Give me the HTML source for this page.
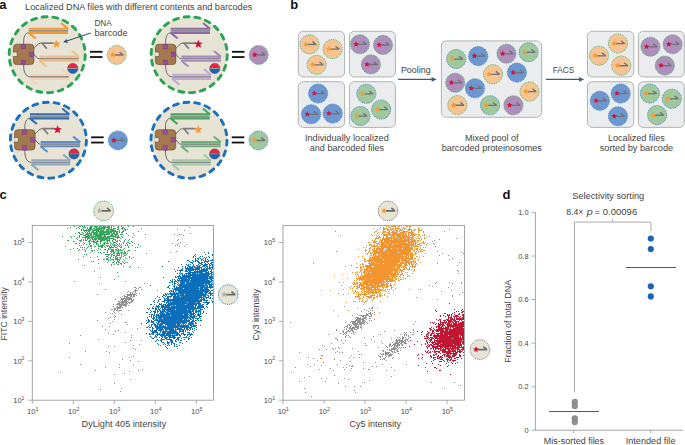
<!DOCTYPE html>
<html><head><meta charset="utf-8"><style>
html,body{margin:0;padding:0;background:#fff;width:685px;height:445px;overflow:hidden}
svg{display:block}
text{font-family:"Liberation Sans", sans-serif}
</style></head><body>
<svg width="685" height="445" viewBox="0 0 685 445">
<rect width="685" height="445" fill="#fff"/>
<g transform="translate(47.2,54.7)">
<circle r="38" fill="#e7e4d6" stroke="#2aa352" stroke-width="2.9" stroke-dasharray="5.0 5.853" stroke-linecap="round"/>
<g fill="none" stroke="#3a3a3a" stroke-width="0.7">
<path d="M-23.5 -10.6 C-24 -18 -22 -21.9 -18.3 -21.9"/>
<path d="M-13.6 -6 C-11 -8 -9.5 -11.4 -6.6 -11.6"/>
<path d="M-13.6 -0.6 C-11 1 -11 4.1 -7.8 4.0"/>
<path d="M-23.5 9.5 C-24 18 -21 22.2 -16.9 22.2"/>
</g>
<line x1="-18.5" y1="-23.90" x2="20.8" y2="-23.90" stroke="#8f8f8f" stroke-width="1.7"/><path d="M-18.5 -25.95H20.8l-7.0 -5.7" fill="none" stroke="#f39a33" stroke-width="2.1" stroke-linejoin="bevel"/><path d="M20.8 -21.85H-18.5l7.0 5.7" fill="none" stroke="#f39a33" stroke-width="2.1" stroke-linejoin="bevel"/>
<line x1="-7.8" y1="4.00" x2="31.7" y2="4.00" stroke="#8f8f8f" stroke-width="1.7"/><path d="M-7.8 1.95H31.7l-7.0 -5.7" fill="none" stroke="#f3bd87" stroke-width="2.1" stroke-linejoin="bevel"/><path d="M31.7 6.05H-7.8l7.0 5.7" fill="none" stroke="#f3bd87" stroke-width="2.1" stroke-linejoin="bevel"/>
<line x1="-16.9" y1="22.15" x2="21.8" y2="22.15" stroke="#8f8f8f" stroke-width="1.7"/><path d="M-16.9 20.10H21.8l-7.0 -5.7" fill="none" stroke="#f6d3b0" stroke-width="2.1" stroke-linejoin="bevel"/><path d="M21.8 24.20H-16.9l7.0 5.7" fill="none" stroke="#f6d3b0" stroke-width="2.1" stroke-linejoin="bevel"/>
<path d="M6.5 -11.5H-6.5M-5.2 -11.7L-0.4 -6" fill="none" stroke="#7d7d7d" stroke-width="1.8"/>
<polygon points="9.20,-15.00 10.39,-12.14 13.48,-11.89 11.13,-9.87 11.85,-6.86 9.20,-8.47 6.55,-6.86 7.27,-9.87 4.92,-11.89 8.01,-12.14" fill="#f39a33"/>
<rect x="-33.8" y="-10.5" width="20.5" height="20.4" rx="3.4" fill="#a27a4e" stroke="#5e4128" stroke-width="0.6"/>
<path d="M-34.2 -2.6 H-30.1 V1.8 H-34.2" fill="#e7e4d6" stroke="#5e4128" stroke-width="0.5"/>
<rect x="-26.1" y="-10.3" width="4.6" height="4.5" fill="#9c4a9e" stroke="#6d2f6d" stroke-width="0.3"/>
<rect x="-18.0" y="-2.6" width="4.6" height="4.5" fill="#9c4a9e" stroke="#6d2f6d" stroke-width="0.3"/>
<rect x="-26.1" y="5.4" width="4.6" height="4.5" fill="#9c4a9e" stroke="#6d2f6d" stroke-width="0.3"/>
<g transform="translate(25.6,13.7)">
<path d="M-5.2 0 A5.2 5.2 0 0 1 5.2 0Z" fill="#e8253a"/>
<path d="M-5.2 0 A5.2 5.2 0 0 0 5.2 0Z" fill="#1c64ad"/>
<line x1="-5" y1="0" x2="5" y2="0" stroke="#f4f4f4" stroke-width="0.35" stroke-opacity="0.8"/>
<circle r="5.2" fill="none" stroke="#444" stroke-width="0.4"/>
</g>
<rect x="42.7" y="-3.8" width="12.6" height="1.8" fill="#111"/>
<rect x="42.7" y="1.45" width="12.6" height="1.8" fill="#111"/>
<g transform="translate(69.5,0.2)">
<circle r="9.5" fill="#f6c493" stroke="#2aa352" stroke-width="0.85" stroke-dasharray="0.95 0.85"/>
<path d="M-2 0.1H6.6l-3.7 -2.9" fill="none" stroke="#727279" stroke-width="1.35" stroke-linejoin="bevel"/>
<polygon points="-4.00,-3.30 -3.09,-1.45 -1.05,-1.16 -2.53,0.28 -2.18,2.31 -4.00,1.35 -5.82,2.31 -5.47,0.28 -6.95,-1.16 -4.91,-1.45" fill="#f39a33"/>
</g>
</g>
<g transform="translate(189.2,54.7)">
<circle r="38" fill="#e7e4d6" stroke="#2aa352" stroke-width="2.9" stroke-dasharray="5.0 5.853" stroke-linecap="round"/>
<g fill="none" stroke="#3a3a3a" stroke-width="0.7">
<path d="M-23.5 -10.6 C-24 -18 -22 -21.9 -18.3 -21.9"/>
<path d="M-13.6 -6 C-11 -8 -9.5 -11.4 -6.6 -11.6"/>
<path d="M-13.6 -0.6 C-11 1 -11 4.1 -7.8 4.0"/>
<path d="M-23.5 9.5 C-24 18 -21 22.2 -16.9 22.2"/>
</g>
<line x1="-18.5" y1="-23.90" x2="20.8" y2="-23.90" stroke="#8f8f8f" stroke-width="1.7"/><path d="M-18.5 -25.95H20.8l-7.0 -5.7" fill="none" stroke="#8e6aa6" stroke-width="2.1" stroke-linejoin="bevel"/><path d="M20.8 -21.85H-18.5l7.0 5.7" fill="none" stroke="#8e6aa6" stroke-width="2.1" stroke-linejoin="bevel"/>
<line x1="-7.8" y1="4.00" x2="31.7" y2="4.00" stroke="#8f8f8f" stroke-width="1.7"/><path d="M-7.8 1.95H31.7l-7.0 -5.7" fill="none" stroke="#a98bbd" stroke-width="2.1" stroke-linejoin="bevel"/><path d="M31.7 6.05H-7.8l7.0 5.7" fill="none" stroke="#a98bbd" stroke-width="2.1" stroke-linejoin="bevel"/>
<line x1="-16.9" y1="22.15" x2="21.8" y2="22.15" stroke="#8f8f8f" stroke-width="1.7"/><path d="M-16.9 20.10H21.8l-7.0 -5.7" fill="none" stroke="#c3aad2" stroke-width="2.1" stroke-linejoin="bevel"/><path d="M21.8 24.20H-16.9l7.0 5.7" fill="none" stroke="#c3aad2" stroke-width="2.1" stroke-linejoin="bevel"/>
<path d="M6.5 -11.5H-6.5M-5.2 -11.7L-0.4 -6" fill="none" stroke="#7d7d7d" stroke-width="1.8"/>
<polygon points="9.20,-15.00 10.39,-12.14 13.48,-11.89 11.13,-9.87 11.85,-6.86 9.20,-8.47 6.55,-6.86 7.27,-9.87 4.92,-11.89 8.01,-12.14" fill="#d2143a"/>
<rect x="-33.8" y="-10.5" width="20.5" height="20.4" rx="3.4" fill="#a27a4e" stroke="#5e4128" stroke-width="0.6"/>
<path d="M-34.2 -2.6 H-30.1 V1.8 H-34.2" fill="#e7e4d6" stroke="#5e4128" stroke-width="0.5"/>
<rect x="-26.1" y="-10.3" width="4.6" height="4.5" fill="#9c4a9e" stroke="#6d2f6d" stroke-width="0.3"/>
<rect x="-18.0" y="-2.6" width="4.6" height="4.5" fill="#9c4a9e" stroke="#6d2f6d" stroke-width="0.3"/>
<rect x="-26.1" y="5.4" width="4.6" height="4.5" fill="#9c4a9e" stroke="#6d2f6d" stroke-width="0.3"/>
<g transform="translate(25.6,13.7)">
<path d="M-5.2 0 A5.2 5.2 0 0 1 5.2 0Z" fill="#e8253a"/>
<path d="M-5.2 0 A5.2 5.2 0 0 0 5.2 0Z" fill="#1c64ad"/>
<line x1="-5" y1="0" x2="5" y2="0" stroke="#f4f4f4" stroke-width="0.35" stroke-opacity="0.8"/>
<circle r="5.2" fill="none" stroke="#444" stroke-width="0.4"/>
</g>
<rect x="42.7" y="-3.8" width="12.6" height="1.8" fill="#111"/>
<rect x="42.7" y="1.45" width="12.6" height="1.8" fill="#111"/>
<g transform="translate(69.5,0.2)">
<circle r="9.5" fill="#ad8fbd" stroke="#2aa352" stroke-width="0.85" stroke-dasharray="0.95 0.85"/>
<path d="M-2 0.1H6.6l-3.7 -2.9" fill="none" stroke="#727279" stroke-width="1.35" stroke-linejoin="bevel"/>
<polygon points="-4.00,-3.30 -3.09,-1.45 -1.05,-1.16 -2.53,0.28 -2.18,2.31 -4.00,1.35 -5.82,2.31 -5.47,0.28 -6.95,-1.16 -4.91,-1.45" fill="#d2143a"/>
</g>
</g>
<g transform="translate(48.4,140.2)">
<circle r="38" fill="#e7e4d6" stroke="#1a6fbf" stroke-width="2.9" stroke-dasharray="5.0 5.853" stroke-linecap="round"/>
<g fill="none" stroke="#3a3a3a" stroke-width="0.7">
<path d="M-23.5 -10.6 C-24 -18 -22 -21.9 -18.3 -21.9"/>
<path d="M-13.6 -6 C-11 -8 -9.5 -11.4 -6.6 -11.6"/>
<path d="M-13.6 -0.6 C-11 1 -11 4.1 -7.8 4.0"/>
<path d="M-23.5 9.5 C-24 18 -21 22.2 -16.9 22.2"/>
</g>
<line x1="-18.5" y1="-23.90" x2="20.8" y2="-23.90" stroke="#8f8f8f" stroke-width="1.7"/><path d="M-18.5 -25.95H20.8l-7.0 -5.7" fill="none" stroke="#2f6eb4" stroke-width="2.1" stroke-linejoin="bevel"/><path d="M20.8 -21.85H-18.5l7.0 5.7" fill="none" stroke="#2f6eb4" stroke-width="2.1" stroke-linejoin="bevel"/>
<line x1="-7.8" y1="4.00" x2="31.7" y2="4.00" stroke="#8f8f8f" stroke-width="1.7"/><path d="M-7.8 1.95H31.7l-7.0 -5.7" fill="none" stroke="#5d8dc6" stroke-width="2.1" stroke-linejoin="bevel"/><path d="M31.7 6.05H-7.8l7.0 5.7" fill="none" stroke="#5d8dc6" stroke-width="2.1" stroke-linejoin="bevel"/>
<line x1="-16.9" y1="22.15" x2="21.8" y2="22.15" stroke="#8f8f8f" stroke-width="1.7"/><path d="M-16.9 20.10H21.8l-7.0 -5.7" fill="none" stroke="#8ea8c5" stroke-width="2.1" stroke-linejoin="bevel"/><path d="M21.8 24.20H-16.9l7.0 5.7" fill="none" stroke="#8ea8c5" stroke-width="2.1" stroke-linejoin="bevel"/>
<path d="M6.5 -11.5H-6.5M-5.2 -11.7L-0.4 -6" fill="none" stroke="#7d7d7d" stroke-width="1.8"/>
<polygon points="9.20,-15.00 10.39,-12.14 13.48,-11.89 11.13,-9.87 11.85,-6.86 9.20,-8.47 6.55,-6.86 7.27,-9.87 4.92,-11.89 8.01,-12.14" fill="#d2143a"/>
<rect x="-33.8" y="-10.5" width="20.5" height="20.4" rx="3.4" fill="#a27a4e" stroke="#5e4128" stroke-width="0.6"/>
<path d="M-34.2 -2.6 H-30.1 V1.8 H-34.2" fill="#e7e4d6" stroke="#5e4128" stroke-width="0.5"/>
<rect x="-26.1" y="-10.3" width="4.6" height="4.5" fill="#9c4a9e" stroke="#6d2f6d" stroke-width="0.3"/>
<rect x="-18.0" y="-2.6" width="4.6" height="4.5" fill="#9c4a9e" stroke="#6d2f6d" stroke-width="0.3"/>
<rect x="-26.1" y="5.4" width="4.6" height="4.5" fill="#9c4a9e" stroke="#6d2f6d" stroke-width="0.3"/>
<g transform="translate(25.6,13.7)">
<path d="M-5.2 0 A5.2 5.2 0 0 1 5.2 0Z" fill="#e8253a"/>
<path d="M-5.2 0 A5.2 5.2 0 0 0 5.2 0Z" fill="#1c64ad"/>
<line x1="-5" y1="0" x2="5" y2="0" stroke="#f4f4f4" stroke-width="0.35" stroke-opacity="0.8"/>
<circle r="5.2" fill="none" stroke="#444" stroke-width="0.4"/>
</g>
<rect x="42.7" y="-3.8" width="12.6" height="1.8" fill="#111"/>
<rect x="42.7" y="1.45" width="12.6" height="1.8" fill="#111"/>
<g transform="translate(69.5,0.2)">
<circle r="9.5" fill="#6d97d0" stroke="#1a6fbf" stroke-width="0.85" stroke-dasharray="0.95 0.85"/>
<path d="M-2 0.1H6.6l-3.7 -2.9" fill="none" stroke="#727279" stroke-width="1.35" stroke-linejoin="bevel"/>
<polygon points="-4.00,-3.30 -3.09,-1.45 -1.05,-1.16 -2.53,0.28 -2.18,2.31 -4.00,1.35 -5.82,2.31 -5.47,0.28 -6.95,-1.16 -4.91,-1.45" fill="#d2143a"/>
</g>
</g>
<g transform="translate(189.0,140.2)">
<circle r="38" fill="#e7e4d6" stroke="#1a6fbf" stroke-width="2.9" stroke-dasharray="5.0 5.853" stroke-linecap="round"/>
<g fill="none" stroke="#3a3a3a" stroke-width="0.7">
<path d="M-23.5 -10.6 C-24 -18 -22 -21.9 -18.3 -21.9"/>
<path d="M-13.6 -6 C-11 -8 -9.5 -11.4 -6.6 -11.6"/>
<path d="M-13.6 -0.6 C-11 1 -11 4.1 -7.8 4.0"/>
<path d="M-23.5 9.5 C-24 18 -21 22.2 -16.9 22.2"/>
</g>
<line x1="-18.5" y1="-23.90" x2="20.8" y2="-23.90" stroke="#8f8f8f" stroke-width="1.7"/><path d="M-18.5 -25.95H20.8l-7.0 -5.7" fill="none" stroke="#44a85c" stroke-width="2.1" stroke-linejoin="bevel"/><path d="M20.8 -21.85H-18.5l7.0 5.7" fill="none" stroke="#44a85c" stroke-width="2.1" stroke-linejoin="bevel"/>
<line x1="-7.8" y1="4.00" x2="31.7" y2="4.00" stroke="#8f8f8f" stroke-width="1.7"/><path d="M-7.8 1.95H31.7l-7.0 -5.7" fill="none" stroke="#6bb57a" stroke-width="2.1" stroke-linejoin="bevel"/><path d="M31.7 6.05H-7.8l7.0 5.7" fill="none" stroke="#6bb57a" stroke-width="2.1" stroke-linejoin="bevel"/>
<line x1="-16.9" y1="22.15" x2="21.8" y2="22.15" stroke="#8f8f8f" stroke-width="1.7"/><path d="M-16.9 20.10H21.8l-7.0 -5.7" fill="none" stroke="#a4c8a8" stroke-width="2.1" stroke-linejoin="bevel"/><path d="M21.8 24.20H-16.9l7.0 5.7" fill="none" stroke="#a4c8a8" stroke-width="2.1" stroke-linejoin="bevel"/>
<path d="M6.5 -11.5H-6.5M-5.2 -11.7L-0.4 -6" fill="none" stroke="#7d7d7d" stroke-width="1.8"/>
<polygon points="9.20,-15.00 10.39,-12.14 13.48,-11.89 11.13,-9.87 11.85,-6.86 9.20,-8.47 6.55,-6.86 7.27,-9.87 4.92,-11.89 8.01,-12.14" fill="#f39a33"/>
<rect x="-33.8" y="-10.5" width="20.5" height="20.4" rx="3.4" fill="#a27a4e" stroke="#5e4128" stroke-width="0.6"/>
<path d="M-34.2 -2.6 H-30.1 V1.8 H-34.2" fill="#e7e4d6" stroke="#5e4128" stroke-width="0.5"/>
<rect x="-26.1" y="-10.3" width="4.6" height="4.5" fill="#9c4a9e" stroke="#6d2f6d" stroke-width="0.3"/>
<rect x="-18.0" y="-2.6" width="4.6" height="4.5" fill="#9c4a9e" stroke="#6d2f6d" stroke-width="0.3"/>
<rect x="-26.1" y="5.4" width="4.6" height="4.5" fill="#9c4a9e" stroke="#6d2f6d" stroke-width="0.3"/>
<g transform="translate(25.6,13.7)">
<path d="M-5.2 0 A5.2 5.2 0 0 1 5.2 0Z" fill="#e8253a"/>
<path d="M-5.2 0 A5.2 5.2 0 0 0 5.2 0Z" fill="#1c64ad"/>
<line x1="-5" y1="0" x2="5" y2="0" stroke="#f4f4f4" stroke-width="0.35" stroke-opacity="0.8"/>
<circle r="5.2" fill="none" stroke="#444" stroke-width="0.4"/>
</g>
<rect x="42.7" y="-3.8" width="12.6" height="1.8" fill="#111"/>
<rect x="42.7" y="1.45" width="12.6" height="1.8" fill="#111"/>
<g transform="translate(69.5,0.2)">
<circle r="9.5" fill="#9fc99c" stroke="#1a6fbf" stroke-width="0.85" stroke-dasharray="0.95 0.85"/>
<path d="M-2 0.1H6.6l-3.7 -2.9" fill="none" stroke="#727279" stroke-width="1.35" stroke-linejoin="bevel"/>
<polygon points="-4.00,-3.30 -3.09,-1.45 -1.05,-1.16 -2.53,0.28 -2.18,2.31 -4.00,1.35 -5.82,2.31 -5.47,0.28 -6.95,-1.16 -4.91,-1.45" fill="#f39a33"/>
</g>
</g>
<path d="M90.7 33.1 L66 41.3" stroke="#3b5473" stroke-width="1.05" fill="none"/>
<path d="M63.1 42.3 L66.4 39.0 L67.8 42.9Z" fill="#3b5473"/>
<text x="94.4" y="26.4" font-size="8.4" fill="#444444" textLength="17.4" lengthAdjust="spacingAndGlyphs">DNA</text>
<text x="94.4" y="35.7" font-size="8.4" fill="#444444" textLength="33.1" lengthAdjust="spacingAndGlyphs">barcode</text>
<rect x="298.3" y="31.3" width="46.3" height="45.7" rx="5" fill="#ebeced" stroke="#a8aaac" stroke-width="0.9"/>
<g transform="translate(309.6,44.4)"><circle r="9.55" fill="#f6c493" stroke="#2aa352" stroke-width="0.8" stroke-dasharray="0.95 0.85"/><path d="M-2 0.1H6.6l-3.7 -2.9" fill="none" stroke="#727279" stroke-width="1.35" stroke-linejoin="bevel"/><polygon points="-3.80,-3.00 -2.95,-1.27 -1.04,-1.00 -2.42,0.35 -2.10,2.25 -3.80,1.35 -5.50,2.25 -5.18,0.35 -6.56,-1.00 -4.65,-1.27" fill="#f39a33"/></g>
<g transform="translate(332.6,49.0)"><circle r="9.55" fill="#f6c493" stroke="#2aa352" stroke-width="0.8" stroke-dasharray="0.95 0.85"/><path d="M-2 0.1H6.6l-3.7 -2.9" fill="none" stroke="#727279" stroke-width="1.35" stroke-linejoin="bevel"/><polygon points="-3.80,-3.00 -2.95,-1.27 -1.04,-1.00 -2.42,0.35 -2.10,2.25 -3.80,1.35 -5.50,2.25 -5.18,0.35 -6.56,-1.00 -4.65,-1.27" fill="#f39a33"/></g>
<g transform="translate(316.6,64.8)"><circle r="9.55" fill="#f6c493" stroke="#2aa352" stroke-width="0.8" stroke-dasharray="0.95 0.85"/><path d="M-2 0.1H6.6l-3.7 -2.9" fill="none" stroke="#727279" stroke-width="1.35" stroke-linejoin="bevel"/><polygon points="-3.80,-3.00 -2.95,-1.27 -1.04,-1.00 -2.42,0.35 -2.10,2.25 -3.80,1.35 -5.50,2.25 -5.18,0.35 -6.56,-1.00 -4.65,-1.27" fill="#f39a33"/></g>
<rect x="349.4" y="31.3" width="46.0" height="45.7" rx="5" fill="#ebeced" stroke="#a8aaac" stroke-width="0.9"/>
<g transform="translate(359.9,44.3)"><circle r="9.55" fill="#ad8fbd" stroke="#2aa352" stroke-width="0.8" stroke-dasharray="0.95 0.85"/><path d="M-2 0.1H6.6l-3.7 -2.9" fill="none" stroke="#727279" stroke-width="1.35" stroke-linejoin="bevel"/><polygon points="-3.80,-3.00 -2.95,-1.27 -1.04,-1.00 -2.42,0.35 -2.10,2.25 -3.80,1.35 -5.50,2.25 -5.18,0.35 -6.56,-1.00 -4.65,-1.27" fill="#d2143a"/></g>
<g transform="translate(383.0,44.9)"><circle r="9.55" fill="#ad8fbd" stroke="#2aa352" stroke-width="0.8" stroke-dasharray="0.95 0.85"/><path d="M-2 0.1H6.6l-3.7 -2.9" fill="none" stroke="#727279" stroke-width="1.35" stroke-linejoin="bevel"/><polygon points="-3.80,-3.00 -2.95,-1.27 -1.04,-1.00 -2.42,0.35 -2.10,2.25 -3.80,1.35 -5.50,2.25 -5.18,0.35 -6.56,-1.00 -4.65,-1.27" fill="#d2143a"/></g>
<g transform="translate(370.9,64.4)"><circle r="9.55" fill="#ad8fbd" stroke="#2aa352" stroke-width="0.8" stroke-dasharray="0.95 0.85"/><path d="M-2 0.1H6.6l-3.7 -2.9" fill="none" stroke="#727279" stroke-width="1.35" stroke-linejoin="bevel"/><polygon points="-3.80,-3.00 -2.95,-1.27 -1.04,-1.00 -2.42,0.35 -2.10,2.25 -3.80,1.35 -5.50,2.25 -5.18,0.35 -6.56,-1.00 -4.65,-1.27" fill="#d2143a"/></g>
<rect x="298.3" y="81.7" width="46.3" height="45.7" rx="5" fill="#ebeced" stroke="#a8aaac" stroke-width="0.9"/>
<g transform="translate(318.1,93.5)"><circle r="9.55" fill="#6d97d0" stroke="#1a6fbf" stroke-width="0.8" stroke-dasharray="0.95 0.85"/><path d="M-2 0.1H6.6l-3.7 -2.9" fill="none" stroke="#727279" stroke-width="1.35" stroke-linejoin="bevel"/><polygon points="-3.80,-3.00 -2.95,-1.27 -1.04,-1.00 -2.42,0.35 -2.10,2.25 -3.80,1.35 -5.50,2.25 -5.18,0.35 -6.56,-1.00 -4.65,-1.27" fill="#d2143a"/></g>
<g transform="translate(311.1,114.2)"><circle r="9.55" fill="#6d97d0" stroke="#1a6fbf" stroke-width="0.8" stroke-dasharray="0.95 0.85"/><path d="M-2 0.1H6.6l-3.7 -2.9" fill="none" stroke="#727279" stroke-width="1.35" stroke-linejoin="bevel"/><polygon points="-3.80,-3.00 -2.95,-1.27 -1.04,-1.00 -2.42,0.35 -2.10,2.25 -3.80,1.35 -5.50,2.25 -5.18,0.35 -6.56,-1.00 -4.65,-1.27" fill="#d2143a"/></g>
<g transform="translate(332.7,113.6)"><circle r="9.55" fill="#6d97d0" stroke="#1a6fbf" stroke-width="0.8" stroke-dasharray="0.95 0.85"/><path d="M-2 0.1H6.6l-3.7 -2.9" fill="none" stroke="#727279" stroke-width="1.35" stroke-linejoin="bevel"/><polygon points="-3.80,-3.00 -2.95,-1.27 -1.04,-1.00 -2.42,0.35 -2.10,2.25 -3.80,1.35 -5.50,2.25 -5.18,0.35 -6.56,-1.00 -4.65,-1.27" fill="#d2143a"/></g>
<rect x="349.4" y="81.7" width="46.0" height="45.7" rx="5" fill="#ebeced" stroke="#a8aaac" stroke-width="0.9"/>
<g transform="translate(366.3,93.8)"><circle r="9.55" fill="#9fc99c" stroke="#1a6fbf" stroke-width="0.8" stroke-dasharray="0.95 0.85"/><path d="M-2 0.1H6.6l-3.7 -2.9" fill="none" stroke="#727279" stroke-width="1.35" stroke-linejoin="bevel"/><polygon points="-3.80,-3.00 -2.95,-1.27 -1.04,-1.00 -2.42,0.35 -2.10,2.25 -3.80,1.35 -5.50,2.25 -5.18,0.35 -6.56,-1.00 -4.65,-1.27" fill="#f39a33"/></g>
<g transform="translate(381.2,109.5)"><circle r="9.55" fill="#9fc99c" stroke="#1a6fbf" stroke-width="0.8" stroke-dasharray="0.95 0.85"/><path d="M-2 0.1H6.6l-3.7 -2.9" fill="none" stroke="#727279" stroke-width="1.35" stroke-linejoin="bevel"/><polygon points="-3.80,-3.00 -2.95,-1.27 -1.04,-1.00 -2.42,0.35 -2.10,2.25 -3.80,1.35 -5.50,2.25 -5.18,0.35 -6.56,-1.00 -4.65,-1.27" fill="#f39a33"/></g>
<g transform="translate(360.4,116.0)"><circle r="9.55" fill="#9fc99c" stroke="#1a6fbf" stroke-width="0.8" stroke-dasharray="0.95 0.85"/><path d="M-2 0.1H6.6l-3.7 -2.9" fill="none" stroke="#727279" stroke-width="1.35" stroke-linejoin="bevel"/><polygon points="-3.80,-3.00 -2.95,-1.27 -1.04,-1.00 -2.42,0.35 -2.10,2.25 -3.80,1.35 -5.50,2.25 -5.18,0.35 -6.56,-1.00 -4.65,-1.27" fill="#f39a33"/></g>
<rect x="441.4" y="40.9" width="100.3" height="76.4" rx="5" fill="#ebeced" stroke="#a8aaac" stroke-width="0.9"/>
<g transform="translate(456.2,59.0)"><circle r="9.55" fill="#9fc99c" stroke="#1a6fbf" stroke-width="0.8" stroke-dasharray="0.95 0.85"/><path d="M-2 0.1H6.6l-3.7 -2.9" fill="none" stroke="#727279" stroke-width="1.35" stroke-linejoin="bevel"/><polygon points="-3.80,-3.00 -2.95,-1.27 -1.04,-1.00 -2.42,0.35 -2.10,2.25 -3.80,1.35 -5.50,2.25 -5.18,0.35 -6.56,-1.00 -4.65,-1.27" fill="#f39a33"/></g>
<g transform="translate(478.2,56.1)"><circle r="9.55" fill="#6d97d0" stroke="#1a6fbf" stroke-width="0.8" stroke-dasharray="0.95 0.85"/><path d="M-2 0.1H6.6l-3.7 -2.9" fill="none" stroke="#727279" stroke-width="1.35" stroke-linejoin="bevel"/><polygon points="-3.80,-3.00 -2.95,-1.27 -1.04,-1.00 -2.42,0.35 -2.10,2.25 -3.80,1.35 -5.50,2.25 -5.18,0.35 -6.56,-1.00 -4.65,-1.27" fill="#d2143a"/></g>
<g transform="translate(506.5,53.7)"><circle r="9.55" fill="#ad8fbd" stroke="#2aa352" stroke-width="0.8" stroke-dasharray="0.95 0.85"/><path d="M-2 0.1H6.6l-3.7 -2.9" fill="none" stroke="#727279" stroke-width="1.35" stroke-linejoin="bevel"/><polygon points="-3.80,-3.00 -2.95,-1.27 -1.04,-1.00 -2.42,0.35 -2.10,2.25 -3.80,1.35 -5.50,2.25 -5.18,0.35 -6.56,-1.00 -4.65,-1.27" fill="#d2143a"/></g>
<g transform="translate(528.5,52.2)"><circle r="9.55" fill="#9fc99c" stroke="#1a6fbf" stroke-width="0.8" stroke-dasharray="0.95 0.85"/><path d="M-2 0.1H6.6l-3.7 -2.9" fill="none" stroke="#727279" stroke-width="1.35" stroke-linejoin="bevel"/><polygon points="-3.80,-3.00 -2.95,-1.27 -1.04,-1.00 -2.42,0.35 -2.10,2.25 -3.80,1.35 -5.50,2.25 -5.18,0.35 -6.56,-1.00 -4.65,-1.27" fill="#f39a33"/></g>
<g transform="translate(493.0,74.2)"><circle r="9.55" fill="#f6c493" stroke="#2aa352" stroke-width="0.8" stroke-dasharray="0.95 0.85"/><path d="M-2 0.1H6.6l-3.7 -2.9" fill="none" stroke="#727279" stroke-width="1.35" stroke-linejoin="bevel"/><polygon points="-3.80,-3.00 -2.95,-1.27 -1.04,-1.00 -2.42,0.35 -2.10,2.25 -3.80,1.35 -5.50,2.25 -5.18,0.35 -6.56,-1.00 -4.65,-1.27" fill="#f39a33"/></g>
<g transform="translate(516.9,72.6)"><circle r="9.55" fill="#6d97d0" stroke="#1a6fbf" stroke-width="0.8" stroke-dasharray="0.95 0.85"/><path d="M-2 0.1H6.6l-3.7 -2.9" fill="none" stroke="#727279" stroke-width="1.35" stroke-linejoin="bevel"/><polygon points="-3.80,-3.00 -2.95,-1.27 -1.04,-1.00 -2.42,0.35 -2.10,2.25 -3.80,1.35 -5.50,2.25 -5.18,0.35 -6.56,-1.00 -4.65,-1.27" fill="#d2143a"/></g>
<g transform="translate(455.2,82.7)"><circle r="9.55" fill="#ad8fbd" stroke="#2aa352" stroke-width="0.8" stroke-dasharray="0.95 0.85"/><path d="M-2 0.1H6.6l-3.7 -2.9" fill="none" stroke="#727279" stroke-width="1.35" stroke-linejoin="bevel"/><polygon points="-3.80,-3.00 -2.95,-1.27 -1.04,-1.00 -2.42,0.35 -2.10,2.25 -3.80,1.35 -5.50,2.25 -5.18,0.35 -6.56,-1.00 -4.65,-1.27" fill="#d2143a"/></g>
<g transform="translate(475.0,88.3)"><circle r="9.55" fill="#6d97d0" stroke="#1a6fbf" stroke-width="0.8" stroke-dasharray="0.95 0.85"/><path d="M-2 0.1H6.6l-3.7 -2.9" fill="none" stroke="#727279" stroke-width="1.35" stroke-linejoin="bevel"/><polygon points="-3.80,-3.00 -2.95,-1.27 -1.04,-1.00 -2.42,0.35 -2.10,2.25 -3.80,1.35 -5.50,2.25 -5.18,0.35 -6.56,-1.00 -4.65,-1.27" fill="#d2143a"/></g>
<g transform="translate(529.5,91.5)"><circle r="9.55" fill="#f6c493" stroke="#2aa352" stroke-width="0.8" stroke-dasharray="0.95 0.85"/><path d="M-2 0.1H6.6l-3.7 -2.9" fill="none" stroke="#727279" stroke-width="1.35" stroke-linejoin="bevel"/><polygon points="-3.80,-3.00 -2.95,-1.27 -1.04,-1.00 -2.42,0.35 -2.10,2.25 -3.80,1.35 -5.50,2.25 -5.18,0.35 -6.56,-1.00 -4.65,-1.27" fill="#f39a33"/></g>
<g transform="translate(457.3,105.1)"><circle r="9.55" fill="#f6c493" stroke="#2aa352" stroke-width="0.8" stroke-dasharray="0.95 0.85"/><path d="M-2 0.1H6.6l-3.7 -2.9" fill="none" stroke="#727279" stroke-width="1.35" stroke-linejoin="bevel"/><polygon points="-3.80,-3.00 -2.95,-1.27 -1.04,-1.00 -2.42,0.35 -2.10,2.25 -3.80,1.35 -5.50,2.25 -5.18,0.35 -6.56,-1.00 -4.65,-1.27" fill="#f39a33"/></g>
<g transform="translate(490.0,105.3)"><circle r="9.55" fill="#9fc99c" stroke="#1a6fbf" stroke-width="0.8" stroke-dasharray="0.95 0.85"/><path d="M-2 0.1H6.6l-3.7 -2.9" fill="none" stroke="#727279" stroke-width="1.35" stroke-linejoin="bevel"/><polygon points="-3.80,-3.00 -2.95,-1.27 -1.04,-1.00 -2.42,0.35 -2.10,2.25 -3.80,1.35 -5.50,2.25 -5.18,0.35 -6.56,-1.00 -4.65,-1.27" fill="#f39a33"/></g>
<g transform="translate(513.4,105.3)"><circle r="9.55" fill="#ad8fbd" stroke="#2aa352" stroke-width="0.8" stroke-dasharray="0.95 0.85"/><path d="M-2 0.1H6.6l-3.7 -2.9" fill="none" stroke="#727279" stroke-width="1.35" stroke-linejoin="bevel"/><polygon points="-3.80,-3.00 -2.95,-1.27 -1.04,-1.00 -2.42,0.35 -2.10,2.25 -3.80,1.35 -5.50,2.25 -5.18,0.35 -6.56,-1.00 -4.65,-1.27" fill="#d2143a"/></g>
<rect x="587.4" y="31.3" width="46.4" height="45.7" rx="5" fill="#ebeced" stroke="#a8aaac" stroke-width="0.9"/>
<g transform="translate(618.0,43.5)"><circle r="9.55" fill="#f6c493" stroke="#2aa352" stroke-width="0.8" stroke-dasharray="0.95 0.85"/><path d="M-2 0.1H6.6l-3.7 -2.9" fill="none" stroke="#727279" stroke-width="1.35" stroke-linejoin="bevel"/><polygon points="-3.80,-3.00 -2.95,-1.27 -1.04,-1.00 -2.42,0.35 -2.10,2.25 -3.80,1.35 -5.50,2.25 -5.18,0.35 -6.56,-1.00 -4.65,-1.27" fill="#f39a33"/></g>
<g transform="translate(599.0,55.7)"><circle r="9.55" fill="#f6c493" stroke="#2aa352" stroke-width="0.8" stroke-dasharray="0.95 0.85"/><path d="M-2 0.1H6.6l-3.7 -2.9" fill="none" stroke="#727279" stroke-width="1.35" stroke-linejoin="bevel"/><polygon points="-3.80,-3.00 -2.95,-1.27 -1.04,-1.00 -2.42,0.35 -2.10,2.25 -3.80,1.35 -5.50,2.25 -5.18,0.35 -6.56,-1.00 -4.65,-1.27" fill="#f39a33"/></g>
<g transform="translate(621.2,65.6)"><circle r="9.55" fill="#f6c493" stroke="#2aa352" stroke-width="0.8" stroke-dasharray="0.95 0.85"/><path d="M-2 0.1H6.6l-3.7 -2.9" fill="none" stroke="#727279" stroke-width="1.35" stroke-linejoin="bevel"/><polygon points="-3.80,-3.00 -2.95,-1.27 -1.04,-1.00 -2.42,0.35 -2.10,2.25 -3.80,1.35 -5.50,2.25 -5.18,0.35 -6.56,-1.00 -4.65,-1.27" fill="#f39a33"/></g>
<rect x="638.4" y="31.3" width="45.9" height="45.7" rx="5" fill="#ebeced" stroke="#a8aaac" stroke-width="0.9"/>
<g transform="translate(650.4,46.7)"><circle r="9.55" fill="#ad8fbd" stroke="#2aa352" stroke-width="0.8" stroke-dasharray="0.95 0.85"/><path d="M-2 0.1H6.6l-3.7 -2.9" fill="none" stroke="#727279" stroke-width="1.35" stroke-linejoin="bevel"/><polygon points="-3.80,-3.00 -2.95,-1.27 -1.04,-1.00 -2.42,0.35 -2.10,2.25 -3.80,1.35 -5.50,2.25 -5.18,0.35 -6.56,-1.00 -4.65,-1.27" fill="#d2143a"/></g>
<g transform="translate(672.6,44.3)"><circle r="9.55" fill="#ad8fbd" stroke="#2aa352" stroke-width="0.8" stroke-dasharray="0.95 0.85"/><path d="M-2 0.1H6.6l-3.7 -2.9" fill="none" stroke="#727279" stroke-width="1.35" stroke-linejoin="bevel"/><polygon points="-3.80,-3.00 -2.95,-1.27 -1.04,-1.00 -2.42,0.35 -2.10,2.25 -3.80,1.35 -5.50,2.25 -5.18,0.35 -6.56,-1.00 -4.65,-1.27" fill="#d2143a"/></g>
<g transform="translate(664.8,65.6)"><circle r="9.55" fill="#ad8fbd" stroke="#2aa352" stroke-width="0.8" stroke-dasharray="0.95 0.85"/><path d="M-2 0.1H6.6l-3.7 -2.9" fill="none" stroke="#727279" stroke-width="1.35" stroke-linejoin="bevel"/><polygon points="-3.80,-3.00 -2.95,-1.27 -1.04,-1.00 -2.42,0.35 -2.10,2.25 -3.80,1.35 -5.50,2.25 -5.18,0.35 -6.56,-1.00 -4.65,-1.27" fill="#d2143a"/></g>
<rect x="587.4" y="81.7" width="46.4" height="45.7" rx="5" fill="#ebeced" stroke="#a8aaac" stroke-width="0.9"/>
<g transform="translate(620.7,93.5)"><circle r="9.55" fill="#6d97d0" stroke="#1a6fbf" stroke-width="0.8" stroke-dasharray="0.95 0.85"/><path d="M-2 0.1H6.6l-3.7 -2.9" fill="none" stroke="#727279" stroke-width="1.35" stroke-linejoin="bevel"/><polygon points="-3.80,-3.00 -2.95,-1.27 -1.04,-1.00 -2.42,0.35 -2.10,2.25 -3.80,1.35 -5.50,2.25 -5.18,0.35 -6.56,-1.00 -4.65,-1.27" fill="#d2143a"/></g>
<g transform="translate(599.9,100.8)"><circle r="9.55" fill="#6d97d0" stroke="#1a6fbf" stroke-width="0.8" stroke-dasharray="0.95 0.85"/><path d="M-2 0.1H6.6l-3.7 -2.9" fill="none" stroke="#727279" stroke-width="1.35" stroke-linejoin="bevel"/><polygon points="-3.80,-3.00 -2.95,-1.27 -1.04,-1.00 -2.42,0.35 -2.10,2.25 -3.80,1.35 -5.50,2.25 -5.18,0.35 -6.56,-1.00 -4.65,-1.27" fill="#d2143a"/></g>
<g transform="translate(618.0,116.3)"><circle r="9.55" fill="#6d97d0" stroke="#1a6fbf" stroke-width="0.8" stroke-dasharray="0.95 0.85"/><path d="M-2 0.1H6.6l-3.7 -2.9" fill="none" stroke="#727279" stroke-width="1.35" stroke-linejoin="bevel"/><polygon points="-3.80,-3.00 -2.95,-1.27 -1.04,-1.00 -2.42,0.35 -2.10,2.25 -3.80,1.35 -5.50,2.25 -5.18,0.35 -6.56,-1.00 -4.65,-1.27" fill="#d2143a"/></g>
<rect x="638.4" y="81.7" width="45.9" height="45.7" rx="5" fill="#ebeced" stroke="#a8aaac" stroke-width="0.9"/>
<g transform="translate(649.9,93.5)"><circle r="9.55" fill="#9fc99c" stroke="#1a6fbf" stroke-width="0.8" stroke-dasharray="0.95 0.85"/><path d="M-2 0.1H6.6l-3.7 -2.9" fill="none" stroke="#727279" stroke-width="1.35" stroke-linejoin="bevel"/><polygon points="-3.80,-3.00 -2.95,-1.27 -1.04,-1.00 -2.42,0.35 -2.10,2.25 -3.80,1.35 -5.50,2.25 -5.18,0.35 -6.56,-1.00 -4.65,-1.27" fill="#f39a33"/></g>
<g transform="translate(671.8,98.8)"><circle r="9.55" fill="#9fc99c" stroke="#1a6fbf" stroke-width="0.8" stroke-dasharray="0.95 0.85"/><path d="M-2 0.1H6.6l-3.7 -2.9" fill="none" stroke="#727279" stroke-width="1.35" stroke-linejoin="bevel"/><polygon points="-3.80,-3.00 -2.95,-1.27 -1.04,-1.00 -2.42,0.35 -2.10,2.25 -3.80,1.35 -5.50,2.25 -5.18,0.35 -6.56,-1.00 -4.65,-1.27" fill="#f39a33"/></g>
<g transform="translate(657.1,115.1)"><circle r="9.55" fill="#9fc99c" stroke="#1a6fbf" stroke-width="0.8" stroke-dasharray="0.95 0.85"/><path d="M-2 0.1H6.6l-3.7 -2.9" fill="none" stroke="#727279" stroke-width="1.35" stroke-linejoin="bevel"/><polygon points="-3.80,-3.00 -2.95,-1.27 -1.04,-1.00 -2.42,0.35 -2.10,2.25 -3.80,1.35 -5.50,2.25 -5.18,0.35 -6.56,-1.00 -4.65,-1.27" fill="#f39a33"/></g>
<line x1="398.1" y1="79.4" x2="433" y2="79.4" stroke="#3d5a7a" stroke-width="1.1"/>
<path d="M436.7 79.4 L431.6 77.1 L431.6 81.7Z" fill="#3d5a7a"/>
<text x="400.9" y="72.9" font-size="8.5" fill="#444444" textLength="29.9" lengthAdjust="spacingAndGlyphs">Pooling</text>
<line x1="545.9" y1="79.4" x2="580.5" y2="79.4" stroke="#3d5a7a" stroke-width="1.1"/>
<path d="M584.2 79.4 L579.1 77.1 L579.1 81.7Z" fill="#3d5a7a"/>
<text x="552.7" y="72.9" font-size="8.5" fill="#444444" textLength="21.7" lengthAdjust="spacingAndGlyphs">FACS</text>
<text x="304.9" y="140.8" font-size="8.4" fill="#444444" textLength="83.9" lengthAdjust="spacingAndGlyphs">Individually localized</text>
<text x="309.7" y="150.6" font-size="8.4" fill="#444444" textLength="74.5" lengthAdjust="spacingAndGlyphs">and barcoded files</text>
<text x="464.9" y="140.9" font-size="8.4" fill="#444444" textLength="53.5" lengthAdjust="spacingAndGlyphs">Mixed pool of</text>
<text x="441.7" y="150.6" font-size="8.4" fill="#444444" textLength="100.2" lengthAdjust="spacingAndGlyphs">barcoded proteinosomes</text>
<text x="608.0" y="140.8" font-size="8.4" fill="#444444" textLength="56.9" lengthAdjust="spacingAndGlyphs">Localized files</text>
<text x="599.7" y="150.6" font-size="8.4" fill="#444444" textLength="73.5" lengthAdjust="spacingAndGlyphs">sorted by barcode</text>
<text x="-0.8" y="9.2" font-size="13" font-weight="bold" fill="#111">a</text>
<text x="290.2" y="9.1" font-size="13" font-weight="bold" fill="#111">b</text>
<text x="-0.5" y="199.3" font-size="13" font-weight="bold" fill="#111">c</text>
<text x="502.5" y="198.9" font-size="13" font-weight="bold" fill="#111">d</text>
<text x="25.1" y="9.5" font-size="8.5" fill="#444444" textLength="227.2" lengthAdjust="spacingAndGlyphs">Localized DNA files with different contents and barcodes</text>
<path d="M101 234.5h1M98 230.5h1M92 226.5h1M91 228.5h1M115 237.5h1M96 226.5h1M94 234.5h1M102 244.5h1M91 238.5h1M101 227.5h1M108 226.5h1M87 227.5h1M96 232.5h1M81 229.5h1M87 227.5h1M82 232.5h1M88 246.5h1M104 227.5h1M103 238.5h1M75 233.5h1M95 237.5h1M100 229.5h1M102 237.5h1M85 237.5h1M96 242.5h1M91 232.5h1M93 228.5h1M93 232.5h1M110 231.5h1M95 232.5h1M100 228.5h1M102 234.5h1M88 233.5h1M102 233.5h1M115 231.5h1M85 237.5h1M102 234.5h1M94 228.5h1M122 237.5h1M109 229.5h1M88 229.5h1M102 234.5h1M99 229.5h1M108 236.5h1M116 234.5h1M94 229.5h1M103 231.5h1M96 231.5h1M102 233.5h1M89 243.5h1M95 233.5h1M99 246.5h1M110 229.5h1M113 236.5h1M87 236.5h1M93 233.5h1M108 230.5h1M80 241.5h1M96 243.5h1M100 238.5h1M114 245.5h1M108 238.5h1M97 238.5h1M98 227.5h1M117 240.5h1M97 230.5h1M98 234.5h1M105 232.5h1M100 228.5h1M89 230.5h1M101 231.5h1M96 238.5h1M113 228.5h1M108 233.5h1M101 226.5h1M108 232.5h1M112 244.5h1M101 233.5h1M107 226.5h1M87 234.5h1M105 237.5h1M83 233.5h1M80 240.5h1M98 231.5h1M125 239.5h1M92 237.5h1M94 234.5h1M106 237.5h1M99 236.5h1M99 226.5h1M108 226.5h1M106 234.5h1M90 239.5h1M100 242.5h1M101 236.5h1M90 246.5h1M104 227.5h1M92 236.5h1M111 228.5h1M95 239.5h1M100 226.5h1M89 236.5h1M105 238.5h1M79 232.5h1M110 242.5h1M109 247.5h1M92 239.5h1M109 233.5h1M102 233.5h1M85 230.5h1M114 230.5h1M116 233.5h1M98 245.5h1M99 232.5h1M91 236.5h1M113 231.5h1M95 230.5h1M100 237.5h1M93 236.5h1M94 226.5h1M88 229.5h1M114 236.5h1M101 241.5h1M94 230.5h1M95 226.5h1M101 230.5h1M97 233.5h1M98 235.5h1M87 233.5h1M93 235.5h1M118 227.5h1M94 234.5h1M90 234.5h1M105 239.5h1M116 232.5h1M86 237.5h1M99 233.5h1M83 229.5h1M109 228.5h1M101 229.5h1M102 231.5h1M93 232.5h1M106 234.5h1M95 227.5h1M99 239.5h1M88 231.5h1M115 236.5h1M96 235.5h1M104 236.5h1M101 230.5h1M96 236.5h1M108 237.5h1M98 246.5h1M99 236.5h1M101 245.5h1M113 232.5h1M105 227.5h1M95 240.5h1M86 236.5h1M111 229.5h1M100 231.5h1M111 231.5h1M96 229.5h1M117 227.5h1M88 235.5h1M110 238.5h1M106 231.5h1M110 238.5h1M121 232.5h1M117 231.5h1M83 237.5h1M110 232.5h1M90 233.5h1M101 229.5h1M84 235.5h1M79 237.5h1M104 242.5h1M101 238.5h1M98 228.5h1M101 231.5h1M92 238.5h1M85 234.5h1M99 231.5h1M91 228.5h1M84 235.5h1M106 233.5h1M100 243.5h1M105 239.5h1M94 246.5h1M91 234.5h1M92 230.5h1M103 234.5h1M93 237.5h1M105 232.5h1M105 232.5h1M122 232.5h1M86 244.5h1M110 232.5h1M100 237.5h1M101 235.5h1M86 230.5h1M96 227.5h1M109 226.5h1M100 235.5h1M102 225.5h1M78 232.5h1M94 233.5h1M80 226.5h1M67 240.5h1M95 230.5h1M115 235.5h1M101 234.5h1M89 243.5h1M91 237.5h1M113 232.5h1M103 226.5h1M100 232.5h1M101 233.5h1M109 237.5h1M107 229.5h1M103 233.5h1M90 228.5h1M94 232.5h1M112 241.5h1M88 237.5h1M100 241.5h1M101 239.5h1M119 230.5h1M116 241.5h1M96 227.5h1M105 234.5h1M74 236.5h1M104 234.5h1M100 230.5h1M102 227.5h1M105 227.5h1M101 241.5h1M117 232.5h1M95 229.5h1M97 234.5h1M82 226.5h1M117 234.5h1M111 238.5h1M108 227.5h1M102 230.5h1M103 225.5h1M99 229.5h1M102 247.5h1M117 236.5h1M107 234.5h1M100 238.5h1M95 230.5h1M118 235.5h1M106 239.5h1M97 234.5h1M89 240.5h1M100 230.5h1M110 229.5h1M97 236.5h1M99 226.5h1M99 235.5h1M102 237.5h1M84 230.5h1M99 226.5h1M92 236.5h1M110 229.5h1M93 232.5h1M117 236.5h1M95 232.5h1M103 232.5h1M101 227.5h1M91 226.5h1M122 229.5h1M98 235.5h1M99 235.5h1M90 228.5h1M104 228.5h1M89 229.5h1M112 230.5h1M117 241.5h1M104 239.5h1M107 241.5h1M99 237.5h1M87 228.5h1M111 232.5h1M91 233.5h1M92 231.5h1M96 230.5h1M104 235.5h1M99 232.5h1M104 243.5h1M98 230.5h1M101 237.5h1M103 230.5h1M100 226.5h1M106 232.5h1M121 226.5h1M107 242.5h1M83 235.5h1M105 227.5h1M81 230.5h1M86 248.5h1M110 236.5h1M108 230.5h1M83 230.5h1M97 230.5h1M94 241.5h1M103 231.5h1M93 233.5h1M89 242.5h1M100 226.5h1M89 227.5h1M89 228.5h1M113 238.5h1M112 240.5h1M96 233.5h1M106 230.5h1M100 226.5h1M97 229.5h1M97 229.5h1M87 236.5h1M86 240.5h1M109 231.5h1M99 236.5h1M103 240.5h1M112 240.5h1M83 235.5h1M93 244.5h1M103 240.5h1M105 242.5h1M97 230.5h1M112 229.5h1M88 241.5h1M91 236.5h1M109 226.5h1M106 233.5h1M81 234.5h1M107 234.5h1M115 239.5h1M97 240.5h1M98 229.5h1M89 230.5h1M128 240.5h1M99 238.5h1M118 228.5h1M94 228.5h1M103 236.5h1M83 227.5h1M97 228.5h1M111 243.5h1M88 234.5h1M112 229.5h1M105 235.5h1M90 245.5h1M96 233.5h1M96 227.5h1M95 246.5h1M98 239.5h1M110 231.5h1M85 239.5h1M101 227.5h1M94 236.5h1M91 248.5h1M96 227.5h1M93 237.5h1M107 232.5h1M99 239.5h1M107 233.5h1M101 246.5h1M90 243.5h1M100 231.5h1M102 238.5h1M111 233.5h1M91 232.5h1M108 232.5h1M82 237.5h1M100 234.5h1M113 226.5h1M85 240.5h1M90 233.5h1M93 240.5h1M89 231.5h1M93 236.5h1M93 230.5h1M107 237.5h1M93 239.5h1M106 240.5h1M82 228.5h1M121 236.5h1M98 227.5h1M104 234.5h1M101 226.5h1M103 230.5h1M102 230.5h1M121 228.5h1M90 235.5h1M85 234.5h1M90 243.5h1M87 234.5h1M109 241.5h1M110 232.5h1M91 238.5h1M86 231.5h1M97 229.5h1M116 241.5h1M71 237.5h1M107 238.5h1M90 227.5h1M90 226.5h1M98 234.5h1M91 241.5h1M110 236.5h1M97 250.5h1M97 238.5h1M101 230.5h1M100 233.5h1M100 231.5h1M89 241.5h1M100 236.5h1M101 228.5h1M115 230.5h1M100 231.5h1M100 236.5h1M95 230.5h1M93 244.5h1M100 240.5h1M107 238.5h1M100 228.5h1M104 232.5h1M99 238.5h1M93 234.5h1M91 235.5h1M99 235.5h1M95 227.5h1M103 227.5h1M101 235.5h1M87 237.5h1M102 230.5h1M87 232.5h1M79 226.5h1M102 232.5h1M103 233.5h1M99 237.5h1M97 237.5h1M97 238.5h1M91 234.5h1M98 234.5h1M95 227.5h1M102 234.5h1M88 233.5h1M103 239.5h1M100 228.5h1M107 226.5h1M106 233.5h1M104 227.5h1M105 239.5h1M108 229.5h1M106 227.5h1M85 236.5h1M107 229.5h1M113 237.5h1M112 236.5h1M103 236.5h1M85 232.5h1M111 231.5h1M99 228.5h1M74 241.5h1M87 227.5h1M94 234.5h1M114 232.5h1M97 228.5h1M104 229.5h1M119 243.5h1M118 227.5h1M98 244.5h1M94 229.5h1M105 232.5h1M102 239.5h1M111 230.5h1M100 233.5h1M109 234.5h1M107 231.5h1M112 234.5h1M98 238.5h1M105 226.5h1M90 240.5h1M84 227.5h1M107 232.5h1M100 249.5h1M104 232.5h1M83 239.5h1M97 234.5h1M92 239.5h1M77 239.5h1M110 231.5h1M95 229.5h1M101 237.5h1M109 232.5h1M107 231.5h1M108 231.5h1M119 232.5h1M113 235.5h1M104 231.5h1M109 239.5h1M95 235.5h1M101 227.5h1M111 227.5h1M122 232.5h1M99 236.5h1M100 231.5h1M103 243.5h1M115 240.5h1M101 226.5h1M116 235.5h1M91 229.5h1M99 227.5h1M109 231.5h1M85 227.5h1M91 234.5h1M105 227.5h1M94 229.5h1M85 237.5h1M112 231.5h1M106 233.5h1M106 245.5h1M96 233.5h1M112 233.5h1M98 234.5h1M113 242.5h1M91 234.5h1M92 232.5h1M103 231.5h1M94 239.5h1M108 227.5h1M104 240.5h1M91 233.5h1M97 236.5h1M111 235.5h1M96 234.5h1M114 233.5h1M125 230.5h1M102 246.5h1M103 237.5h1M117 238.5h1M100 239.5h1M91 237.5h1M102 237.5h1M106 229.5h1M92 237.5h1M84 231.5h1M86 229.5h1M108 236.5h1M93 231.5h1M103 229.5h1M108 236.5h1M97 232.5h1M106 238.5h1M92 230.5h1M97 226.5h1M90 237.5h1M113 233.5h1M93 235.5h1M97 230.5h1M99 238.5h1M108 237.5h1M84 235.5h1M97 234.5h1M128 235.5h1M111 235.5h1M100 233.5h1M108 227.5h1M123 230.5h1M97 230.5h1M106 230.5h1M108 228.5h1M96 241.5h1M121 232.5h1M119 232.5h1M107 233.5h1M108 245.5h1M80 226.5h1M108 234.5h1M99 234.5h1M106 233.5h1M108 233.5h1M97 229.5h1M83 240.5h1M105 238.5h1M93 230.5h1M98 231.5h1M95 234.5h1M97 235.5h1M77 237.5h1M114 232.5h1M113 238.5h1M101 226.5h1M82 234.5h1M92 226.5h1M88 241.5h1M96 243.5h1M102 240.5h1M80 234.5h1M105 234.5h1M85 235.5h1M104 231.5h1M100 245.5h1M98 228.5h1M100 241.5h1M95 236.5h1M95 234.5h1M83 239.5h1M101 240.5h1M120 238.5h1M122 232.5h1M115 228.5h1M108 228.5h1M94 238.5h1M116 237.5h1M100 237.5h1M100 229.5h1M98 245.5h1M96 235.5h1M100 237.5h1M90 229.5h1M125 229.5h1M98 231.5h1M89 232.5h1M111 230.5h1M104 231.5h1M102 237.5h1M117 233.5h1M94 226.5h1M102 240.5h1M96 227.5h1M117 229.5h1M81 230.5h1M94 246.5h1M95 232.5h1M108 227.5h1M107 236.5h1M116 231.5h1M84 247.5h1M109 227.5h1M98 236.5h1M94 226.5h1M107 243.5h1M91 227.5h1M79 233.5h1M97 226.5h1M85 238.5h1M94 236.5h1M104 237.5h1M118 236.5h1M99 233.5h1M85 238.5h1M88 236.5h1M106 243.5h1M108 226.5h1M105 237.5h1M102 233.5h1M108 240.5h1M101 241.5h1M105 236.5h1M105 231.5h1M86 236.5h1M99 226.5h1M103 228.5h1M87 239.5h1M118 229.5h1M88 235.5h1M83 237.5h1M100 231.5h1M93 239.5h1M102 234.5h1M94 236.5h1M107 230.5h1M93 231.5h1M111 227.5h1M128 242.5h1M90 229.5h1M96 226.5h1M92 229.5h1M89 235.5h1M96 238.5h1M101 225.5h1M91 238.5h1M91 246.5h1M79 236.5h1M86 233.5h1M97 241.5h1M103 240.5h1M99 239.5h1M82 234.5h1M96 229.5h1M109 246.5h1M107 227.5h1M100 239.5h1M92 238.5h1M108 227.5h1M95 232.5h1M89 241.5h1M116 237.5h1M103 230.5h1M113 230.5h1M111 234.5h1M99 236.5h1M109 236.5h1M96 234.5h1M104 229.5h1M114 231.5h1M83 229.5h1M98 237.5h1M101 227.5h1M102 239.5h1M110 235.5h1M89 236.5h1M110 230.5h1M123 231.5h1M109 238.5h1M104 228.5h1M103 245.5h1M120 234.5h1M91 234.5h1M100 233.5h1M106 230.5h1M109 239.5h1M96 228.5h1M104 233.5h1M98 236.5h1M102 240.5h1M100 239.5h1M89 229.5h1M101 238.5h1M110 231.5h1M90 233.5h1M103 239.5h1M113 229.5h1M122 231.5h1M109 226.5h1M102 227.5h1M102 228.5h1M117 229.5h1M87 230.5h1M112 230.5h1M116 235.5h1M94 232.5h1M109 232.5h1M101 233.5h1M96 234.5h1M79 240.5h1M110 236.5h1M108 234.5h1M102 230.5h1M112 225.5h1M96 238.5h1M94 229.5h1M99 227.5h1M86 236.5h1M114 228.5h1M94 230.5h1M89 238.5h1M114 232.5h1M100 233.5h1M87 247.5h1M97 228.5h1M111 228.5h1M114 234.5h1M97 240.5h1M108 230.5h1M101 235.5h1M95 226.5h1M96 233.5h1M102 232.5h1M101 232.5h1M95 232.5h1M121 228.5h1M105 247.5h1M100 240.5h1M98 259.5h1M108 240.5h1M87 238.5h1M94 246.5h1M102 246.5h1M100 252.5h1M92 250.5h1M137 247.5h1M102 235.5h1M140 246.5h1M108 243.5h1M101 227.5h1M108 249.5h1M102 238.5h1M138 231.5h1M88 230.5h1M85 250.5h1M133 226.5h1M97 243.5h1M102 247.5h1M118 237.5h1M124 241.5h1M84 249.5h1M97 256.5h1M79 249.5h1M97 231.5h1M91 225.5h1M96 244.5h1M90 239.5h1M111 235.5h1M128 250.5h1M70 249.5h1M101 237.5h1M95 242.5h1M111 250.5h1M86 234.5h1M100 241.5h1M85 227.5h1M114 239.5h1M104 242.5h1M100 237.5h1M109 240.5h1M98 246.5h1M76 243.5h1M113 230.5h1M107 231.5h1M119 257.5h1M123 243.5h1M84 243.5h1M89 237.5h1M129 243.5h1M127 244.5h1M90 230.5h1M82 237.5h1M92 251.5h1M76 228.5h1M103 245.5h1M81 229.5h1M82 247.5h1M118 226.5h1M91 241.5h1M101 247.5h1M113 243.5h1M116 247.5h1M97 236.5h1M103 237.5h1M88 238.5h1M132 245.5h1M114 279.5h1M84 237.5h1M103 259.5h1M115 236.5h1M111 226.5h1M134 235.5h1M126 243.5h1M93 240.5h1M101 240.5h1M81 245.5h1M107 245.5h1M105 249.5h1M148 225.5h1M104 239.5h1M67 228.5h1M91 241.5h1M104 238.5h1M81 240.5h1M88 233.5h1M96 229.5h1M108 236.5h1M100 246.5h1M87 247.5h1M93 242.5h1M94 242.5h1M89 227.5h1M114 233.5h1M75 243.5h1M115 234.5h1M96 232.5h1M107 240.5h1M84 254.5h1M125 253.5h1M121 234.5h1M107 234.5h1M73 241.5h1M85 251.5h1M119 254.5h1M132 242.5h1M108 255.5h1M124 229.5h1M92 226.5h1M103 229.5h1M110 245.5h1M77 248.5h1M118 276.5h1M125 245.5h1M83 240.5h1M79 228.5h1M108 232.5h1M91 232.5h1M62 236.5h1M116 231.5h1M94 250.5h1M138 244.5h1M105 254.5h1M85 230.5h1M90 252.5h1M109 237.5h1M93 241.5h1M95 238.5h1M131 241.5h1M117 233.5h1M116 243.5h1M111 229.5h1M111 236.5h1M127 242.5h1M102 240.5h1M134 243.5h1M86 230.5h1M98 241.5h1M79 235.5h1M97 243.5h1M111 255.5h1M127 229.5h1M91 250.5h1M103 231.5h1M96 234.5h1M90 257.5h1M82 249.5h1M104 244.5h1M73 248.5h1M104 252.5h1M103 230.5h1M91 241.5h1M85 234.5h1M79 243.5h1M134 235.5h1M80 247.5h1M129 239.5h1M113 232.5h1M96 238.5h1M83 244.5h1M120 250.5h1M132 237.5h1M87 235.5h1M97 241.5h1M120 247.5h1M108 233.5h1M93 242.5h1M112 235.5h1M81 234.5h1M138 267.5h1M90 237.5h1M65 246.5h1M100 241.5h1M135 247.5h1M97 241.5h1M102 237.5h1M113 245.5h1M129 239.5h1M101 253.5h1M120 241.5h1M111 230.5h1M104 231.5h1M103 236.5h1M87 225.5h1M123 227.5h1M122 227.5h1M119 240.5h1M101 236.5h1M89 237.5h1M99 235.5h1M111 236.5h1M115 247.5h1M107 262.5h1M119 246.5h1M93 261.5h1M106 238.5h1M76 238.5h1M115 257.5h1M105 231.5h1M95 229.5h1M122 237.5h1M103 252.5h1M78 227.5h1M121 234.5h1M145 234.5h1M94 228.5h1M104 246.5h1M98 245.5h1M108 248.5h1M113 247.5h1M124 240.5h1M86 254.5h1M129 250.5h1M87 232.5h1M107 239.5h1M122 234.5h1M115 259.5h1M87 247.5h1M91 245.5h1M95 238.5h1M102 245.5h1M122 228.5h1M81 239.5h1M110 238.5h1M113 238.5h1M112 231.5h1M110 244.5h1M128 226.5h1M111 233.5h1M117 237.5h1M112 238.5h1M133 233.5h1M70 227.5h1M124 228.5h1M98 234.5h1M98 229.5h1M86 237.5h1M96 239.5h1M91 261.5h1M77 237.5h1M127 251.5h1M107 241.5h1M98 248.5h1M89 233.5h1M83 256.5h1M93 232.5h1M103 243.5h1M78 250.5h1M98 263.5h1M87 238.5h1M105 242.5h1M134 243.5h1M113 262.5h1M97 234.5h1M78 259.5h1M74 226.5h1M115 245.5h1M104 234.5h1M92 241.5h1M104 226.5h1M126 233.5h1M91 245.5h1M97 231.5h1M89 244.5h1M117 258.5h1M83 242.5h1M79 245.5h1M79 235.5h1M111 256.5h1M146 253.5h1M86 244.5h1M119 244.5h1M107 238.5h1M84 226.5h1M98 244.5h1M99 233.5h1M91 232.5h1M135 250.5h1M70 236.5h1M109 249.5h1M108 227.5h1M93 233.5h1M105 238.5h1M117 253.5h1M105 237.5h1M110 247.5h1M114 231.5h1M68 240.5h1M128 247.5h1M141 228.5h1M119 231.5h1M120 245.5h1M79 226.5h1M100 242.5h1M89 242.5h1M93 237.5h1M107 256.5h1M107 254.5h1M107 252.5h1M124 248.5h1M107 242.5h1M115 256.5h1M121 247.5h1M117 255.5h1M113 251.5h1M117 250.5h1M118 253.5h1M113 239.5h1M121 255.5h1M120 263.5h1M114 246.5h1M111 255.5h1M109 254.5h1M117 272.5h1M111 247.5h1M115 249.5h1M107 246.5h1M125 252.5h1M118 245.5h1M118 255.5h1M127 253.5h1M119 260.5h1M108 254.5h1M121 250.5h1M121 254.5h1M108 259.5h1M111 250.5h1M110 253.5h1M119 260.5h1M117 252.5h1M109 254.5h1M117 264.5h1M118 262.5h1M114 244.5h1M104 259.5h1M123 256.5h1M133 257.5h1M126 254.5h1M120 263.5h1M116 256.5h1M113 252.5h1M118 251.5h1M119 259.5h1M113 260.5h1M124 251.5h1M118 249.5h1M121 254.5h1M98 252.5h1M112 251.5h1M121 256.5h1M124 252.5h1M116 262.5h1M126 258.5h1M120 257.5h1M118 262.5h1M111 251.5h1M119 255.5h1M120 258.5h1M125 255.5h1M121 264.5h1M116 255.5h1M118 253.5h1M110 251.5h1M122 250.5h1M107 258.5h1M112 262.5h1M116 253.5h1M129 257.5h1M128 246.5h1M113 250.5h1M106 256.5h1M116 250.5h1M110 257.5h1M116 263.5h1M123 242.5h1M121 254.5h1M111 249.5h1M115 251.5h1M121 246.5h1M119 254.5h1M115 247.5h1M112 259.5h1M118 264.5h1M108 243.5h1M117 246.5h1M117 252.5h1M107 250.5h1M110 251.5h1M115 258.5h1M116 245.5h1M124 253.5h1M121 253.5h1M131 258.5h1M111 246.5h1M129 256.5h1M113 249.5h1M119 262.5h1M123 254.5h1M121 244.5h1M113 257.5h1M112 254.5h1M107 246.5h1M116 249.5h1M112 249.5h1M117 264.5h1M113 250.5h1M113 260.5h1M117 260.5h1M118 252.5h1M116 256.5h1M116 250.5h1M119 237.5h1M121 252.5h1M122 252.5h1M110 257.5h1M125 262.5h1M118 261.5h1M106 254.5h1M130 266.5h1M119 259.5h1M111 254.5h1M124 263.5h1M97 256.5h1M129 267.5h1M108 249.5h1M107 251.5h1M112 247.5h1M119 250.5h1M113 255.5h1M123 253.5h1M108 260.5h1M127 245.5h1M120 249.5h1M110 253.5h1M121 263.5h1M119 253.5h1M111 264.5h1M123 262.5h1M110 248.5h1M114 253.5h1M124 260.5h1M118 250.5h1M119 262.5h1M121 254.5h1M115 257.5h1M119 260.5h1M111 250.5h1M118 261.5h1M114 242.5h1M115 258.5h1M115 242.5h1M117 261.5h1M120 252.5h1M121 263.5h1M110 260.5h1M111 252.5h1M104 246.5h1M106 258.5h1M117 248.5h1M116 259.5h1M114 253.5h1M117 253.5h1M108 248.5h1M107 262.5h1M124 248.5h1M121 253.5h1M107 254.5h1M112 259.5h1M114 264.5h1M106 259.5h1M119 253.5h1M117 257.5h1M117 261.5h1M127 262.5h1M114 244.5h1M123 259.5h1M118 259.5h1M123 249.5h1M112 250.5h1M117 254.5h1M115 258.5h1M123 266.5h1M114 261.5h1M124 260.5h1M114 255.5h1M114 252.5h1M117 252.5h1M104 249.5h1M113 252.5h1M110 258.5h1M111 265.5h1M116 258.5h1M108 257.5h1M108 255.5h1M123 259.5h1M107 259.5h1M111 259.5h1M110 253.5h1M113 253.5h1M122 261.5h1M124 255.5h1M104 252.5h1M113 259.5h1M125 257.5h1M117 244.5h1M117 259.5h1" stroke="#33a85a" stroke-width="1.0" fill="none"/>
<path d="M115 313.5h1M110 313.5h1M114 310.5h1M127 301.5h1M124 302.5h1M120 300.5h1M127 301.5h1M129 299.5h1M112 313.5h1M123 304.5h1M120 306.5h1M116 307.5h1M118 301.5h1M126 305.5h1M122 303.5h1M115 309.5h1M121 304.5h1M136 290.5h1M118 308.5h1M112 309.5h1M126 300.5h1M128 298.5h1M127 298.5h1M117 307.5h1M130 296.5h1M118 304.5h1M117 307.5h1M120 304.5h1M123 302.5h1M130 299.5h1M129 299.5h1M126 303.5h1M129 295.5h1M126 302.5h1M131 298.5h1M115 309.5h1M114 309.5h1M131 300.5h1M113 306.5h1M122 303.5h1M124 302.5h1M119 302.5h1M121 303.5h1M133 294.5h1M105 312.5h1M131 298.5h1M138 288.5h1M123 299.5h1M126 303.5h1M129 297.5h1M134 290.5h1M113 304.5h1M126 302.5h1M123 302.5h1M126 297.5h1M125 300.5h1M130 299.5h1M121 303.5h1M124 301.5h1M119 304.5h1M118 303.5h1M122 300.5h1M122 301.5h1M116 307.5h1M135 294.5h1M123 302.5h1M115 309.5h1M131 295.5h1M119 305.5h1M128 299.5h1M121 299.5h1M122 296.5h1M126 301.5h1M120 304.5h1M125 301.5h1M134 287.5h1M110 313.5h1M124 300.5h1M127 299.5h1M117 307.5h1M117 310.5h1M136 288.5h1M123 304.5h1M136 288.5h1M127 298.5h1M123 299.5h1M127 298.5h1M126 296.5h1M133 296.5h1M126 297.5h1M125 301.5h1M125 300.5h1M132 293.5h1M127 295.5h1M121 310.5h1M120 304.5h1M128 302.5h1M118 303.5h1M125 306.5h1M120 308.5h1M125 305.5h1M124 296.5h1M132 297.5h1M124 301.5h1M137 290.5h1M126 304.5h1M144 283.5h1M129 294.5h1M127 298.5h1M120 302.5h1M108 318.5h1M123 302.5h1M126 301.5h1M135 289.5h1M113 306.5h1M135 290.5h1M122 302.5h1M129 298.5h1M110 317.5h1M123 298.5h1M124 305.5h1M130 299.5h1M125 301.5h1M118 308.5h1M127 292.5h1M132 301.5h1M127 297.5h1M129 294.5h1M132 297.5h1M125 302.5h1M115 308.5h1M113 306.5h1M134 295.5h1M131 300.5h1M123 299.5h1M119 301.5h1M125 301.5h1M128 305.5h1M120 300.5h1M120 305.5h1M135 287.5h1M125 300.5h1M121 305.5h1M117 309.5h1M117 303.5h1M126 294.5h1M132 300.5h1M124 304.5h1M122 298.5h1M123 303.5h1M119 310.5h1M132 294.5h1M126 299.5h1M139 287.5h1M120 306.5h1M124 302.5h1M130 297.5h1M122 302.5h1M117 310.5h1M119 307.5h1M125 301.5h1M124 297.5h1M123 301.5h1M130 295.5h1M129 294.5h1M125 298.5h1M122 299.5h1M122 302.5h1M124 295.5h1M127 294.5h1M124 301.5h1M127 299.5h1M121 301.5h1M115 308.5h1M118 307.5h1M131 299.5h1M130 302.5h1M133 291.5h1M123 299.5h1M128 295.5h1M134 296.5h1M128 294.5h1M121 305.5h1M122 301.5h1M124 300.5h1M119 308.5h1M128 299.5h1M133 299.5h1M123 305.5h1M139 293.5h1M122 302.5h1M123 302.5h1M121 301.5h1M119 304.5h1M128 300.5h1M124 300.5h1M135 292.5h1M127 297.5h1M127 297.5h1M124 304.5h1M115 309.5h1M123 301.5h1M119 306.5h1M128 294.5h1M121 298.5h1M135 292.5h1M129 297.5h1M133 300.5h1M126 300.5h1M126 301.5h1M131 301.5h1M129 295.5h1M119 304.5h1M128 299.5h1M140 287.5h1M125 303.5h1M121 301.5h1M122 307.5h1M116 310.5h1M128 291.5h1M124 301.5h1M125 299.5h1M135 291.5h1M141 289.5h1M119 306.5h1M130 294.5h1M129 299.5h1M126 298.5h1M125 296.5h1M122 299.5h1M136 295.5h1M129 299.5h1M129 302.5h1M130 292.5h1M128 295.5h1M126 297.5h1M127 301.5h1M136 293.5h1M127 298.5h1M123 301.5h1M120 307.5h1M122 303.5h1M117 306.5h1M124 300.5h1M127 301.5h1M115 316.5h1M125 301.5h1M128 297.5h1M125 300.5h1M119 307.5h1M133 295.5h1M119 304.5h1M117 308.5h1M117 307.5h1M125 303.5h1M131 296.5h1M131 294.5h1M127 301.5h1M119 310.5h1M121 305.5h1M117 304.5h1M123 302.5h1M111 309.5h1M125 301.5h1M128 298.5h1M125 304.5h1M128 299.5h1M116 304.5h1M115 309.5h1M119 303.5h1M130 293.5h1M130 295.5h1M122 304.5h1M131 294.5h1M121 302.5h1M132 292.5h1M126 297.5h1M121 303.5h1M130 298.5h1M120 306.5h1M120 308.5h1M114 308.5h1M129 303.5h1M124 302.5h1M120 297.5h1M122 304.5h1M134 295.5h1M121 303.5h1M118 303.5h1M132 294.5h1M132 292.5h1M126 299.5h1M114 312.5h1M115 299.5h1M128 297.5h1M125 302.5h1M134 293.5h1M115 308.5h1M127 296.5h1M119 303.5h1M132 293.5h1M126 304.5h1M129 294.5h1M121 305.5h1M116 310.5h1M120 310.5h1M121 305.5h1M119 308.5h1M131 294.5h1M134 296.5h1M126 299.5h1M118 307.5h1M125 304.5h1M121 306.5h1M134 294.5h1M124 298.5h1M131 302.5h1M122 304.5h1M114 315.5h1M120 306.5h1" stroke="#939393" stroke-width="1.0" fill="none"/>
<path d="M129 357.5h1M109 352.5h1M119 364.5h1M106 351.5h1M130 340.5h1M133 345.5h1M99 283.5h1M102 326.5h1M133 356.5h1M115 331.5h1M114 374.5h1M122 359.5h1M100 389.5h1M128 310.5h1M118 330.5h1M124 373.5h1M108 346.5h1M125 322.5h1M108 333.5h1M131 335.5h1M133 365.5h1M130 360.5h1M125 342.5h1M126 322.5h1M80 364.5h1M129 371.5h1M114 317.5h1M119 367.5h1M114 319.5h1M98 339.5h1M110 323.5h1M127 303.5h1M137 328.5h1M109 326.5h1M105 367.5h1M138 361.5h1M105 329.5h1M147 308.5h1M118 311.5h1M105 289.5h1M131 337.5h1M141 340.5h1M97 320.5h1M139 344.5h1M114 346.5h1M138 370.5h1M112 321.5h1M95 370.5h1M125 332.5h1M130 379.5h1M147 318.5h1M142 369.5h1M127 324.5h1M114 383.5h1M183 310.5h1M133 348.5h1M60 372.5h1M97 294.5h1M85 351.5h1M69 357.5h1M121 314.5h1M74 281.5h1M69 343.5h1M157 290.5h1M113 311.5h1M152 334.5h1M120 391.5h1M125 281.5h1M94 271.5h1M113 334.5h1M121 388.5h1M99 268.5h1M177 348.5h1M84 265.5h1M80 335.5h1M100 277.5h1M170 350.5h1M180 310.5h1M135 349.5h1M178 239.5h1M177 229.5h1M180 242.5h1M186 244.5h1M172 243.5h1M181 234.5h1M178 243.5h1M177 245.5h1M175 245.5h1M179 234.5h1M184 246.5h1M170 252.5h1M183 235.5h1M179 246.5h1M174 234.5h1M177 235.5h1M184 230.5h1M190 233.5h1M177 244.5h1M177 240.5h1M176 251.5h1M189 227.5h1" stroke="#939393" stroke-width="1.0" fill="none"/>
<path d="M173 329.5h1M158 324.5h1M186 325.5h1M182 312.5h1M182 309.5h1M161 319.5h1M173 314.5h1M176 311.5h1M173 325.5h1M173 319.5h1M191 299.5h1M170 311.5h1M182 311.5h1M163 315.5h1M187 328.5h1M151 326.5h1M175 319.5h1M174 300.5h1M189 298.5h1M177 301.5h1M168 302.5h1M178 321.5h1M169 323.5h1M174 320.5h1M177 311.5h1M180 335.5h1M182 310.5h1M168 328.5h1M166 339.5h1M167 328.5h1M173 343.5h1M153 321.5h1M179 304.5h1M158 308.5h1M182 321.5h1M192 314.5h1M181 304.5h1M182 333.5h1M182 304.5h1M182 319.5h1M176 320.5h1M175 312.5h1M162 331.5h1M154 313.5h1M168 315.5h1M188 320.5h1M163 315.5h1M183 327.5h1M181 308.5h1M194 313.5h1M186 316.5h1M174 298.5h1M175 325.5h1M176 325.5h1M180 318.5h1M174 322.5h1M159 313.5h1M195 310.5h1M182 327.5h1M162 323.5h1M190 323.5h1M191 303.5h1M166 310.5h1M183 306.5h1M174 325.5h1M175 327.5h1M175 330.5h1M177 323.5h1M187 300.5h1M155 320.5h1M179 297.5h1M170 331.5h1M178 325.5h1M175 306.5h1M192 324.5h1M179 318.5h1M164 335.5h1M185 322.5h1M174 334.5h1M191 292.5h1M185 330.5h1M182 322.5h1M170 332.5h1M170 322.5h1M174 338.5h1M173 302.5h1M174 322.5h1M180 314.5h1M171 326.5h1M175 327.5h1M191 312.5h1M158 320.5h1M159 333.5h1M178 315.5h1M158 322.5h1M176 326.5h1M176 306.5h1M167 325.5h1M187 315.5h1M163 319.5h1M197 314.5h1M179 302.5h1M177 328.5h1M169 317.5h1M157 317.5h1M171 313.5h1M187 311.5h1M163 331.5h1M184 312.5h1M173 338.5h1M176 333.5h1M160 334.5h1M186 295.5h1M188 329.5h1M177 316.5h1M165 321.5h1M181 307.5h1M165 344.5h1M167 311.5h1M200 305.5h1M166 317.5h1M162 308.5h1M195 325.5h1M166 324.5h1M172 316.5h1M180 308.5h1M181 321.5h1M179 317.5h1M182 330.5h1M176 314.5h1M171 314.5h1M190 309.5h1M187 317.5h1M176 323.5h1M155 341.5h1M179 311.5h1M181 312.5h1M167 326.5h1M169 345.5h1M177 306.5h1M155 319.5h1M181 331.5h1M181 320.5h1M181 305.5h1M167 312.5h1M169 315.5h1M160 315.5h1M187 303.5h1M179 306.5h1M170 316.5h1M167 334.5h1M159 318.5h1M174 309.5h1M161 319.5h1M184 312.5h1M169 308.5h1M184 322.5h1M176 310.5h1M175 332.5h1M166 316.5h1M196 299.5h1M164 328.5h1M183 333.5h1M171 299.5h1M169 316.5h1M168 326.5h1M161 328.5h1M176 311.5h1M172 300.5h1M183 304.5h1M186 327.5h1M184 310.5h1M157 320.5h1M171 313.5h1M172 327.5h1M171 313.5h1M179 311.5h1M178 304.5h1M179 337.5h1M191 312.5h1M166 318.5h1M168 329.5h1M170 317.5h1M148 319.5h1M177 320.5h1M175 314.5h1M177 323.5h1M183 317.5h1M172 322.5h1M185 327.5h1M179 345.5h1M164 309.5h1M168 327.5h1M162 315.5h1M173 318.5h1M175 315.5h1M157 329.5h1M157 328.5h1M181 328.5h1M169 306.5h1M184 321.5h1M180 309.5h1M177 313.5h1M162 308.5h1M169 330.5h1M162 323.5h1M170 322.5h1M173 313.5h1M182 321.5h1M181 324.5h1M171 317.5h1M191 322.5h1M182 322.5h1M172 311.5h1M181 319.5h1M177 329.5h1M175 335.5h1M177 313.5h1M180 317.5h1M171 319.5h1M172 323.5h1M172 328.5h1M187 332.5h1M175 315.5h1M165 329.5h1M174 316.5h1M200 312.5h1M173 302.5h1M179 313.5h1M179 313.5h1M187 327.5h1M178 306.5h1M174 320.5h1M161 314.5h1M178 320.5h1M190 318.5h1M176 314.5h1M186 318.5h1M156 334.5h1M192 314.5h1M193 297.5h1M186 307.5h1M172 321.5h1M172 329.5h1M182 321.5h1M167 328.5h1M184 315.5h1M169 322.5h1M184 311.5h1M201 320.5h1M159 337.5h1M166 307.5h1M167 323.5h1M159 327.5h1M166 321.5h1M176 323.5h1M192 317.5h1M156 327.5h1M175 302.5h1M186 296.5h1M176 310.5h1M176 311.5h1M174 318.5h1M163 327.5h1M178 313.5h1M175 313.5h1M187 317.5h1M199 298.5h1M176 308.5h1M180 316.5h1M163 330.5h1M182 343.5h1M157 310.5h1M164 320.5h1M175 308.5h1M177 325.5h1M196 309.5h1M188 305.5h1M180 311.5h1M177 326.5h1M178 311.5h1M175 306.5h1M162 324.5h1M185 321.5h1M196 325.5h1M176 316.5h1M191 308.5h1M180 304.5h1M156 316.5h1M163 307.5h1M166 324.5h1M171 306.5h1M155 316.5h1M181 309.5h1M175 313.5h1M175 304.5h1M173 320.5h1M167 335.5h1M193 306.5h1M173 320.5h1M189 309.5h1M172 309.5h1M182 314.5h1M178 292.5h1M168 307.5h1M194 313.5h1M155 325.5h1M184 312.5h1M162 312.5h1M169 316.5h1M175 318.5h1M172 311.5h1M191 306.5h1M157 333.5h1M172 315.5h1M170 325.5h1M180 305.5h1M178 328.5h1M174 310.5h1M180 329.5h1M175 308.5h1M178 306.5h1M166 317.5h1M178 321.5h1M178 317.5h1M180 309.5h1M175 328.5h1M172 299.5h1M161 340.5h1M152 329.5h1M170 336.5h1M168 320.5h1M177 320.5h1M167 313.5h1M176 320.5h1M186 317.5h1M167 319.5h1M173 337.5h1M171 335.5h1M185 294.5h1M167 315.5h1M188 307.5h1M184 319.5h1M166 324.5h1M169 314.5h1M185 313.5h1M184 308.5h1M161 321.5h1M174 306.5h1M176 316.5h1M188 312.5h1M191 311.5h1M176 325.5h1M158 327.5h1M173 311.5h1M185 300.5h1M169 303.5h1M178 317.5h1M195 298.5h1M169 330.5h1M167 298.5h1M184 335.5h1M172 316.5h1M171 314.5h1M185 303.5h1M150 312.5h1M161 316.5h1M156 328.5h1M184 319.5h1M167 319.5h1M180 316.5h1M165 327.5h1M169 320.5h1M185 311.5h1M168 315.5h1M167 302.5h1M170 307.5h1M169 320.5h1M176 344.5h1M173 302.5h1M167 310.5h1M183 310.5h1M162 339.5h1M156 329.5h1M163 342.5h1M161 321.5h1M189 315.5h1M185 318.5h1M173 318.5h1M185 325.5h1M179 311.5h1M167 317.5h1M186 322.5h1M168 311.5h1M161 341.5h1M167 318.5h1M183 304.5h1M174 324.5h1M176 322.5h1M181 333.5h1M175 326.5h1M188 312.5h1M160 310.5h1M158 321.5h1M163 318.5h1M157 334.5h1M162 337.5h1M176 307.5h1M173 306.5h1M163 339.5h1M182 311.5h1M176 312.5h1M175 331.5h1M178 310.5h1M162 333.5h1M169 333.5h1M168 336.5h1M163 326.5h1M174 304.5h1M161 328.5h1M171 333.5h1M161 322.5h1M174 315.5h1M167 317.5h1M172 303.5h1M175 329.5h1M165 330.5h1M174 326.5h1M180 322.5h1M152 314.5h1M169 309.5h1M200 311.5h1M166 320.5h1M178 321.5h1M176 298.5h1M168 323.5h1M168 326.5h1M164 327.5h1M174 312.5h1M177 313.5h1M174 320.5h1M175 318.5h1M180 303.5h1M188 316.5h1M163 331.5h1M174 319.5h1M178 320.5h1M174 307.5h1M181 328.5h1M171 326.5h1M176 327.5h1M156 331.5h1M176 321.5h1M168 323.5h1M174 311.5h1M177 337.5h1M167 319.5h1M171 331.5h1M167 329.5h1M179 312.5h1M164 317.5h1M171 309.5h1M152 318.5h1M173 316.5h1M164 336.5h1M173 325.5h1M165 319.5h1M166 303.5h1M172 314.5h1M176 323.5h1M178 309.5h1M173 315.5h1M177 313.5h1M184 315.5h1M191 334.5h1M175 324.5h1M168 309.5h1M168 320.5h1M192 328.5h1M182 308.5h1M193 321.5h1M156 309.5h1M162 329.5h1M181 326.5h1M166 314.5h1M187 312.5h1M166 318.5h1M171 320.5h1M187 318.5h1M165 318.5h1M181 327.5h1M177 294.5h1M184 304.5h1M185 318.5h1M188 326.5h1M154 317.5h1M167 304.5h1M183 325.5h1M163 306.5h1M168 322.5h1M175 319.5h1M172 320.5h1M177 317.5h1M174 296.5h1M175 314.5h1M174 344.5h1M151 314.5h1M155 327.5h1M175 332.5h1M180 315.5h1M183 320.5h1M168 323.5h1M172 313.5h1M166 323.5h1M166 335.5h1M168 336.5h1M160 321.5h1M185 306.5h1M147 317.5h1M188 311.5h1M178 301.5h1M171 319.5h1M178 323.5h1M159 315.5h1M172 317.5h1M185 317.5h1M175 320.5h1M174 303.5h1M191 314.5h1M166 307.5h1M171 311.5h1M175 320.5h1M166 307.5h1M152 318.5h1M172 311.5h1M173 315.5h1M153 315.5h1M179 289.5h1M172 332.5h1M168 327.5h1M177 317.5h1M161 338.5h1M178 334.5h1M155 327.5h1M165 326.5h1M171 319.5h1M165 307.5h1M186 311.5h1M180 311.5h1M180 305.5h1M181 315.5h1M170 323.5h1M176 303.5h1M169 323.5h1M159 316.5h1M190 308.5h1M178 310.5h1M185 325.5h1M180 312.5h1M185 314.5h1M153 322.5h1M167 314.5h1M160 326.5h1M161 306.5h1M158 315.5h1M178 301.5h1M182 317.5h1M177 334.5h1M173 318.5h1M166 331.5h1M178 322.5h1M179 315.5h1M187 326.5h1M147 327.5h1M179 328.5h1M182 317.5h1M171 312.5h1M194 317.5h1M157 324.5h1M170 308.5h1M170 326.5h1M182 323.5h1M180 317.5h1M192 323.5h1M159 315.5h1M174 316.5h1M169 333.5h1M169 336.5h1M173 309.5h1M162 309.5h1M170 341.5h1M171 329.5h1M186 329.5h1M180 300.5h1M180 307.5h1M163 297.5h1M160 335.5h1M175 322.5h1M182 318.5h1M170 309.5h1M188 324.5h1M166 316.5h1M185 300.5h1M188 308.5h1M179 324.5h1M158 321.5h1M175 288.5h1M172 326.5h1M178 304.5h1M175 290.5h1M170 330.5h1M177 317.5h1M179 329.5h1M178 314.5h1M176 316.5h1M191 303.5h1M183 317.5h1M184 328.5h1M192 316.5h1M178 326.5h1M166 317.5h1M194 301.5h1M173 331.5h1M165 319.5h1M169 314.5h1M170 332.5h1M161 341.5h1M176 304.5h1M164 323.5h1M175 328.5h1M168 320.5h1M166 327.5h1M157 321.5h1M181 322.5h1M185 291.5h1M176 309.5h1M186 317.5h1M154 325.5h1M166 313.5h1M174 337.5h1M165 299.5h1M180 327.5h1M180 323.5h1M175 321.5h1M163 319.5h1M157 328.5h1M178 313.5h1M152 322.5h1M161 326.5h1M161 312.5h1M174 314.5h1M200 325.5h1M178 319.5h1M182 323.5h1M173 317.5h1M179 310.5h1M168 343.5h1M184 322.5h1M168 328.5h1M165 331.5h1M192 334.5h1M163 316.5h1M177 312.5h1M182 308.5h1M153 338.5h1M180 325.5h1M189 300.5h1M172 304.5h1M176 298.5h1M170 314.5h1M164 333.5h1M170 333.5h1M169 303.5h1M177 306.5h1M171 327.5h1M187 334.5h1M182 321.5h1M174 346.5h1M161 313.5h1M184 302.5h1M195 303.5h1M174 321.5h1M160 315.5h1M177 334.5h1M157 339.5h1M190 317.5h1M183 332.5h1M190 295.5h1M158 300.5h1M163 307.5h1M159 334.5h1M187 307.5h1M169 320.5h1M164 313.5h1M167 348.5h1M194 321.5h1M167 297.5h1M166 322.5h1M162 307.5h1M174 313.5h1M169 300.5h1M178 321.5h1M183 299.5h1M159 310.5h1M161 317.5h1M173 325.5h1M172 330.5h1M192 318.5h1M171 312.5h1M156 317.5h1M169 309.5h1M167 345.5h1M164 315.5h1M172 309.5h1M182 315.5h1M186 341.5h1M172 303.5h1M181 295.5h1M166 319.5h1M192 322.5h1M172 342.5h1M150 330.5h1M172 307.5h1M170 314.5h1M177 318.5h1M166 321.5h1M175 324.5h1M182 313.5h1M193 308.5h1M169 318.5h1M164 336.5h1M176 300.5h1M172 308.5h1M185 317.5h1M161 305.5h1M200 304.5h1M170 314.5h1M169 306.5h1M149 327.5h1M185 337.5h1M160 318.5h1M164 310.5h1M165 306.5h1M184 339.5h1M192 306.5h1M166 328.5h1M173 325.5h1M165 307.5h1M169 334.5h1M168 305.5h1M174 309.5h1M182 330.5h1M195 307.5h1M177 320.5h1M175 315.5h1M158 320.5h1M162 335.5h1M161 318.5h1M183 331.5h1M182 313.5h1M151 337.5h1M167 331.5h1M167 341.5h1M180 303.5h1M154 311.5h1M170 323.5h1M170 333.5h1M187 315.5h1M155 309.5h1M175 316.5h1M153 333.5h1M173 299.5h1M168 307.5h1M184 319.5h1M175 300.5h1M165 314.5h1M168 316.5h1M171 305.5h1M181 318.5h1M172 321.5h1M177 321.5h1M163 318.5h1M184 316.5h1M177 307.5h1M182 325.5h1M189 301.5h1M164 334.5h1M172 321.5h1M185 301.5h1M171 323.5h1M162 334.5h1M200 318.5h1M169 306.5h1M169 333.5h1M181 312.5h1M172 333.5h1M155 324.5h1M179 325.5h1M166 319.5h1M156 320.5h1M158 311.5h1M156 320.5h1M169 313.5h1M182 326.5h1M169 303.5h1M161 314.5h1M156 325.5h1M157 325.5h1M171 320.5h1M189 307.5h1M171 303.5h1M158 316.5h1M188 316.5h1M157 323.5h1M179 307.5h1M163 316.5h1M177 309.5h1M169 305.5h1M163 314.5h1M169 309.5h1M175 337.5h1M166 313.5h1M181 308.5h1M173 307.5h1M184 326.5h1M158 321.5h1M168 297.5h1M164 336.5h1M160 319.5h1M172 312.5h1M159 325.5h1M195 312.5h1M177 304.5h1M168 322.5h1M163 318.5h1M163 330.5h1M154 324.5h1M174 312.5h1M173 308.5h1M165 306.5h1M174 314.5h1M161 317.5h1M174 313.5h1M158 328.5h1M177 321.5h1M178 299.5h1M174 298.5h1M170 323.5h1M164 316.5h1M180 302.5h1M195 308.5h1M159 329.5h1M160 313.5h1M178 319.5h1M196 318.5h1M165 324.5h1M183 316.5h1M156 308.5h1M192 296.5h1M176 314.5h1M177 323.5h1M168 319.5h1M185 312.5h1M185 317.5h1M165 328.5h1M181 321.5h1M153 322.5h1M176 332.5h1M163 330.5h1M168 334.5h1M178 333.5h1M153 316.5h1M193 326.5h1M168 301.5h1M182 329.5h1M164 327.5h1M162 296.5h1M168 344.5h1M169 303.5h1M177 311.5h1M185 312.5h1M171 320.5h1M170 335.5h1M168 322.5h1M166 303.5h1M170 327.5h1M166 323.5h1M153 323.5h1M149 316.5h1M184 314.5h1M174 312.5h1M168 332.5h1M169 332.5h1M172 325.5h1M182 317.5h1M177 339.5h1M187 332.5h1M162 342.5h1M162 328.5h1M167 306.5h1M184 313.5h1M165 329.5h1M162 321.5h1M174 306.5h1M171 322.5h1M169 323.5h1M163 301.5h1M177 318.5h1M185 311.5h1M191 321.5h1M165 320.5h1M174 320.5h1M158 306.5h1M165 332.5h1M159 322.5h1M173 303.5h1M148 322.5h1M190 317.5h1M163 305.5h1M172 319.5h1M178 313.5h1M179 315.5h1M185 309.5h1M172 324.5h1M189 334.5h1M167 317.5h1M187 300.5h1M187 315.5h1M166 327.5h1M153 306.5h1M165 322.5h1M176 320.5h1M162 305.5h1M197 302.5h1M160 335.5h1M185 312.5h1M178 315.5h1M162 320.5h1M167 315.5h1M175 327.5h1M174 318.5h1M180 308.5h1M164 334.5h1M183 306.5h1M175 326.5h1M190 308.5h1M176 314.5h1M190 313.5h1M174 310.5h1M183 309.5h1M180 323.5h1M171 329.5h1M182 314.5h1M180 312.5h1M188 298.5h1M159 337.5h1M178 325.5h1M171 299.5h1M157 324.5h1M170 319.5h1M182 292.5h1M182 303.5h1M168 327.5h1M183 304.5h1M172 304.5h1M168 308.5h1M178 318.5h1M162 322.5h1M152 308.5h1M176 308.5h1M166 310.5h1M178 293.5h1M166 317.5h1M169 319.5h1M171 312.5h1M181 318.5h1M154 300.5h1M164 323.5h1M184 303.5h1M158 315.5h1M182 314.5h1M171 320.5h1M170 333.5h1M184 304.5h1M157 343.5h1M162 322.5h1M177 314.5h1M175 325.5h1M181 312.5h1M173 319.5h1M173 325.5h1M183 292.5h1M166 315.5h1M171 318.5h1M174 335.5h1M164 321.5h1M188 320.5h1M176 311.5h1M173 317.5h1M172 328.5h1M185 316.5h1M165 338.5h1M155 308.5h1M173 321.5h1M168 327.5h1M167 310.5h1M165 321.5h1M159 318.5h1M196 309.5h1M187 317.5h1M174 317.5h1M183 310.5h1M178 309.5h1M175 300.5h1M200 303.5h1M169 318.5h1M175 315.5h1M168 314.5h1M166 334.5h1M180 323.5h1M196 327.5h1M162 317.5h1M193 316.5h1M186 308.5h1M158 311.5h1M187 307.5h1M182 297.5h1M178 314.5h1M161 322.5h1M184 304.5h1M176 322.5h1M160 312.5h1M176 318.5h1M179 331.5h1M184 310.5h1M175 307.5h1M191 313.5h1M172 307.5h1M162 320.5h1M156 306.5h1M185 313.5h1M165 317.5h1M175 322.5h1M168 322.5h1M179 304.5h1M179 311.5h1M174 318.5h1M176 323.5h1M180 316.5h1M177 308.5h1M175 307.5h1M166 316.5h1M169 307.5h1M171 302.5h1M192 321.5h1M168 327.5h1M172 328.5h1M164 313.5h1M169 311.5h1M181 310.5h1M177 311.5h1M163 311.5h1M176 319.5h1M189 303.5h1M162 317.5h1M172 312.5h1M175 294.5h1M173 312.5h1M152 332.5h1M180 317.5h1M177 327.5h1M172 318.5h1M174 311.5h1M164 314.5h1M180 309.5h1M178 315.5h1M166 310.5h1M176 315.5h1M168 309.5h1M155 307.5h1M164 317.5h1M167 311.5h1M162 323.5h1M162 327.5h1M181 304.5h1M171 319.5h1M165 311.5h1M184 328.5h1M175 319.5h1M169 313.5h1M180 322.5h1M168 325.5h1M186 313.5h1M165 321.5h1M175 303.5h1M148 326.5h1M161 324.5h1M186 313.5h1M170 317.5h1M164 320.5h1M166 305.5h1M181 340.5h1M171 314.5h1M165 317.5h1M165 321.5h1M174 309.5h1M174 304.5h1M164 323.5h1M190 307.5h1M166 321.5h1M149 329.5h1M156 340.5h1M185 303.5h1M181 326.5h1M160 316.5h1M171 327.5h1M170 332.5h1M187 308.5h1M179 323.5h1M189 302.5h1M162 311.5h1M149 334.5h1M169 301.5h1M160 312.5h1M178 325.5h1M182 300.5h1M160 311.5h1M165 293.5h1M184 326.5h1M178 333.5h1M174 310.5h1M171 325.5h1M190 312.5h1M178 306.5h1M180 322.5h1M195 326.5h1M178 312.5h1M170 319.5h1M176 305.5h1M165 314.5h1M177 311.5h1M168 328.5h1M179 320.5h1M189 324.5h1M170 327.5h1M163 315.5h1M164 318.5h1M164 298.5h1M169 325.5h1M190 324.5h1M179 298.5h1M169 308.5h1M169 339.5h1M186 326.5h1M180 307.5h1M166 316.5h1M190 314.5h1M181 314.5h1M182 318.5h1M180 327.5h1M179 330.5h1M170 319.5h1M177 319.5h1M182 317.5h1M196 329.5h1M158 309.5h1M181 322.5h1M177 315.5h1M169 339.5h1M165 322.5h1M178 334.5h1M171 319.5h1M173 321.5h1M165 314.5h1M175 332.5h1M183 315.5h1M177 316.5h1M146 320.5h1M184 326.5h1M163 326.5h1M191 306.5h1M168 320.5h1M166 317.5h1M173 316.5h1M170 318.5h1M171 316.5h1M190 307.5h1M177 317.5h1M192 320.5h1M185 309.5h1M172 331.5h1M188 303.5h1M173 306.5h1M178 306.5h1M163 322.5h1M172 303.5h1M194 328.5h1M166 320.5h1M191 296.5h1M179 313.5h1M181 327.5h1M171 312.5h1M172 302.5h1M175 301.5h1M179 312.5h1M178 302.5h1M178 298.5h1M151 317.5h1M161 314.5h1M165 325.5h1M174 316.5h1M184 303.5h1M177 310.5h1M169 330.5h1M166 315.5h1M187 312.5h1M175 327.5h1M170 316.5h1M180 318.5h1M161 336.5h1M195 323.5h1M170 309.5h1M178 312.5h1M167 327.5h1M164 322.5h1M167 321.5h1M181 319.5h1M160 304.5h1M178 319.5h1M180 295.5h1M170 294.5h1M173 328.5h1M168 323.5h1M193 307.5h1M164 314.5h1M187 307.5h1M194 309.5h1M160 314.5h1M165 314.5h1M181 322.5h1M158 318.5h1M165 325.5h1M151 304.5h1M168 299.5h1M174 325.5h1M174 321.5h1M176 327.5h1M162 329.5h1M185 303.5h1M150 334.5h1M168 323.5h1M189 321.5h1M169 335.5h1M168 303.5h1M175 299.5h1M168 326.5h1M176 316.5h1M166 329.5h1M177 313.5h1M187 327.5h1M169 310.5h1M189 309.5h1M176 312.5h1M177 310.5h1M155 320.5h1M192 329.5h1M166 303.5h1M159 328.5h1M189 310.5h1M186 326.5h1M168 307.5h1M165 324.5h1M170 313.5h1M178 316.5h1M177 325.5h1M168 311.5h1M164 343.5h1M178 299.5h1M177 338.5h1M164 343.5h1M177 335.5h1M158 317.5h1M191 323.5h1M175 333.5h1M171 311.5h1M165 325.5h1M164 301.5h1M184 296.5h1M161 322.5h1M192 322.5h1M173 332.5h1M181 314.5h1M180 312.5h1M171 340.5h1M172 334.5h1M171 333.5h1M154 325.5h1M165 321.5h1M169 328.5h1M164 332.5h1M172 315.5h1M183 317.5h1M165 331.5h1M182 333.5h1M169 313.5h1M165 314.5h1M166 322.5h1M176 307.5h1M177 307.5h1M164 299.5h1M171 318.5h1M199 307.5h1M195 308.5h1M165 317.5h1M165 312.5h1M177 302.5h1M161 320.5h1M175 313.5h1M185 326.5h1M173 328.5h1M185 331.5h1M164 334.5h1M179 331.5h1M157 335.5h1M192 298.5h1M200 316.5h1M178 302.5h1M170 310.5h1M192 317.5h1M182 305.5h1M176 304.5h1M183 311.5h1M160 321.5h1M176 312.5h1M162 316.5h1M163 327.5h1M166 329.5h1M173 310.5h1M176 303.5h1M161 329.5h1M190 304.5h1M191 309.5h1M173 323.5h1M174 325.5h1M172 317.5h1M180 307.5h1M171 322.5h1M165 328.5h1M175 313.5h1M146 327.5h1M166 309.5h1M187 310.5h1M173 312.5h1M182 312.5h1M178 314.5h1M181 312.5h1M179 320.5h1M177 334.5h1M190 335.5h1M172 317.5h1M175 299.5h1M193 308.5h1M173 311.5h1M171 327.5h1M166 323.5h1M178 324.5h1M186 306.5h1M177 315.5h1M191 333.5h1M166 323.5h1M181 310.5h1M194 330.5h1M168 314.5h1M175 317.5h1M185 301.5h1M170 317.5h1M190 305.5h1M191 313.5h1M177 320.5h1M184 312.5h1M156 305.5h1M154 314.5h1M175 323.5h1M170 329.5h1M175 311.5h1M170 314.5h1M183 317.5h1M187 316.5h1M168 308.5h1M171 344.5h1M188 327.5h1M173 331.5h1M173 315.5h1M180 302.5h1M163 335.5h1M187 326.5h1M171 317.5h1M155 331.5h1M179 312.5h1M178 320.5h1M166 319.5h1M169 325.5h1M170 321.5h1M169 342.5h1M159 320.5h1M167 318.5h1M178 327.5h1M172 317.5h1M156 320.5h1M194 326.5h1M171 323.5h1M151 320.5h1M179 335.5h1M172 322.5h1M191 319.5h1M178 314.5h1M189 336.5h1M186 328.5h1M179 319.5h1M188 298.5h1M166 321.5h1M174 311.5h1M171 304.5h1M161 322.5h1M170 311.5h1M182 322.5h1M171 323.5h1M165 294.5h1M176 302.5h1M167 315.5h1M168 310.5h1M195 299.5h1M151 316.5h1M178 318.5h1M181 310.5h1M159 303.5h1M194 325.5h1M172 314.5h1M192 322.5h1M189 310.5h1M173 320.5h1M178 318.5h1M172 317.5h1M176 326.5h1M174 319.5h1M174 336.5h1M182 313.5h1M197 311.5h1M182 298.5h1M193 314.5h1M161 322.5h1M189 306.5h1M170 326.5h1M164 311.5h1M187 300.5h1M180 340.5h1M176 307.5h1M171 317.5h1M170 328.5h1M188 323.5h1M170 321.5h1M184 310.5h1M168 294.5h1M166 333.5h1M155 310.5h1M161 312.5h1M169 332.5h1M171 333.5h1M164 308.5h1M173 320.5h1M160 332.5h1M172 324.5h1M187 321.5h1M167 331.5h1M174 332.5h1M198 313.5h1M186 307.5h1M148 321.5h1M151 320.5h1M177 315.5h1M164 328.5h1M168 317.5h1M160 313.5h1M176 311.5h1M158 344.5h1M160 340.5h1M156 322.5h1M177 323.5h1M176 346.5h1M171 308.5h1M180 312.5h1M171 319.5h1M162 313.5h1M177 313.5h1M193 315.5h1M190 329.5h1M178 313.5h1M182 326.5h1M169 319.5h1M176 334.5h1M178 318.5h1M183 330.5h1M175 322.5h1M184 312.5h1M173 309.5h1M170 301.5h1M163 333.5h1M185 318.5h1M154 311.5h1M165 323.5h1M162 322.5h1M178 303.5h1M169 301.5h1M160 318.5h1M160 324.5h1M168 313.5h1M177 327.5h1M191 306.5h1M163 332.5h1M159 334.5h1M172 320.5h1M171 316.5h1M175 316.5h1M183 313.5h1M202 309.5h1M165 315.5h1M165 319.5h1M167 339.5h1M172 312.5h1M177 307.5h1M171 320.5h1M197 319.5h1M183 325.5h1M190 308.5h1M164 304.5h1M172 333.5h1M171 326.5h1M170 339.5h1M164 337.5h1M173 313.5h1M196 323.5h1M168 314.5h1M172 320.5h1M170 332.5h1M174 302.5h1M169 308.5h1M185 337.5h1M180 312.5h1M170 305.5h1M164 339.5h1M182 313.5h1M167 310.5h1M173 323.5h1M180 329.5h1M192 306.5h1M196 312.5h1M184 297.5h1M178 339.5h1M161 317.5h1M193 320.5h1M164 328.5h1M179 334.5h1M162 336.5h1M180 294.5h1M173 301.5h1M167 305.5h1M176 316.5h1M170 321.5h1M169 320.5h1M174 308.5h1M171 327.5h1M175 299.5h1M167 320.5h1M158 318.5h1M180 303.5h1M167 315.5h1M184 317.5h1M174 324.5h1M166 347.5h1M180 315.5h1M165 331.5h1M176 302.5h1M171 340.5h1M177 316.5h1M167 306.5h1M167 310.5h1M183 311.5h1M151 322.5h1M189 338.5h1M162 320.5h1M178 327.5h1M184 313.5h1M167 322.5h1M192 324.5h1M178 310.5h1M165 338.5h1M170 333.5h1M165 317.5h1M173 313.5h1M155 332.5h1M180 311.5h1M185 315.5h1M170 318.5h1M151 321.5h1M172 316.5h1M163 317.5h1M180 314.5h1M154 302.5h1M192 322.5h1M166 318.5h1M181 301.5h1M154 337.5h1M174 334.5h1M186 320.5h1M164 333.5h1M179 310.5h1M174 337.5h1M183 324.5h1M162 323.5h1M162 315.5h1M179 320.5h1M178 323.5h1M176 326.5h1M170 314.5h1M167 327.5h1M173 303.5h1M163 295.5h1M174 299.5h1M198 310.5h1M167 327.5h1M185 311.5h1M185 309.5h1M183 326.5h1M179 318.5h1M167 321.5h1M187 301.5h1M171 343.5h1M183 334.5h1M180 318.5h1M173 308.5h1M183 300.5h1M161 334.5h1M184 313.5h1M169 335.5h1M176 320.5h1M198 308.5h1M187 308.5h1M183 317.5h1M167 314.5h1M178 315.5h1M172 321.5h1M174 319.5h1M175 322.5h1M166 327.5h1M168 309.5h1M165 315.5h1M169 319.5h1M163 310.5h1M178 309.5h1M183 322.5h1M178 340.5h1M178 323.5h1M178 314.5h1M167 319.5h1M174 300.5h1M184 314.5h1M172 332.5h1M170 310.5h1M180 292.5h1M190 306.5h1M171 316.5h1M170 301.5h1M166 322.5h1M163 331.5h1M194 326.5h1M166 307.5h1M173 309.5h1M173 317.5h1M180 318.5h1M179 331.5h1M178 314.5h1M181 311.5h1M165 311.5h1M189 318.5h1M149 325.5h1M167 325.5h1M176 297.5h1M195 308.5h1M173 313.5h1M164 311.5h1M163 329.5h1M188 324.5h1M182 313.5h1M158 328.5h1M189 322.5h1M189 323.5h1M175 312.5h1M172 334.5h1M173 308.5h1M171 339.5h1M199 316.5h1M181 322.5h1M153 319.5h1M191 311.5h1M183 307.5h1M167 322.5h1M198 304.5h1M158 320.5h1M175 314.5h1M180 304.5h1M195 320.5h1M175 319.5h1M167 329.5h1M171 310.5h1M154 318.5h1M168 328.5h1M172 324.5h1M161 326.5h1M174 293.5h1M170 335.5h1M163 321.5h1M173 322.5h1M176 320.5h1M174 305.5h1M186 315.5h1M180 327.5h1M166 317.5h1M174 318.5h1M182 312.5h1M180 312.5h1M166 319.5h1M161 339.5h1M184 293.5h1M178 306.5h1M164 306.5h1M167 306.5h1M163 317.5h1M168 328.5h1M170 320.5h1M177 324.5h1M164 333.5h1M167 317.5h1M168 304.5h1M180 331.5h1M180 323.5h1M161 339.5h1M180 326.5h1M183 327.5h1M168 332.5h1M151 325.5h1M171 309.5h1M167 325.5h1M177 313.5h1M183 332.5h1M173 308.5h1M168 318.5h1M170 339.5h1M171 317.5h1M173 322.5h1M183 315.5h1M178 328.5h1M176 326.5h1M188 316.5h1M179 304.5h1M177 308.5h1M179 306.5h1M179 315.5h1M183 313.5h1M165 296.5h1M191 326.5h1M165 309.5h1M172 314.5h1M192 295.5h1M178 321.5h1M174 321.5h1M180 329.5h1M184 327.5h1M176 316.5h1M178 339.5h1M152 331.5h1M167 308.5h1M188 325.5h1M173 315.5h1M181 306.5h1M186 302.5h1M173 312.5h1M164 318.5h1M158 323.5h1M154 313.5h1M174 317.5h1M151 331.5h1M187 327.5h1M175 319.5h1M188 320.5h1M160 312.5h1M157 302.5h1M164 321.5h1M180 330.5h1M161 335.5h1M174 316.5h1M184 302.5h1M167 309.5h1M169 308.5h1M174 296.5h1M172 328.5h1M184 314.5h1M164 308.5h1M168 328.5h1M192 317.5h1M184 326.5h1M175 316.5h1M170 308.5h1M162 308.5h1M172 322.5h1M181 316.5h1M158 311.5h1M178 320.5h1M157 314.5h1M160 330.5h1M167 322.5h1M172 324.5h1M172 316.5h1M186 310.5h1M166 338.5h1M176 317.5h1M162 342.5h1M163 325.5h1M169 322.5h1M158 340.5h1M161 336.5h1M177 318.5h1M161 306.5h1M173 319.5h1M172 329.5h1M193 300.5h1M167 315.5h1M169 327.5h1M188 303.5h1M180 314.5h1M170 320.5h1M180 304.5h1M171 313.5h1M191 322.5h1M184 322.5h1M175 304.5h1M166 309.5h1M156 319.5h1M167 324.5h1M172 301.5h1M171 321.5h1M175 318.5h1M191 322.5h1M181 322.5h1M166 335.5h1M172 306.5h1M168 298.5h1M184 313.5h1M183 300.5h1M174 313.5h1M186 315.5h1M199 314.5h1M177 325.5h1M198 311.5h1M189 304.5h1M181 311.5h1M189 302.5h1M182 311.5h1M163 323.5h1M190 313.5h1M169 309.5h1M190 325.5h1M174 316.5h1M181 303.5h1M184 318.5h1M181 334.5h1M173 309.5h1M184 315.5h1M162 319.5h1M164 317.5h1M171 321.5h1M169 323.5h1M169 308.5h1M179 306.5h1M195 306.5h1M182 306.5h1M177 305.5h1M181 306.5h1M183 304.5h1M172 322.5h1M180 312.5h1M183 321.5h1M184 328.5h1M162 315.5h1M175 326.5h1M170 319.5h1M176 339.5h1M177 312.5h1M180 323.5h1M184 321.5h1M187 317.5h1M162 317.5h1M164 311.5h1M177 346.5h1M155 336.5h1M152 330.5h1M195 311.5h1M154 330.5h1M181 317.5h1M193 310.5h1M173 324.5h1M190 306.5h1M199 310.5h1M164 295.5h1M195 299.5h1M184 317.5h1M162 319.5h1M178 313.5h1M160 313.5h1M166 331.5h1M161 327.5h1M191 296.5h1M168 322.5h1M175 319.5h1M169 324.5h1M162 306.5h1M177 324.5h1M175 325.5h1M167 331.5h1M159 327.5h1M165 322.5h1M169 309.5h1M200 307.5h1M180 306.5h1M189 302.5h1M180 315.5h1M172 317.5h1M179 342.5h1M172 316.5h1M156 336.5h1M182 329.5h1M187 303.5h1M165 305.5h1M186 310.5h1M166 317.5h1M165 332.5h1M176 327.5h1M178 327.5h1M186 309.5h1M179 291.5h1M162 319.5h1M176 325.5h1M165 312.5h1M172 321.5h1M170 333.5h1M171 314.5h1M184 320.5h1M189 324.5h1M155 320.5h1M187 330.5h1M156 330.5h1M193 319.5h1M166 327.5h1M173 321.5h1M174 324.5h1M186 337.5h1M167 328.5h1M161 334.5h1M194 307.5h1M176 315.5h1M168 309.5h1M196 303.5h1M171 317.5h1M187 320.5h1M171 315.5h1M178 302.5h1M159 297.5h1M170 309.5h1M169 317.5h1M165 306.5h1M190 313.5h1M150 330.5h1M177 322.5h1M175 325.5h1M163 313.5h1M157 334.5h1M170 302.5h1M178 334.5h1M170 318.5h1M174 325.5h1M163 334.5h1M185 334.5h1M153 328.5h1M165 325.5h1M179 326.5h1M184 326.5h1M181 322.5h1M162 310.5h1M191 298.5h1M180 315.5h1M161 325.5h1M169 323.5h1M167 322.5h1M167 314.5h1M167 321.5h1M161 320.5h1M196 310.5h1M174 316.5h1M174 323.5h1M171 319.5h1M172 320.5h1M189 308.5h1M180 315.5h1M175 301.5h1M186 322.5h1M178 304.5h1M182 293.5h1M176 319.5h1M160 332.5h1M185 317.5h1M171 324.5h1M152 327.5h1M163 318.5h1M181 307.5h1M185 308.5h1M192 321.5h1M163 325.5h1M190 291.5h1M157 321.5h1M158 305.5h1M160 328.5h1M177 299.5h1M186 320.5h1M172 301.5h1M168 311.5h1M163 309.5h1M170 311.5h1M156 332.5h1M170 299.5h1M186 313.5h1M166 317.5h1M166 310.5h1M182 319.5h1M195 310.5h1M174 310.5h1M173 316.5h1M165 318.5h1M157 327.5h1M175 327.5h1M172 314.5h1M163 312.5h1M177 319.5h1M182 312.5h1M186 320.5h1M170 309.5h1M164 299.5h1M185 324.5h1M168 313.5h1M171 307.5h1M165 336.5h1M186 308.5h1M172 335.5h1M186 314.5h1M173 316.5h1M177 303.5h1M173 316.5h1M160 320.5h1M181 306.5h1M184 323.5h1M164 307.5h1M166 309.5h1M187 312.5h1M167 298.5h1M172 312.5h1M161 330.5h1M156 309.5h1M193 332.5h1M200 310.5h1M171 309.5h1M175 319.5h1M190 312.5h1M162 308.5h1M170 314.5h1M184 323.5h1M167 335.5h1M175 303.5h1M164 302.5h1M187 332.5h1M163 326.5h1M178 317.5h1M198 315.5h1M170 324.5h1M178 337.5h1M181 316.5h1M149 321.5h1M153 334.5h1M164 316.5h1M164 319.5h1M169 317.5h1M162 316.5h1M185 321.5h1M175 321.5h1M163 317.5h1M176 326.5h1M182 314.5h1M172 300.5h1M169 299.5h1M184 314.5h1M162 322.5h1M169 318.5h1M180 319.5h1M157 328.5h1M181 300.5h1M175 313.5h1M165 307.5h1M165 315.5h1M160 317.5h1M162 314.5h1M168 334.5h1M166 321.5h1M172 317.5h1M170 330.5h1M181 303.5h1M163 325.5h1M188 301.5h1M184 312.5h1M160 320.5h1M187 325.5h1M177 301.5h1M172 318.5h1M162 326.5h1M192 331.5h1M176 288.5h1M175 341.5h1M184 317.5h1M169 313.5h1M177 322.5h1M174 323.5h1M188 334.5h1M185 310.5h1M177 310.5h1M161 322.5h1M188 304.5h1M162 327.5h1M176 308.5h1M180 319.5h1M189 310.5h1M162 301.5h1M188 312.5h1M164 309.5h1M181 307.5h1M165 304.5h1M195 301.5h1M164 320.5h1M180 303.5h1M179 314.5h1M173 313.5h1M175 327.5h1M178 313.5h1M165 333.5h1M157 324.5h1M180 311.5h1M172 340.5h1M188 306.5h1M172 320.5h1M182 320.5h1M164 307.5h1M174 310.5h1M165 314.5h1M177 325.5h1M176 320.5h1M174 301.5h1M193 315.5h1M181 302.5h1M176 313.5h1M176 322.5h1M160 331.5h1M187 317.5h1M179 307.5h1M180 328.5h1M190 317.5h1M173 296.5h1M180 320.5h1M198 320.5h1M169 308.5h1M166 337.5h1M171 321.5h1M171 306.5h1M164 322.5h1M157 310.5h1M167 326.5h1M169 313.5h1M182 322.5h1M180 307.5h1M168 300.5h1M171 312.5h1M174 313.5h1M189 328.5h1M177 318.5h1M195 310.5h1M149 334.5h1M178 323.5h1M173 311.5h1M190 312.5h1M151 315.5h1M185 321.5h1M179 308.5h1M150 304.5h1M157 333.5h1M178 325.5h1M160 324.5h1M171 304.5h1M161 319.5h1M202 313.5h1M173 314.5h1M184 337.5h1M156 309.5h1M165 326.5h1M180 316.5h1M180 299.5h1M168 315.5h1M190 315.5h1M154 315.5h1M178 315.5h1M152 321.5h1M172 295.5h1M173 298.5h1M155 330.5h1M169 335.5h1M159 320.5h1M167 296.5h1M164 315.5h1M160 308.5h1M185 315.5h1M167 309.5h1M168 308.5h1M183 329.5h1M195 316.5h1M173 328.5h1M186 301.5h1M168 317.5h1M169 325.5h1M179 311.5h1M178 313.5h1M158 334.5h1M171 311.5h1M160 326.5h1M168 324.5h1M178 308.5h1M170 327.5h1M170 308.5h1M175 323.5h1M176 288.5h1M173 318.5h1M163 326.5h1M171 331.5h1M169 327.5h1M173 314.5h1M173 316.5h1M186 312.5h1M184 322.5h1M174 315.5h1M175 313.5h1M168 314.5h1M166 306.5h1M182 311.5h1M195 322.5h1M170 322.5h1M174 345.5h1M177 332.5h1M168 307.5h1M150 336.5h1M175 325.5h1M182 316.5h1M170 322.5h1M178 338.5h1M183 297.5h1M187 306.5h1M158 307.5h1M192 311.5h1M176 298.5h1M170 331.5h1M174 331.5h1M166 314.5h1M168 329.5h1M180 321.5h1M165 330.5h1M170 314.5h1M179 304.5h1M163 305.5h1M165 314.5h1M170 327.5h1M196 320.5h1M174 322.5h1M170 311.5h1M184 325.5h1M183 323.5h1M172 316.5h1M170 326.5h1M157 312.5h1M174 311.5h1M169 314.5h1M151 316.5h1M172 326.5h1M168 323.5h1M181 324.5h1M173 313.5h1M166 309.5h1M158 314.5h1M174 317.5h1M168 334.5h1M184 326.5h1M160 331.5h1M156 317.5h1M182 343.5h1M195 325.5h1M153 319.5h1M188 325.5h1M167 319.5h1M173 336.5h1M155 326.5h1M171 308.5h1M175 312.5h1M173 304.5h1M187 300.5h1M171 311.5h1M161 303.5h1M164 311.5h1M179 320.5h1M177 325.5h1M168 327.5h1M190 300.5h1M158 334.5h1M180 318.5h1M172 309.5h1M174 315.5h1M163 323.5h1M172 319.5h1M165 317.5h1M174 335.5h1M161 307.5h1M167 318.5h1M165 319.5h1M174 307.5h1M157 320.5h1M171 308.5h1M166 321.5h1M178 314.5h1M186 327.5h1M173 313.5h1M168 328.5h1M169 326.5h1M148 309.5h1M189 327.5h1M178 310.5h1M172 299.5h1M162 315.5h1M164 308.5h1M170 340.5h1M163 344.5h1M161 321.5h1M170 325.5h1M148 320.5h1M157 332.5h1M175 311.5h1M163 322.5h1M162 334.5h1M190 295.5h1M179 320.5h1M171 320.5h1M182 314.5h1M165 322.5h1M196 312.5h1M172 341.5h1M159 326.5h1M170 317.5h1M174 330.5h1M185 306.5h1M168 339.5h1M151 311.5h1M186 325.5h1M164 301.5h1M187 313.5h1M172 311.5h1M192 299.5h1M172 324.5h1M167 310.5h1M173 304.5h1M172 322.5h1M177 326.5h1M153 308.5h1M157 314.5h1M163 327.5h1M171 324.5h1M158 330.5h1M175 313.5h1M151 324.5h1M196 305.5h1M185 302.5h1M187 312.5h1M161 311.5h1M154 311.5h1M183 307.5h1M170 312.5h1M166 303.5h1M169 326.5h1M188 314.5h1M158 318.5h1M169 313.5h1M161 335.5h1M156 314.5h1M174 311.5h1M183 333.5h1M166 319.5h1M179 311.5h1M157 306.5h1M182 306.5h1M155 341.5h1M173 309.5h1M174 311.5h1M171 341.5h1M162 328.5h1M182 311.5h1M153 318.5h1M149 308.5h1M186 319.5h1M177 327.5h1M183 318.5h1M171 330.5h1M180 319.5h1M180 307.5h1M167 307.5h1M165 346.5h1M189 321.5h1M187 329.5h1M157 319.5h1M173 296.5h1M171 343.5h1M199 311.5h1M167 322.5h1M176 296.5h1M164 311.5h1M161 328.5h1M168 312.5h1M172 312.5h1M181 316.5h1M166 295.5h1M165 326.5h1M185 320.5h1M182 314.5h1M182 330.5h1M165 326.5h1M157 319.5h1M188 319.5h1M170 303.5h1M150 312.5h1M159 327.5h1M191 314.5h1M167 337.5h1M176 318.5h1M176 333.5h1M168 342.5h1M175 318.5h1M172 320.5h1M179 300.5h1M199 304.5h1M157 307.5h1M172 301.5h1M174 302.5h1M173 326.5h1M152 314.5h1M187 305.5h1M156 309.5h1M164 311.5h1M177 326.5h1M175 322.5h1M153 311.5h1M170 304.5h1M183 307.5h1M168 320.5h1M160 329.5h1M179 322.5h1M162 332.5h1M172 327.5h1M185 309.5h1M187 293.5h1M183 320.5h1M159 322.5h1M177 310.5h1M149 333.5h1M160 318.5h1M174 295.5h1M173 307.5h1M156 325.5h1M161 334.5h1M175 306.5h1M179 324.5h1M170 324.5h1M170 309.5h1M168 323.5h1M154 332.5h1M187 317.5h1M157 315.5h1M169 330.5h1M159 327.5h1M174 315.5h1M159 319.5h1M180 314.5h1M178 326.5h1M195 320.5h1M172 323.5h1M176 331.5h1M153 332.5h1M153 318.5h1M195 325.5h1M160 327.5h1M155 319.5h1M173 312.5h1M174 311.5h1M163 320.5h1M169 313.5h1M147 322.5h1M165 316.5h1M189 317.5h1M189 305.5h1M169 318.5h1M177 325.5h1M178 315.5h1M185 311.5h1M181 317.5h1M161 320.5h1M178 317.5h1M188 316.5h1M172 329.5h1M162 329.5h1M160 299.5h1M173 312.5h1M168 299.5h1M169 313.5h1M184 337.5h1M166 319.5h1M171 332.5h1M176 335.5h1M176 329.5h1M155 310.5h1M193 317.5h1M168 333.5h1M163 310.5h1M163 318.5h1M197 315.5h1M175 316.5h1M174 324.5h1M180 311.5h1M167 312.5h1M173 325.5h1M187 305.5h1M167 301.5h1M200 313.5h1M184 309.5h1M175 307.5h1M183 324.5h1M169 331.5h1M188 319.5h1M172 316.5h1M182 315.5h1M166 312.5h1M159 317.5h1M164 326.5h1M181 313.5h1M180 304.5h1M170 320.5h1M185 321.5h1M175 298.5h1M164 323.5h1M164 315.5h1M174 336.5h1M175 301.5h1M158 301.5h1M164 318.5h1M171 342.5h1M171 319.5h1M181 309.5h1M169 319.5h1M171 323.5h1M174 308.5h1M167 332.5h1M171 315.5h1M182 316.5h1M166 324.5h1M158 318.5h1M178 318.5h1M167 314.5h1M178 325.5h1M177 318.5h1M176 317.5h1M156 318.5h1M173 328.5h1M167 305.5h1M192 317.5h1M184 306.5h1M159 319.5h1M176 303.5h1M186 317.5h1M182 325.5h1M170 307.5h1M189 318.5h1M182 297.5h1M169 330.5h1M177 312.5h1M154 304.5h1M159 309.5h1M175 301.5h1M190 319.5h1M162 324.5h1M170 319.5h1M175 316.5h1M151 321.5h1M193 321.5h1M170 316.5h1M173 315.5h1M181 319.5h1M173 290.5h1M183 325.5h1M170 320.5h1M185 301.5h1M186 336.5h1M180 331.5h1M170 336.5h1M175 302.5h1M167 309.5h1M172 309.5h1M172 314.5h1M189 333.5h1M165 323.5h1M171 328.5h1M167 306.5h1M163 307.5h1M161 320.5h1M163 316.5h1M173 333.5h1M183 304.5h1M173 337.5h1M172 304.5h1M193 312.5h1M173 320.5h1M185 316.5h1M160 340.5h1M166 318.5h1M164 336.5h1M172 314.5h1M181 324.5h1M156 315.5h1M185 313.5h1M168 307.5h1M152 308.5h1M188 338.5h1M169 337.5h1M173 320.5h1M180 290.5h1M171 327.5h1M173 311.5h1M174 327.5h1M174 306.5h1M186 321.5h1M164 314.5h1M184 334.5h1M168 294.5h1M170 318.5h1M185 317.5h1M152 307.5h1M150 327.5h1M167 306.5h1M178 317.5h1M163 318.5h1M166 317.5h1M188 325.5h1M164 319.5h1M177 315.5h1M161 311.5h1M177 323.5h1M173 327.5h1M165 324.5h1M171 309.5h1M172 324.5h1M178 313.5h1M176 303.5h1M171 313.5h1M152 324.5h1M165 322.5h1M187 315.5h1M185 331.5h1M160 319.5h1M175 320.5h1M179 315.5h1M177 317.5h1M190 322.5h1M170 327.5h1M191 337.5h1M174 322.5h1M180 323.5h1M168 316.5h1M164 331.5h1M182 304.5h1M179 298.5h1M192 307.5h1M181 311.5h1M172 324.5h1M171 319.5h1M193 325.5h1M160 320.5h1M184 319.5h1M173 318.5h1M182 290.5h1M165 331.5h1M182 326.5h1M174 333.5h1M189 333.5h1M160 315.5h1M181 325.5h1M177 306.5h1M177 307.5h1M180 319.5h1M173 317.5h1M175 317.5h1M178 319.5h1M177 312.5h1M173 317.5h1M185 319.5h1M173 338.5h1M186 316.5h1M185 301.5h1M163 306.5h1M151 320.5h1M181 303.5h1M163 314.5h1M163 312.5h1M177 311.5h1M173 311.5h1M185 308.5h1M178 312.5h1M159 304.5h1M167 343.5h1M164 327.5h1M179 320.5h1M171 305.5h1M151 315.5h1M171 325.5h1M154 331.5h1M153 331.5h1M185 331.5h1M177 317.5h1M170 322.5h1M168 313.5h1M159 326.5h1M176 310.5h1M181 325.5h1M181 320.5h1M183 316.5h1M165 319.5h1M187 316.5h1M171 296.5h1M173 311.5h1M200 320.5h1M155 312.5h1M179 308.5h1M179 318.5h1M165 326.5h1M187 330.5h1M167 321.5h1M188 339.5h1M182 323.5h1M170 299.5h1M161 312.5h1M177 318.5h1M170 337.5h1M166 310.5h1M182 307.5h1M178 309.5h1M172 309.5h1M178 329.5h1M159 321.5h1M189 332.5h1M151 320.5h1M176 339.5h1M185 313.5h1M171 330.5h1M181 296.5h1M156 325.5h1M173 311.5h1M160 324.5h1M171 313.5h1M166 327.5h1M189 330.5h1M190 334.5h1M188 337.5h1M177 313.5h1M186 305.5h1M170 324.5h1M178 308.5h1M176 318.5h1M181 324.5h1M202 307.5h1M158 315.5h1M152 328.5h1M182 329.5h1M174 321.5h1M163 304.5h1M192 305.5h1M182 304.5h1M161 314.5h1M191 325.5h1M192 307.5h1M175 316.5h1M181 320.5h1M160 299.5h1M155 325.5h1M165 323.5h1M183 321.5h1M170 307.5h1M161 322.5h1M175 324.5h1M176 321.5h1M184 329.5h1M179 312.5h1M167 311.5h1M166 309.5h1M158 326.5h1M159 321.5h1M180 318.5h1M165 335.5h1M166 307.5h1M165 320.5h1M173 330.5h1M174 308.5h1M161 318.5h1M161 321.5h1M167 323.5h1M178 320.5h1M172 317.5h1M177 324.5h1M178 307.5h1M180 329.5h1M152 338.5h1M186 307.5h1M157 321.5h1M172 317.5h1M154 323.5h1M146 312.5h1M171 324.5h1M186 315.5h1M176 307.5h1M169 324.5h1M176 312.5h1M175 325.5h1M170 313.5h1M174 316.5h1M195 326.5h1M170 325.5h1M169 317.5h1M165 308.5h1M178 321.5h1M173 330.5h1M177 294.5h1M174 326.5h1M178 310.5h1M171 313.5h1M177 302.5h1M156 337.5h1M198 306.5h1M163 313.5h1M167 332.5h1M178 320.5h1M170 307.5h1M172 336.5h1M173 325.5h1M185 307.5h1M168 335.5h1M187 332.5h1M164 315.5h1M184 293.5h1M169 319.5h1M186 308.5h1M166 322.5h1M162 321.5h1M189 315.5h1M181 314.5h1M164 337.5h1M172 307.5h1M176 310.5h1M179 332.5h1M180 320.5h1M161 303.5h1M177 329.5h1M167 322.5h1M173 328.5h1M161 312.5h1M163 330.5h1M176 321.5h1M171 339.5h1M176 319.5h1M166 313.5h1M160 323.5h1M190 319.5h1M176 290.5h1M185 307.5h1M171 337.5h1M182 305.5h1M180 320.5h1M177 322.5h1M174 327.5h1M174 318.5h1M188 308.5h1M191 324.5h1M166 318.5h1M172 327.5h1M160 314.5h1M173 309.5h1M183 297.5h1M164 326.5h1M163 309.5h1M173 323.5h1M175 331.5h1M173 312.5h1M165 333.5h1M164 326.5h1M186 310.5h1M166 306.5h1M172 308.5h1M168 322.5h1M173 324.5h1M168 306.5h1M175 327.5h1M168 331.5h1M167 313.5h1M175 306.5h1M149 314.5h1M183 310.5h1M193 324.5h1M161 321.5h1M163 309.5h1M174 319.5h1M166 302.5h1M164 300.5h1M168 334.5h1M167 333.5h1M191 317.5h1M170 313.5h1M171 309.5h1M171 311.5h1M195 312.5h1M170 334.5h1M193 317.5h1M180 336.5h1M189 320.5h1M196 316.5h1M164 332.5h1M173 311.5h1M166 316.5h1M171 321.5h1M179 322.5h1M165 327.5h1M161 323.5h1M181 314.5h1M179 310.5h1M171 325.5h1M166 335.5h1M191 297.5h1M190 315.5h1M168 308.5h1M178 338.5h1M165 320.5h1M186 325.5h1M154 317.5h1M179 297.5h1M181 322.5h1M180 317.5h1M174 335.5h1M167 326.5h1M164 322.5h1M155 298.5h1M182 329.5h1M161 312.5h1M180 319.5h1M173 314.5h1M178 299.5h1M167 316.5h1M162 324.5h1M175 319.5h1M184 305.5h1M168 322.5h1M164 309.5h1M182 331.5h1M180 317.5h1M185 324.5h1M175 332.5h1M178 325.5h1M172 302.5h1M165 294.5h1M170 300.5h1M189 318.5h1M170 320.5h1M179 329.5h1M177 306.5h1M154 320.5h1M168 314.5h1M152 329.5h1M172 322.5h1M183 337.5h1M180 342.5h1M178 313.5h1M163 321.5h1M160 313.5h1M174 322.5h1M167 324.5h1M182 303.5h1M161 315.5h1M175 316.5h1M172 337.5h1M161 315.5h1M168 318.5h1M168 318.5h1M179 331.5h1M174 317.5h1M199 315.5h1M188 332.5h1M174 321.5h1M174 324.5h1M188 291.5h1M174 294.5h1M178 313.5h1M165 300.5h1M173 328.5h1M166 314.5h1M185 324.5h1M173 316.5h1M169 328.5h1M169 326.5h1M173 309.5h1M190 327.5h1M156 336.5h1M180 322.5h1M182 306.5h1M165 321.5h1M178 318.5h1M165 333.5h1M189 318.5h1M161 324.5h1M169 334.5h1M167 318.5h1M158 314.5h1M172 336.5h1M168 306.5h1M179 319.5h1M182 299.5h1M165 330.5h1M156 328.5h1M171 321.5h1M166 306.5h1M171 310.5h1M176 304.5h1M149 320.5h1M173 330.5h1M162 310.5h1M179 310.5h1M188 323.5h1M166 318.5h1M167 328.5h1M167 299.5h1M184 312.5h1M193 293.5h1M170 318.5h1M201 316.5h1M160 325.5h1M177 329.5h1M157 315.5h1M157 311.5h1M167 326.5h1M182 333.5h1M171 317.5h1M168 321.5h1M173 307.5h1M175 320.5h1M183 326.5h1M186 305.5h1M183 321.5h1M161 305.5h1M179 323.5h1M179 322.5h1M178 313.5h1M177 333.5h1M185 310.5h1M186 305.5h1M186 311.5h1M172 324.5h1M151 324.5h1M167 319.5h1M185 325.5h1M183 313.5h1M166 314.5h1M176 325.5h1M184 304.5h1M168 324.5h1M177 305.5h1M182 311.5h1M164 331.5h1M182 321.5h1M166 320.5h1M173 332.5h1M146 323.5h1M162 332.5h1M178 316.5h1M164 316.5h1M176 316.5h1M165 327.5h1M171 321.5h1M177 325.5h1M169 338.5h1M166 337.5h1M168 306.5h1M179 321.5h1M169 329.5h1M176 322.5h1M173 307.5h1M172 288.5h1M174 332.5h1M174 309.5h1M188 298.5h1M176 319.5h1M180 301.5h1M178 299.5h1M171 316.5h1M167 341.5h1M167 300.5h1M175 303.5h1M173 299.5h1M194 317.5h1M175 320.5h1M172 328.5h1M165 318.5h1M162 309.5h1M191 327.5h1M169 322.5h1M175 318.5h1M172 303.5h1M176 315.5h1M201 305.5h1M191 300.5h1M173 335.5h1M175 328.5h1M163 329.5h1M168 331.5h1M175 311.5h1M178 337.5h1M147 312.5h1M161 312.5h1M174 306.5h1M181 329.5h1M187 335.5h1M187 315.5h1M179 315.5h1M159 299.5h1M170 301.5h1M170 330.5h1M165 308.5h1M159 315.5h1M181 308.5h1M170 302.5h1M163 325.5h1M189 310.5h1M174 336.5h1M183 308.5h1M167 309.5h1M177 335.5h1M177 338.5h1M167 317.5h1M154 312.5h1M181 316.5h1M157 326.5h1M159 306.5h1M185 327.5h1M167 342.5h1M158 300.5h1M166 331.5h1M155 341.5h1M167 322.5h1M163 313.5h1M170 301.5h1M169 321.5h1M187 307.5h1M184 305.5h1M179 306.5h1M173 297.5h1M175 314.5h1M155 311.5h1M185 318.5h1M176 306.5h1M161 304.5h1M161 312.5h1M159 330.5h1M185 317.5h1M182 319.5h1M165 331.5h1M172 315.5h1M181 313.5h1M184 328.5h1M185 316.5h1M175 308.5h1M155 326.5h1M182 330.5h1M180 316.5h1M193 320.5h1M188 309.5h1M172 318.5h1M181 314.5h1M187 311.5h1M196 310.5h1M181 338.5h1M171 321.5h1M167 329.5h1M168 301.5h1M176 341.5h1M179 304.5h1M170 300.5h1M192 326.5h1M152 333.5h1M171 305.5h1M199 283.5h1M199 266.5h1M189 287.5h1M205 291.5h1M185 296.5h1M193 284.5h1M210 279.5h1M199 296.5h1M201 296.5h1M185 277.5h1M182 268.5h1M174 307.5h1M181 281.5h1M198 304.5h1M185 276.5h1M185 266.5h1M182 277.5h1M210 276.5h1M176 297.5h1M190 294.5h1M177 297.5h1M198 291.5h1M193 287.5h1M195 294.5h1M179 302.5h1M193 290.5h1M181 289.5h1M191 277.5h1M187 290.5h1M202 273.5h1M197 287.5h1M178 313.5h1M185 287.5h1M181 307.5h1M198 274.5h1M204 270.5h1M193 289.5h1M201 286.5h1M196 316.5h1M171 316.5h1M184 293.5h1M198 296.5h1M166 300.5h1M202 292.5h1M187 280.5h1M195 279.5h1M202 266.5h1M190 273.5h1M183 289.5h1M193 287.5h1M205 285.5h1M194 308.5h1M201 270.5h1M187 269.5h1M184 288.5h1M188 297.5h1M194 274.5h1M186 268.5h1M212 268.5h1M194 272.5h1M192 284.5h1M204 282.5h1M193 305.5h1M188 273.5h1M178 307.5h1M197 284.5h1M196 281.5h1M173 305.5h1M207 262.5h1M171 296.5h1M203 276.5h1M195 299.5h1M196 285.5h1M195 301.5h1M191 269.5h1M193 257.5h1M194 275.5h1M196 278.5h1M201 290.5h1M199 296.5h1M194 279.5h1M193 285.5h1M196 293.5h1M185 309.5h1M178 285.5h1M190 276.5h1M189 294.5h1M193 283.5h1M182 284.5h1M182 300.5h1M184 299.5h1M199 305.5h1M204 300.5h1M205 300.5h1M184 303.5h1M174 314.5h1M205 283.5h1M186 292.5h1M188 288.5h1M186 274.5h1M189 269.5h1M198 289.5h1M185 267.5h1M188 296.5h1M193 301.5h1M192 296.5h1M207 269.5h1M200 303.5h1M193 268.5h1M189 289.5h1M212 280.5h1M186 290.5h1M191 289.5h1M187 290.5h1M192 288.5h1M203 291.5h1M189 296.5h1M184 307.5h1M205 265.5h1M178 287.5h1M166 305.5h1M194 300.5h1M203 270.5h1M177 308.5h1M206 302.5h1M183 315.5h1M187 265.5h1M205 289.5h1M201 287.5h1M209 273.5h1M202 264.5h1M201 275.5h1M191 297.5h1M194 313.5h1M180 299.5h1M179 311.5h1M212 267.5h1M191 290.5h1M188 283.5h1M206 292.5h1M196 300.5h1M209 276.5h1M196 293.5h1M169 309.5h1M202 277.5h1M179 293.5h1M195 285.5h1M183 280.5h1M189 266.5h1M192 299.5h1M201 289.5h1M192 282.5h1M203 293.5h1M201 281.5h1M204 299.5h1M201 271.5h1M187 297.5h1M169 300.5h1M190 287.5h1M207 275.5h1M190 295.5h1M198 302.5h1M190 292.5h1M196 287.5h1M188 288.5h1M188 280.5h1M195 320.5h1M202 266.5h1M192 277.5h1M196 305.5h1M189 261.5h1M202 285.5h1M178 300.5h1M198 261.5h1M191 286.5h1M169 311.5h1M207 283.5h1M197 296.5h1M200 310.5h1M187 288.5h1M183 317.5h1M191 277.5h1M186 288.5h1M201 298.5h1M198 266.5h1M191 286.5h1M186 296.5h1M182 299.5h1M193 289.5h1M201 274.5h1M180 291.5h1M193 306.5h1M209 281.5h1M199 291.5h1M185 284.5h1M211 262.5h1M168 296.5h1M185 315.5h1M194 294.5h1M195 279.5h1M191 267.5h1M184 306.5h1M207 281.5h1M192 274.5h1M180 283.5h1M188 285.5h1M184 298.5h1M203 286.5h1M182 315.5h1M203 266.5h1M200 275.5h1M192 294.5h1M207 285.5h1M195 279.5h1M187 296.5h1M187 308.5h1M176 314.5h1M185 289.5h1M179 308.5h1M186 287.5h1M207 289.5h1M186 292.5h1M183 299.5h1M207 275.5h1M193 291.5h1M200 275.5h1M186 307.5h1M203 311.5h1M208 252.5h1M197 293.5h1M183 301.5h1M193 292.5h1M185 293.5h1M183 304.5h1M192 295.5h1M189 286.5h1M186 284.5h1M179 311.5h1M186 311.5h1M208 282.5h1M179 288.5h1M195 267.5h1M203 289.5h1M191 312.5h1M191 277.5h1M190 304.5h1M197 286.5h1M210 260.5h1M183 284.5h1M202 281.5h1M196 285.5h1M185 270.5h1M179 287.5h1M190 281.5h1M187 276.5h1M200 306.5h1M206 281.5h1M176 277.5h1M190 290.5h1M191 293.5h1M200 290.5h1M210 277.5h1M172 284.5h1M186 301.5h1M186 298.5h1M211 281.5h1M195 285.5h1M192 282.5h1M197 282.5h1M191 280.5h1M198 293.5h1M182 300.5h1M181 292.5h1M189 284.5h1M193 281.5h1M191 293.5h1M197 298.5h1M199 267.5h1M192 296.5h1M202 289.5h1M184 289.5h1M199 307.5h1M186 311.5h1M183 292.5h1M179 295.5h1M202 278.5h1M184 303.5h1M185 291.5h1M198 280.5h1M198 293.5h1M193 279.5h1M198 276.5h1M179 310.5h1M181 288.5h1M183 299.5h1M207 272.5h1M191 289.5h1M182 273.5h1M211 269.5h1M192 294.5h1M200 291.5h1M193 281.5h1M201 297.5h1M199 269.5h1M193 274.5h1M207 278.5h1M200 291.5h1M202 299.5h1M190 293.5h1M199 298.5h1M185 313.5h1M199 285.5h1M204 280.5h1M186 284.5h1M177 287.5h1M210 297.5h1M201 289.5h1M193 283.5h1M191 302.5h1M194 282.5h1M187 273.5h1M184 282.5h1M193 292.5h1M184 301.5h1M191 297.5h1M200 279.5h1M202 305.5h1M199 283.5h1M189 277.5h1M195 271.5h1M209 293.5h1M198 283.5h1M205 279.5h1M182 302.5h1M202 292.5h1M172 307.5h1M179 315.5h1M182 296.5h1M174 304.5h1M212 290.5h1M202 276.5h1M179 285.5h1M192 290.5h1M183 286.5h1M188 290.5h1M198 289.5h1M193 282.5h1M181 289.5h1M177 293.5h1M178 288.5h1M208 283.5h1M183 290.5h1M192 292.5h1M205 271.5h1M179 301.5h1M185 296.5h1M187 276.5h1M201 284.5h1M185 286.5h1M205 260.5h1M193 287.5h1M204 290.5h1M184 293.5h1M203 265.5h1M193 273.5h1M196 283.5h1M182 311.5h1M193 282.5h1M186 292.5h1M190 280.5h1M185 268.5h1M192 301.5h1M179 276.5h1M187 282.5h1M197 296.5h1M169 293.5h1M195 301.5h1M175 300.5h1M208 280.5h1M202 292.5h1M177 300.5h1M186 284.5h1M188 308.5h1M204 274.5h1M189 266.5h1M190 312.5h1M195 302.5h1M194 285.5h1M198 298.5h1M183 297.5h1M206 304.5h1M190 290.5h1M193 298.5h1M202 290.5h1M189 290.5h1M189 299.5h1M196 290.5h1M174 306.5h1M201 268.5h1M177 309.5h1M182 283.5h1M196 284.5h1M189 279.5h1M198 287.5h1M198 269.5h1M180 300.5h1M196 291.5h1M206 293.5h1M199 300.5h1M196 300.5h1M198 269.5h1M188 298.5h1M191 296.5h1M187 290.5h1M185 288.5h1M183 280.5h1M196 294.5h1M191 281.5h1M188 283.5h1M204 286.5h1M202 270.5h1M193 303.5h1M207 268.5h1M186 292.5h1M211 287.5h1M201 290.5h1M197 296.5h1M177 313.5h1M210 271.5h1M184 296.5h1M193 302.5h1M205 277.5h1M189 285.5h1M204 262.5h1M204 266.5h1M198 279.5h1M187 280.5h1M188 272.5h1M186 307.5h1M200 289.5h1M202 291.5h1M176 287.5h1M202 289.5h1M192 313.5h1M197 275.5h1M194 267.5h1M193 311.5h1M195 287.5h1M201 286.5h1M172 294.5h1M184 300.5h1M201 278.5h1M206 264.5h1M182 301.5h1M194 288.5h1M196 304.5h1M200 297.5h1M179 275.5h1M198 292.5h1M178 292.5h1M181 284.5h1M186 287.5h1M203 275.5h1M177 279.5h1M198 295.5h1M202 277.5h1M192 305.5h1M204 282.5h1M203 277.5h1M205 284.5h1M194 292.5h1M180 281.5h1M193 318.5h1M201 296.5h1M202 289.5h1M203 279.5h1M186 282.5h1M184 290.5h1M183 297.5h1M191 288.5h1M175 276.5h1M210 278.5h1M202 293.5h1M189 295.5h1M190 289.5h1M191 296.5h1M197 295.5h1M186 323.5h1M183 310.5h1M189 307.5h1M200 284.5h1M200 294.5h1M183 280.5h1M198 271.5h1M171 293.5h1M205 276.5h1M195 283.5h1M189 299.5h1M204 269.5h1M184 308.5h1M186 303.5h1M206 300.5h1M198 284.5h1M186 288.5h1M193 294.5h1M188 287.5h1M203 271.5h1M190 285.5h1M171 294.5h1M185 278.5h1M187 305.5h1M199 288.5h1M187 279.5h1M188 292.5h1M199 288.5h1M192 294.5h1M186 294.5h1M206 269.5h1M199 282.5h1M192 293.5h1M198 305.5h1M181 278.5h1M187 276.5h1M187 271.5h1M205 270.5h1M195 282.5h1M180 300.5h1M201 259.5h1M196 276.5h1M210 276.5h1M182 308.5h1M195 296.5h1M176 287.5h1M197 271.5h1M184 304.5h1M179 286.5h1M204 269.5h1M203 283.5h1M191 294.5h1M209 266.5h1M182 305.5h1M189 279.5h1M192 292.5h1M197 282.5h1M183 287.5h1M184 298.5h1M187 281.5h1M182 305.5h1M207 287.5h1M199 297.5h1M212 284.5h1M180 289.5h1M184 295.5h1M199 285.5h1M209 277.5h1M174 313.5h1M195 287.5h1M195 279.5h1M189 310.5h1M195 305.5h1M185 273.5h1M194 303.5h1M188 297.5h1M195 260.5h1M200 309.5h1M181 296.5h1M175 318.5h1M186 303.5h1M181 303.5h1M169 296.5h1M209 264.5h1M191 275.5h1M183 286.5h1M196 277.5h1M192 281.5h1M181 295.5h1M167 304.5h1M182 298.5h1M183 283.5h1M192 294.5h1M190 300.5h1M199 276.5h1M182 300.5h1M195 275.5h1M174 286.5h1M187 283.5h1M184 302.5h1M177 280.5h1M184 297.5h1M177 309.5h1M189 286.5h1M195 291.5h1M207 283.5h1M194 284.5h1M187 303.5h1M195 300.5h1M173 320.5h1M186 304.5h1M207 274.5h1M199 279.5h1M181 277.5h1M190 277.5h1M188 277.5h1M180 311.5h1M178 295.5h1M206 276.5h1M205 275.5h1M190 283.5h1M201 299.5h1M189 293.5h1M186 294.5h1M173 293.5h1M184 316.5h1M190 285.5h1M194 297.5h1M195 294.5h1M204 285.5h1M178 292.5h1M193 279.5h1M180 307.5h1M181 264.5h1M190 283.5h1M201 296.5h1M198 282.5h1M204 270.5h1M177 287.5h1M192 305.5h1M205 259.5h1M185 284.5h1M210 273.5h1M187 297.5h1M211 293.5h1M187 296.5h1M193 294.5h1M174 289.5h1M201 267.5h1M195 284.5h1M176 314.5h1M174 282.5h1M181 298.5h1M175 299.5h1M192 298.5h1M192 296.5h1M201 293.5h1M188 299.5h1M184 315.5h1M181 291.5h1M194 274.5h1M183 307.5h1M201 283.5h1M194 297.5h1M192 283.5h1M182 295.5h1M203 312.5h1M195 282.5h1M211 275.5h1M189 298.5h1M205 275.5h1M172 313.5h1M200 308.5h1M189 304.5h1M198 262.5h1M186 295.5h1M205 282.5h1M174 313.5h1M191 286.5h1M204 285.5h1M187 286.5h1M195 287.5h1M191 274.5h1M211 277.5h1M190 280.5h1M181 311.5h1M198 295.5h1M204 279.5h1M177 294.5h1M201 284.5h1M192 296.5h1M198 290.5h1M204 282.5h1M180 293.5h1M183 281.5h1M191 282.5h1M181 295.5h1M196 289.5h1M194 294.5h1M191 313.5h1M170 302.5h1M197 286.5h1M197 293.5h1M178 325.5h1M175 315.5h1M194 295.5h1M192 289.5h1M196 280.5h1M173 299.5h1M206 286.5h1M188 291.5h1M194 298.5h1M195 292.5h1M187 268.5h1M192 278.5h1M202 279.5h1M184 295.5h1M190 292.5h1M175 299.5h1M192 298.5h1M186 291.5h1M191 295.5h1M198 279.5h1M197 284.5h1M203 281.5h1M193 286.5h1M193 270.5h1M198 290.5h1M203 278.5h1M193 280.5h1M204 282.5h1M185 285.5h1M178 301.5h1M199 317.5h1M212 266.5h1M204 288.5h1M189 279.5h1M184 286.5h1M198 300.5h1M185 303.5h1M195 291.5h1M187 286.5h1M176 299.5h1M178 302.5h1M179 293.5h1M183 289.5h1M189 295.5h1M202 280.5h1M189 307.5h1M189 280.5h1M197 265.5h1M191 272.5h1M186 305.5h1M197 276.5h1M187 276.5h1M185 294.5h1M200 271.5h1M196 297.5h1M190 285.5h1M180 300.5h1M202 289.5h1M176 286.5h1M196 299.5h1M193 270.5h1M196 287.5h1M180 307.5h1M204 283.5h1M203 280.5h1M181 296.5h1M191 294.5h1M195 289.5h1M184 288.5h1M188 284.5h1M196 279.5h1M187 294.5h1M195 254.5h1M188 298.5h1M185 294.5h1M204 261.5h1M208 297.5h1M190 290.5h1M178 299.5h1M199 273.5h1M198 289.5h1M191 302.5h1M189 280.5h1M205 272.5h1M210 287.5h1M204 257.5h1M199 272.5h1M193 281.5h1M184 284.5h1M186 275.5h1M197 270.5h1M200 278.5h1M192 284.5h1M199 279.5h1M191 267.5h1M181 285.5h1M179 303.5h1M195 260.5h1M197 281.5h1M189 294.5h1M201 289.5h1M193 293.5h1M178 310.5h1M183 286.5h1M187 310.5h1M188 282.5h1M174 279.5h1M211 280.5h1M193 291.5h1M195 283.5h1M182 288.5h1M174 285.5h1M172 301.5h1M200 276.5h1M200 290.5h1M188 296.5h1M194 286.5h1M187 293.5h1M194 302.5h1M183 278.5h1M207 276.5h1M185 289.5h1M180 306.5h1M196 301.5h1M205 265.5h1M186 299.5h1M203 274.5h1M184 288.5h1M202 281.5h1M172 279.5h1M172 304.5h1M196 298.5h1M182 285.5h1M195 280.5h1M189 292.5h1M199 294.5h1M206 291.5h1M210 291.5h1M180 282.5h1M195 293.5h1M173 289.5h1M197 314.5h1M175 306.5h1M192 277.5h1M185 316.5h1M206 272.5h1M207 282.5h1M190 292.5h1M174 298.5h1M185 284.5h1M189 286.5h1M192 269.5h1M201 306.5h1M174 284.5h1M192 289.5h1M201 298.5h1M191 298.5h1M185 314.5h1M179 309.5h1M185 296.5h1M209 302.5h1M190 270.5h1M184 277.5h1M197 258.5h1M184 285.5h1M176 288.5h1M179 299.5h1M197 298.5h1M172 281.5h1M211 274.5h1M198 302.5h1M190 273.5h1M185 291.5h1M183 304.5h1M193 285.5h1M189 284.5h1M170 296.5h1M192 303.5h1M191 301.5h1M204 279.5h1M197 283.5h1M194 285.5h1M206 288.5h1M187 293.5h1M206 288.5h1M190 298.5h1M184 307.5h1M189 299.5h1M183 279.5h1M180 280.5h1M192 270.5h1M168 303.5h1M193 293.5h1M185 277.5h1M186 301.5h1M193 284.5h1M187 293.5h1M194 309.5h1M206 277.5h1M183 307.5h1M197 274.5h1M190 294.5h1M192 304.5h1M195 305.5h1M187 298.5h1M195 305.5h1M204 290.5h1M179 313.5h1M200 272.5h1M205 281.5h1M183 300.5h1M169 315.5h1M191 298.5h1M194 292.5h1M182 291.5h1M200 294.5h1M188 283.5h1M186 311.5h1M207 266.5h1M186 304.5h1M209 293.5h1M199 306.5h1M192 288.5h1M211 271.5h1M192 293.5h1M190 269.5h1M209 293.5h1M195 286.5h1M194 277.5h1M190 291.5h1M188 289.5h1M206 279.5h1M207 292.5h1M207 288.5h1M187 306.5h1M187 285.5h1M201 272.5h1M187 269.5h1M194 283.5h1M187 294.5h1M186 295.5h1M209 290.5h1M199 267.5h1M202 293.5h1M205 273.5h1M172 282.5h1M211 278.5h1M184 301.5h1M192 285.5h1M184 302.5h1M198 280.5h1M201 283.5h1M170 292.5h1M203 307.5h1M197 299.5h1M170 301.5h1M181 298.5h1M192 303.5h1M205 282.5h1M205 271.5h1M169 282.5h1M187 290.5h1M202 290.5h1M187 294.5h1M195 295.5h1M187 271.5h1M192 284.5h1M182 284.5h1M187 295.5h1M188 260.5h1M185 294.5h1M191 285.5h1M193 306.5h1M191 298.5h1M190 285.5h1M194 296.5h1M177 270.5h1M193 287.5h1M188 310.5h1M168 314.5h1M204 278.5h1M185 294.5h1M204 270.5h1M198 291.5h1M176 292.5h1M196 281.5h1M182 287.5h1M195 290.5h1M197 307.5h1M207 286.5h1M205 276.5h1M190 296.5h1M206 265.5h1M184 293.5h1M204 291.5h1M179 309.5h1M188 319.5h1M191 268.5h1M183 312.5h1M180 277.5h1M185 276.5h1M186 283.5h1M183 278.5h1M188 301.5h1M192 291.5h1M191 307.5h1M185 290.5h1M205 289.5h1M191 301.5h1M187 290.5h1M193 296.5h1M190 287.5h1M185 268.5h1M202 290.5h1M185 277.5h1M187 310.5h1M197 297.5h1M197 277.5h1M178 295.5h1M195 297.5h1M191 304.5h1M206 273.5h1M195 297.5h1M186 297.5h1M203 284.5h1M203 275.5h1M194 280.5h1M203 278.5h1M185 280.5h1M197 293.5h1M195 298.5h1M173 286.5h1M176 289.5h1M195 283.5h1M185 286.5h1M191 286.5h1M201 283.5h1M187 286.5h1M180 305.5h1M177 293.5h1M199 311.5h1M172 310.5h1M192 286.5h1M189 307.5h1M186 307.5h1M188 304.5h1M209 283.5h1M195 295.5h1M194 272.5h1M204 296.5h1M192 296.5h1M202 283.5h1M190 285.5h1M185 302.5h1M189 294.5h1M192 309.5h1M186 289.5h1M200 291.5h1M197 265.5h1M201 269.5h1M201 281.5h1M188 269.5h1M197 287.5h1M203 268.5h1M212 254.5h1M188 279.5h1M192 281.5h1M200 275.5h1M195 287.5h1M193 283.5h1M184 301.5h1M202 278.5h1M202 291.5h1M192 292.5h1M181 313.5h1M187 276.5h1M198 271.5h1M174 300.5h1M172 293.5h1M191 293.5h1M197 295.5h1M173 307.5h1M210 268.5h1M202 276.5h1M177 290.5h1M175 310.5h1M187 279.5h1M198 278.5h1M192 268.5h1M195 306.5h1M193 285.5h1M178 306.5h1M184 274.5h1M182 319.5h1M180 313.5h1M183 275.5h1M207 295.5h1M187 290.5h1M201 283.5h1M207 262.5h1M202 287.5h1M168 306.5h1M200 296.5h1M180 304.5h1M182 297.5h1M196 285.5h1M193 292.5h1M187 304.5h1M184 284.5h1M183 297.5h1M197 282.5h1M199 297.5h1M194 283.5h1M186 290.5h1M198 279.5h1M180 284.5h1M207 297.5h1M169 285.5h1M195 288.5h1M188 317.5h1M181 294.5h1M189 285.5h1M191 296.5h1M189 295.5h1M194 283.5h1M192 297.5h1M180 289.5h1M177 304.5h1M186 301.5h1M196 311.5h1M195 259.5h1M186 308.5h1M192 307.5h1M184 280.5h1M199 268.5h1M195 320.5h1M194 316.5h1M196 289.5h1M205 290.5h1M183 308.5h1M198 279.5h1M186 286.5h1M191 275.5h1M192 291.5h1M204 296.5h1M189 276.5h1M193 291.5h1M191 284.5h1M180 297.5h1M194 300.5h1M183 275.5h1M190 291.5h1M185 297.5h1M201 282.5h1M191 278.5h1M184 284.5h1M191 301.5h1M194 274.5h1M196 305.5h1M183 310.5h1M182 296.5h1M181 298.5h1M174 300.5h1M189 307.5h1M201 279.5h1M198 277.5h1M199 267.5h1M199 280.5h1M196 299.5h1M212 282.5h1M178 291.5h1M181 288.5h1M189 307.5h1M190 266.5h1M200 276.5h1M185 293.5h1M180 287.5h1M196 290.5h1M200 290.5h1M212 286.5h1M190 287.5h1M192 282.5h1M174 304.5h1M185 290.5h1M178 312.5h1M197 260.5h1M211 275.5h1M194 278.5h1M196 272.5h1M208 263.5h1M186 269.5h1M177 307.5h1M180 285.5h1M167 315.5h1M187 300.5h1M168 296.5h1M183 284.5h1M195 284.5h1M186 301.5h1M198 297.5h1M195 286.5h1M193 292.5h1M189 290.5h1M177 322.5h1M184 292.5h1M199 279.5h1M206 293.5h1M185 310.5h1M197 296.5h1M204 291.5h1M187 303.5h1M190 276.5h1M195 304.5h1M205 302.5h1M193 291.5h1M194 296.5h1M186 295.5h1M201 281.5h1M182 291.5h1M182 280.5h1M176 319.5h1M185 280.5h1M200 294.5h1M181 305.5h1M212 277.5h1M189 291.5h1M195 294.5h1M180 305.5h1M189 315.5h1M186 295.5h1M180 308.5h1M200 285.5h1M205 281.5h1M197 302.5h1M183 312.5h1M186 292.5h1M185 303.5h1M192 286.5h1M183 281.5h1M191 296.5h1M190 287.5h1M193 272.5h1M201 264.5h1M185 294.5h1M197 279.5h1M175 283.5h1M185 303.5h1M205 274.5h1M190 281.5h1M180 280.5h1M184 278.5h1M191 291.5h1M178 299.5h1M201 264.5h1M198 277.5h1M189 283.5h1M194 274.5h1M201 272.5h1M177 284.5h1M199 283.5h1M179 287.5h1M180 271.5h1M174 283.5h1M208 256.5h1M191 294.5h1M208 289.5h1M196 283.5h1M170 282.5h1M211 284.5h1M203 297.5h1M182 290.5h1M187 286.5h1M201 307.5h1M201 274.5h1M194 279.5h1M211 283.5h1M174 302.5h1M204 291.5h1M177 294.5h1M191 287.5h1M207 276.5h1M206 293.5h1M193 293.5h1M201 275.5h1M201 276.5h1M210 268.5h1M180 314.5h1M188 281.5h1M196 298.5h1M187 301.5h1M189 285.5h1M183 304.5h1M168 314.5h1M173 294.5h1M193 294.5h1M204 264.5h1M186 306.5h1M172 312.5h1M198 299.5h1M180 286.5h1M208 296.5h1M171 302.5h1M190 301.5h1M183 323.5h1M197 289.5h1M182 311.5h1M212 280.5h1M200 285.5h1M187 280.5h1M191 283.5h1M174 296.5h1M205 278.5h1M187 304.5h1M209 266.5h1M193 285.5h1M175 311.5h1M185 270.5h1M201 260.5h1M189 292.5h1M189 269.5h1M197 295.5h1M198 303.5h1M200 272.5h1M188 294.5h1M188 280.5h1M186 305.5h1M186 301.5h1M197 273.5h1M184 291.5h1M181 290.5h1M182 305.5h1M192 285.5h1M179 289.5h1M203 298.5h1M183 305.5h1M190 298.5h1M203 298.5h1M192 260.5h1M195 294.5h1M182 310.5h1M186 302.5h1M184 290.5h1M199 262.5h1M195 287.5h1M182 287.5h1M205 282.5h1M197 269.5h1M191 302.5h1M197 267.5h1M204 281.5h1M199 285.5h1M202 291.5h1M212 276.5h1M186 290.5h1M212 260.5h1M196 290.5h1M186 303.5h1M180 272.5h1M203 290.5h1M201 279.5h1M189 291.5h1M209 276.5h1M188 296.5h1M189 285.5h1M190 309.5h1M177 294.5h1M203 291.5h1M188 298.5h1M186 293.5h1M208 293.5h1M196 278.5h1M178 267.5h1M205 278.5h1M185 281.5h1M186 295.5h1M191 316.5h1M187 292.5h1M193 303.5h1M178 312.5h1M173 310.5h1M198 282.5h1M180 286.5h1M208 253.5h1M195 290.5h1M188 300.5h1M209 268.5h1M182 308.5h1M185 302.5h1M193 301.5h1M196 290.5h1M190 282.5h1M186 312.5h1M201 288.5h1M190 300.5h1M190 290.5h1M201 282.5h1M203 274.5h1M193 301.5h1M175 296.5h1M184 302.5h1M203 276.5h1M197 276.5h1M176 318.5h1M188 324.5h1M184 306.5h1M168 301.5h1M192 281.5h1M185 281.5h1M212 266.5h1M210 285.5h1M199 290.5h1M191 267.5h1M193 305.5h1M188 311.5h1M184 283.5h1M201 278.5h1M182 311.5h1M196 275.5h1M198 277.5h1M191 297.5h1M192 285.5h1M196 296.5h1M193 288.5h1M193 275.5h1M194 304.5h1M202 276.5h1M208 282.5h1M193 273.5h1M173 312.5h1M171 309.5h1M190 275.5h1M180 292.5h1M181 295.5h1M193 302.5h1M175 302.5h1M197 297.5h1M169 288.5h1M185 296.5h1M191 280.5h1M193 310.5h1M193 269.5h1M166 313.5h1M186 309.5h1M200 283.5h1M204 280.5h1M182 283.5h1M181 269.5h1M200 295.5h1M171 307.5h1M197 285.5h1M190 268.5h1M207 307.5h1M183 313.5h1M178 291.5h1M201 288.5h1M185 279.5h1M205 276.5h1M188 276.5h1M192 279.5h1M180 317.5h1M194 289.5h1M190 272.5h1M190 293.5h1M196 294.5h1M206 270.5h1M193 278.5h1M189 294.5h1M200 284.5h1M200 301.5h1M199 270.5h1M202 293.5h1M206 279.5h1M196 260.5h1M185 321.5h1M204 257.5h1M186 279.5h1M182 288.5h1M174 312.5h1M192 294.5h1M192 287.5h1M188 289.5h1M210 267.5h1M198 297.5h1M194 271.5h1M210 278.5h1M205 259.5h1M194 294.5h1M211 286.5h1M168 302.5h1M179 301.5h1M186 290.5h1M203 295.5h1M184 305.5h1M187 293.5h1M204 283.5h1M176 287.5h1M207 300.5h1M180 297.5h1M204 292.5h1M187 288.5h1M211 270.5h1M202 285.5h1M195 302.5h1M194 313.5h1M195 301.5h1M191 298.5h1M211 300.5h1M196 295.5h1M194 266.5h1M195 294.5h1M196 284.5h1M191 306.5h1M189 308.5h1M188 299.5h1M205 292.5h1M189 298.5h1M191 323.5h1M194 281.5h1M204 298.5h1M186 290.5h1M180 293.5h1M200 265.5h1M193 297.5h1M188 277.5h1M208 273.5h1M204 275.5h1M197 288.5h1M183 283.5h1M211 294.5h1M194 273.5h1M197 281.5h1M194 297.5h1M199 284.5h1M189 280.5h1M192 276.5h1M182 279.5h1M209 274.5h1M210 295.5h1M204 280.5h1M195 289.5h1M192 299.5h1M176 296.5h1M174 281.5h1M194 280.5h1M184 285.5h1M194 299.5h1M189 296.5h1M197 268.5h1M191 286.5h1M190 296.5h1M197 278.5h1M177 303.5h1M189 285.5h1M177 280.5h1M191 308.5h1M205 279.5h1M200 263.5h1M181 306.5h1M188 284.5h1M209 287.5h1M212 260.5h1M185 292.5h1M186 302.5h1M196 291.5h1M207 261.5h1M181 281.5h1M212 295.5h1M195 258.5h1M175 316.5h1M183 322.5h1M195 274.5h1M199 278.5h1M173 302.5h1M204 286.5h1M186 284.5h1M202 290.5h1M185 298.5h1M184 292.5h1M187 301.5h1M189 285.5h1M196 295.5h1M198 262.5h1M202 283.5h1M187 313.5h1M197 284.5h1M205 270.5h1M202 289.5h1M195 271.5h1M194 290.5h1M194 277.5h1M198 308.5h1M210 284.5h1M185 309.5h1M211 276.5h1M183 310.5h1M173 315.5h1M189 277.5h1M181 285.5h1M188 284.5h1M202 286.5h1M189 287.5h1M191 303.5h1M191 284.5h1M204 289.5h1M187 276.5h1M205 261.5h1M190 300.5h1M204 294.5h1M195 280.5h1M194 297.5h1M182 304.5h1M195 300.5h1M206 277.5h1M186 290.5h1M186 274.5h1M198 304.5h1M198 284.5h1M185 296.5h1M188 301.5h1M198 289.5h1M177 279.5h1M211 273.5h1M178 309.5h1M201 284.5h1M206 268.5h1M183 290.5h1M190 299.5h1M197 300.5h1M183 277.5h1M197 288.5h1M201 287.5h1M204 285.5h1M177 298.5h1M184 304.5h1M186 307.5h1M193 313.5h1M200 294.5h1M193 283.5h1M200 293.5h1M202 269.5h1M167 287.5h1M202 288.5h1M193 275.5h1M200 286.5h1M201 300.5h1M179 303.5h1M194 292.5h1M196 301.5h1M209 286.5h1M193 291.5h1M197 281.5h1M195 318.5h1M193 272.5h1M197 306.5h1M170 303.5h1M180 306.5h1M190 298.5h1M199 272.5h1M203 282.5h1M185 305.5h1M181 280.5h1M197 293.5h1M175 306.5h1M193 306.5h1M178 316.5h1M179 296.5h1M185 298.5h1M203 311.5h1M196 305.5h1M190 302.5h1M195 270.5h1M185 290.5h1M202 290.5h1M200 279.5h1M199 276.5h1M211 287.5h1M186 294.5h1M174 297.5h1M178 294.5h1M194 298.5h1M197 291.5h1M200 294.5h1M206 277.5h1M194 291.5h1M202 262.5h1M201 275.5h1M197 300.5h1M194 274.5h1M209 273.5h1M198 285.5h1M197 284.5h1M193 319.5h1M212 255.5h1M186 289.5h1M177 282.5h1M200 273.5h1M194 293.5h1M188 301.5h1M194 277.5h1M179 299.5h1M206 283.5h1M193 286.5h1M197 271.5h1M200 314.5h1M192 266.5h1M197 286.5h1M202 259.5h1M189 298.5h1M209 265.5h1M199 280.5h1M197 277.5h1M181 295.5h1M200 283.5h1M207 285.5h1M192 303.5h1M192 309.5h1M181 296.5h1M212 274.5h1M183 280.5h1M199 276.5h1M196 285.5h1M184 281.5h1M198 288.5h1M192 296.5h1M196 269.5h1M189 283.5h1M203 290.5h1M191 282.5h1M198 304.5h1M191 296.5h1M194 271.5h1M183 302.5h1M185 288.5h1M180 270.5h1M195 269.5h1M174 287.5h1M190 282.5h1M201 288.5h1M173 297.5h1M182 320.5h1M171 310.5h1M193 278.5h1M200 291.5h1M188 310.5h1M190 298.5h1M187 292.5h1M180 288.5h1M192 289.5h1M180 295.5h1M199 290.5h1M192 302.5h1M187 297.5h1M190 303.5h1M192 292.5h1M183 293.5h1M194 283.5h1M187 282.5h1M191 304.5h1M195 311.5h1M209 292.5h1M187 298.5h1M205 272.5h1M204 270.5h1M179 275.5h1M187 318.5h1M206 271.5h1M197 290.5h1M196 300.5h1M192 266.5h1M187 298.5h1M191 269.5h1M197 301.5h1M182 273.5h1M167 293.5h1M196 298.5h1M186 301.5h1M188 299.5h1M190 284.5h1M202 297.5h1M191 284.5h1M197 268.5h1M196 293.5h1M196 296.5h1M196 289.5h1M195 272.5h1M205 278.5h1M209 281.5h1M186 289.5h1M195 278.5h1M176 304.5h1M202 271.5h1M188 278.5h1M193 280.5h1M204 302.5h1M192 287.5h1M182 294.5h1M197 281.5h1M171 300.5h1M204 278.5h1M191 278.5h1M192 289.5h1M196 292.5h1M202 291.5h1M203 294.5h1M190 289.5h1M181 301.5h1M189 306.5h1M198 302.5h1M197 296.5h1M178 301.5h1M193 309.5h1M182 287.5h1M211 286.5h1M189 290.5h1M193 277.5h1M191 270.5h1M202 280.5h1M195 298.5h1M201 300.5h1M171 309.5h1M188 298.5h1M200 284.5h1M188 305.5h1M201 269.5h1M203 269.5h1M181 288.5h1M175 304.5h1M189 305.5h1M190 294.5h1M195 290.5h1M192 291.5h1M180 297.5h1M206 261.5h1M206 291.5h1M195 285.5h1M199 280.5h1M191 285.5h1M190 291.5h1M189 296.5h1M172 306.5h1M169 291.5h1M184 313.5h1M194 304.5h1M174 306.5h1M199 257.5h1M186 278.5h1M192 263.5h1M200 267.5h1M196 281.5h1M194 279.5h1M187 298.5h1M196 292.5h1M175 289.5h1M179 280.5h1M187 298.5h1M204 273.5h1M202 281.5h1M205 297.5h1M185 314.5h1M202 282.5h1M199 277.5h1M200 294.5h1M198 314.5h1M191 280.5h1M187 267.5h1M198 282.5h1M172 309.5h1M202 293.5h1M193 287.5h1M198 283.5h1M195 296.5h1M180 281.5h1M198 268.5h1M191 293.5h1M192 295.5h1M186 284.5h1M211 260.5h1M182 279.5h1M191 268.5h1M194 296.5h1M177 302.5h1M190 264.5h1M187 286.5h1M194 303.5h1M189 299.5h1M190 299.5h1M187 296.5h1M180 309.5h1M204 274.5h1M189 279.5h1M189 269.5h1M194 295.5h1M206 290.5h1M191 284.5h1M201 273.5h1M195 276.5h1M200 287.5h1M185 296.5h1M190 308.5h1M178 294.5h1M174 289.5h1M195 300.5h1M209 269.5h1M198 287.5h1M175 314.5h1M184 303.5h1M178 304.5h1M204 277.5h1M187 303.5h1M193 278.5h1M204 300.5h1M195 269.5h1M207 273.5h1M206 291.5h1M204 283.5h1M188 286.5h1M183 289.5h1M173 298.5h1M191 282.5h1M197 292.5h1M185 291.5h1M192 290.5h1M172 280.5h1M200 311.5h1M175 288.5h1M195 270.5h1M187 289.5h1M203 270.5h1M187 306.5h1M189 310.5h1M205 293.5h1M182 269.5h1M180 293.5h1M191 277.5h1M196 274.5h1M193 291.5h1M190 288.5h1M170 305.5h1M200 292.5h1M192 283.5h1M204 271.5h1M182 305.5h1M191 303.5h1M181 300.5h1M198 276.5h1M174 297.5h1M204 283.5h1M173 300.5h1M199 293.5h1M202 279.5h1M182 273.5h1M188 290.5h1M174 292.5h1M196 276.5h1M184 284.5h1M199 278.5h1M183 276.5h1M174 286.5h1M197 266.5h1M192 297.5h1M198 284.5h1M194 301.5h1M185 288.5h1M186 289.5h1M192 300.5h1M186 281.5h1M206 273.5h1M196 265.5h1M178 283.5h1M208 272.5h1M202 287.5h1M177 302.5h1M211 274.5h1M176 290.5h1M199 272.5h1M182 291.5h1M208 282.5h1M194 294.5h1M176 312.5h1M178 297.5h1M200 297.5h1M189 286.5h1M181 321.5h1M176 300.5h1M188 298.5h1M192 292.5h1M190 283.5h1M176 293.5h1M182 309.5h1M184 278.5h1M197 297.5h1M196 275.5h1M196 300.5h1M195 278.5h1M192 304.5h1M193 284.5h1M187 284.5h1M202 286.5h1M198 308.5h1M192 290.5h1M181 297.5h1M188 289.5h1M203 284.5h1M194 289.5h1M191 275.5h1M199 290.5h1M197 271.5h1M186 277.5h1M204 277.5h1M196 285.5h1M205 254.5h1M198 268.5h1M176 309.5h1M195 285.5h1M204 294.5h1M175 317.5h1M195 305.5h1M187 294.5h1M204 308.5h1M181 280.5h1M194 276.5h1M204 282.5h1M197 285.5h1M182 288.5h1M186 285.5h1M193 297.5h1M191 268.5h1M190 278.5h1M202 259.5h1M192 294.5h1M203 269.5h1M193 299.5h1M189 289.5h1M189 304.5h1M186 276.5h1M191 288.5h1M195 279.5h1M200 267.5h1M189 287.5h1M205 289.5h1M188 270.5h1M190 288.5h1M192 297.5h1M202 288.5h1M201 284.5h1M202 280.5h1M198 277.5h1M193 300.5h1M194 282.5h1M200 271.5h1M193 297.5h1M177 273.5h1M188 296.5h1M190 284.5h1M204 265.5h1M194 286.5h1M179 297.5h1M184 277.5h1M194 285.5h1M207 277.5h1M177 303.5h1M201 309.5h1M190 288.5h1M181 309.5h1M198 272.5h1M188 321.5h1M189 301.5h1M189 312.5h1M191 299.5h1M193 275.5h1M198 281.5h1M203 279.5h1M187 275.5h1M176 314.5h1M210 293.5h1M186 317.5h1M185 293.5h1M186 291.5h1M186 294.5h1M194 280.5h1M193 303.5h1M206 266.5h1M206 286.5h1M207 276.5h1M205 282.5h1M205 280.5h1M194 290.5h1M209 264.5h1M190 305.5h1M187 277.5h1M196 290.5h1M179 284.5h1M187 280.5h1M196 303.5h1M192 273.5h1M209 284.5h1M182 281.5h1M195 277.5h1M192 306.5h1M191 298.5h1M201 297.5h1M200 297.5h1M202 276.5h1M195 275.5h1M208 261.5h1M191 286.5h1M199 281.5h1M185 288.5h1M193 304.5h1M181 299.5h1M196 304.5h1M202 269.5h1M203 290.5h1M193 291.5h1M188 286.5h1M179 290.5h1M206 297.5h1M198 292.5h1M205 284.5h1M190 271.5h1M187 314.5h1M189 282.5h1M207 273.5h1M196 308.5h1M190 291.5h1M203 291.5h1M195 271.5h1M191 277.5h1M181 285.5h1M204 286.5h1M188 268.5h1M188 279.5h1M179 273.5h1M172 295.5h1M195 303.5h1M189 289.5h1M201 297.5h1M198 281.5h1M194 283.5h1M201 263.5h1M205 282.5h1M204 269.5h1M194 302.5h1M187 292.5h1M193 277.5h1M193 287.5h1M189 275.5h1M189 282.5h1M185 295.5h1M197 261.5h1M211 279.5h1M181 309.5h1M202 304.5h1M193 288.5h1M201 282.5h1M186 286.5h1M186 308.5h1M204 280.5h1M192 291.5h1M203 273.5h1M191 282.5h1M207 279.5h1M211 284.5h1M212 284.5h1M180 290.5h1M210 281.5h1M198 288.5h1M192 309.5h1M183 290.5h1M195 295.5h1M187 277.5h1M203 283.5h1M182 301.5h1M192 276.5h1M185 285.5h1M194 307.5h1M202 279.5h1M188 299.5h1M198 312.5h1M193 275.5h1M196 275.5h1M184 295.5h1M211 281.5h1M199 274.5h1M185 293.5h1M200 258.5h1M196 291.5h1M189 282.5h1M201 282.5h1M191 298.5h1M199 284.5h1M191 317.5h1M204 275.5h1M191 262.5h1M188 275.5h1M191 281.5h1M190 299.5h1M193 290.5h1M203 270.5h1M181 296.5h1M194 285.5h1M185 285.5h1M210 292.5h1M183 290.5h1M204 279.5h1M200 275.5h1M186 308.5h1M196 271.5h1M188 298.5h1M186 289.5h1M207 277.5h1M192 286.5h1M188 275.5h1M190 273.5h1M200 282.5h1M188 294.5h1M189 302.5h1M199 280.5h1M198 278.5h1M186 278.5h1M187 288.5h1M188 270.5h1M181 281.5h1M192 311.5h1M193 283.5h1M200 283.5h1M211 285.5h1M194 304.5h1M191 300.5h1M182 276.5h1M189 293.5h1M194 290.5h1M200 276.5h1M202 286.5h1M205 263.5h1M196 284.5h1M205 276.5h1M188 285.5h1M193 289.5h1M198 268.5h1M197 299.5h1M189 293.5h1M188 280.5h1M208 290.5h1M188 309.5h1M198 286.5h1M193 293.5h1M197 290.5h1M192 284.5h1M184 285.5h1M198 272.5h1M189 277.5h1M184 285.5h1M198 289.5h1M199 273.5h1M202 279.5h1M198 268.5h1M195 291.5h1M196 286.5h1M195 254.5h1M194 289.5h1M199 276.5h1M188 291.5h1M187 307.5h1M197 279.5h1M180 292.5h1M192 299.5h1M182 310.5h1M207 275.5h1M191 284.5h1M194 287.5h1M203 286.5h1M196 285.5h1M180 278.5h1M210 288.5h1M202 297.5h1M171 319.5h1M209 284.5h1M181 273.5h1M205 293.5h1M187 307.5h1M198 264.5h1M192 279.5h1M179 307.5h1M180 287.5h1M212 287.5h1M182 302.5h1M186 274.5h1M201 268.5h1M184 282.5h1M186 277.5h1M187 300.5h1M180 277.5h1M187 289.5h1M178 295.5h1M191 309.5h1M200 289.5h1M172 293.5h1M208 303.5h1M199 263.5h1M187 294.5h1M203 277.5h1M193 293.5h1M175 297.5h1M200 308.5h1M197 289.5h1M179 292.5h1M178 300.5h1M198 294.5h1M202 276.5h1M209 285.5h1M181 284.5h1M211 264.5h1M178 292.5h1M187 285.5h1M190 309.5h1M200 278.5h1M187 286.5h1M177 307.5h1M175 291.5h1M198 259.5h1M196 276.5h1M189 283.5h1M205 279.5h1M186 310.5h1M182 295.5h1M181 303.5h1M195 303.5h1M191 292.5h1M203 284.5h1M205 277.5h1M191 269.5h1M194 296.5h1M189 285.5h1M196 280.5h1M186 297.5h1M202 297.5h1M196 282.5h1M189 300.5h1M203 285.5h1M206 274.5h1M187 303.5h1M170 313.5h1M179 278.5h1M184 300.5h1M183 278.5h1M189 292.5h1M206 290.5h1M201 272.5h1M189 271.5h1M180 286.5h1M191 306.5h1M182 318.5h1M192 301.5h1M198 288.5h1M177 290.5h1M185 293.5h1M174 304.5h1M197 318.5h1M180 310.5h1M198 280.5h1M173 310.5h1M201 281.5h1M177 294.5h1M202 284.5h1M205 291.5h1M211 285.5h1M192 267.5h1M181 295.5h1M191 304.5h1M181 289.5h1M188 299.5h1M198 280.5h1M203 296.5h1M197 290.5h1M195 282.5h1M187 293.5h1M205 276.5h1M171 308.5h1M183 279.5h1M202 285.5h1M183 296.5h1M199 304.5h1M196 275.5h1M197 297.5h1M179 314.5h1M181 305.5h1M202 276.5h1M178 295.5h1M208 275.5h1M206 273.5h1M188 289.5h1M196 281.5h1M184 298.5h1M191 294.5h1M193 301.5h1M192 278.5h1M182 305.5h1M184 286.5h1M182 282.5h1M199 283.5h1M182 319.5h1M182 313.5h1M190 303.5h1M205 300.5h1M181 279.5h1M190 284.5h1M201 282.5h1M192 278.5h1M186 293.5h1M198 279.5h1M190 275.5h1M197 280.5h1M192 290.5h1M195 280.5h1M191 302.5h1M181 319.5h1M186 271.5h1M193 276.5h1M184 288.5h1M184 291.5h1M176 287.5h1M184 305.5h1M199 301.5h1M191 279.5h1M179 291.5h1M188 293.5h1M191 283.5h1M182 290.5h1M181 280.5h1M187 286.5h1M171 295.5h1M190 286.5h1M168 294.5h1M209 282.5h1M178 296.5h1M188 290.5h1M177 311.5h1M198 300.5h1M175 300.5h1M204 270.5h1M198 294.5h1M201 284.5h1M181 312.5h1M182 304.5h1M197 295.5h1M189 310.5h1M197 272.5h1M189 294.5h1M178 278.5h1M197 286.5h1M185 287.5h1M185 271.5h1M188 298.5h1M187 280.5h1M198 272.5h1M193 286.5h1M181 280.5h1M197 297.5h1M197 290.5h1M210 288.5h1M191 292.5h1M172 306.5h1M195 288.5h1M185 287.5h1M201 286.5h1M184 283.5h1M204 269.5h1M187 306.5h1M172 294.5h1M197 280.5h1M180 299.5h1M193 284.5h1M186 286.5h1M176 313.5h1M206 285.5h1M200 270.5h1M190 284.5h1M179 305.5h1M199 279.5h1M171 294.5h1M196 293.5h1M194 283.5h1M184 298.5h1M187 315.5h1M200 296.5h1M187 286.5h1M180 297.5h1M185 298.5h1M209 286.5h1M193 291.5h1M187 294.5h1M183 294.5h1M184 281.5h1M189 285.5h1M183 287.5h1M169 299.5h1M207 303.5h1M180 292.5h1M196 290.5h1M197 272.5h1M197 276.5h1M204 285.5h1M199 291.5h1M186 291.5h1M196 285.5h1M183 292.5h1M192 295.5h1M170 290.5h1M193 290.5h1M176 281.5h1M211 269.5h1M192 279.5h1M181 289.5h1M207 285.5h1M196 299.5h1M196 274.5h1M189 274.5h1M180 300.5h1M183 285.5h1M200 295.5h1M197 287.5h1M186 273.5h1M189 303.5h1M188 299.5h1M207 292.5h1M200 277.5h1M196 310.5h1M178 307.5h1M189 268.5h1M196 277.5h1M198 274.5h1M188 303.5h1M186 289.5h1M202 291.5h1M198 285.5h1M175 281.5h1M201 295.5h1M203 278.5h1M199 300.5h1M179 290.5h1M191 295.5h1M198 301.5h1M202 292.5h1M182 287.5h1M184 291.5h1M196 267.5h1M195 285.5h1M183 289.5h1M191 267.5h1M183 293.5h1M204 296.5h1M206 298.5h1M199 302.5h1M187 292.5h1M204 294.5h1M190 311.5h1M189 293.5h1M200 289.5h1M204 291.5h1M187 281.5h1M205 258.5h1M191 277.5h1M184 287.5h1M180 284.5h1M192 289.5h1M197 284.5h1M203 300.5h1M205 271.5h1M189 305.5h1M189 277.5h1M191 280.5h1M173 297.5h1M188 276.5h1M187 277.5h1M184 295.5h1M208 260.5h1M200 282.5h1M190 293.5h1M196 299.5h1M184 296.5h1M195 286.5h1M208 297.5h1M190 305.5h1M191 300.5h1M192 295.5h1M180 288.5h1M192 300.5h1M206 287.5h1M196 276.5h1M185 284.5h1M164 309.5h1M199 295.5h1M198 283.5h1M195 292.5h1M183 279.5h1M188 285.5h1M181 307.5h1M169 317.5h1M199 283.5h1M190 296.5h1M195 284.5h1M194 295.5h1M193 292.5h1M199 271.5h1M182 303.5h1M181 283.5h1M178 299.5h1M193 288.5h1M212 293.5h1M208 287.5h1M197 289.5h1M185 308.5h1M204 292.5h1M201 280.5h1M199 276.5h1M212 265.5h1M197 283.5h1M186 302.5h1M194 299.5h1M199 292.5h1M201 277.5h1M182 302.5h1M207 282.5h1M212 290.5h1M193 304.5h1M193 279.5h1M199 305.5h1M185 285.5h1M195 295.5h1M193 286.5h1M190 307.5h1M192 280.5h1M177 316.5h1M187 293.5h1M203 304.5h1M198 267.5h1M209 290.5h1M191 297.5h1M182 298.5h1M194 290.5h1M184 295.5h1M207 261.5h1M172 323.5h1M199 292.5h1M168 315.5h1M192 272.5h1M191 301.5h1M211 273.5h1M187 295.5h1M206 279.5h1M193 286.5h1M195 271.5h1M188 286.5h1M184 296.5h1M189 313.5h1M206 281.5h1M192 280.5h1M178 281.5h1M198 285.5h1M201 291.5h1M178 290.5h1M207 266.5h1M189 283.5h1M183 287.5h1M189 311.5h1M191 298.5h1M197 291.5h1M187 289.5h1M184 292.5h1M196 292.5h1M180 301.5h1M206 297.5h1M179 307.5h1M184 298.5h1M187 298.5h1M209 285.5h1M197 284.5h1M201 293.5h1M174 297.5h1M192 295.5h1M200 280.5h1M202 274.5h1M178 305.5h1M189 294.5h1M189 286.5h1M202 289.5h1M184 284.5h1M201 283.5h1M177 304.5h1M202 269.5h1M177 299.5h1M193 289.5h1M207 289.5h1M209 280.5h1M201 279.5h1M189 272.5h1M205 275.5h1M191 291.5h1M189 275.5h1M208 272.5h1M185 297.5h1M181 305.5h1M190 304.5h1M201 271.5h1M194 269.5h1M182 289.5h1M197 287.5h1M198 275.5h1M181 313.5h1M194 299.5h1M198 296.5h1M189 282.5h1M191 294.5h1M205 291.5h1M175 322.5h1M208 284.5h1M206 282.5h1M179 292.5h1M200 286.5h1M207 264.5h1M208 268.5h1M187 284.5h1M175 299.5h1M187 283.5h1M186 290.5h1M195 276.5h1M192 310.5h1M182 286.5h1M199 288.5h1M196 298.5h1M203 277.5h1M190 306.5h1M181 302.5h1M185 290.5h1M189 273.5h1M191 293.5h1M193 299.5h1M200 280.5h1M203 291.5h1M194 299.5h1M179 279.5h1M197 295.5h1M200 283.5h1M189 284.5h1M185 298.5h1M184 292.5h1M196 298.5h1M203 289.5h1M186 279.5h1M192 302.5h1M192 292.5h1M193 284.5h1M196 287.5h1M211 267.5h1M189 286.5h1M200 281.5h1M207 302.5h1M180 298.5h1M212 298.5h1M199 285.5h1M200 288.5h1M198 290.5h1M190 293.5h1M180 295.5h1M197 296.5h1M201 286.5h1M194 274.5h1M192 278.5h1M198 274.5h1M204 274.5h1M199 286.5h1M201 283.5h1M183 291.5h1M181 284.5h1M182 274.5h1M192 307.5h1M189 300.5h1M194 286.5h1M184 306.5h1M201 293.5h1M166 298.5h1M183 280.5h1M194 289.5h1M192 298.5h1M186 301.5h1M198 300.5h1M179 318.5h1M184 291.5h1M181 280.5h1M195 270.5h1M179 290.5h1M199 296.5h1M195 261.5h1M188 294.5h1M201 276.5h1M189 267.5h1M203 287.5h1M193 305.5h1M191 304.5h1M185 275.5h1M202 256.5h1M204 299.5h1M192 262.5h1M206 265.5h1M181 303.5h1M194 300.5h1M190 262.5h1M196 275.5h1M187 276.5h1M200 293.5h1M192 278.5h1M187 296.5h1M212 259.5h1M190 307.5h1M185 314.5h1M202 292.5h1M208 274.5h1M189 295.5h1M188 287.5h1M197 308.5h1M200 294.5h1M190 304.5h1M198 308.5h1M184 309.5h1M191 297.5h1M207 267.5h1M189 288.5h1M187 282.5h1M203 258.5h1M186 296.5h1M181 299.5h1M202 286.5h1M191 308.5h1M190 282.5h1M197 272.5h1M169 293.5h1M191 296.5h1M212 272.5h1M183 301.5h1M191 299.5h1M201 290.5h1M180 287.5h1M172 291.5h1M201 267.5h1M193 299.5h1M193 284.5h1M190 294.5h1M201 298.5h1M177 302.5h1M197 276.5h1M180 289.5h1M206 275.5h1M184 304.5h1M190 295.5h1M209 290.5h1M175 277.5h1M203 306.5h1M200 296.5h1M186 307.5h1M205 295.5h1M170 320.5h1M197 289.5h1M202 272.5h1M197 277.5h1M198 278.5h1M189 294.5h1M197 283.5h1M186 292.5h1M186 287.5h1M194 291.5h1M202 279.5h1M194 282.5h1M201 280.5h1M189 302.5h1M209 287.5h1M182 275.5h1M186 322.5h1M167 304.5h1M187 285.5h1M180 293.5h1M190 288.5h1M184 295.5h1M201 269.5h1M174 310.5h1M176 302.5h1M174 294.5h1M190 310.5h1M185 294.5h1M180 282.5h1M172 300.5h1M203 289.5h1M200 271.5h1M198 274.5h1M205 263.5h1M186 285.5h1M181 270.5h1M201 262.5h1M192 292.5h1M172 312.5h1M183 303.5h1M198 289.5h1M197 282.5h1M188 290.5h1M206 280.5h1M179 300.5h1M179 293.5h1M191 272.5h1M184 283.5h1M183 282.5h1M197 268.5h1M190 269.5h1M186 298.5h1M191 284.5h1M169 304.5h1M178 280.5h1M198 285.5h1M191 317.5h1M187 260.5h1M198 258.5h1M182 274.5h1M192 273.5h1M201 269.5h1M196 293.5h1M207 280.5h1M184 277.5h1M174 303.5h1M183 298.5h1M197 300.5h1M204 277.5h1M198 290.5h1M202 277.5h1M181 303.5h1M195 256.5h1M195 283.5h1M189 290.5h1M208 278.5h1M181 300.5h1M197 295.5h1M185 308.5h1M194 281.5h1M195 286.5h1M189 293.5h1M195 301.5h1M176 304.5h1M195 303.5h1M195 269.5h1M193 295.5h1M210 278.5h1M187 300.5h1M200 294.5h1M193 296.5h1M192 292.5h1M192 275.5h1M171 311.5h1M194 277.5h1M200 281.5h1M204 295.5h1M195 288.5h1M193 293.5h1M198 280.5h1M197 290.5h1M190 301.5h1M187 283.5h1M209 282.5h1M195 284.5h1M183 282.5h1M200 289.5h1M196 299.5h1M191 295.5h1M181 313.5h1M189 290.5h1M189 270.5h1M191 294.5h1M182 297.5h1M203 280.5h1M197 288.5h1M191 285.5h1M201 285.5h1M188 274.5h1M195 291.5h1M188 299.5h1M196 290.5h1M194 302.5h1M197 288.5h1M182 306.5h1M188 264.5h1M206 298.5h1M193 256.5h1M198 281.5h1M185 286.5h1M209 277.5h1M186 264.5h1M198 297.5h1M195 286.5h1M177 288.5h1M209 283.5h1M200 316.5h1M192 291.5h1M183 318.5h1M204 285.5h1M183 320.5h1M196 308.5h1M184 279.5h1M181 287.5h1M200 300.5h1M186 301.5h1M193 296.5h1M171 305.5h1M201 288.5h1M186 271.5h1M198 279.5h1M198 292.5h1M202 274.5h1M200 285.5h1M182 266.5h1M194 283.5h1M196 290.5h1M186 297.5h1M204 285.5h1M205 297.5h1M197 258.5h1M174 310.5h1M202 280.5h1M186 300.5h1M184 284.5h1M185 278.5h1M194 290.5h1M193 275.5h1M194 287.5h1M206 275.5h1M188 277.5h1M212 302.5h1M201 273.5h1M186 286.5h1M207 290.5h1M206 301.5h1M187 296.5h1M188 274.5h1M190 306.5h1M195 278.5h1M170 297.5h1M203 280.5h1M182 284.5h1M198 284.5h1M187 305.5h1M180 281.5h1M200 290.5h1M193 265.5h1M211 263.5h1M202 288.5h1M196 297.5h1M200 256.5h1M192 290.5h1M195 291.5h1M205 294.5h1M187 277.5h1M189 275.5h1M186 294.5h1M186 286.5h1M208 271.5h1M194 282.5h1M194 284.5h1M195 294.5h1M198 275.5h1M195 298.5h1M199 290.5h1M199 300.5h1M187 295.5h1M199 291.5h1M197 291.5h1M178 289.5h1M192 289.5h1M193 288.5h1M201 301.5h1M192 299.5h1M184 286.5h1M193 277.5h1M200 274.5h1M195 287.5h1M190 291.5h1M189 287.5h1M209 266.5h1M171 291.5h1M183 284.5h1M190 296.5h1M179 286.5h1M191 315.5h1M183 282.5h1M181 304.5h1M182 292.5h1M206 271.5h1M199 275.5h1M182 296.5h1M177 296.5h1M182 297.5h1M176 310.5h1M190 303.5h1M177 284.5h1M184 300.5h1M200 280.5h1M195 290.5h1M198 300.5h1M211 270.5h1M210 286.5h1M192 286.5h1M206 266.5h1M200 271.5h1M197 303.5h1M198 286.5h1M195 297.5h1M175 302.5h1M174 298.5h1M193 281.5h1M193 316.5h1M190 269.5h1M181 282.5h1M182 287.5h1M192 288.5h1M198 295.5h1M201 278.5h1M203 299.5h1M185 270.5h1M198 291.5h1M196 277.5h1M191 277.5h1M194 276.5h1M182 299.5h1M209 267.5h1M190 289.5h1M207 267.5h1M206 306.5h1M183 287.5h1M196 294.5h1M205 276.5h1M193 295.5h1M206 289.5h1M191 313.5h1M203 302.5h1M191 283.5h1M183 284.5h1M179 311.5h1M205 287.5h1M176 294.5h1M209 266.5h1M204 298.5h1M196 279.5h1M185 276.5h1M192 296.5h1M197 293.5h1M198 284.5h1M185 316.5h1M204 278.5h1M182 302.5h1M196 295.5h1M204 287.5h1M193 276.5h1M192 283.5h1M198 286.5h1M192 294.5h1M196 288.5h1M188 266.5h1M196 297.5h1M187 277.5h1M190 275.5h1M194 293.5h1M182 278.5h1M187 293.5h1M209 257.5h1M189 294.5h1M199 263.5h1M204 277.5h1M179 315.5h1M186 280.5h1M201 276.5h1M207 283.5h1M182 297.5h1M195 285.5h1M188 306.5h1M181 299.5h1M197 295.5h1M202 290.5h1M206 269.5h1M197 285.5h1M200 275.5h1M193 309.5h1M171 295.5h1M184 291.5h1M204 266.5h1M181 304.5h1M185 285.5h1M209 278.5h1M177 307.5h1M200 297.5h1M175 301.5h1M207 272.5h1M199 281.5h1M183 278.5h1M185 284.5h1M202 297.5h1M199 290.5h1M186 296.5h1M188 301.5h1M178 299.5h1M198 291.5h1M201 307.5h1M206 281.5h1M179 316.5h1M193 279.5h1M191 278.5h1M192 267.5h1M189 290.5h1M183 308.5h1M180 297.5h1M202 275.5h1M194 294.5h1M193 296.5h1M181 292.5h1M181 283.5h1M181 285.5h1M194 315.5h1M180 291.5h1M209 281.5h1M206 272.5h1M187 287.5h1M199 301.5h1M212 277.5h1M197 294.5h1M171 296.5h1M183 285.5h1M205 284.5h1M203 268.5h1M188 294.5h1M194 280.5h1M196 296.5h1M190 267.5h1M197 287.5h1M188 281.5h1M199 308.5h1M187 291.5h1M189 292.5h1M188 286.5h1M185 287.5h1M192 294.5h1M183 282.5h1M178 276.5h1M176 301.5h1M187 283.5h1M183 281.5h1M189 286.5h1M172 302.5h1M187 287.5h1M189 308.5h1M203 289.5h1M193 266.5h1M194 275.5h1M195 296.5h1M188 295.5h1M177 289.5h1M209 292.5h1M195 301.5h1M183 292.5h1M168 316.5h1M196 304.5h1M195 303.5h1M187 294.5h1M190 267.5h1M183 306.5h1M201 316.5h1M189 276.5h1M186 301.5h1M195 293.5h1M203 291.5h1M183 283.5h1M185 297.5h1M196 275.5h1M201 268.5h1M182 299.5h1M184 288.5h1M186 269.5h1M199 296.5h1M186 301.5h1M193 296.5h1M186 270.5h1M188 302.5h1M207 292.5h1M196 284.5h1M194 300.5h1M202 285.5h1M201 282.5h1M210 282.5h1M166 298.5h1M200 278.5h1M204 285.5h1M195 273.5h1M176 293.5h1M199 286.5h1M182 302.5h1M208 276.5h1M183 296.5h1M195 307.5h1M201 286.5h1M189 297.5h1M192 282.5h1M191 291.5h1M200 288.5h1M201 280.5h1M209 298.5h1M182 268.5h1M202 280.5h1M189 300.5h1M197 276.5h1M193 278.5h1M191 285.5h1M206 277.5h1M200 280.5h1M188 310.5h1M200 285.5h1M192 290.5h1M189 291.5h1M185 278.5h1M191 293.5h1M190 282.5h1M186 284.5h1M211 286.5h1M194 276.5h1M200 273.5h1M202 283.5h1M191 288.5h1M191 285.5h1M172 313.5h1M173 302.5h1M200 275.5h1M190 292.5h1M186 305.5h1M198 286.5h1M178 293.5h1M206 289.5h1M181 286.5h1M200 297.5h1M170 280.5h1M198 292.5h1M190 274.5h1M189 300.5h1M191 279.5h1M193 301.5h1M195 281.5h1M195 284.5h1M186 298.5h1M188 283.5h1M191 300.5h1M189 300.5h1M211 280.5h1M181 312.5h1M201 283.5h1M191 275.5h1M183 293.5h1M206 278.5h1M196 275.5h1M173 299.5h1M198 283.5h1M205 288.5h1M168 287.5h1M193 279.5h1M193 276.5h1M168 286.5h1M184 317.5h1M193 282.5h1M202 306.5h1M176 308.5h1M187 291.5h1M181 322.5h1M197 296.5h1M205 270.5h1M184 275.5h1M188 301.5h1M191 294.5h1M187 301.5h1M210 287.5h1M196 291.5h1M198 304.5h1M182 304.5h1M207 304.5h1M210 279.5h1M182 302.5h1M212 293.5h1M207 291.5h1M170 309.5h1M211 280.5h1M192 289.5h1M207 259.5h1M204 299.5h1M180 283.5h1M190 304.5h1M179 303.5h1M204 282.5h1M188 290.5h1M200 299.5h1M202 297.5h1M206 284.5h1M204 279.5h1M198 291.5h1M194 292.5h1M190 285.5h1M212 264.5h1M170 310.5h1M189 306.5h1M191 279.5h1M184 281.5h1M188 265.5h1M194 255.5h1M201 306.5h1M186 274.5h1M191 291.5h1M197 274.5h1M201 290.5h1M192 273.5h1M182 295.5h1M198 289.5h1M194 298.5h1M184 288.5h1M181 289.5h1M179 298.5h1M204 276.5h1M195 284.5h1M193 270.5h1M179 297.5h1M170 308.5h1M187 296.5h1M197 293.5h1M196 277.5h1M197 273.5h1M206 275.5h1M201 267.5h1M205 283.5h1M192 286.5h1M192 301.5h1M181 270.5h1M180 289.5h1M185 297.5h1M207 287.5h1M204 291.5h1M194 274.5h1M189 298.5h1M199 272.5h1M208 291.5h1M203 297.5h1M186 297.5h1M186 303.5h1M193 312.5h1M209 274.5h1M176 303.5h1M201 282.5h1M186 289.5h1M176 288.5h1M187 293.5h1M191 289.5h1M204 279.5h1M187 276.5h1M204 295.5h1M191 311.5h1M180 311.5h1M178 297.5h1M186 311.5h1M197 272.5h1M184 309.5h1M200 280.5h1M199 276.5h1M210 294.5h1M208 281.5h1M186 308.5h1M166 294.5h1M185 287.5h1M187 285.5h1M200 294.5h1M189 278.5h1M178 292.5h1M171 312.5h1M175 271.5h1M202 297.5h1M207 283.5h1M210 263.5h1M201 292.5h1M197 281.5h1M182 297.5h1M200 277.5h1M194 283.5h1M191 283.5h1M193 273.5h1M190 306.5h1M202 284.5h1M187 277.5h1M207 270.5h1M186 315.5h1M190 288.5h1M212 262.5h1M189 293.5h1M190 294.5h1M201 263.5h1M204 252.5h1M200 291.5h1M197 303.5h1M176 289.5h1M195 296.5h1M199 306.5h1M202 307.5h1M194 286.5h1M198 291.5h1M211 290.5h1M200 292.5h1M192 308.5h1M190 274.5h1M193 284.5h1M189 296.5h1M201 297.5h1M197 285.5h1M188 284.5h1M191 289.5h1M190 274.5h1M200 274.5h1M185 289.5h1M189 287.5h1M189 305.5h1M181 284.5h1M193 281.5h1M193 274.5h1M202 291.5h1M201 294.5h1M189 298.5h1M201 289.5h1M180 299.5h1M191 285.5h1M183 283.5h1M182 297.5h1M204 289.5h1M184 287.5h1M202 284.5h1M195 298.5h1M196 282.5h1M204 268.5h1M186 281.5h1M185 295.5h1M179 286.5h1M181 313.5h1M189 289.5h1M188 305.5h1M197 289.5h1M167 309.5h1M183 297.5h1M190 285.5h1M202 287.5h1M167 302.5h1M191 294.5h1M199 278.5h1M189 283.5h1M175 293.5h1M205 287.5h1M198 287.5h1M184 276.5h1M182 266.5h1M198 290.5h1M200 278.5h1M192 318.5h1M197 296.5h1M189 297.5h1M190 277.5h1M200 276.5h1M190 297.5h1M188 281.5h1M200 281.5h1M194 308.5h1M191 291.5h1M174 282.5h1M190 292.5h1M183 295.5h1M185 305.5h1M198 284.5h1M191 283.5h1M202 295.5h1M192 300.5h1M184 308.5h1M182 281.5h1M171 281.5h1M203 260.5h1M206 257.5h1M199 265.5h1M174 293.5h1M190 311.5h1M195 294.5h1M185 299.5h1M201 269.5h1M208 295.5h1M186 292.5h1M205 296.5h1M196 269.5h1M179 297.5h1M179 303.5h1M190 290.5h1M193 300.5h1M188 280.5h1M178 277.5h1M198 271.5h1M206 285.5h1M199 303.5h1M192 311.5h1M195 303.5h1M181 289.5h1M189 290.5h1M187 298.5h1M194 271.5h1M199 277.5h1M190 292.5h1M196 299.5h1M196 294.5h1M192 289.5h1M202 294.5h1M168 302.5h1M189 293.5h1M183 315.5h1M185 284.5h1M206 285.5h1M177 297.5h1M193 286.5h1M174 288.5h1M192 300.5h1M210 265.5h1M206 281.5h1M206 288.5h1M188 293.5h1M204 288.5h1M189 290.5h1M201 286.5h1M178 295.5h1M212 301.5h1M187 292.5h1M182 306.5h1M205 267.5h1M204 281.5h1M173 291.5h1M185 309.5h1M184 296.5h1M189 300.5h1M191 298.5h1M181 307.5h1M181 296.5h1M202 293.5h1M199 285.5h1M189 320.5h1M190 287.5h1M192 305.5h1M191 305.5h1M185 290.5h1M188 297.5h1M195 278.5h1M199 280.5h1M187 291.5h1M187 296.5h1M205 264.5h1M198 285.5h1M193 292.5h1M198 274.5h1M208 273.5h1M197 300.5h1M197 260.5h1M177 282.5h1M203 276.5h1M180 290.5h1M190 286.5h1M194 297.5h1M199 292.5h1M202 277.5h1M189 302.5h1M193 294.5h1M198 282.5h1M198 300.5h1M201 259.5h1M191 312.5h1M181 293.5h1M194 273.5h1M193 261.5h1M196 281.5h1M187 310.5h1M181 288.5h1M194 288.5h1M198 282.5h1M207 280.5h1M198 272.5h1M182 298.5h1M173 307.5h1M206 294.5h1M179 299.5h1M202 278.5h1M202 294.5h1M185 267.5h1M184 311.5h1M192 309.5h1M182 284.5h1M205 294.5h1M198 303.5h1M196 296.5h1M200 312.5h1M196 268.5h1M182 288.5h1M184 304.5h1M201 282.5h1M208 289.5h1M191 284.5h1M200 289.5h1M185 291.5h1M184 286.5h1M176 317.5h1M198 318.5h1M191 309.5h1M184 279.5h1M200 272.5h1M180 284.5h1M208 302.5h1M177 302.5h1M184 308.5h1M166 335.5h1M182 319.5h1M188 281.5h1M179 286.5h1M177 313.5h1M187 297.5h1M182 270.5h1M167 321.5h1M180 293.5h1M206 291.5h1M179 319.5h1M195 314.5h1M191 279.5h1M180 276.5h1M187 299.5h1M190 316.5h1M172 313.5h1M171 290.5h1M186 299.5h1M189 270.5h1M181 304.5h1M199 305.5h1M212 278.5h1M188 298.5h1M163 277.5h1M195 268.5h1M185 302.5h1M183 292.5h1M189 287.5h1M184 307.5h1M168 323.5h1M166 330.5h1M171 300.5h1M179 270.5h1M180 274.5h1M205 275.5h1M187 281.5h1M181 319.5h1M174 336.5h1M174 311.5h1M172 302.5h1M173 316.5h1M184 279.5h1M163 310.5h1M181 286.5h1M193 289.5h1M174 343.5h1M157 296.5h1M202 283.5h1M184 281.5h1M178 296.5h1M171 324.5h1M153 301.5h1M175 295.5h1M197 279.5h1M192 296.5h1M190 310.5h1M198 307.5h1M185 284.5h1M164 337.5h1M174 323.5h1M176 297.5h1M200 283.5h1M188 278.5h1M178 321.5h1M187 305.5h1M162 308.5h1M184 314.5h1M177 295.5h1M171 305.5h1M174 312.5h1M184 335.5h1M175 340.5h1M190 313.5h1M197 308.5h1M180 284.5h1M180 323.5h1M185 324.5h1M202 283.5h1M188 295.5h1M210 298.5h1M168 308.5h1M165 309.5h1M173 327.5h1M185 278.5h1M183 334.5h1M165 337.5h1M174 317.5h1M196 279.5h1M170 293.5h1M188 300.5h1M193 307.5h1M178 301.5h1M178 304.5h1M159 324.5h1M206 274.5h1M178 303.5h1M203 284.5h1M156 326.5h1M195 297.5h1M173 328.5h1M153 317.5h1M193 303.5h1M194 283.5h1M193 273.5h1M201 280.5h1M168 300.5h1M197 292.5h1M163 305.5h1M191 323.5h1M199 307.5h1M179 304.5h1M177 276.5h1M141 323.5h1M205 288.5h1M174 313.5h1M205 279.5h1M159 317.5h1M185 306.5h1M175 280.5h1M168 314.5h1M178 319.5h1M185 312.5h1M193 290.5h1M188 282.5h1M181 313.5h1M162 266.5h1M198 274.5h1M205 294.5h1M171 314.5h1M159 309.5h1M180 294.5h1M195 289.5h1M194 299.5h1M185 314.5h1M182 327.5h1M203 283.5h1M177 303.5h1M211 272.5h1M150 310.5h1M173 305.5h1M178 317.5h1M205 269.5h1M182 269.5h1M193 323.5h1M155 335.5h1M168 261.5h1M173 292.5h1M177 329.5h1M161 328.5h1M189 296.5h1M150 285.5h1M190 304.5h1M189 297.5h1M180 311.5h1M193 317.5h1M183 305.5h1M173 303.5h1M194 293.5h1M151 333.5h1M189 274.5h1M180 289.5h1M190 328.5h1M163 294.5h1M188 273.5h1M180 286.5h1M159 333.5h1M169 320.5h1M189 302.5h1M199 267.5h1M181 281.5h1M185 309.5h1M180 285.5h1M187 305.5h1M171 303.5h1M188 296.5h1M146 333.5h1M174 269.5h1M186 290.5h1M181 313.5h1M175 320.5h1M160 319.5h1M190 300.5h1M173 292.5h1M181 296.5h1M193 264.5h1M160 345.5h1M183 321.5h1M180 321.5h1M189 282.5h1M187 312.5h1M162 313.5h1M206 313.5h1M194 299.5h1M203 274.5h1" stroke="#0c6fbc" stroke-width="1.0" fill="none"/>
<rect x="32.3" y="225.4" width="181.2" height="174.8" fill="none" stroke="#9a9a9a" stroke-width="0.9"/><line x1="32.3" y1="400.2" x2="32.3" y2="404.0" stroke="#9a9a9a" stroke-width="0.8"/><text x="32.6" y="414.0" font-size="7.6" fill="#4a4a4a" text-anchor="middle">10<tspan font-size="5.2" dy="-3.3">1</tspan></text><line x1="28.2" y1="400.2" x2="32.3" y2="400.2" stroke="#9a9a9a" stroke-width="0.8"/><text x="24.5" y="402.9" font-size="7.6" fill="#4a4a4a" text-anchor="end">10<tspan font-size="5.2" dy="-3.3">1</tspan></text><line x1="73.3" y1="400.2" x2="73.3" y2="404.0" stroke="#9a9a9a" stroke-width="0.8"/><text x="73.6" y="414.0" font-size="7.6" fill="#4a4a4a" text-anchor="middle">10<tspan font-size="5.2" dy="-3.3">2</tspan></text><line x1="28.2" y1="360.8" x2="32.3" y2="360.8" stroke="#9a9a9a" stroke-width="0.8"/><text x="24.5" y="363.5" font-size="7.6" fill="#4a4a4a" text-anchor="end">10<tspan font-size="5.2" dy="-3.3">2</tspan></text><line x1="114.3" y1="400.2" x2="114.3" y2="404.0" stroke="#9a9a9a" stroke-width="0.8"/><text x="114.6" y="414.0" font-size="7.6" fill="#4a4a4a" text-anchor="middle">10<tspan font-size="5.2" dy="-3.3">3</tspan></text><line x1="28.2" y1="321.4" x2="32.3" y2="321.4" stroke="#9a9a9a" stroke-width="0.8"/><text x="24.5" y="324.1" font-size="7.6" fill="#4a4a4a" text-anchor="end">10<tspan font-size="5.2" dy="-3.3">3</tspan></text><line x1="155.3" y1="400.2" x2="155.3" y2="404.0" stroke="#9a9a9a" stroke-width="0.8"/><text x="155.6" y="414.0" font-size="7.6" fill="#4a4a4a" text-anchor="middle">10<tspan font-size="5.2" dy="-3.3">4</tspan></text><line x1="28.2" y1="282.0" x2="32.3" y2="282.0" stroke="#9a9a9a" stroke-width="0.8"/><text x="24.5" y="284.7" font-size="7.6" fill="#4a4a4a" text-anchor="end">10<tspan font-size="5.2" dy="-3.3">4</tspan></text><line x1="196.3" y1="400.2" x2="196.3" y2="404.0" stroke="#9a9a9a" stroke-width="0.8"/><text x="196.6" y="414.0" font-size="7.6" fill="#4a4a4a" text-anchor="middle">10<tspan font-size="5.2" dy="-3.3">5</tspan></text><line x1="28.2" y1="242.6" x2="32.3" y2="242.6" stroke="#9a9a9a" stroke-width="0.8"/><text x="24.5" y="245.3" font-size="7.6" fill="#4a4a4a" text-anchor="end">10<tspan font-size="5.2" dy="-3.3">5</tspan></text><text x="81.6" y="426.59999999999997" font-size="8.4" fill="#444444" textLength="84.6" lengthAdjust="spacingAndGlyphs">DyLight 405 intensity</text><text transform="translate(7.4,340.5) rotate(-90)" font-size="8.4" fill="#444444" textLength="53.4" lengthAdjust="spacingAndGlyphs">FITC intensity</text>
<path d="M343 334.5h1M354 328.5h1M346 333.5h1M358 325.5h1M357 326.5h1M364 320.5h1M353 331.5h1M346 335.5h1M354 328.5h1M358 322.5h1M352 315.5h1M359 323.5h1M369 318.5h1M353 324.5h1M358 326.5h1M352 330.5h1M353 327.5h1M365 316.5h1M360 320.5h1M337 339.5h1M366 315.5h1M340 333.5h1M352 323.5h1M365 317.5h1M358 322.5h1M364 322.5h1M362 316.5h1M360 321.5h1M344 327.5h1M361 322.5h1M349 324.5h1M341 340.5h1M358 328.5h1M363 321.5h1M357 321.5h1M355 320.5h1M372 313.5h1M357 319.5h1M365 318.5h1M360 321.5h1M370 312.5h1M351 321.5h1M366 314.5h1M370 310.5h1M357 328.5h1M365 315.5h1M347 331.5h1M357 317.5h1M364 320.5h1M352 329.5h1M345 336.5h1M359 323.5h1M353 323.5h1M360 323.5h1M357 318.5h1M363 317.5h1M370 314.5h1M362 321.5h1M348 335.5h1M365 321.5h1M358 318.5h1M357 320.5h1M371 314.5h1M360 322.5h1M352 321.5h1M362 321.5h1M345 332.5h1M363 315.5h1M358 322.5h1M370 312.5h1M363 319.5h1M360 320.5h1M361 324.5h1M348 330.5h1M356 323.5h1M362 323.5h1M364 315.5h1M362 322.5h1M367 323.5h1M366 322.5h1M353 326.5h1M359 319.5h1M356 325.5h1M351 333.5h1M346 332.5h1M362 315.5h1M368 313.5h1M371 316.5h1M350 327.5h1M369 313.5h1M369 313.5h1M352 327.5h1M360 318.5h1M370 312.5h1M360 324.5h1M366 315.5h1M353 326.5h1M353 322.5h1M366 319.5h1M356 324.5h1M360 323.5h1M358 321.5h1M351 330.5h1M374 319.5h1M355 321.5h1M356 326.5h1M356 327.5h1M361 325.5h1M352 331.5h1M366 319.5h1M355 325.5h1M363 317.5h1M351 328.5h1M349 328.5h1M352 330.5h1M358 320.5h1M348 331.5h1M363 316.5h1M354 323.5h1M365 317.5h1M352 322.5h1M362 315.5h1M350 330.5h1M346 326.5h1M359 315.5h1M356 329.5h1M369 320.5h1M353 328.5h1M360 318.5h1M350 326.5h1M343 332.5h1M368 313.5h1M354 322.5h1M363 315.5h1M359 322.5h1M344 333.5h1M358 318.5h1M366 317.5h1M368 315.5h1M371 314.5h1M358 317.5h1M355 322.5h1M356 320.5h1M349 331.5h1M363 318.5h1M360 315.5h1M360 321.5h1M349 325.5h1M362 318.5h1M353 326.5h1M366 313.5h1M351 325.5h1M350 322.5h1M355 325.5h1M347 326.5h1M352 330.5h1M357 326.5h1M343 343.5h1M371 308.5h1M357 317.5h1M362 323.5h1M351 329.5h1M359 322.5h1M360 326.5h1M358 322.5h1M346 331.5h1M357 324.5h1M345 337.5h1M355 323.5h1M349 327.5h1M355 329.5h1M355 325.5h1M362 316.5h1M371 320.5h1M357 322.5h1M346 326.5h1M371 315.5h1M344 329.5h1M354 327.5h1M354 323.5h1M352 328.5h1M369 316.5h1M363 323.5h1M361 311.5h1M357 327.5h1M364 317.5h1M353 321.5h1M355 323.5h1M359 320.5h1M364 324.5h1M362 320.5h1M358 327.5h1M349 336.5h1M354 324.5h1M336 338.5h1M356 326.5h1M352 329.5h1M362 316.5h1M335 338.5h1M374 312.5h1M352 322.5h1M343 331.5h1M360 320.5h1M363 322.5h1M359 319.5h1M372 307.5h1M348 324.5h1M360 322.5h1M355 318.5h1M353 328.5h1M358 320.5h1M367 315.5h1M351 328.5h1M358 317.5h1M366 317.5h1M360 317.5h1M346 333.5h1M359 321.5h1M355 327.5h1M366 314.5h1M360 327.5h1M372 310.5h1M346 328.5h1M359 318.5h1M353 332.5h1M372 313.5h1M370 313.5h1M347 325.5h1M363 318.5h1M357 323.5h1M345 334.5h1M349 329.5h1M359 324.5h1M360 319.5h1M353 324.5h1M357 318.5h1M361 322.5h1M358 319.5h1M345 326.5h1M357 320.5h1M360 318.5h1M350 337.5h1M366 310.5h1M364 309.5h1M356 319.5h1M372 308.5h1M350 326.5h1M345 322.5h1M354 328.5h1M352 328.5h1M369 308.5h1M357 322.5h1M361 327.5h1M359 320.5h1M368 311.5h1M360 323.5h1M354 324.5h1M359 320.5h1M370 318.5h1M355 323.5h1M364 309.5h1M356 317.5h1M358 326.5h1M363 322.5h1M372 310.5h1M355 323.5h1M370 316.5h1M363 320.5h1M356 319.5h1M357 322.5h1M361 315.5h1M362 319.5h1M358 318.5h1M363 319.5h1M352 329.5h1M354 329.5h1M353 333.5h1M355 326.5h1M358 327.5h1M355 326.5h1M361 319.5h1M350 328.5h1M355 323.5h1M364 318.5h1M370 312.5h1M355 320.5h1M366 315.5h1M367 314.5h1M354 334.5h1M361 323.5h1M347 327.5h1M356 327.5h1M362 322.5h1M346 329.5h1M363 322.5h1M354 321.5h1M355 324.5h1M362 320.5h1M355 332.5h1M342 331.5h1M380 356.5h1M382 350.5h1M402 341.5h1M385 353.5h1M398 342.5h1M393 344.5h1M394 349.5h1M387 353.5h1M386 346.5h1M396 343.5h1M389 354.5h1M398 340.5h1M397 344.5h1M396 339.5h1M400 348.5h1M399 342.5h1M396 341.5h1M404 343.5h1M399 345.5h1M397 343.5h1M388 352.5h1M383 358.5h1M395 345.5h1M405 343.5h1M390 354.5h1M380 353.5h1M392 351.5h1M397 343.5h1M402 340.5h1M391 346.5h1M386 353.5h1M394 345.5h1M398 339.5h1M394 346.5h1M406 343.5h1M392 351.5h1M399 337.5h1M405 333.5h1M388 353.5h1M391 355.5h1M401 343.5h1M415 321.5h1M397 340.5h1M393 344.5h1M408 341.5h1M397 349.5h1M384 358.5h1M390 355.5h1M405 337.5h1M384 359.5h1M383 354.5h1M402 341.5h1M397 346.5h1M403 337.5h1M386 352.5h1M389 350.5h1M393 349.5h1M386 354.5h1M397 351.5h1M397 351.5h1M403 342.5h1M394 346.5h1M389 345.5h1M398 342.5h1M405 341.5h1M404 340.5h1M399 347.5h1M392 348.5h1M392 349.5h1M385 355.5h1M395 345.5h1M393 344.5h1M406 334.5h1M399 347.5h1M399 339.5h1M407 339.5h1M380 357.5h1M390 350.5h1M390 344.5h1M396 345.5h1M387 354.5h1M402 341.5h1M400 338.5h1M398 342.5h1M401 342.5h1M385 351.5h1M400 334.5h1M387 347.5h1M378 355.5h1M397 346.5h1M398 343.5h1M390 350.5h1M386 360.5h1M383 350.5h1M396 350.5h1M375 362.5h1M405 342.5h1M402 339.5h1M392 345.5h1M402 338.5h1M395 349.5h1M388 355.5h1M398 340.5h1M399 342.5h1M388 352.5h1M383 353.5h1M392 358.5h1M403 338.5h1M390 345.5h1M413 324.5h1M389 349.5h1M401 343.5h1M396 342.5h1M390 343.5h1M402 342.5h1M390 353.5h1M395 347.5h1M387 354.5h1M382 364.5h1M400 350.5h1M389 356.5h1M386 356.5h1M399 341.5h1M395 348.5h1M398 343.5h1M406 332.5h1M391 338.5h1M397 341.5h1M388 356.5h1M400 338.5h1M401 340.5h1M386 352.5h1M398 340.5h1M396 342.5h1M396 350.5h1M398 348.5h1M413 329.5h1M389 349.5h1M389 344.5h1M395 344.5h1M394 348.5h1M382 359.5h1M401 343.5h1M404 343.5h1M410 337.5h1M392 351.5h1M385 354.5h1M401 343.5h1M387 353.5h1M396 346.5h1M392 349.5h1M397 346.5h1M391 348.5h1M400 341.5h1M393 357.5h1M413 330.5h1M401 341.5h1M391 351.5h1M387 352.5h1M395 349.5h1M391 349.5h1M390 353.5h1M404 335.5h1M402 339.5h1M389 356.5h1M401 344.5h1M394 344.5h1M400 340.5h1M390 350.5h1M413 334.5h1M397 347.5h1M410 332.5h1M391 348.5h1M405 337.5h1M396 348.5h1M408 335.5h1M395 348.5h1M389 355.5h1M389 355.5h1M392 352.5h1M402 345.5h1M397 342.5h1M395 343.5h1M402 337.5h1M409 337.5h1M389 354.5h1M402 339.5h1M413 332.5h1M391 351.5h1M391 350.5h1M401 347.5h1M395 342.5h1M394 352.5h1M397 350.5h1M406 334.5h1M404 342.5h1M387 349.5h1M382 356.5h1M386 352.5h1M397 345.5h1M392 354.5h1M391 354.5h1M400 341.5h1M393 348.5h1M394 351.5h1M399 347.5h1M408 338.5h1M398 344.5h1M400 340.5h1M394 343.5h1M408 336.5h1M383 351.5h1M385 352.5h1M389 346.5h1M412 334.5h1M406 335.5h1M385 351.5h1M395 352.5h1M398 340.5h1M395 345.5h1M400 338.5h1M391 349.5h1M381 354.5h1M401 343.5h1M406 339.5h1M382 354.5h1M380 357.5h1M394 352.5h1M379 356.5h1M396 341.5h1M385 351.5h1M402 342.5h1M390 345.5h1M395 344.5h1M399 340.5h1M394 347.5h1M388 353.5h1M403 341.5h1M385 357.5h1M404 335.5h1M392 351.5h1M392 351.5h1M398 343.5h1M399 344.5h1M403 347.5h1M385 357.5h1M389 352.5h1M395 340.5h1M397 342.5h1M396 348.5h1M407 340.5h1M395 348.5h1M402 339.5h1M405 340.5h1M397 343.5h1M396 350.5h1M400 340.5h1M396 340.5h1M405 347.5h1M389 352.5h1M398 342.5h1M406 334.5h1M393 347.5h1M396 345.5h1M393 347.5h1M402 340.5h1M380 359.5h1M404 332.5h1M397 340.5h1M392 345.5h1M398 345.5h1M405 339.5h1M396 341.5h1M402 344.5h1M402 336.5h1M399 347.5h1M397 337.5h1M404 334.5h1M400 343.5h1M391 351.5h1" stroke="#939393" stroke-width="1.0" fill="none"/>
<path d="M291 372.5h1M349 365.5h1M381 341.5h1M369 369.5h1M343 367.5h1M405 337.5h1M369 380.5h1M363 368.5h1M338 347.5h1M361 328.5h1M425 350.5h1M363 362.5h1M299 352.5h1M360 386.5h1M406 364.5h1M386 370.5h1M309 376.5h1M365 343.5h1M322 355.5h1M331 343.5h1M330 368.5h1M394 330.5h1M394 370.5h1M345 386.5h1M351 355.5h1M398 353.5h1M339 352.5h1M337 364.5h1M322 345.5h1M392 342.5h1M353 357.5h1M351 368.5h1M335 352.5h1M326 378.5h1M374 341.5h1M324 346.5h1M332 348.5h1M305 392.5h1M317 360.5h1M334 358.5h1M333 349.5h1M311 396.5h1M334 375.5h1M346 364.5h1M368 369.5h1M339 348.5h1M310 366.5h1M336 330.5h1M361 354.5h1M354 390.5h1M351 366.5h1M349 357.5h1M364 337.5h1M308 357.5h1M333 370.5h1M364 382.5h1M350 361.5h1M319 369.5h1M337 340.5h1M326 349.5h1M354 386.5h1M304 377.5h1M307 364.5h1M348 379.5h1M421 358.5h1M373 336.5h1M382 343.5h1M355 392.5h1M393 348.5h1M359 357.5h1M352 365.5h1M378 347.5h1M313 358.5h1M314 364.5h1M391 367.5h1M376 366.5h1M352 348.5h1M336 329.5h1M342 352.5h1M358 351.5h1M323 362.5h1M372 366.5h1M321 365.5h1M391 376.5h1M337 351.5h1M321 358.5h1M340 360.5h1M325 381.5h1M346 367.5h1M299 381.5h1M334 359.5h1M352 366.5h1M359 354.5h1M335 348.5h1M380 334.5h1M304 388.5h1M344 369.5h1M338 383.5h1M345 340.5h1M344 378.5h1M384 331.5h1M350 370.5h1M319 349.5h1M422 359.5h1M439 255.5h1M437 299.5h1M432 241.5h1M437 263.5h1M435 246.5h1M449 229.5h1M448 287.5h1M452 258.5h1M463 253.5h1M441 291.5h1M458 273.5h1M452 296.5h1M456 238.5h1M452 283.5h1M429 236.5h1M461 282.5h1M449 259.5h1M462 292.5h1M461 252.5h1M429 285.5h1M437 251.5h1M444 231.5h1M458 271.5h1M433 243.5h1M449 282.5h1M435 283.5h1M442 253.5h1M439 239.5h1M432 286.5h1M459 294.5h1M452 295.5h1M461 283.5h1M434 240.5h1M451 290.5h1M448 255.5h1M459 262.5h1M434 244.5h1M436 282.5h1M457 337.5h1M351 265.5h1M321 355.5h1M371 339.5h1M321 378.5h1M313 263.5h1M370 253.5h1M366 345.5h1M290 322.5h1M454 382.5h1M460 385.5h1M431 382.5h1M340 235.5h1M398 351.5h1M448 362.5h1M427 341.5h1M457 270.5h1M416 297.5h1M344 306.5h1M336 251.5h1M328 334.5h1M457 265.5h1M356 267.5h1M391 338.5h1M420 289.5h1M295 367.5h1M335 231.5h1M444 388.5h1M365 345.5h1M339 282.5h1" stroke="#939393" stroke-width="1.0" fill="none"/>
<path d="M378 247.5h1M396 250.5h1M404 243.5h1M403 249.5h1M387 241.5h1M407 244.5h1M417 236.5h1M397 251.5h1M385 263.5h1M390 249.5h1M399 255.5h1M376 243.5h1M384 231.5h1M410 251.5h1M400 240.5h1M407 252.5h1M399 250.5h1M396 270.5h1M394 256.5h1M385 258.5h1M395 246.5h1M404 261.5h1M411 264.5h1M414 258.5h1M381 246.5h1M404 241.5h1M402 239.5h1M374 251.5h1M413 244.5h1M388 252.5h1M394 263.5h1M390 253.5h1M400 277.5h1M400 250.5h1M405 239.5h1M381 266.5h1M410 256.5h1M401 246.5h1M392 238.5h1M400 245.5h1M390 241.5h1M385 251.5h1M399 240.5h1M400 250.5h1M400 242.5h1M405 254.5h1M386 249.5h1M391 249.5h1M389 237.5h1M371 265.5h1M379 261.5h1M379 267.5h1M383 251.5h1M377 249.5h1M398 251.5h1M402 262.5h1M417 246.5h1M381 251.5h1M384 255.5h1M383 256.5h1M406 265.5h1M400 253.5h1M403 266.5h1M396 268.5h1M388 269.5h1M401 254.5h1M376 246.5h1M397 270.5h1M397 258.5h1M403 252.5h1M410 229.5h1M401 229.5h1M394 266.5h1M405 267.5h1M382 274.5h1M375 269.5h1M388 278.5h1M393 235.5h1M401 259.5h1M387 271.5h1M392 261.5h1M374 244.5h1M382 253.5h1M403 233.5h1M387 278.5h1M400 263.5h1M402 253.5h1M384 235.5h1M365 265.5h1M394 248.5h1M390 269.5h1M404 269.5h1M385 271.5h1M396 239.5h1M399 238.5h1M398 259.5h1M375 266.5h1M403 243.5h1M396 233.5h1M383 261.5h1M395 236.5h1M377 268.5h1M388 268.5h1M385 242.5h1M391 272.5h1M395 239.5h1M410 239.5h1M398 253.5h1M396 244.5h1M412 238.5h1M407 252.5h1M413 243.5h1M415 243.5h1M385 262.5h1M409 226.5h1M405 239.5h1M409 259.5h1M400 241.5h1M389 241.5h1M406 256.5h1M394 267.5h1M383 249.5h1M393 255.5h1M394 232.5h1M401 248.5h1M410 256.5h1M394 252.5h1M405 238.5h1M372 274.5h1M394 266.5h1M406 244.5h1M374 242.5h1M404 247.5h1M410 250.5h1M380 265.5h1M389 250.5h1M378 257.5h1M398 246.5h1M408 244.5h1M392 252.5h1M411 255.5h1M414 269.5h1M423 241.5h1M382 239.5h1M389 243.5h1M383 232.5h1M399 236.5h1M412 253.5h1M403 257.5h1M392 248.5h1M406 251.5h1M407 251.5h1M400 262.5h1M396 262.5h1M409 265.5h1M395 243.5h1M397 260.5h1M375 254.5h1M378 243.5h1M391 256.5h1M391 237.5h1M381 249.5h1M389 253.5h1M411 232.5h1M387 237.5h1M381 256.5h1M406 239.5h1M396 258.5h1M388 259.5h1M392 238.5h1M377 261.5h1M399 255.5h1M400 246.5h1M399 242.5h1M394 259.5h1M391 256.5h1M402 258.5h1M411 243.5h1M377 267.5h1M399 240.5h1M399 249.5h1M387 263.5h1M398 234.5h1M385 258.5h1M401 250.5h1M386 250.5h1M365 269.5h1M394 251.5h1M393 243.5h1M397 263.5h1M387 264.5h1M395 239.5h1M392 254.5h1M410 245.5h1M410 239.5h1M394 254.5h1M395 254.5h1M388 258.5h1M365 261.5h1M393 249.5h1M404 245.5h1M397 235.5h1M389 246.5h1M418 238.5h1M395 260.5h1M403 258.5h1M387 254.5h1M384 249.5h1M394 255.5h1M379 249.5h1M396 258.5h1M399 249.5h1M396 250.5h1M384 260.5h1M385 234.5h1M397 266.5h1M394 242.5h1M394 249.5h1M369 263.5h1M397 270.5h1M412 248.5h1M375 246.5h1M379 249.5h1M382 248.5h1M396 250.5h1M390 237.5h1M392 253.5h1M417 240.5h1M391 257.5h1M393 257.5h1M402 259.5h1M401 252.5h1M412 239.5h1M384 247.5h1M384 245.5h1M391 236.5h1M402 258.5h1M397 237.5h1M379 256.5h1M398 239.5h1M384 279.5h1M399 242.5h1M422 229.5h1M380 254.5h1M412 252.5h1M395 240.5h1M390 263.5h1M408 256.5h1M391 262.5h1M386 263.5h1M375 261.5h1M386 247.5h1M376 253.5h1M371 267.5h1M401 250.5h1M384 271.5h1M399 242.5h1M399 250.5h1M401 270.5h1M398 280.5h1M381 255.5h1M382 264.5h1M375 242.5h1M396 258.5h1M376 272.5h1M385 253.5h1M398 244.5h1M394 232.5h1M401 233.5h1M390 264.5h1M402 243.5h1M392 252.5h1M400 240.5h1M404 246.5h1M387 269.5h1M388 259.5h1M385 256.5h1M380 263.5h1M397 266.5h1M400 244.5h1M412 266.5h1M388 251.5h1M400 235.5h1M376 259.5h1M407 236.5h1M394 237.5h1M400 232.5h1M399 246.5h1M379 269.5h1M405 265.5h1M374 259.5h1M380 251.5h1M412 242.5h1M407 260.5h1M413 261.5h1M391 235.5h1M384 258.5h1M388 226.5h1M386 240.5h1M370 248.5h1M383 251.5h1M397 257.5h1M402 246.5h1M397 228.5h1M404 263.5h1M388 249.5h1M413 234.5h1M414 235.5h1M402 253.5h1M383 248.5h1M388 240.5h1M385 257.5h1M411 240.5h1M391 263.5h1M383 255.5h1M389 255.5h1M378 259.5h1M409 248.5h1M388 270.5h1M385 231.5h1M395 244.5h1M402 244.5h1M389 272.5h1M400 252.5h1M395 246.5h1M412 249.5h1M398 247.5h1M392 259.5h1M420 251.5h1M406 236.5h1M396 228.5h1M392 261.5h1M401 246.5h1M385 259.5h1M398 256.5h1M415 254.5h1M382 266.5h1M410 242.5h1M376 250.5h1M389 256.5h1M400 256.5h1M399 257.5h1M371 253.5h1M387 247.5h1M396 279.5h1M384 253.5h1M414 234.5h1M399 255.5h1M382 248.5h1M402 229.5h1M404 253.5h1M400 244.5h1M384 253.5h1M405 239.5h1M388 251.5h1M408 246.5h1M389 235.5h1M408 244.5h1M406 260.5h1M389 265.5h1M385 248.5h1M387 257.5h1M408 234.5h1M389 254.5h1M398 247.5h1M402 242.5h1M392 265.5h1M394 238.5h1M389 269.5h1M402 252.5h1M387 248.5h1M392 243.5h1M397 245.5h1M387 256.5h1M398 239.5h1M387 254.5h1M404 256.5h1M400 230.5h1M370 248.5h1M392 247.5h1M410 235.5h1M395 229.5h1M383 254.5h1M395 262.5h1M400 245.5h1M394 261.5h1M387 243.5h1M394 274.5h1M389 235.5h1M386 273.5h1M393 247.5h1M404 246.5h1M386 255.5h1M371 260.5h1M378 260.5h1M388 279.5h1M412 233.5h1M377 271.5h1M368 252.5h1M402 250.5h1M398 253.5h1M410 244.5h1M406 236.5h1M393 241.5h1M402 258.5h1M378 248.5h1M382 244.5h1M396 235.5h1M395 240.5h1M379 228.5h1M389 276.5h1M392 263.5h1M371 244.5h1M400 265.5h1M383 260.5h1M402 244.5h1M411 245.5h1M418 237.5h1M392 258.5h1M391 250.5h1M391 246.5h1M389 247.5h1M387 259.5h1M401 242.5h1M372 269.5h1M396 260.5h1M389 280.5h1M393 238.5h1M400 279.5h1M380 260.5h1M384 242.5h1M396 270.5h1M415 262.5h1M398 260.5h1M409 227.5h1M392 270.5h1M379 253.5h1M394 240.5h1M404 256.5h1M392 241.5h1M404 263.5h1M406 243.5h1M396 245.5h1M395 227.5h1M376 260.5h1M384 238.5h1M405 262.5h1M394 267.5h1M399 240.5h1M370 255.5h1M398 237.5h1M389 237.5h1M389 278.5h1M407 253.5h1M381 275.5h1M404 248.5h1M380 268.5h1M397 253.5h1M402 261.5h1M379 267.5h1M390 280.5h1M405 250.5h1M388 254.5h1M411 244.5h1M394 251.5h1M384 239.5h1M390 241.5h1M391 246.5h1M410 253.5h1M395 264.5h1M396 263.5h1M413 236.5h1M394 253.5h1M393 269.5h1M403 248.5h1M378 252.5h1M399 252.5h1M421 251.5h1M408 238.5h1M412 231.5h1M408 240.5h1M383 229.5h1M392 238.5h1M383 236.5h1M400 255.5h1M392 250.5h1M410 232.5h1M401 257.5h1M404 235.5h1M388 242.5h1M425 247.5h1M388 256.5h1M401 256.5h1M408 244.5h1M400 249.5h1M386 241.5h1M397 234.5h1M391 270.5h1M404 228.5h1M398 244.5h1M400 270.5h1M396 252.5h1M423 231.5h1M396 250.5h1M399 280.5h1M415 241.5h1M400 246.5h1M400 254.5h1M412 244.5h1M393 255.5h1M399 255.5h1M412 245.5h1M401 246.5h1M404 239.5h1M390 252.5h1M425 242.5h1M387 268.5h1M374 257.5h1M412 253.5h1M392 252.5h1M402 250.5h1M387 242.5h1M384 243.5h1M384 259.5h1M403 249.5h1M420 245.5h1M393 262.5h1M419 234.5h1M409 232.5h1M376 249.5h1M387 228.5h1M384 259.5h1M394 250.5h1M387 262.5h1M389 253.5h1M381 271.5h1M380 240.5h1M393 266.5h1M387 258.5h1M384 275.5h1M388 243.5h1M387 249.5h1M393 250.5h1M385 261.5h1M387 251.5h1M392 262.5h1M369 256.5h1M373 248.5h1M383 248.5h1M392 241.5h1M396 256.5h1M383 234.5h1M418 244.5h1M409 244.5h1M374 240.5h1M384 271.5h1M401 257.5h1M410 259.5h1M395 232.5h1M387 240.5h1M406 263.5h1M402 243.5h1M394 264.5h1M379 255.5h1M381 243.5h1M393 244.5h1M398 239.5h1M391 226.5h1M418 240.5h1M403 231.5h1M412 247.5h1M400 256.5h1M391 236.5h1M415 242.5h1M388 261.5h1M391 234.5h1M396 241.5h1M407 261.5h1M411 230.5h1M391 258.5h1M394 266.5h1M378 237.5h1M389 256.5h1M406 234.5h1M372 261.5h1M382 263.5h1M408 254.5h1M401 241.5h1M381 260.5h1M405 234.5h1M370 264.5h1M396 232.5h1M383 256.5h1M392 256.5h1M410 229.5h1M378 238.5h1M403 267.5h1M387 239.5h1M407 226.5h1M401 253.5h1M388 258.5h1M391 243.5h1M395 272.5h1M387 256.5h1M385 252.5h1M407 248.5h1M389 254.5h1M387 235.5h1M403 235.5h1M415 237.5h1M393 278.5h1M408 261.5h1M376 256.5h1M402 244.5h1M397 247.5h1M396 251.5h1M396 260.5h1M372 249.5h1M374 264.5h1M391 229.5h1M402 259.5h1M390 245.5h1M392 242.5h1M410 248.5h1M418 234.5h1M399 257.5h1M392 236.5h1M378 266.5h1M397 258.5h1M383 253.5h1M394 261.5h1M403 236.5h1M396 249.5h1M402 254.5h1M387 243.5h1M392 252.5h1M411 266.5h1M390 258.5h1M378 246.5h1M409 268.5h1M385 246.5h1M376 269.5h1M405 257.5h1M394 250.5h1M407 252.5h1M397 271.5h1M383 257.5h1M399 239.5h1M403 269.5h1M403 248.5h1M388 257.5h1M397 273.5h1M373 259.5h1M395 261.5h1M387 252.5h1M379 259.5h1M414 240.5h1M392 247.5h1M386 258.5h1M404 231.5h1M405 243.5h1M380 252.5h1M380 256.5h1M380 242.5h1M392 235.5h1M393 273.5h1M409 241.5h1M388 251.5h1M393 234.5h1M399 255.5h1M398 244.5h1M397 240.5h1M406 236.5h1M380 251.5h1M419 235.5h1M379 260.5h1M403 251.5h1M397 239.5h1M402 255.5h1M404 242.5h1M373 261.5h1M402 256.5h1M402 238.5h1M389 245.5h1M386 262.5h1M398 249.5h1M396 247.5h1M393 266.5h1M400 230.5h1M384 251.5h1M372 250.5h1M393 246.5h1M380 250.5h1M397 255.5h1M393 244.5h1M398 260.5h1M398 241.5h1M400 248.5h1M397 230.5h1M402 273.5h1M396 250.5h1M399 248.5h1M392 242.5h1M382 277.5h1M389 264.5h1M387 238.5h1M404 247.5h1M398 251.5h1M387 240.5h1M422 249.5h1M388 251.5h1M385 255.5h1M405 231.5h1M414 254.5h1M405 260.5h1M395 262.5h1M415 237.5h1M387 248.5h1M391 261.5h1M394 226.5h1M382 265.5h1M388 247.5h1M405 247.5h1M397 256.5h1M387 252.5h1M391 239.5h1M390 267.5h1M382 243.5h1M403 243.5h1M373 251.5h1M416 242.5h1M396 254.5h1M389 246.5h1M391 255.5h1M404 247.5h1M385 250.5h1M389 241.5h1M408 238.5h1M399 231.5h1M385 268.5h1M412 240.5h1M380 246.5h1M402 250.5h1M399 251.5h1M391 241.5h1M397 262.5h1M407 249.5h1M405 240.5h1M389 255.5h1M387 244.5h1M403 242.5h1M409 242.5h1M408 254.5h1M399 248.5h1M402 247.5h1M383 246.5h1M410 256.5h1M406 263.5h1M407 265.5h1M377 276.5h1M376 266.5h1M385 235.5h1M414 251.5h1M397 244.5h1M400 252.5h1M379 242.5h1M397 241.5h1M379 244.5h1M395 250.5h1M399 226.5h1M380 262.5h1M395 260.5h1M385 246.5h1M381 272.5h1M403 277.5h1M404 239.5h1M409 252.5h1M389 248.5h1M393 226.5h1M384 258.5h1M404 258.5h1M396 261.5h1M408 241.5h1M383 231.5h1M400 250.5h1M391 249.5h1M394 281.5h1M381 275.5h1M393 249.5h1M404 240.5h1M390 260.5h1M392 246.5h1M377 264.5h1M392 274.5h1M405 259.5h1M396 239.5h1M394 237.5h1M416 245.5h1M382 254.5h1M404 260.5h1M402 242.5h1M375 253.5h1M405 263.5h1M394 250.5h1M396 251.5h1M411 247.5h1M392 240.5h1M398 261.5h1M380 279.5h1M410 248.5h1M399 236.5h1M394 241.5h1M386 237.5h1M400 247.5h1M411 242.5h1M378 246.5h1M399 255.5h1M380 256.5h1M379 242.5h1M381 254.5h1M402 270.5h1M386 278.5h1M400 256.5h1M396 234.5h1M399 231.5h1M392 249.5h1M387 256.5h1M397 247.5h1M398 258.5h1M383 242.5h1M405 234.5h1M384 239.5h1M405 252.5h1M406 264.5h1M382 243.5h1M396 268.5h1M393 251.5h1M391 261.5h1M405 239.5h1M395 255.5h1M410 249.5h1M415 244.5h1M401 238.5h1M395 262.5h1M378 270.5h1M395 226.5h1M377 281.5h1M380 255.5h1M399 255.5h1M396 264.5h1M379 275.5h1M384 268.5h1M375 231.5h1M391 278.5h1M405 248.5h1M398 233.5h1M407 237.5h1M396 247.5h1M388 246.5h1M392 256.5h1M416 246.5h1M401 244.5h1M393 243.5h1M402 237.5h1M369 264.5h1M405 244.5h1M387 255.5h1M382 281.5h1M420 251.5h1M383 255.5h1M402 249.5h1M383 254.5h1M396 259.5h1M421 243.5h1M405 253.5h1M400 248.5h1M387 272.5h1M405 243.5h1M385 254.5h1M399 246.5h1M382 259.5h1M399 248.5h1M405 249.5h1M390 273.5h1M415 261.5h1M382 257.5h1M396 230.5h1M406 253.5h1M403 256.5h1M399 239.5h1M391 254.5h1M404 243.5h1M398 248.5h1M420 247.5h1M387 262.5h1M413 230.5h1M387 253.5h1M397 259.5h1M393 262.5h1M391 253.5h1M401 252.5h1M369 249.5h1M401 258.5h1M396 247.5h1M411 246.5h1M381 245.5h1M395 248.5h1M385 245.5h1M385 241.5h1M390 268.5h1M401 239.5h1M395 259.5h1M422 251.5h1M384 228.5h1M392 257.5h1M409 267.5h1M389 253.5h1M402 255.5h1M392 254.5h1M389 256.5h1M387 243.5h1M410 262.5h1M388 252.5h1M393 233.5h1M414 247.5h1M384 252.5h1M402 250.5h1M421 249.5h1M409 229.5h1M387 269.5h1M386 235.5h1M404 242.5h1M399 233.5h1M399 240.5h1M402 238.5h1M392 275.5h1M393 265.5h1M399 243.5h1M378 273.5h1M391 257.5h1M387 247.5h1M398 246.5h1M397 236.5h1M396 247.5h1M385 257.5h1M391 264.5h1M411 256.5h1M393 239.5h1M391 241.5h1M391 245.5h1M402 254.5h1M374 259.5h1M394 250.5h1M400 241.5h1M391 267.5h1M402 249.5h1M406 247.5h1M400 255.5h1M393 253.5h1M389 267.5h1M396 271.5h1M380 268.5h1M378 269.5h1M400 242.5h1M389 240.5h1M381 268.5h1M385 279.5h1M364 258.5h1M408 233.5h1M398 233.5h1M382 264.5h1M415 264.5h1M386 241.5h1M396 268.5h1M380 250.5h1M404 241.5h1M408 248.5h1M423 256.5h1M401 250.5h1M404 255.5h1M399 245.5h1M403 259.5h1M403 227.5h1M401 251.5h1M403 247.5h1M378 238.5h1M383 253.5h1M400 255.5h1M389 251.5h1M401 269.5h1M408 246.5h1M413 230.5h1M403 252.5h1M402 258.5h1M384 254.5h1M387 270.5h1M407 249.5h1M405 248.5h1M394 263.5h1M389 244.5h1M385 258.5h1M419 244.5h1M385 240.5h1M390 238.5h1M412 233.5h1M384 281.5h1M398 246.5h1M402 251.5h1M388 250.5h1M396 250.5h1M395 228.5h1M403 268.5h1M395 261.5h1M408 229.5h1M408 242.5h1M403 247.5h1M411 249.5h1M380 237.5h1M394 254.5h1M388 247.5h1M404 251.5h1M395 258.5h1M382 268.5h1M381 241.5h1M387 238.5h1M377 238.5h1M389 233.5h1M386 237.5h1M405 241.5h1M402 253.5h1M383 243.5h1M406 248.5h1M398 237.5h1M397 259.5h1M397 266.5h1M406 235.5h1M398 261.5h1M401 248.5h1M384 249.5h1M399 249.5h1M399 228.5h1M413 234.5h1M381 262.5h1M391 272.5h1M417 256.5h1M406 231.5h1M393 244.5h1M414 270.5h1M416 251.5h1M400 270.5h1M402 243.5h1M409 237.5h1M409 239.5h1M396 238.5h1M373 241.5h1M401 260.5h1M385 258.5h1M411 229.5h1M397 230.5h1M412 264.5h1M408 261.5h1M406 254.5h1M399 264.5h1M398 243.5h1M403 248.5h1M415 258.5h1M402 254.5h1M400 257.5h1M385 266.5h1M387 273.5h1M373 241.5h1M390 249.5h1M405 263.5h1M376 250.5h1M381 271.5h1M396 243.5h1M381 250.5h1M404 235.5h1M392 233.5h1M391 246.5h1M387 270.5h1M406 245.5h1M405 241.5h1M406 247.5h1M382 245.5h1M398 241.5h1M390 260.5h1M391 242.5h1M398 246.5h1M385 246.5h1M374 251.5h1M392 252.5h1M392 263.5h1M395 271.5h1M390 228.5h1M391 250.5h1M396 260.5h1M392 257.5h1M408 253.5h1M382 245.5h1M387 256.5h1M400 250.5h1M408 258.5h1M370 247.5h1M385 261.5h1M424 250.5h1M397 257.5h1M406 237.5h1M399 243.5h1M403 258.5h1M384 246.5h1M404 229.5h1M389 257.5h1M397 259.5h1M403 271.5h1M398 255.5h1M389 262.5h1M406 257.5h1M382 262.5h1M393 240.5h1M402 250.5h1M400 251.5h1M390 257.5h1M393 226.5h1M407 262.5h1M393 262.5h1M380 227.5h1M396 255.5h1M382 238.5h1M396 240.5h1M373 257.5h1M404 245.5h1M385 261.5h1M380 261.5h1M392 255.5h1M408 235.5h1M378 248.5h1M400 246.5h1M376 252.5h1M405 247.5h1M400 249.5h1M399 233.5h1M392 245.5h1M387 244.5h1M379 270.5h1M398 247.5h1M406 245.5h1M409 258.5h1M400 251.5h1M391 238.5h1M403 241.5h1M386 259.5h1M384 243.5h1M406 252.5h1M394 245.5h1M391 264.5h1M369 265.5h1M410 256.5h1M404 245.5h1M413 235.5h1M401 248.5h1M392 263.5h1M384 234.5h1M396 253.5h1M390 259.5h1M394 275.5h1M390 279.5h1M395 263.5h1M401 263.5h1M391 247.5h1M400 254.5h1M401 251.5h1M412 231.5h1M402 257.5h1M417 244.5h1M394 263.5h1M387 257.5h1M391 257.5h1M386 275.5h1M394 245.5h1M396 238.5h1M406 251.5h1M401 227.5h1M373 275.5h1M403 235.5h1M410 257.5h1M397 262.5h1M404 239.5h1M395 250.5h1M377 248.5h1M381 274.5h1M408 230.5h1M375 281.5h1M406 258.5h1M411 235.5h1M400 243.5h1M376 246.5h1M383 246.5h1M394 261.5h1M404 253.5h1M394 251.5h1M388 268.5h1M398 233.5h1M384 265.5h1M389 266.5h1M423 232.5h1M388 260.5h1M389 264.5h1M405 245.5h1M376 249.5h1M408 263.5h1M368 270.5h1M392 259.5h1M389 245.5h1M401 255.5h1M404 232.5h1M392 240.5h1M387 274.5h1M388 261.5h1M393 255.5h1M400 254.5h1M401 244.5h1M380 269.5h1M378 277.5h1M415 253.5h1M384 260.5h1M387 262.5h1M382 249.5h1M394 272.5h1M385 265.5h1M401 238.5h1M385 263.5h1M401 250.5h1M396 248.5h1M386 251.5h1M423 231.5h1M384 267.5h1M391 265.5h1M402 261.5h1M391 243.5h1M398 234.5h1M393 237.5h1M391 255.5h1M396 259.5h1M392 228.5h1M398 226.5h1M383 252.5h1M409 240.5h1M398 244.5h1M404 253.5h1M393 269.5h1M383 264.5h1M396 244.5h1M389 256.5h1M382 233.5h1M388 275.5h1M412 235.5h1M378 257.5h1M401 258.5h1M376 238.5h1M378 248.5h1M403 266.5h1M388 237.5h1M407 231.5h1M388 244.5h1M395 249.5h1M397 250.5h1M399 267.5h1M403 247.5h1M390 256.5h1M399 272.5h1M408 249.5h1M378 271.5h1M386 253.5h1M395 258.5h1M382 243.5h1M385 271.5h1M381 257.5h1M383 244.5h1M406 249.5h1M384 244.5h1M394 254.5h1M394 265.5h1M382 240.5h1M402 245.5h1M394 233.5h1M386 244.5h1M386 261.5h1M389 258.5h1M411 240.5h1M392 253.5h1M388 259.5h1M396 255.5h1M390 260.5h1M403 260.5h1M393 241.5h1M403 262.5h1M381 248.5h1M388 246.5h1M401 248.5h1M397 253.5h1M404 248.5h1M399 244.5h1M383 236.5h1M398 240.5h1M398 253.5h1M390 227.5h1M401 248.5h1M404 243.5h1M375 239.5h1M377 261.5h1M381 248.5h1M389 246.5h1M393 243.5h1M388 246.5h1M400 229.5h1M365 250.5h1M388 277.5h1M412 267.5h1M390 259.5h1M406 259.5h1M398 242.5h1M383 264.5h1M376 255.5h1M398 254.5h1M387 271.5h1M381 253.5h1M411 241.5h1M394 251.5h1M395 251.5h1M414 246.5h1M372 263.5h1M404 256.5h1M386 245.5h1M393 245.5h1M394 268.5h1M393 257.5h1M386 246.5h1M403 244.5h1M370 244.5h1M407 250.5h1M366 266.5h1M411 256.5h1M403 243.5h1M378 254.5h1M407 265.5h1M392 249.5h1M405 254.5h1M415 246.5h1M402 253.5h1M397 256.5h1M396 255.5h1M401 251.5h1M408 247.5h1M417 264.5h1M379 248.5h1M374 241.5h1M384 256.5h1M389 261.5h1M398 262.5h1M387 255.5h1M398 240.5h1M391 269.5h1M396 251.5h1M378 258.5h1M398 240.5h1M397 247.5h1M404 236.5h1M405 249.5h1M386 262.5h1M394 249.5h1M395 262.5h1M391 257.5h1M378 255.5h1M383 247.5h1M413 263.5h1M408 257.5h1M389 249.5h1M391 247.5h1M405 260.5h1M392 253.5h1M387 250.5h1M391 247.5h1M398 257.5h1M405 246.5h1M395 244.5h1M385 259.5h1M384 242.5h1M415 261.5h1M397 257.5h1M382 245.5h1M403 259.5h1M398 243.5h1M384 239.5h1M398 262.5h1M391 249.5h1M397 268.5h1M416 256.5h1M384 246.5h1M400 244.5h1M394 249.5h1M383 244.5h1M384 268.5h1M382 249.5h1M397 247.5h1M383 247.5h1M392 248.5h1M395 250.5h1M411 262.5h1M408 252.5h1M390 272.5h1M396 255.5h1M370 278.5h1M382 270.5h1M383 227.5h1M409 241.5h1M418 238.5h1M384 264.5h1M397 254.5h1M396 257.5h1M396 233.5h1M394 245.5h1M386 242.5h1M408 251.5h1M386 251.5h1M402 240.5h1M397 258.5h1M416 249.5h1M397 249.5h1M406 255.5h1M379 258.5h1M378 264.5h1M378 264.5h1M366 265.5h1M422 249.5h1M387 250.5h1M382 263.5h1M396 245.5h1M388 267.5h1M387 244.5h1M415 246.5h1M397 237.5h1M401 239.5h1M383 249.5h1M408 240.5h1M398 255.5h1M389 244.5h1M397 245.5h1M411 259.5h1M376 258.5h1M409 251.5h1M374 261.5h1M397 244.5h1M389 247.5h1M387 243.5h1M394 268.5h1M397 236.5h1M394 252.5h1M403 243.5h1M388 258.5h1M393 261.5h1M395 249.5h1M401 238.5h1M389 268.5h1M381 250.5h1M390 255.5h1M401 260.5h1M387 252.5h1M399 236.5h1M412 252.5h1M392 248.5h1M404 244.5h1M401 238.5h1M391 258.5h1M385 256.5h1M399 242.5h1M374 275.5h1M385 253.5h1M395 238.5h1M378 251.5h1M399 239.5h1M386 240.5h1M377 258.5h1M394 258.5h1M403 251.5h1M377 252.5h1M394 240.5h1M411 258.5h1M401 260.5h1M388 239.5h1M390 253.5h1M410 259.5h1M383 258.5h1M398 229.5h1M387 249.5h1M404 238.5h1M414 229.5h1M412 237.5h1M399 254.5h1M394 247.5h1M374 235.5h1M376 231.5h1M389 260.5h1M392 279.5h1M398 248.5h1M397 252.5h1M409 236.5h1M423 242.5h1M384 265.5h1M392 264.5h1M400 242.5h1M417 248.5h1M395 249.5h1M405 258.5h1M386 275.5h1M419 230.5h1M393 261.5h1M404 248.5h1M402 250.5h1M392 264.5h1M407 246.5h1M411 239.5h1M397 253.5h1M380 237.5h1M392 238.5h1M407 244.5h1M413 250.5h1M378 253.5h1M387 260.5h1M387 254.5h1M399 276.5h1M398 256.5h1M387 256.5h1M376 250.5h1M402 242.5h1M397 246.5h1M402 242.5h1M393 252.5h1M390 254.5h1M392 263.5h1M402 252.5h1M383 272.5h1M382 256.5h1M390 237.5h1M400 241.5h1M396 253.5h1M375 255.5h1M395 241.5h1M382 253.5h1M394 253.5h1M390 263.5h1M405 228.5h1M408 236.5h1M378 252.5h1M392 268.5h1M391 249.5h1M399 244.5h1M413 244.5h1M397 253.5h1M393 270.5h1M400 250.5h1M399 249.5h1M401 260.5h1M387 249.5h1M390 264.5h1M393 246.5h1M406 241.5h1M409 245.5h1M375 251.5h1M380 249.5h1M414 254.5h1M393 255.5h1M394 256.5h1M426 237.5h1M372 276.5h1M385 254.5h1M387 259.5h1M390 248.5h1M397 255.5h1M382 245.5h1M378 235.5h1M399 248.5h1M386 255.5h1M398 256.5h1M382 242.5h1M370 267.5h1M412 254.5h1M387 246.5h1M380 272.5h1M390 252.5h1M405 256.5h1M383 256.5h1M402 238.5h1M397 263.5h1M385 268.5h1M389 233.5h1M381 242.5h1M408 258.5h1M377 264.5h1M385 267.5h1M390 264.5h1M391 250.5h1M381 242.5h1M401 232.5h1M415 240.5h1M395 249.5h1M390 248.5h1M395 250.5h1M401 239.5h1M388 254.5h1M388 247.5h1M407 265.5h1M377 249.5h1M395 244.5h1M387 259.5h1M402 258.5h1M395 244.5h1M383 274.5h1M408 260.5h1M396 241.5h1M391 254.5h1M402 241.5h1M411 254.5h1M395 242.5h1M386 251.5h1M391 252.5h1M380 256.5h1M403 254.5h1M403 275.5h1M386 260.5h1M365 251.5h1M400 236.5h1M371 242.5h1M384 257.5h1M403 243.5h1M397 260.5h1M385 238.5h1M404 261.5h1M402 250.5h1M399 251.5h1M374 271.5h1M406 235.5h1M415 249.5h1M392 273.5h1M387 230.5h1M392 252.5h1M395 249.5h1M408 239.5h1M400 238.5h1M408 245.5h1M396 233.5h1M389 257.5h1M376 258.5h1M402 243.5h1M384 271.5h1M383 248.5h1M392 255.5h1M395 263.5h1M392 226.5h1M398 248.5h1M389 250.5h1M389 231.5h1M401 263.5h1M407 240.5h1M396 254.5h1M396 255.5h1M405 239.5h1M381 273.5h1M386 265.5h1M382 258.5h1M380 267.5h1M380 239.5h1M394 245.5h1M380 240.5h1M393 250.5h1M387 229.5h1M404 240.5h1M394 229.5h1M392 251.5h1M381 240.5h1M413 240.5h1M401 249.5h1M402 234.5h1M398 261.5h1M382 241.5h1M390 258.5h1M390 247.5h1M389 239.5h1M385 251.5h1M416 234.5h1M393 274.5h1M415 252.5h1M393 267.5h1M403 252.5h1M394 263.5h1M391 247.5h1M406 258.5h1M401 269.5h1M383 262.5h1M374 246.5h1M402 256.5h1M402 242.5h1M408 234.5h1M371 261.5h1M391 240.5h1M394 258.5h1M387 244.5h1M396 246.5h1M394 237.5h1M383 234.5h1M412 265.5h1M419 243.5h1M408 256.5h1M404 258.5h1M403 238.5h1M384 262.5h1M372 249.5h1M394 226.5h1M390 251.5h1M381 270.5h1M395 238.5h1M401 235.5h1M392 262.5h1M378 260.5h1M398 254.5h1M398 247.5h1M391 258.5h1M392 264.5h1M404 249.5h1M398 244.5h1M382 268.5h1M395 270.5h1M378 243.5h1M375 246.5h1M383 238.5h1M389 238.5h1M410 232.5h1M405 253.5h1M410 247.5h1M396 278.5h1M391 260.5h1M417 250.5h1M381 265.5h1M403 235.5h1M403 248.5h1M400 253.5h1M394 252.5h1M380 259.5h1M388 264.5h1M376 245.5h1M398 261.5h1M409 242.5h1M390 264.5h1M391 258.5h1M378 267.5h1M391 245.5h1M397 253.5h1M390 229.5h1M425 242.5h1M396 243.5h1M387 259.5h1M407 257.5h1M408 257.5h1M393 251.5h1M376 255.5h1M394 245.5h1M385 264.5h1M396 254.5h1M396 257.5h1M377 280.5h1M394 240.5h1M387 251.5h1M395 262.5h1M397 238.5h1M375 258.5h1M409 262.5h1M394 246.5h1M394 260.5h1M393 251.5h1M398 268.5h1M398 264.5h1M401 245.5h1M392 263.5h1M394 260.5h1M396 264.5h1M395 243.5h1M383 248.5h1M395 266.5h1M395 246.5h1M382 275.5h1M377 269.5h1M388 241.5h1M408 230.5h1M392 257.5h1M406 254.5h1M374 258.5h1M382 239.5h1M412 261.5h1M395 241.5h1M390 260.5h1M421 239.5h1M373 250.5h1M403 232.5h1M369 249.5h1M407 248.5h1M409 240.5h1M424 238.5h1M393 252.5h1M395 279.5h1M404 244.5h1M380 251.5h1M382 259.5h1M382 251.5h1M386 260.5h1M395 238.5h1M397 250.5h1M410 252.5h1M398 239.5h1M392 255.5h1M407 249.5h1M413 245.5h1M409 259.5h1M399 259.5h1M384 258.5h1M387 251.5h1M393 249.5h1M409 258.5h1M375 258.5h1M392 256.5h1M405 262.5h1M381 250.5h1M391 258.5h1M412 259.5h1M400 247.5h1M391 266.5h1M394 247.5h1M384 262.5h1M411 243.5h1M397 240.5h1M404 235.5h1M396 266.5h1M378 260.5h1M382 263.5h1M394 254.5h1M401 238.5h1M407 249.5h1M407 249.5h1M386 264.5h1M411 245.5h1M389 234.5h1M388 255.5h1M368 273.5h1M374 248.5h1M382 243.5h1M403 254.5h1M381 241.5h1M411 237.5h1M409 236.5h1M396 245.5h1M399 244.5h1M405 238.5h1M386 256.5h1M386 237.5h1M409 269.5h1M398 270.5h1M409 254.5h1M401 237.5h1M409 230.5h1M398 240.5h1M389 227.5h1M393 252.5h1M394 275.5h1M386 255.5h1M383 235.5h1M374 244.5h1M411 231.5h1M403 237.5h1M390 251.5h1M404 229.5h1M401 245.5h1M412 236.5h1M381 243.5h1M389 233.5h1M392 253.5h1M399 254.5h1M409 242.5h1M419 238.5h1M405 257.5h1M399 249.5h1M393 264.5h1M391 251.5h1M403 248.5h1M392 269.5h1M394 257.5h1M405 278.5h1M393 246.5h1M404 243.5h1M386 238.5h1M396 256.5h1M387 262.5h1M389 273.5h1M378 237.5h1M405 233.5h1M383 246.5h1M397 253.5h1M386 251.5h1M393 268.5h1M408 243.5h1M403 245.5h1M390 272.5h1M379 259.5h1M399 231.5h1M378 252.5h1M402 257.5h1M391 265.5h1M398 247.5h1M383 255.5h1M400 265.5h1M388 264.5h1M397 249.5h1M409 251.5h1M402 247.5h1M389 246.5h1M386 245.5h1M405 265.5h1M398 240.5h1M388 266.5h1M395 265.5h1M386 232.5h1M378 261.5h1M417 240.5h1M401 260.5h1M395 248.5h1M418 246.5h1M396 252.5h1M392 246.5h1M401 265.5h1M398 244.5h1M397 241.5h1M393 264.5h1M397 241.5h1M398 236.5h1M395 243.5h1M394 263.5h1M396 235.5h1M409 238.5h1M389 255.5h1M379 270.5h1M389 258.5h1M411 263.5h1M397 230.5h1M401 235.5h1M400 243.5h1M385 254.5h1M405 245.5h1M396 252.5h1M382 258.5h1M409 245.5h1M386 272.5h1M408 239.5h1M418 230.5h1M402 255.5h1M386 258.5h1M383 253.5h1M386 255.5h1M390 240.5h1M399 237.5h1M377 250.5h1M380 244.5h1M393 261.5h1M411 244.5h1M408 244.5h1M391 262.5h1M387 249.5h1M392 246.5h1M378 268.5h1M396 261.5h1M400 252.5h1M385 267.5h1M395 247.5h1M388 255.5h1M400 237.5h1M393 265.5h1M387 237.5h1M387 249.5h1M398 235.5h1M401 269.5h1M394 239.5h1M399 243.5h1M403 237.5h1M395 277.5h1M397 253.5h1M397 271.5h1M393 232.5h1M415 243.5h1M387 249.5h1M394 246.5h1M396 248.5h1M382 243.5h1M385 271.5h1M398 265.5h1M400 238.5h1M373 258.5h1M402 251.5h1M388 242.5h1M390 247.5h1M401 242.5h1M387 257.5h1M405 235.5h1M396 259.5h1M402 239.5h1M387 254.5h1M403 253.5h1M413 271.5h1M404 229.5h1M392 266.5h1M385 254.5h1M414 241.5h1M398 240.5h1M396 253.5h1M395 255.5h1M385 265.5h1M390 251.5h1M412 258.5h1M395 230.5h1M394 234.5h1M404 233.5h1M411 257.5h1M382 253.5h1M392 254.5h1M400 252.5h1M408 237.5h1M374 261.5h1M408 269.5h1M391 262.5h1M398 249.5h1M407 274.5h1M391 271.5h1M392 250.5h1M373 273.5h1M377 247.5h1M391 240.5h1M396 271.5h1M388 246.5h1M384 258.5h1M391 254.5h1M406 255.5h1M384 234.5h1M384 235.5h1M386 257.5h1M414 239.5h1M407 254.5h1M398 265.5h1M399 231.5h1M405 266.5h1M403 243.5h1M391 249.5h1M385 251.5h1M369 244.5h1M382 254.5h1M394 255.5h1M403 234.5h1M395 248.5h1M394 251.5h1M398 245.5h1M400 260.5h1M382 262.5h1M393 275.5h1M398 228.5h1M396 256.5h1M418 241.5h1M406 226.5h1M392 243.5h1M401 241.5h1M404 264.5h1M404 260.5h1M391 246.5h1M377 236.5h1M406 232.5h1M392 249.5h1M398 237.5h1M403 254.5h1M391 237.5h1M415 234.5h1M381 267.5h1M411 243.5h1M399 265.5h1M403 253.5h1M400 260.5h1M394 258.5h1M371 255.5h1M370 277.5h1M418 231.5h1M399 238.5h1M397 256.5h1M370 263.5h1M394 238.5h1M411 235.5h1M399 246.5h1M380 268.5h1M399 262.5h1M406 255.5h1M395 252.5h1M412 244.5h1M387 261.5h1M382 252.5h1M375 279.5h1M400 234.5h1M386 232.5h1M395 258.5h1M368 261.5h1M409 246.5h1M392 273.5h1M382 263.5h1M379 272.5h1M394 275.5h1M376 253.5h1M378 257.5h1M412 244.5h1M402 244.5h1M396 250.5h1M400 264.5h1M392 249.5h1M394 274.5h1M412 257.5h1M375 252.5h1M395 260.5h1M404 252.5h1M389 262.5h1M388 270.5h1M386 226.5h1M376 267.5h1M377 259.5h1M377 258.5h1M371 245.5h1M411 266.5h1M389 255.5h1M406 234.5h1M395 230.5h1M397 237.5h1M408 262.5h1M394 247.5h1M391 258.5h1M371 262.5h1M414 260.5h1M399 235.5h1M396 246.5h1M389 247.5h1M399 238.5h1M414 260.5h1M399 234.5h1M391 255.5h1M385 275.5h1M391 239.5h1M403 241.5h1M374 249.5h1M388 241.5h1M410 250.5h1M401 242.5h1M394 254.5h1M376 257.5h1M387 273.5h1M404 264.5h1M398 241.5h1M399 266.5h1M402 262.5h1M401 243.5h1M395 268.5h1M385 244.5h1M402 260.5h1M386 235.5h1M395 236.5h1M392 252.5h1M402 231.5h1M389 255.5h1M372 240.5h1M391 246.5h1M397 257.5h1M398 239.5h1M380 271.5h1M380 279.5h1M411 238.5h1M395 236.5h1M389 259.5h1M392 241.5h1M381 272.5h1M392 254.5h1M411 237.5h1M390 235.5h1M391 257.5h1M397 232.5h1M407 258.5h1M408 255.5h1M391 243.5h1M415 253.5h1M387 243.5h1M384 235.5h1M394 252.5h1M408 256.5h1M395 265.5h1M410 245.5h1M394 237.5h1M406 253.5h1M401 256.5h1M376 248.5h1M396 269.5h1M390 267.5h1M376 250.5h1M412 256.5h1M392 266.5h1M405 234.5h1M410 232.5h1M407 244.5h1M424 235.5h1M382 252.5h1M403 248.5h1M394 261.5h1M387 236.5h1M397 244.5h1M377 229.5h1M391 260.5h1M389 247.5h1M396 259.5h1M386 261.5h1M407 245.5h1M413 240.5h1M402 250.5h1M394 267.5h1M390 265.5h1M401 241.5h1M389 250.5h1M401 260.5h1M387 263.5h1M404 252.5h1M389 241.5h1M388 229.5h1M385 259.5h1M391 247.5h1M385 267.5h1M393 244.5h1M397 251.5h1M402 262.5h1M392 231.5h1M365 249.5h1M403 228.5h1M398 245.5h1M396 240.5h1M383 235.5h1M393 260.5h1M384 251.5h1M402 238.5h1M413 264.5h1M401 248.5h1M387 250.5h1M399 238.5h1M402 243.5h1M394 272.5h1M410 226.5h1M402 236.5h1M398 236.5h1M383 234.5h1M394 250.5h1M393 233.5h1M381 258.5h1M404 255.5h1M413 246.5h1M380 260.5h1M392 255.5h1M381 244.5h1M396 233.5h1M397 231.5h1M403 252.5h1M404 237.5h1M388 242.5h1M400 252.5h1M374 275.5h1M377 251.5h1M385 262.5h1M396 243.5h1M385 240.5h1M381 258.5h1M407 258.5h1M392 250.5h1M397 245.5h1M387 253.5h1M369 242.5h1M395 228.5h1M391 251.5h1M408 242.5h1M379 254.5h1M391 251.5h1M380 244.5h1M383 258.5h1M392 235.5h1M389 270.5h1M398 248.5h1M375 273.5h1M407 247.5h1M391 246.5h1M407 239.5h1M415 229.5h1M394 262.5h1M395 250.5h1M396 274.5h1M383 249.5h1M391 246.5h1M390 245.5h1M390 233.5h1M396 242.5h1M405 241.5h1M377 249.5h1M398 250.5h1M384 260.5h1M410 266.5h1M393 251.5h1M389 245.5h1M386 251.5h1M383 248.5h1M384 272.5h1M393 261.5h1M387 255.5h1M403 253.5h1M401 247.5h1M390 254.5h1M409 264.5h1M410 256.5h1M383 257.5h1M409 243.5h1M402 249.5h1M399 262.5h1M391 244.5h1M407 239.5h1M402 234.5h1M388 269.5h1M404 252.5h1M391 260.5h1M397 260.5h1M398 248.5h1M407 251.5h1M389 251.5h1M381 255.5h1M389 249.5h1M396 270.5h1M395 279.5h1M398 242.5h1M395 248.5h1M388 245.5h1M391 266.5h1M394 259.5h1M382 247.5h1M380 249.5h1M401 260.5h1M398 251.5h1M397 260.5h1M420 262.5h1M391 235.5h1M395 260.5h1M400 242.5h1M393 248.5h1M400 265.5h1M391 239.5h1M409 242.5h1M404 263.5h1M376 268.5h1M400 241.5h1M407 243.5h1M385 263.5h1M379 241.5h1M393 241.5h1M374 276.5h1M404 244.5h1M385 231.5h1M405 244.5h1M423 247.5h1M375 254.5h1M407 243.5h1M387 284.5h1M402 263.5h1M419 257.5h1M394 263.5h1M383 275.5h1M383 237.5h1M396 249.5h1M393 262.5h1M398 249.5h1M401 239.5h1M395 233.5h1M387 238.5h1M400 277.5h1M404 264.5h1M375 276.5h1M369 250.5h1M400 252.5h1M390 238.5h1M399 255.5h1M399 255.5h1M379 274.5h1M372 256.5h1M388 267.5h1M388 257.5h1M386 255.5h1M402 239.5h1M378 256.5h1M374 247.5h1M383 252.5h1M392 260.5h1M391 257.5h1M374 272.5h1M406 240.5h1M409 251.5h1M407 250.5h1M399 253.5h1M414 258.5h1M370 267.5h1M400 253.5h1M400 255.5h1M372 257.5h1M386 285.5h1M412 245.5h1M376 255.5h1M393 254.5h1M381 254.5h1M408 232.5h1M381 267.5h1M408 243.5h1M368 276.5h1M400 239.5h1M388 255.5h1M378 279.5h1M384 243.5h1M393 251.5h1M375 265.5h1M407 255.5h1M407 262.5h1M392 241.5h1M387 271.5h1M394 265.5h1M382 259.5h1M384 241.5h1M391 259.5h1M388 264.5h1M402 233.5h1M385 253.5h1M403 238.5h1M416 253.5h1M381 254.5h1M384 276.5h1M378 235.5h1M405 248.5h1M402 237.5h1M398 247.5h1M396 245.5h1M368 242.5h1M390 261.5h1M404 238.5h1M385 268.5h1M390 243.5h1M395 244.5h1M380 272.5h1M399 260.5h1M395 242.5h1M409 234.5h1M385 251.5h1M396 258.5h1M408 258.5h1M406 245.5h1M400 275.5h1M387 248.5h1M387 256.5h1M384 257.5h1M389 257.5h1M397 227.5h1M404 253.5h1M390 240.5h1M386 234.5h1M389 251.5h1M377 245.5h1M406 255.5h1M404 250.5h1M401 259.5h1M399 255.5h1M391 267.5h1M408 263.5h1M389 234.5h1M390 246.5h1M399 258.5h1M398 280.5h1M394 231.5h1M403 279.5h1M409 250.5h1M401 263.5h1M407 247.5h1M399 236.5h1M384 249.5h1M386 281.5h1M375 253.5h1M376 253.5h1M390 242.5h1M409 250.5h1M399 257.5h1M412 241.5h1M398 257.5h1M396 237.5h1M396 245.5h1M381 275.5h1M393 232.5h1M410 232.5h1M396 258.5h1M406 246.5h1M409 254.5h1M394 255.5h1M398 261.5h1M404 240.5h1M385 256.5h1M386 254.5h1M405 244.5h1M386 228.5h1M417 241.5h1M383 253.5h1M382 266.5h1M401 237.5h1M387 272.5h1M397 260.5h1M387 249.5h1M424 243.5h1M393 250.5h1M396 274.5h1M409 263.5h1M405 236.5h1M383 275.5h1M367 253.5h1M418 251.5h1M394 248.5h1M385 261.5h1M391 252.5h1M399 253.5h1M398 274.5h1M383 252.5h1M401 230.5h1M394 245.5h1M402 237.5h1M384 243.5h1M381 251.5h1M391 243.5h1M392 265.5h1M389 240.5h1M399 260.5h1M389 252.5h1M400 260.5h1M387 262.5h1M400 230.5h1M384 270.5h1M388 242.5h1M387 268.5h1M388 230.5h1M394 254.5h1M374 232.5h1M392 241.5h1M398 247.5h1M405 256.5h1M401 249.5h1M381 234.5h1M401 264.5h1M405 264.5h1M390 251.5h1M378 251.5h1M393 259.5h1M413 242.5h1M384 268.5h1M411 233.5h1M380 249.5h1M384 232.5h1M396 252.5h1M400 258.5h1M409 252.5h1M423 243.5h1M394 253.5h1M407 261.5h1M384 252.5h1M414 230.5h1M410 242.5h1M392 229.5h1M409 262.5h1M370 266.5h1M398 245.5h1M377 269.5h1M389 258.5h1M412 247.5h1M384 253.5h1M379 251.5h1M400 242.5h1M399 247.5h1M393 258.5h1M394 244.5h1M382 270.5h1M390 264.5h1M386 241.5h1M410 247.5h1M398 254.5h1M387 267.5h1M397 262.5h1M408 242.5h1M378 248.5h1M404 254.5h1M377 230.5h1M403 267.5h1M415 266.5h1M385 275.5h1M400 266.5h1M384 242.5h1M396 241.5h1M415 244.5h1M392 258.5h1M401 248.5h1M372 235.5h1M387 259.5h1M386 258.5h1M390 248.5h1M393 249.5h1M388 259.5h1M394 251.5h1M398 242.5h1M403 263.5h1M386 284.5h1M405 266.5h1M397 249.5h1M400 235.5h1M386 246.5h1M391 266.5h1M420 243.5h1M408 250.5h1M394 256.5h1M393 255.5h1M388 251.5h1M397 251.5h1M371 263.5h1M401 254.5h1M385 255.5h1M393 242.5h1M394 245.5h1M381 259.5h1M415 243.5h1M394 237.5h1M391 264.5h1M387 264.5h1M397 265.5h1M394 245.5h1M409 240.5h1M392 265.5h1M382 255.5h1M405 250.5h1M391 249.5h1M392 251.5h1M389 249.5h1M391 254.5h1M420 240.5h1M402 239.5h1M388 252.5h1M391 240.5h1M389 241.5h1M412 273.5h1M400 253.5h1M405 256.5h1M400 233.5h1M382 258.5h1M376 265.5h1M385 253.5h1M394 245.5h1M378 274.5h1M397 257.5h1M381 255.5h1M385 263.5h1M387 243.5h1M408 241.5h1M385 268.5h1M403 254.5h1M387 249.5h1M407 249.5h1M414 266.5h1M396 263.5h1M408 246.5h1M398 246.5h1M388 265.5h1M366 265.5h1M385 257.5h1M388 243.5h1M389 234.5h1M380 251.5h1M383 249.5h1M383 274.5h1M386 253.5h1M396 251.5h1M383 252.5h1M398 256.5h1M380 258.5h1M390 264.5h1M390 243.5h1M370 260.5h1M384 243.5h1M408 241.5h1M378 249.5h1M404 268.5h1M385 259.5h1M395 275.5h1M389 257.5h1M393 273.5h1M392 254.5h1M395 262.5h1M373 255.5h1M376 237.5h1M395 235.5h1M392 236.5h1M387 251.5h1M394 252.5h1M387 264.5h1M401 262.5h1M406 249.5h1M393 238.5h1M408 239.5h1M377 265.5h1M414 240.5h1M378 232.5h1M395 225.5h1M394 252.5h1M388 226.5h1M389 248.5h1M375 256.5h1M397 249.5h1M393 260.5h1M381 242.5h1M392 241.5h1M393 237.5h1M390 238.5h1M400 240.5h1M384 271.5h1M400 236.5h1M401 272.5h1M393 250.5h1M380 248.5h1M385 265.5h1M385 229.5h1M387 265.5h1M397 264.5h1M401 232.5h1M375 277.5h1M374 266.5h1M407 245.5h1M385 252.5h1M399 242.5h1M391 250.5h1M381 250.5h1M406 249.5h1M389 260.5h1M379 250.5h1M385 241.5h1M378 259.5h1M390 274.5h1M377 268.5h1M405 244.5h1M412 232.5h1M416 248.5h1M405 272.5h1M381 251.5h1M378 257.5h1M405 261.5h1M405 242.5h1M392 252.5h1M398 255.5h1M399 250.5h1M395 273.5h1M395 257.5h1M393 244.5h1M402 256.5h1M394 238.5h1M398 228.5h1M369 272.5h1M376 265.5h1M408 234.5h1M393 242.5h1M393 264.5h1M411 269.5h1M399 256.5h1M391 230.5h1M382 248.5h1M402 258.5h1M384 267.5h1M412 240.5h1M407 254.5h1M392 258.5h1M376 261.5h1M393 251.5h1M403 243.5h1M400 263.5h1M390 256.5h1M379 257.5h1M396 245.5h1M381 254.5h1M418 260.5h1M404 253.5h1M403 251.5h1M397 270.5h1M417 249.5h1M385 248.5h1M394 273.5h1M385 244.5h1M388 243.5h1M398 253.5h1M414 250.5h1M409 242.5h1M420 230.5h1M399 256.5h1M411 243.5h1M371 279.5h1M413 232.5h1M394 252.5h1M405 237.5h1M382 246.5h1M382 232.5h1M400 244.5h1M390 258.5h1M391 258.5h1M393 240.5h1M392 252.5h1M393 254.5h1M400 234.5h1M389 240.5h1M400 251.5h1M374 269.5h1M411 261.5h1M397 258.5h1M399 237.5h1M403 267.5h1M396 274.5h1M390 252.5h1M427 243.5h1M389 263.5h1M390 250.5h1M387 234.5h1M421 230.5h1M400 247.5h1M382 260.5h1M383 246.5h1M375 251.5h1M396 242.5h1M382 284.5h1M393 235.5h1M403 250.5h1M377 256.5h1M378 249.5h1M406 261.5h1M391 258.5h1M379 252.5h1M395 234.5h1M373 246.5h1M375 255.5h1M379 242.5h1M394 236.5h1M402 254.5h1M392 256.5h1M401 230.5h1M398 229.5h1M379 268.5h1M390 268.5h1M397 269.5h1M392 253.5h1M394 252.5h1M399 253.5h1M393 242.5h1M377 260.5h1M374 274.5h1M413 260.5h1M411 241.5h1M401 253.5h1M385 251.5h1M404 249.5h1M393 256.5h1M392 272.5h1M395 258.5h1M383 228.5h1M390 242.5h1M397 240.5h1M397 262.5h1M409 252.5h1M398 228.5h1M391 254.5h1M385 252.5h1M402 235.5h1M394 249.5h1M383 249.5h1M397 246.5h1M412 231.5h1M398 242.5h1M399 249.5h1M418 251.5h1M392 260.5h1M404 239.5h1M385 245.5h1M400 260.5h1M400 248.5h1M390 255.5h1M381 260.5h1M370 248.5h1M393 241.5h1M391 243.5h1M405 257.5h1M387 232.5h1M401 271.5h1M379 246.5h1M401 227.5h1M385 260.5h1M414 243.5h1M387 250.5h1M403 248.5h1M385 239.5h1M394 248.5h1M388 257.5h1M389 263.5h1M395 235.5h1M400 262.5h1M401 259.5h1M411 266.5h1M394 258.5h1M377 269.5h1M396 253.5h1M398 262.5h1M385 267.5h1M385 253.5h1M394 246.5h1M426 244.5h1M394 260.5h1M413 241.5h1M393 241.5h1M390 251.5h1M409 249.5h1M391 245.5h1M389 253.5h1M385 270.5h1M400 237.5h1M383 268.5h1M395 261.5h1M409 258.5h1M379 237.5h1M393 247.5h1M400 250.5h1M388 251.5h1M405 253.5h1M396 255.5h1M375 241.5h1M395 242.5h1M401 244.5h1M399 247.5h1M395 234.5h1M412 234.5h1M385 241.5h1M385 262.5h1M405 238.5h1M389 244.5h1M407 247.5h1M404 264.5h1M403 242.5h1M378 257.5h1M398 250.5h1M376 259.5h1M395 255.5h1M377 273.5h1M407 237.5h1M397 235.5h1M402 232.5h1M383 261.5h1M386 237.5h1M402 233.5h1M391 250.5h1M404 250.5h1M392 252.5h1M381 245.5h1M400 230.5h1M387 258.5h1M396 250.5h1M407 250.5h1M401 254.5h1M393 234.5h1M377 271.5h1M403 237.5h1M374 254.5h1M396 255.5h1M396 257.5h1M387 235.5h1M388 248.5h1M404 265.5h1M400 242.5h1M418 232.5h1M393 260.5h1M391 258.5h1M403 267.5h1M390 268.5h1M369 251.5h1M392 256.5h1M404 245.5h1M382 249.5h1M399 268.5h1M395 252.5h1M377 250.5h1M405 231.5h1M396 251.5h1M377 266.5h1M384 251.5h1M388 261.5h1M386 259.5h1M374 272.5h1M406 268.5h1M382 250.5h1M374 245.5h1M377 259.5h1M395 244.5h1M390 262.5h1M372 272.5h1M369 248.5h1M389 232.5h1M410 241.5h1M372 252.5h1M398 256.5h1M404 248.5h1M403 241.5h1M385 251.5h1M398 248.5h1M382 248.5h1M376 268.5h1M389 230.5h1M405 260.5h1M397 245.5h1M387 248.5h1M374 250.5h1M407 269.5h1M399 248.5h1M399 276.5h1M403 230.5h1M418 229.5h1M372 272.5h1M393 233.5h1M383 249.5h1M401 245.5h1M390 244.5h1M405 243.5h1M390 245.5h1M410 237.5h1M390 241.5h1M388 271.5h1M388 248.5h1M406 259.5h1M387 255.5h1M420 236.5h1M398 254.5h1M386 244.5h1M389 274.5h1M418 259.5h1M406 262.5h1M402 237.5h1M388 256.5h1M387 257.5h1M395 230.5h1M403 238.5h1M385 238.5h1M388 232.5h1M394 255.5h1M383 242.5h1M388 245.5h1M377 273.5h1M400 242.5h1M392 234.5h1M396 268.5h1M402 266.5h1M387 239.5h1M384 229.5h1M392 248.5h1M382 248.5h1M411 256.5h1M406 257.5h1M390 264.5h1M394 255.5h1M390 253.5h1M404 246.5h1M384 264.5h1M389 260.5h1M386 250.5h1M385 242.5h1M381 243.5h1M404 240.5h1M404 244.5h1M420 248.5h1M422 242.5h1M392 238.5h1M382 257.5h1M391 253.5h1M409 236.5h1M422 235.5h1M423 250.5h1M419 228.5h1M402 244.5h1M408 275.5h1M384 240.5h1M402 251.5h1M398 237.5h1M391 232.5h1M374 250.5h1M407 239.5h1M381 250.5h1M389 241.5h1M399 242.5h1M397 240.5h1M406 250.5h1M387 254.5h1M399 256.5h1M404 241.5h1M389 254.5h1M376 256.5h1M375 279.5h1M397 251.5h1M390 262.5h1M389 264.5h1M387 252.5h1M404 264.5h1M402 239.5h1M397 267.5h1M389 266.5h1M389 244.5h1M387 230.5h1M385 259.5h1M393 240.5h1M393 249.5h1M402 247.5h1M378 270.5h1M387 243.5h1M390 251.5h1M399 250.5h1M392 260.5h1M389 248.5h1M378 276.5h1M386 244.5h1M417 244.5h1M389 243.5h1M401 255.5h1M398 247.5h1M380 251.5h1M386 269.5h1M388 265.5h1M381 252.5h1M387 243.5h1M401 241.5h1M382 253.5h1M389 264.5h1M394 231.5h1M392 262.5h1M395 238.5h1M394 253.5h1M392 257.5h1M400 257.5h1M380 254.5h1M373 263.5h1M371 257.5h1M382 254.5h1M393 244.5h1M402 249.5h1M401 240.5h1M384 256.5h1M414 267.5h1M391 273.5h1M387 262.5h1M396 234.5h1M381 243.5h1M406 248.5h1M389 255.5h1M392 261.5h1M383 278.5h1M408 238.5h1M401 239.5h1M424 237.5h1M398 247.5h1M393 268.5h1M367 260.5h1M376 243.5h1M398 254.5h1M387 271.5h1M395 239.5h1M394 233.5h1M394 267.5h1M395 256.5h1M380 264.5h1M411 246.5h1M374 250.5h1M384 262.5h1M377 271.5h1M395 269.5h1M369 261.5h1M414 247.5h1M406 248.5h1M388 268.5h1M387 261.5h1M405 261.5h1M401 254.5h1M380 258.5h1M406 236.5h1M398 243.5h1M372 261.5h1M400 242.5h1M403 254.5h1M378 243.5h1M398 274.5h1M410 254.5h1M399 264.5h1M403 238.5h1M393 233.5h1M391 281.5h1M406 254.5h1M407 229.5h1M414 233.5h1M404 236.5h1M399 234.5h1M387 258.5h1M406 234.5h1M409 228.5h1M400 247.5h1M396 243.5h1M385 246.5h1M403 254.5h1M389 252.5h1M391 239.5h1M394 253.5h1M382 268.5h1M373 245.5h1M388 238.5h1M377 233.5h1M405 242.5h1M411 240.5h1M396 253.5h1M396 233.5h1M388 257.5h1M392 232.5h1M396 247.5h1M384 257.5h1M404 241.5h1M421 245.5h1M393 236.5h1M408 237.5h1M398 237.5h1M402 240.5h1M371 246.5h1M374 268.5h1M387 251.5h1M396 262.5h1M381 260.5h1M386 242.5h1M388 258.5h1M412 264.5h1M393 265.5h1M376 241.5h1M412 237.5h1M383 261.5h1M395 282.5h1M411 238.5h1M408 247.5h1M387 246.5h1M385 251.5h1M392 243.5h1M382 248.5h1M406 243.5h1M377 243.5h1M390 259.5h1M391 238.5h1M369 245.5h1M403 248.5h1M381 261.5h1M390 257.5h1M394 247.5h1M385 256.5h1M403 240.5h1M393 251.5h1M390 243.5h1M388 281.5h1M405 249.5h1M399 253.5h1M388 281.5h1M393 245.5h1M401 250.5h1M395 264.5h1M396 271.5h1M389 272.5h1M390 247.5h1M405 258.5h1M384 247.5h1M391 249.5h1M409 260.5h1M386 273.5h1M388 240.5h1M405 243.5h1M393 265.5h1M418 232.5h1M386 254.5h1M410 261.5h1M382 248.5h1M389 253.5h1M396 237.5h1M415 245.5h1M382 261.5h1M377 247.5h1M397 270.5h1M393 253.5h1M382 264.5h1M399 258.5h1M404 251.5h1M407 262.5h1M403 247.5h1M391 232.5h1M382 255.5h1M395 250.5h1M421 238.5h1M398 247.5h1M379 260.5h1M379 252.5h1M408 260.5h1M389 265.5h1M404 247.5h1M370 252.5h1M399 249.5h1M382 268.5h1M391 263.5h1M390 237.5h1M401 274.5h1M386 271.5h1M412 255.5h1M390 266.5h1M401 249.5h1M410 239.5h1M388 234.5h1M391 275.5h1M407 239.5h1M399 235.5h1M392 260.5h1M395 259.5h1M390 242.5h1M405 251.5h1M402 237.5h1M406 250.5h1M418 244.5h1M389 243.5h1M392 247.5h1M389 251.5h1M405 237.5h1M382 262.5h1M409 246.5h1M389 257.5h1M373 267.5h1M399 237.5h1M406 252.5h1M392 243.5h1M402 262.5h1M400 255.5h1M396 263.5h1M411 239.5h1M407 236.5h1M388 246.5h1M386 243.5h1M393 244.5h1M408 245.5h1M390 243.5h1M382 249.5h1M399 258.5h1M407 255.5h1M395 253.5h1M375 242.5h1M408 238.5h1M400 247.5h1M397 235.5h1M397 268.5h1M411 248.5h1M396 251.5h1M385 247.5h1M391 260.5h1M395 261.5h1M404 266.5h1M382 239.5h1M404 259.5h1M405 249.5h1M387 240.5h1M380 240.5h1M395 265.5h1M383 255.5h1M392 241.5h1M371 259.5h1M411 234.5h1M381 266.5h1M414 243.5h1M396 231.5h1M394 229.5h1M401 243.5h1M410 233.5h1M381 254.5h1M377 244.5h1M410 251.5h1M386 243.5h1M365 253.5h1M409 247.5h1M399 235.5h1M392 252.5h1M395 244.5h1M393 231.5h1M390 284.5h1M394 260.5h1M399 269.5h1M396 254.5h1M368 252.5h1M392 271.5h1M401 251.5h1M416 234.5h1M381 261.5h1M411 234.5h1M410 244.5h1M410 244.5h1M408 236.5h1M401 263.5h1M425 253.5h1M372 259.5h1M387 258.5h1M403 250.5h1M403 243.5h1M377 261.5h1M386 277.5h1M398 245.5h1M402 250.5h1M391 234.5h1M414 267.5h1M395 274.5h1M393 228.5h1M412 249.5h1M403 253.5h1M424 234.5h1M416 263.5h1M409 234.5h1M388 247.5h1M395 271.5h1M379 242.5h1M407 238.5h1M388 275.5h1M394 236.5h1M395 255.5h1M418 252.5h1M405 251.5h1M379 255.5h1M401 245.5h1M395 251.5h1M397 236.5h1M418 234.5h1M406 262.5h1M409 232.5h1M399 255.5h1M400 243.5h1M403 253.5h1M395 262.5h1M408 258.5h1M389 253.5h1M384 231.5h1M396 270.5h1M377 253.5h1M397 236.5h1M405 248.5h1M408 250.5h1M395 240.5h1M407 241.5h1M402 246.5h1M407 243.5h1M372 246.5h1M413 255.5h1M385 255.5h1M369 251.5h1M392 251.5h1M383 229.5h1M395 250.5h1M409 229.5h1M394 237.5h1M405 250.5h1M396 248.5h1M379 261.5h1M401 254.5h1M391 246.5h1M398 266.5h1M395 252.5h1M385 255.5h1M402 253.5h1M372 262.5h1M387 238.5h1M400 253.5h1M394 246.5h1M395 251.5h1M395 241.5h1M396 251.5h1M403 236.5h1M418 228.5h1M390 240.5h1M389 268.5h1M394 241.5h1M391 262.5h1M378 247.5h1M396 251.5h1M385 248.5h1M407 272.5h1M386 236.5h1M383 254.5h1M399 230.5h1M399 241.5h1M383 248.5h1M389 237.5h1M383 253.5h1M391 258.5h1M405 239.5h1M380 267.5h1M400 246.5h1M418 234.5h1M386 283.5h1M385 277.5h1M378 277.5h1M387 281.5h1M396 272.5h1M393 259.5h1M380 273.5h1M375 238.5h1M402 241.5h1M379 252.5h1M391 245.5h1M397 241.5h1M412 232.5h1M388 247.5h1M396 238.5h1M411 253.5h1M389 245.5h1M393 255.5h1M411 256.5h1M407 247.5h1M377 260.5h1M383 248.5h1M398 247.5h1M387 239.5h1M391 241.5h1M422 242.5h1M413 245.5h1M381 262.5h1M416 238.5h1M394 262.5h1M385 257.5h1M406 240.5h1M397 258.5h1M391 278.5h1M383 230.5h1M410 254.5h1M403 247.5h1M373 259.5h1M402 242.5h1M397 263.5h1M412 247.5h1M374 256.5h1M380 256.5h1M399 268.5h1M399 234.5h1M383 237.5h1M394 260.5h1M399 228.5h1M410 258.5h1M415 252.5h1M408 254.5h1M389 248.5h1M394 247.5h1M392 240.5h1M419 249.5h1M386 232.5h1M406 243.5h1M376 270.5h1M412 258.5h1M396 249.5h1M405 251.5h1M373 251.5h1M394 247.5h1M375 254.5h1M402 254.5h1M400 256.5h1M392 251.5h1M397 246.5h1M398 262.5h1M390 247.5h1M391 235.5h1M411 235.5h1M402 249.5h1M406 244.5h1M395 240.5h1M410 232.5h1M380 250.5h1M403 244.5h1M400 249.5h1M411 234.5h1M390 258.5h1M379 269.5h1M409 237.5h1M389 241.5h1M397 240.5h1M408 253.5h1M389 241.5h1M395 243.5h1M381 247.5h1M372 270.5h1M398 247.5h1M403 258.5h1M381 250.5h1M379 249.5h1M414 241.5h1M389 259.5h1M381 259.5h1M402 244.5h1M404 231.5h1M386 267.5h1M391 266.5h1M375 254.5h1M412 257.5h1M394 240.5h1M378 288.5h1M377 275.5h1M365 275.5h1M374 270.5h1M368 277.5h1M374 268.5h1M361 284.5h1M374 290.5h1M382 281.5h1M381 268.5h1M364 277.5h1M392 257.5h1M378 282.5h1M386 270.5h1M365 294.5h1M373 287.5h1M375 289.5h1M358 278.5h1M363 289.5h1M383 287.5h1M369 282.5h1M386 257.5h1M371 271.5h1M385 277.5h1M396 266.5h1M376 292.5h1M367 284.5h1M364 277.5h1M382 257.5h1M371 291.5h1M368 284.5h1M368 293.5h1M379 272.5h1M387 270.5h1M355 272.5h1M379 258.5h1M379 274.5h1M371 283.5h1M373 263.5h1M391 266.5h1M388 264.5h1M383 272.5h1M387 262.5h1M367 266.5h1M383 275.5h1M398 264.5h1M382 281.5h1M374 285.5h1M375 293.5h1M380 286.5h1M367 296.5h1M367 281.5h1M366 284.5h1M377 278.5h1M364 286.5h1M376 276.5h1M377 275.5h1M388 272.5h1M380 261.5h1M389 260.5h1M376 278.5h1M368 289.5h1M382 267.5h1M381 271.5h1M380 285.5h1M387 270.5h1M399 262.5h1M381 285.5h1M364 260.5h1M380 292.5h1M393 256.5h1M363 282.5h1M370 285.5h1M386 266.5h1M381 281.5h1M371 290.5h1M388 269.5h1M393 269.5h1M365 291.5h1M378 265.5h1M380 261.5h1M382 249.5h1M377 267.5h1M377 273.5h1M389 273.5h1M399 265.5h1M381 266.5h1M367 276.5h1M371 270.5h1M392 256.5h1M359 280.5h1M372 280.5h1M374 282.5h1M388 263.5h1M369 282.5h1M370 275.5h1M383 281.5h1M387 274.5h1M375 263.5h1M370 287.5h1M361 279.5h1M362 284.5h1M384 262.5h1M368 271.5h1M379 273.5h1M373 271.5h1M360 284.5h1M358 285.5h1M373 289.5h1M392 256.5h1M365 271.5h1M376 266.5h1M361 277.5h1M381 276.5h1M364 289.5h1M364 272.5h1M376 269.5h1M389 269.5h1M371 275.5h1M379 266.5h1M382 274.5h1M380 274.5h1M368 274.5h1M375 267.5h1M392 269.5h1M382 279.5h1M376 279.5h1M382 268.5h1M387 272.5h1M363 286.5h1M397 274.5h1M369 293.5h1M386 263.5h1M379 271.5h1M373 279.5h1M369 279.5h1M377 272.5h1M375 280.5h1M354 283.5h1M386 265.5h1M385 284.5h1M368 275.5h1M396 266.5h1M374 297.5h1M390 270.5h1M366 288.5h1M377 286.5h1M371 287.5h1M376 270.5h1M385 272.5h1M379 260.5h1M375 285.5h1M370 261.5h1M375 277.5h1M388 276.5h1M372 272.5h1M375 274.5h1M383 285.5h1M369 260.5h1M380 276.5h1M366 281.5h1M388 268.5h1M387 271.5h1M373 273.5h1M400 275.5h1M370 270.5h1M381 280.5h1M365 271.5h1M379 256.5h1M397 263.5h1M383 283.5h1M364 274.5h1M392 270.5h1M383 266.5h1M379 266.5h1M360 283.5h1M379 271.5h1M383 276.5h1M369 273.5h1M377 268.5h1M369 270.5h1M386 276.5h1M367 267.5h1M371 274.5h1M392 260.5h1M373 272.5h1M382 269.5h1M395 275.5h1M373 286.5h1M373 274.5h1M368 281.5h1M374 275.5h1M372 289.5h1M390 271.5h1M379 276.5h1M366 285.5h1M381 270.5h1M367 282.5h1M370 291.5h1M383 273.5h1M381 277.5h1M373 282.5h1M386 271.5h1M381 270.5h1M381 275.5h1M377 258.5h1M383 275.5h1M392 267.5h1M377 269.5h1M370 263.5h1M381 283.5h1M387 253.5h1M378 285.5h1M376 276.5h1M375 280.5h1M370 297.5h1M377 265.5h1M389 255.5h1M391 260.5h1M373 275.5h1M377 288.5h1M374 281.5h1M379 268.5h1M370 274.5h1M394 276.5h1M376 269.5h1M373 291.5h1M380 295.5h1M379 263.5h1M377 261.5h1M383 279.5h1M384 257.5h1M376 275.5h1M370 273.5h1M365 265.5h1M374 263.5h1M358 295.5h1M385 279.5h1M382 276.5h1M372 284.5h1M374 285.5h1M384 261.5h1M370 276.5h1M364 268.5h1M377 260.5h1M375 292.5h1M371 281.5h1M374 282.5h1M376 296.5h1M371 279.5h1M356 272.5h1M373 279.5h1M365 282.5h1M356 294.5h1M380 258.5h1M387 271.5h1M386 272.5h1M377 266.5h1M376 264.5h1M375 284.5h1M366 275.5h1M365 284.5h1M395 257.5h1M361 267.5h1M368 266.5h1M365 280.5h1M375 277.5h1M388 276.5h1M382 273.5h1M367 285.5h1M388 272.5h1M364 276.5h1M372 295.5h1M374 258.5h1M381 273.5h1M379 280.5h1M372 283.5h1M379 265.5h1M368 272.5h1M378 286.5h1M377 266.5h1M381 274.5h1M375 292.5h1M393 268.5h1M357 284.5h1M378 289.5h1M383 274.5h1M376 275.5h1M374 260.5h1M394 280.5h1M357 296.5h1M386 261.5h1M383 287.5h1M379 277.5h1M373 283.5h1M365 282.5h1M384 270.5h1M384 273.5h1M377 271.5h1M365 275.5h1M397 266.5h1M379 271.5h1M383 270.5h1M378 274.5h1M374 267.5h1M389 267.5h1M394 272.5h1M387 265.5h1M385 280.5h1M368 265.5h1M360 278.5h1M382 281.5h1M373 280.5h1M380 290.5h1M378 275.5h1M380 276.5h1M360 271.5h1M361 288.5h1M373 276.5h1M370 269.5h1M382 273.5h1M366 279.5h1M371 290.5h1M366 294.5h1M365 265.5h1M378 266.5h1M370 291.5h1M381 258.5h1M380 280.5h1M374 276.5h1M386 280.5h1M376 263.5h1M387 271.5h1M371 299.5h1M391 280.5h1M377 266.5h1M386 279.5h1M378 289.5h1M380 271.5h1M376 277.5h1M376 274.5h1M388 265.5h1M365 266.5h1M387 276.5h1M392 265.5h1M386 267.5h1M364 283.5h1M360 277.5h1M361 293.5h1M380 261.5h1M373 274.5h1M380 279.5h1M359 278.5h1M381 269.5h1M368 281.5h1M380 263.5h1M371 266.5h1M380 278.5h1M382 270.5h1M380 281.5h1M373 253.5h1M389 258.5h1M381 270.5h1M392 266.5h1M366 290.5h1M376 271.5h1M369 269.5h1M371 277.5h1M380 269.5h1M398 262.5h1M384 273.5h1M385 264.5h1M399 271.5h1M390 265.5h1M377 273.5h1M363 272.5h1M396 272.5h1M392 273.5h1M369 274.5h1M357 271.5h1M366 284.5h1M371 270.5h1M363 283.5h1M386 284.5h1M373 272.5h1M378 284.5h1M379 275.5h1M367 286.5h1M358 294.5h1M379 263.5h1M384 266.5h1M377 261.5h1M372 276.5h1M384 273.5h1M372 275.5h1M389 266.5h1M363 281.5h1M381 273.5h1M375 280.5h1M377 263.5h1M388 283.5h1M361 288.5h1M378 280.5h1M365 280.5h1M377 267.5h1M389 271.5h1M365 283.5h1M371 262.5h1M372 285.5h1M369 275.5h1M364 261.5h1M398 273.5h1M382 271.5h1M371 259.5h1M374 279.5h1M377 276.5h1M388 274.5h1M374 269.5h1M376 267.5h1M382 253.5h1M384 259.5h1M394 266.5h1M391 280.5h1M370 280.5h1M360 277.5h1M376 271.5h1M366 280.5h1M352 283.5h1M378 279.5h1M395 255.5h1M372 269.5h1M381 275.5h1M381 278.5h1M381 275.5h1M363 283.5h1M384 275.5h1M385 269.5h1M377 270.5h1M385 276.5h1M381 277.5h1M382 266.5h1M367 283.5h1M367 296.5h1M377 281.5h1M372 270.5h1M385 271.5h1M372 281.5h1M379 273.5h1M381 278.5h1M379 264.5h1M375 280.5h1M392 277.5h1M373 259.5h1M377 278.5h1M375 275.5h1M372 277.5h1M374 283.5h1M379 285.5h1M375 289.5h1M386 271.5h1M376 267.5h1M378 277.5h1M375 271.5h1M391 285.5h1M395 266.5h1M383 266.5h1M381 283.5h1M378 264.5h1M366 290.5h1M375 280.5h1M377 286.5h1M381 272.5h1M382 287.5h1M366 277.5h1M370 279.5h1M368 289.5h1M374 292.5h1M367 281.5h1M385 275.5h1M373 267.5h1M379 264.5h1M394 263.5h1M385 267.5h1M353 282.5h1M369 277.5h1M383 256.5h1M381 276.5h1M376 267.5h1M386 279.5h1M363 284.5h1M375 266.5h1M377 277.5h1M367 281.5h1M382 273.5h1M392 260.5h1M374 275.5h1M365 284.5h1M375 275.5h1M368 280.5h1M365 301.5h1M382 286.5h1M377 269.5h1M384 295.5h1M386 284.5h1M384 282.5h1M369 275.5h1M370 275.5h1M377 279.5h1M378 278.5h1M382 271.5h1M381 286.5h1M365 277.5h1M386 275.5h1M377 285.5h1M392 255.5h1M378 280.5h1M389 255.5h1M375 269.5h1M375 268.5h1M384 267.5h1M385 275.5h1M376 276.5h1M381 283.5h1M379 290.5h1M379 291.5h1M378 262.5h1M383 254.5h1M384 267.5h1M377 279.5h1M390 259.5h1M382 250.5h1M394 272.5h1M356 294.5h1M365 295.5h1M388 274.5h1M380 296.5h1M386 276.5h1M379 283.5h1M380 271.5h1M369 274.5h1M374 273.5h1M366 292.5h1M366 267.5h1M374 286.5h1M384 266.5h1M374 283.5h1M376 268.5h1M378 268.5h1M376 277.5h1M367 280.5h1M376 273.5h1M379 280.5h1M377 264.5h1M372 286.5h1M371 289.5h1M377 265.5h1M381 275.5h1M385 264.5h1M357 288.5h1M381 275.5h1M381 276.5h1M371 270.5h1M381 265.5h1M396 262.5h1M371 274.5h1M385 284.5h1M374 263.5h1M374 262.5h1M366 268.5h1M390 274.5h1M383 260.5h1M361 270.5h1M383 262.5h1M371 283.5h1M378 257.5h1M378 290.5h1M370 283.5h1M363 285.5h1M376 280.5h1M375 275.5h1M369 272.5h1M368 275.5h1M374 278.5h1M379 286.5h1M382 286.5h1M382 279.5h1M375 283.5h1M381 278.5h1M367 289.5h1M382 269.5h1M366 280.5h1M384 281.5h1M372 287.5h1M361 286.5h1M370 291.5h1M363 279.5h1M389 267.5h1M369 281.5h1M369 267.5h1M366 274.5h1M376 274.5h1M366 286.5h1M380 262.5h1M380 276.5h1M378 285.5h1M376 264.5h1M357 284.5h1M369 281.5h1M380 274.5h1M394 267.5h1M375 283.5h1M391 261.5h1M383 264.5h1M364 280.5h1M379 271.5h1M382 263.5h1M376 291.5h1M386 262.5h1M357 284.5h1M390 266.5h1M395 274.5h1M384 257.5h1M374 261.5h1M374 269.5h1M367 292.5h1M386 257.5h1M393 280.5h1M382 267.5h1M376 284.5h1M352 290.5h1M385 276.5h1M357 274.5h1M362 264.5h1M369 261.5h1M360 282.5h1M383 275.5h1M372 284.5h1M366 276.5h1M379 267.5h1M368 292.5h1M373 282.5h1M379 282.5h1M381 264.5h1M376 277.5h1M373 263.5h1M363 282.5h1M366 291.5h1M367 270.5h1M388 278.5h1M376 282.5h1M368 279.5h1M375 254.5h1M376 266.5h1M363 287.5h1M361 293.5h1M401 267.5h1M380 277.5h1M370 270.5h1M377 271.5h1M379 279.5h1M375 277.5h1M379 279.5h1M375 280.5h1M376 283.5h1M391 272.5h1M384 268.5h1M375 280.5h1M374 276.5h1M376 275.5h1M390 257.5h1M385 267.5h1M375 285.5h1M387 263.5h1M369 284.5h1M379 261.5h1M376 274.5h1M371 289.5h1M368 276.5h1M375 277.5h1M379 262.5h1M373 253.5h1M358 287.5h1M379 286.5h1M389 270.5h1M377 268.5h1M389 279.5h1M384 272.5h1M380 268.5h1M389 266.5h1M378 283.5h1M359 296.5h1M382 273.5h1M374 284.5h1M360 288.5h1M380 278.5h1M372 284.5h1M368 270.5h1M355 290.5h1M380 271.5h1M377 277.5h1M376 273.5h1M369 281.5h1M377 289.5h1M388 271.5h1M374 265.5h1M379 283.5h1M357 279.5h1M376 268.5h1M372 280.5h1M385 270.5h1M370 281.5h1M373 270.5h1M376 270.5h1M364 274.5h1M377 268.5h1M369 291.5h1M382 261.5h1M368 276.5h1M373 280.5h1M379 282.5h1M377 283.5h1M367 279.5h1M382 278.5h1M361 273.5h1M369 275.5h1M387 283.5h1M380 283.5h1M369 282.5h1M389 274.5h1M391 259.5h1M366 277.5h1M379 265.5h1M377 287.5h1M369 274.5h1M362 280.5h1M375 284.5h1M366 279.5h1M378 279.5h1M381 285.5h1M385 250.5h1M363 278.5h1M386 275.5h1M357 286.5h1M366 294.5h1M380 266.5h1M375 292.5h1M371 276.5h1M367 284.5h1M369 274.5h1M382 264.5h1M386 253.5h1M374 284.5h1M390 265.5h1M387 285.5h1M377 280.5h1M376 279.5h1M381 283.5h1M359 284.5h1M377 277.5h1M375 269.5h1M366 287.5h1M384 257.5h1M361 280.5h1M365 271.5h1M386 268.5h1M374 266.5h1M385 265.5h1M381 259.5h1M375 278.5h1M372 280.5h1M379 268.5h1M384 274.5h1M389 260.5h1M358 292.5h1M394 275.5h1M383 273.5h1M377 280.5h1M364 278.5h1M369 282.5h1M370 282.5h1M392 264.5h1M374 273.5h1M376 279.5h1M371 270.5h1M382 271.5h1M382 269.5h1M373 272.5h1M372 275.5h1M379 290.5h1M375 275.5h1M375 277.5h1M382 290.5h1M381 284.5h1M380 259.5h1M380 266.5h1M381 275.5h1M380 260.5h1M387 282.5h1M377 258.5h1M379 278.5h1M378 255.5h1M383 272.5h1M377 280.5h1M366 284.5h1M379 275.5h1M371 269.5h1M363 281.5h1M377 279.5h1M373 281.5h1M378 273.5h1M357 278.5h1M376 275.5h1M385 253.5h1M384 266.5h1M381 279.5h1M397 269.5h1M372 277.5h1M380 265.5h1M377 271.5h1M366 273.5h1M376 267.5h1M366 280.5h1M375 287.5h1M382 254.5h1M377 286.5h1M376 277.5h1M380 285.5h1M365 277.5h1M372 264.5h1M376 291.5h1M374 289.5h1M378 281.5h1M391 279.5h1M388 263.5h1M378 277.5h1M391 274.5h1M400 274.5h1M389 278.5h1M381 266.5h1M384 284.5h1M364 290.5h1M381 267.5h1M364 282.5h1M381 271.5h1M369 282.5h1M359 279.5h1M379 279.5h1M367 287.5h1M370 268.5h1M382 283.5h1M371 274.5h1M392 276.5h1M384 285.5h1M384 269.5h1M380 272.5h1M387 289.5h1M356 278.5h1M359 272.5h1M384 251.5h1M378 276.5h1M378 268.5h1M393 263.5h1M374 284.5h1M389 269.5h1M355 297.5h1M372 287.5h1M363 297.5h1M366 267.5h1M378 277.5h1M367 279.5h1M369 279.5h1M382 273.5h1M374 265.5h1M373 286.5h1M366 279.5h1M380 275.5h1M376 280.5h1M366 269.5h1M384 286.5h1M367 294.5h1M383 275.5h1M376 271.5h1M384 273.5h1M381 268.5h1M386 255.5h1M362 269.5h1M372 269.5h1M395 269.5h1M364 270.5h1M385 265.5h1M378 284.5h1M372 278.5h1M374 290.5h1M378 278.5h1M397 261.5h1M393 261.5h1M391 286.5h1M373 264.5h1M385 264.5h1M364 281.5h1M371 277.5h1M376 277.5h1M354 286.5h1M363 276.5h1M374 283.5h1M369 274.5h1M377 279.5h1M362 298.5h1M377 269.5h1M372 279.5h1M381 272.5h1M393 280.5h1M380 281.5h1M389 259.5h1M359 287.5h1M372 273.5h1M380 277.5h1M385 260.5h1M383 282.5h1M378 268.5h1M367 265.5h1M393 258.5h1M380 283.5h1M363 278.5h1M373 281.5h1M379 272.5h1M384 260.5h1M360 298.5h1M362 284.5h1M391 266.5h1M377 283.5h1M369 281.5h1M370 277.5h1M368 282.5h1M364 282.5h1M377 275.5h1M374 286.5h1M387 258.5h1M380 271.5h1M365 277.5h1M386 257.5h1M362 279.5h1M382 272.5h1M390 262.5h1M383 273.5h1M374 284.5h1M374 276.5h1M372 269.5h1M388 262.5h1M368 267.5h1M378 267.5h1M379 295.5h1M373 272.5h1M388 266.5h1M373 277.5h1M377 283.5h1M376 281.5h1M373 255.5h1M374 266.5h1M381 273.5h1M375 286.5h1M365 293.5h1M388 269.5h1M369 276.5h1M376 262.5h1M389 278.5h1M369 278.5h1M368 286.5h1M385 268.5h1M355 291.5h1M362 300.5h1M393 265.5h1M370 283.5h1M382 277.5h1M387 268.5h1M387 252.5h1M376 291.5h1M367 271.5h1M375 260.5h1M378 277.5h1M366 279.5h1M389 272.5h1M364 292.5h1M386 268.5h1M380 280.5h1M370 271.5h1M368 280.5h1M368 273.5h1M393 273.5h1M378 273.5h1M387 267.5h1M389 277.5h1M366 273.5h1M373 277.5h1M374 273.5h1M363 272.5h1M389 265.5h1M358 278.5h1M399 268.5h1M362 275.5h1M364 279.5h1M382 281.5h1M373 293.5h1M391 263.5h1M379 256.5h1M387 257.5h1M384 263.5h1M362 292.5h1M388 275.5h1M377 287.5h1M387 271.5h1M368 273.5h1M383 288.5h1M375 289.5h1M377 268.5h1M385 266.5h1M370 287.5h1M384 276.5h1M389 279.5h1M379 280.5h1M381 283.5h1M388 267.5h1M391 268.5h1M390 276.5h1M373 262.5h1M394 278.5h1M367 277.5h1M378 278.5h1M380 278.5h1M376 290.5h1M387 273.5h1M393 260.5h1M368 272.5h1M371 279.5h1M370 283.5h1M382 269.5h1M369 271.5h1M385 265.5h1M363 282.5h1M381 277.5h1M361 272.5h1M382 276.5h1M381 283.5h1M366 296.5h1M377 263.5h1M367 267.5h1M375 272.5h1M363 266.5h1M375 289.5h1M381 279.5h1M385 271.5h1M381 254.5h1M383 278.5h1M372 280.5h1M392 270.5h1M373 276.5h1M379 282.5h1M376 266.5h1M370 289.5h1M372 270.5h1M376 276.5h1M376 282.5h1M386 258.5h1M373 297.5h1M367 268.5h1M370 268.5h1M384 279.5h1M388 263.5h1M370 276.5h1M368 282.5h1M364 287.5h1M375 283.5h1M380 272.5h1M378 281.5h1M392 259.5h1M369 293.5h1M382 276.5h1M382 276.5h1M392 287.5h1M386 273.5h1M369 273.5h1M372 264.5h1M378 280.5h1M372 279.5h1M362 277.5h1M383 287.5h1M380 267.5h1M383 288.5h1M380 267.5h1M376 278.5h1M377 276.5h1M388 265.5h1M356 276.5h1M392 274.5h1M380 269.5h1M378 270.5h1M391 266.5h1M371 277.5h1M378 274.5h1M389 258.5h1M361 280.5h1M386 274.5h1M380 268.5h1M374 267.5h1M383 274.5h1M363 276.5h1M383 278.5h1M386 284.5h1M386 277.5h1M378 273.5h1M385 253.5h1M387 267.5h1M393 256.5h1M385 266.5h1M377 268.5h1M388 273.5h1M388 263.5h1M376 286.5h1M363 286.5h1M361 283.5h1M396 279.5h1M373 276.5h1M376 278.5h1M374 270.5h1M387 271.5h1M374 278.5h1M378 288.5h1M369 275.5h1M369 256.5h1M374 275.5h1M373 262.5h1M376 258.5h1M377 278.5h1M370 281.5h1M367 285.5h1M367 274.5h1M373 287.5h1M374 269.5h1M372 290.5h1M374 270.5h1M374 279.5h1M393 276.5h1M371 286.5h1M375 271.5h1M383 269.5h1M363 288.5h1M366 261.5h1M380 286.5h1M374 287.5h1M370 292.5h1M377 274.5h1M375 283.5h1M375 279.5h1M387 272.5h1M372 258.5h1M377 276.5h1M373 278.5h1M386 284.5h1M386 269.5h1M391 249.5h1M368 280.5h1M368 263.5h1M376 277.5h1M381 282.5h1M356 292.5h1M374 268.5h1M376 286.5h1M379 273.5h1M366 274.5h1M367 281.5h1M368 296.5h1M382 258.5h1M381 280.5h1M370 264.5h1M388 261.5h1M391 280.5h1M383 277.5h1M354 292.5h1M374 256.5h1M381 265.5h1M370 287.5h1M387 278.5h1M369 272.5h1M396 270.5h1M377 296.5h1M382 281.5h1M376 265.5h1M378 270.5h1M368 287.5h1M363 286.5h1M377 283.5h1M383 248.5h1M370 282.5h1M370 277.5h1M391 274.5h1M380 271.5h1M394 269.5h1M367 278.5h1M381 289.5h1M378 264.5h1M368 272.5h1M373 272.5h1M361 278.5h1M361 274.5h1M372 284.5h1M374 283.5h1M374 284.5h1M374 278.5h1M375 279.5h1M386 267.5h1M380 251.5h1M373 278.5h1M391 263.5h1M371 263.5h1M366 301.5h1M379 273.5h1M362 285.5h1M381 262.5h1M380 286.5h1M396 268.5h1M394 268.5h1M378 284.5h1M362 278.5h1M385 266.5h1M368 281.5h1M381 280.5h1M387 269.5h1M372 273.5h1M380 267.5h1M393 259.5h1M373 267.5h1M385 272.5h1M375 283.5h1M359 301.5h1M381 277.5h1M372 271.5h1M389 277.5h1M374 273.5h1M383 290.5h1M382 289.5h1M377 274.5h1M368 282.5h1M367 288.5h1M390 283.5h1M369 270.5h1M374 265.5h1M377 284.5h1M368 270.5h1M373 286.5h1M373 278.5h1M387 271.5h1M395 265.5h1M383 285.5h1M382 273.5h1M367 278.5h1M368 290.5h1M369 277.5h1M370 273.5h1M365 270.5h1M365 277.5h1M378 273.5h1M383 264.5h1M373 280.5h1M384 276.5h1M388 276.5h1M374 258.5h1M387 273.5h1M381 263.5h1M369 267.5h1M366 285.5h1M372 287.5h1M371 277.5h1M360 276.5h1M376 286.5h1M380 281.5h1M379 278.5h1M369 275.5h1M374 268.5h1M394 260.5h1M369 283.5h1M367 275.5h1M375 291.5h1M386 266.5h1M381 265.5h1M363 283.5h1M376 267.5h1M374 294.5h1M380 272.5h1M380 277.5h1M376 273.5h1M361 288.5h1M379 274.5h1M377 272.5h1M374 252.5h1M367 265.5h1M371 271.5h1M371 281.5h1M369 260.5h1M386 271.5h1M392 277.5h1M384 268.5h1M381 281.5h1M384 279.5h1M390 264.5h1M389 266.5h1M370 279.5h1M389 253.5h1M384 259.5h1M390 273.5h1M365 280.5h1M373 261.5h1M385 267.5h1M395 256.5h1M371 276.5h1M371 274.5h1M386 264.5h1M383 262.5h1M389 271.5h1M383 288.5h1M376 283.5h1M381 274.5h1M381 271.5h1M387 269.5h1M377 286.5h1M364 288.5h1M382 262.5h1M378 277.5h1M378 278.5h1M384 266.5h1M369 290.5h1M374 272.5h1M377 280.5h1M392 280.5h1M366 266.5h1M380 267.5h1M362 282.5h1M375 279.5h1M371 283.5h1M385 265.5h1M386 263.5h1M378 274.5h1M387 272.5h1M372 273.5h1M372 280.5h1M376 253.5h1M381 279.5h1M389 264.5h1M395 253.5h1M379 294.5h1M386 273.5h1M386 287.5h1M384 274.5h1M359 294.5h1M381 268.5h1M365 277.5h1M378 271.5h1M374 266.5h1M380 264.5h1M390 285.5h1M378 271.5h1M384 284.5h1M362 285.5h1M365 274.5h1M365 272.5h1M373 276.5h1M378 273.5h1M387 279.5h1M381 261.5h1M390 256.5h1M371 285.5h1M386 279.5h1M388 277.5h1M378 279.5h1M377 264.5h1M360 294.5h1M387 273.5h1M371 272.5h1M357 286.5h1M374 275.5h1M393 258.5h1M375 274.5h1M393 257.5h1M390 252.5h1M386 277.5h1M368 271.5h1M382 268.5h1M385 275.5h1M379 289.5h1M388 260.5h1M361 288.5h1M379 279.5h1M377 273.5h1M380 269.5h1M377 283.5h1M379 273.5h1M391 272.5h1M380 276.5h1M374 284.5h1M387 270.5h1M385 278.5h1M368 281.5h1M372 281.5h1M381 249.5h1M388 286.5h1M382 270.5h1M373 278.5h1M373 273.5h1M376 273.5h1M360 267.5h1M387 271.5h1M395 272.5h1M380 264.5h1M379 282.5h1M372 279.5h1M364 294.5h1M373 254.5h1M381 282.5h1M359 277.5h1M366 282.5h1M382 266.5h1M374 276.5h1M389 272.5h1M378 272.5h1M384 265.5h1M381 274.5h1M391 265.5h1M369 287.5h1M390 261.5h1M387 280.5h1M371 280.5h1M367 273.5h1M372 282.5h1M372 264.5h1M380 268.5h1M370 288.5h1M369 296.5h1M394 268.5h1M384 274.5h1M368 287.5h1M391 270.5h1M388 265.5h1M371 261.5h1M392 279.5h1M372 278.5h1M381 266.5h1M369 280.5h1M392 256.5h1M376 280.5h1M383 270.5h1M377 285.5h1M370 291.5h1M373 278.5h1M393 255.5h1M376 273.5h1M366 296.5h1M392 271.5h1M374 253.5h1M368 279.5h1M373 269.5h1M376 273.5h1M367 278.5h1M372 268.5h1M357 282.5h1M380 271.5h1M382 262.5h1M366 278.5h1M391 276.5h1M383 267.5h1M379 267.5h1M393 265.5h1M380 277.5h1M365 276.5h1M380 265.5h1M381 270.5h1M363 296.5h1M376 273.5h1M373 277.5h1M383 278.5h1M398 268.5h1M374 265.5h1M369 278.5h1M378 284.5h1M370 266.5h1M373 264.5h1M374 286.5h1M370 277.5h1M384 265.5h1M371 275.5h1M372 267.5h1M368 292.5h1M363 288.5h1M390 274.5h1M365 280.5h1M377 262.5h1M386 277.5h1M384 262.5h1M380 289.5h1M371 281.5h1M382 261.5h1M376 273.5h1M372 272.5h1M384 267.5h1M363 278.5h1M378 276.5h1M370 288.5h1M372 291.5h1M392 277.5h1M387 264.5h1M378 272.5h1M367 289.5h1M382 280.5h1M382 273.5h1M371 270.5h1M385 263.5h1M364 276.5h1M377 269.5h1M377 280.5h1M363 264.5h1M379 282.5h1M390 278.5h1M371 288.5h1M373 276.5h1M375 267.5h1M382 265.5h1M388 267.5h1M370 266.5h1M383 262.5h1M385 262.5h1M379 278.5h1M382 248.5h1M381 254.5h1M379 281.5h1M369 269.5h1M372 277.5h1M377 277.5h1M373 265.5h1M382 275.5h1M373 277.5h1M373 264.5h1M385 262.5h1M391 273.5h1M385 271.5h1M373 276.5h1M378 280.5h1M389 259.5h1M373 270.5h1M374 284.5h1M391 272.5h1M387 258.5h1M356 280.5h1M390 260.5h1M367 281.5h1M380 264.5h1M375 272.5h1M379 286.5h1M367 280.5h1M365 281.5h1M371 289.5h1M371 275.5h1M389 269.5h1M381 282.5h1M396 261.5h1M368 271.5h1M366 276.5h1M375 273.5h1M380 251.5h1M375 284.5h1M371 270.5h1M387 267.5h1M385 289.5h1M376 266.5h1M373 274.5h1M383 283.5h1M378 277.5h1M372 274.5h1M384 269.5h1M360 285.5h1M376 293.5h1M360 268.5h1M366 289.5h1M373 287.5h1M370 288.5h1M379 279.5h1M373 298.5h1M381 283.5h1M370 280.5h1M380 261.5h1M371 295.5h1M362 288.5h1M367 291.5h1M355 274.5h1M366 280.5h1M376 266.5h1M368 281.5h1M372 274.5h1M376 277.5h1M385 274.5h1M356 280.5h1M362 276.5h1M369 270.5h1M392 268.5h1M371 281.5h1M366 278.5h1M381 268.5h1M387 283.5h1M376 275.5h1M397 265.5h1M377 287.5h1M379 266.5h1M366 274.5h1M399 259.5h1M384 271.5h1M380 273.5h1M390 264.5h1M379 274.5h1M362 301.5h1M378 272.5h1M381 282.5h1M366 288.5h1M382 268.5h1M374 281.5h1M363 277.5h1M394 256.5h1M388 267.5h1M376 250.5h1M382 252.5h1M363 283.5h1M392 259.5h1M360 276.5h1M367 282.5h1M380 272.5h1M375 278.5h1M384 255.5h1M372 276.5h1M385 272.5h1M389 285.5h1M366 278.5h1M374 277.5h1M368 274.5h1M376 272.5h1M370 271.5h1M380 264.5h1M374 277.5h1M380 273.5h1M400 269.5h1M389 277.5h1M382 278.5h1M383 275.5h1M369 259.5h1M384 263.5h1M394 277.5h1M391 287.5h1M385 284.5h1M376 280.5h1M372 270.5h1M363 286.5h1M370 288.5h1M363 281.5h1M396 268.5h1M381 274.5h1M378 260.5h1M383 275.5h1M376 287.5h1M361 291.5h1M373 276.5h1M368 275.5h1M369 277.5h1M357 279.5h1M370 260.5h1M378 264.5h1M386 274.5h1M386 266.5h1M369 281.5h1M382 270.5h1M369 269.5h1M369 275.5h1M375 273.5h1M369 283.5h1M368 273.5h1M381 278.5h1M370 296.5h1M390 263.5h1M390 271.5h1M385 270.5h1M382 269.5h1M385 272.5h1M385 256.5h1M367 274.5h1M363 284.5h1M393 274.5h1M373 276.5h1M383 264.5h1M388 274.5h1M368 278.5h1M381 279.5h1M377 292.5h1M374 272.5h1M378 278.5h1M370 257.5h1M389 256.5h1M382 274.5h1M374 276.5h1M377 273.5h1M377 276.5h1M378 283.5h1M383 276.5h1M359 277.5h1M375 286.5h1M369 264.5h1M388 270.5h1M376 266.5h1M374 277.5h1M377 258.5h1M378 271.5h1M389 258.5h1M383 272.5h1M375 273.5h1M364 282.5h1M381 258.5h1M385 266.5h1M387 262.5h1M373 280.5h1M380 294.5h1M386 261.5h1M383 280.5h1M358 296.5h1M385 271.5h1M370 288.5h1M388 262.5h1M392 271.5h1M362 292.5h1M370 264.5h1M367 267.5h1M371 260.5h1M361 280.5h1M363 285.5h1M372 257.5h1M362 292.5h1M370 271.5h1M376 267.5h1M381 267.5h1M384 275.5h1M392 252.5h1M375 254.5h1M373 274.5h1M377 277.5h1M369 280.5h1M380 274.5h1M393 255.5h1M386 272.5h1M371 271.5h1M369 287.5h1M358 297.5h1M376 275.5h1M380 289.5h1M371 264.5h1M358 276.5h1M386 271.5h1M360 264.5h1M371 279.5h1M381 274.5h1M371 277.5h1M373 272.5h1M374 284.5h1M377 268.5h1M371 296.5h1M371 271.5h1M384 272.5h1M391 274.5h1M381 270.5h1M393 269.5h1M373 268.5h1M379 285.5h1M364 295.5h1M367 300.5h1M369 297.5h1M381 279.5h1M364 290.5h1M373 295.5h1M377 264.5h1M383 279.5h1M383 267.5h1M388 267.5h1M393 285.5h1M377 297.5h1M358 275.5h1M388 262.5h1M379 252.5h1M373 278.5h1M378 262.5h1M376 262.5h1M376 280.5h1M376 258.5h1M362 276.5h1M382 270.5h1M380 269.5h1M382 281.5h1M363 272.5h1M393 265.5h1M370 281.5h1M373 285.5h1M368 289.5h1M369 272.5h1M374 275.5h1M363 276.5h1M385 264.5h1M371 268.5h1M387 274.5h1M370 291.5h1M381 254.5h1M378 260.5h1M388 277.5h1M391 268.5h1M383 268.5h1M385 276.5h1M372 264.5h1M370 261.5h1M372 277.5h1M388 257.5h1M396 253.5h1M386 279.5h1M385 282.5h1M399 256.5h1M381 270.5h1M374 263.5h1M384 273.5h1M375 271.5h1M363 267.5h1M372 257.5h1M360 282.5h1M379 259.5h1M378 278.5h1M372 276.5h1M392 256.5h1M371 271.5h1M367 274.5h1M381 262.5h1M375 289.5h1M364 295.5h1M382 278.5h1M367 273.5h1M369 279.5h1M364 274.5h1M371 279.5h1M381 282.5h1M360 295.5h1M389 271.5h1M383 284.5h1M383 285.5h1M369 272.5h1M385 268.5h1M386 276.5h1M398 257.5h1M361 294.5h1M384 267.5h1M386 266.5h1M377 265.5h1M378 277.5h1M365 266.5h1M382 278.5h1M379 282.5h1M368 278.5h1M383 264.5h1M373 271.5h1M379 263.5h1M369 289.5h1M363 277.5h1M370 279.5h1M377 276.5h1M380 251.5h1M372 263.5h1M394 271.5h1M386 252.5h1M356 288.5h1M381 283.5h1M376 284.5h1M381 271.5h1M370 284.5h1M383 254.5h1M366 273.5h1M378 288.5h1M371 290.5h1M374 273.5h1M370 278.5h1M371 264.5h1M365 272.5h1M373 264.5h1M384 277.5h1M377 257.5h1M387 272.5h1M363 271.5h1M380 258.5h1M369 276.5h1M365 279.5h1M380 263.5h1M367 286.5h1M379 287.5h1M359 284.5h1M361 285.5h1M375 268.5h1M371 284.5h1M383 254.5h1M391 264.5h1M386 277.5h1M365 275.5h1M377 275.5h1M378 280.5h1M387 266.5h1M353 284.5h1M373 274.5h1M379 276.5h1M385 275.5h1M386 272.5h1M374 278.5h1M390 276.5h1M369 287.5h1M387 265.5h1M386 277.5h1M378 277.5h1M390 268.5h1M370 280.5h1M354 282.5h1M370 261.5h1M383 278.5h1M374 278.5h1M368 278.5h1M382 272.5h1M392 274.5h1M373 286.5h1M371 292.5h1M388 274.5h1M367 284.5h1M386 263.5h1M392 266.5h1M363 272.5h1M396 254.5h1M365 269.5h1M378 277.5h1M374 274.5h1M382 272.5h1M384 268.5h1M385 276.5h1M379 287.5h1M380 282.5h1M361 285.5h1M364 280.5h1M373 269.5h1M384 281.5h1M364 273.5h1M376 270.5h1M376 286.5h1M378 276.5h1M378 275.5h1M383 264.5h1M396 275.5h1M378 291.5h1M370 275.5h1M360 288.5h1M397 261.5h1M361 294.5h1M371 271.5h1M364 289.5h1M379 276.5h1M388 281.5h1M388 275.5h1M369 278.5h1M382 268.5h1M369 279.5h1M376 289.5h1M384 294.5h1M374 285.5h1M392 262.5h1M385 268.5h1M373 262.5h1M353 287.5h1M374 274.5h1M381 269.5h1M361 289.5h1M385 267.5h1M362 279.5h1M386 283.5h1M374 269.5h1M374 274.5h1M378 276.5h1M389 278.5h1M384 263.5h1M395 266.5h1M394 268.5h1M378 274.5h1M362 294.5h1M368 285.5h1M377 283.5h1M382 269.5h1M376 256.5h1M374 278.5h1M377 285.5h1M382 278.5h1M382 276.5h1M374 261.5h1M380 265.5h1M367 270.5h1M355 296.5h1M364 271.5h1M385 284.5h1M396 249.5h1M383 261.5h1M386 277.5h1M396 256.5h1M371 287.5h1M376 268.5h1M386 274.5h1M378 286.5h1M376 283.5h1M387 272.5h1M378 272.5h1M373 280.5h1M371 272.5h1M385 271.5h1M377 279.5h1M376 286.5h1M368 261.5h1M380 280.5h1M374 271.5h1M365 283.5h1M382 280.5h1M369 274.5h1M363 286.5h1M393 264.5h1M387 281.5h1M381 274.5h1M386 269.5h1M393 267.5h1M390 270.5h1M369 279.5h1M383 276.5h1M378 285.5h1M374 276.5h1M372 265.5h1M392 269.5h1M375 290.5h1M375 261.5h1M392 281.5h1M371 286.5h1M377 276.5h1M390 267.5h1M376 275.5h1M376 268.5h1M388 270.5h1M378 274.5h1M380 277.5h1M384 261.5h1M384 263.5h1M400 255.5h1M380 272.5h1M362 290.5h1M359 282.5h1M381 270.5h1M374 288.5h1M365 287.5h1M374 254.5h1M357 283.5h1M356 283.5h1M386 279.5h1M375 254.5h1M380 265.5h1M366 283.5h1M382 267.5h1M366 281.5h1M390 281.5h1M375 293.5h1M370 263.5h1M374 274.5h1M384 274.5h1M389 263.5h1M375 259.5h1M393 255.5h1M372 279.5h1M389 270.5h1M372 261.5h1M377 278.5h1M385 273.5h1M375 272.5h1M386 271.5h1M377 277.5h1M387 282.5h1M380 289.5h1M371 276.5h1M383 276.5h1M376 269.5h1M377 269.5h1M380 263.5h1M367 278.5h1M365 276.5h1M365 291.5h1M389 264.5h1M386 251.5h1M386 276.5h1M387 273.5h1M378 288.5h1M383 277.5h1M381 255.5h1M372 265.5h1M368 290.5h1M388 279.5h1M381 278.5h1M383 265.5h1M381 251.5h1M379 275.5h1M375 265.5h1M380 261.5h1M379 289.5h1M369 271.5h1M357 283.5h1M376 269.5h1M383 268.5h1M373 265.5h1M377 267.5h1M370 280.5h1M368 280.5h1M378 255.5h1M388 273.5h1M375 278.5h1M384 271.5h1M370 280.5h1M368 282.5h1M382 273.5h1M375 274.5h1M380 272.5h1M374 265.5h1M379 273.5h1M392 255.5h1M373 283.5h1M381 279.5h1M371 276.5h1M371 270.5h1M368 297.5h1M381 257.5h1M359 280.5h1M370 293.5h1M382 281.5h1M384 282.5h1M369 272.5h1M367 284.5h1M383 268.5h1M372 290.5h1M378 265.5h1M359 280.5h1M380 273.5h1M373 269.5h1M362 286.5h1M376 273.5h1M386 266.5h1M375 257.5h1M375 261.5h1M378 284.5h1M367 267.5h1M378 288.5h1M383 260.5h1M367 277.5h1M369 284.5h1M378 284.5h1M396 263.5h1M359 285.5h1M388 269.5h1M383 267.5h1M372 278.5h1M382 275.5h1M372 293.5h1M387 276.5h1M383 271.5h1M365 276.5h1M379 273.5h1M379 275.5h1M372 260.5h1M375 261.5h1M381 260.5h1M374 273.5h1M378 266.5h1M378 261.5h1M389 257.5h1M372 268.5h1M372 277.5h1M366 275.5h1M384 281.5h1M370 295.5h1M360 277.5h1M375 261.5h1M398 259.5h1M394 266.5h1M366 274.5h1M388 263.5h1M380 270.5h1M365 272.5h1M384 258.5h1M384 265.5h1M377 259.5h1M391 276.5h1M389 267.5h1M371 273.5h1M364 271.5h1M389 269.5h1M370 259.5h1M392 270.5h1M371 274.5h1M373 274.5h1M382 278.5h1M374 270.5h1M384 256.5h1M379 272.5h1M361 301.5h1M381 286.5h1M387 278.5h1M385 278.5h1M384 278.5h1M376 276.5h1M398 267.5h1M376 284.5h1M394 275.5h1M373 255.5h1M382 262.5h1M367 278.5h1M357 267.5h1M379 268.5h1M379 266.5h1M379 265.5h1M361 270.5h1M362 266.5h1M388 257.5h1M394 277.5h1M384 267.5h1M394 274.5h1M400 263.5h1M371 270.5h1M381 271.5h1M368 290.5h1M372 274.5h1M375 266.5h1M388 271.5h1M363 273.5h1M372 290.5h1M367 278.5h1M363 294.5h1M370 284.5h1M378 276.5h1M375 264.5h1M384 256.5h1M379 272.5h1M365 275.5h1M387 278.5h1M372 275.5h1M393 270.5h1M374 297.5h1M371 272.5h1M394 255.5h1M386 262.5h1M381 280.5h1M390 273.5h1M381 271.5h1M375 274.5h1M384 266.5h1M380 271.5h1M383 269.5h1M375 275.5h1M372 272.5h1M385 274.5h1M372 274.5h1M362 279.5h1M375 292.5h1M384 275.5h1M373 283.5h1M377 287.5h1M375 283.5h1M386 271.5h1M351 286.5h1M356 296.5h1M370 265.5h1M376 277.5h1M389 260.5h1M375 278.5h1M367 289.5h1M364 259.5h1M372 265.5h1M379 270.5h1M392 281.5h1M396 256.5h1M369 273.5h1M378 269.5h1M378 276.5h1M359 286.5h1M366 284.5h1M374 286.5h1M373 276.5h1M363 282.5h1M383 258.5h1M377 276.5h1M372 286.5h1M371 282.5h1M373 271.5h1M370 279.5h1M362 279.5h1M369 288.5h1M377 275.5h1M391 259.5h1M380 283.5h1M369 268.5h1M372 284.5h1M385 247.5h1M369 266.5h1M371 297.5h1M377 271.5h1M364 283.5h1M383 268.5h1M373 272.5h1M390 268.5h1M363 279.5h1M378 270.5h1M390 261.5h1M389 289.5h1M364 280.5h1M382 285.5h1M370 266.5h1M367 273.5h1M387 277.5h1M394 271.5h1M367 280.5h1M357 283.5h1M368 282.5h1M362 288.5h1M369 281.5h1M364 269.5h1M360 288.5h1M383 281.5h1M367 269.5h1M358 285.5h1M373 279.5h1M364 291.5h1M372 263.5h1M370 275.5h1M380 272.5h1M379 257.5h1M382 271.5h1M376 277.5h1M388 281.5h1M374 282.5h1M398 268.5h1M378 288.5h1M369 272.5h1M381 278.5h1M373 268.5h1M371 261.5h1M368 288.5h1M375 283.5h1M368 271.5h1M374 271.5h1M371 263.5h1M379 273.5h1M373 273.5h1M372 287.5h1M373 292.5h1M372 292.5h1M387 273.5h1M378 254.5h1M363 279.5h1M364 288.5h1M373 280.5h1M378 275.5h1M364 275.5h1M373 278.5h1M390 278.5h1M379 274.5h1M382 289.5h1M368 290.5h1M379 282.5h1M394 275.5h1M372 300.5h1M387 262.5h1M374 272.5h1M384 260.5h1M375 287.5h1M375 288.5h1M364 288.5h1M371 269.5h1M371 270.5h1M373 278.5h1M381 280.5h1M375 269.5h1M367 282.5h1M385 271.5h1M369 296.5h1M375 283.5h1M371 267.5h1M366 272.5h1M378 276.5h1M362 290.5h1M364 271.5h1M383 283.5h1M367 292.5h1M381 272.5h1M364 286.5h1M378 292.5h1M363 286.5h1M385 282.5h1M364 279.5h1M380 271.5h1M384 271.5h1M367 275.5h1M379 271.5h1M394 265.5h1M357 287.5h1M364 293.5h1M387 259.5h1M361 278.5h1M378 265.5h1M353 293.5h1M369 258.5h1M385 287.5h1M371 271.5h1M369 258.5h1M368 280.5h1M373 279.5h1M378 277.5h1M372 300.5h1M365 272.5h1M385 280.5h1M386 285.5h1M372 271.5h1M369 271.5h1M355 290.5h1M364 280.5h1M366 298.5h1M378 274.5h1M385 269.5h1M382 279.5h1M358 293.5h1M379 285.5h1M383 270.5h1M371 265.5h1M382 270.5h1M383 269.5h1M363 282.5h1M385 280.5h1M376 272.5h1M361 279.5h1M368 278.5h1M379 281.5h1M386 254.5h1M386 268.5h1M371 272.5h1M382 280.5h1M370 296.5h1M367 268.5h1M385 268.5h1M374 280.5h1M387 277.5h1M389 266.5h1M365 271.5h1M361 287.5h1M375 277.5h1M386 286.5h1M392 247.5h1M373 274.5h1M368 271.5h1M386 269.5h1M367 280.5h1M377 282.5h1M383 284.5h1M386 287.5h1M375 269.5h1M379 276.5h1M359 298.5h1M394 274.5h1M363 272.5h1M385 272.5h1M387 284.5h1M388 277.5h1M390 267.5h1M369 273.5h1M370 278.5h1M376 270.5h1M379 280.5h1M385 256.5h1M375 278.5h1M366 276.5h1M396 262.5h1M375 285.5h1M387 273.5h1M375 284.5h1M386 274.5h1M385 259.5h1M390 265.5h1M382 287.5h1M383 273.5h1M390 268.5h1M387 283.5h1M390 258.5h1M388 261.5h1M390 260.5h1M368 268.5h1M389 279.5h1M364 283.5h1M368 282.5h1M387 275.5h1M364 276.5h1M384 281.5h1M368 284.5h1M368 279.5h1M369 288.5h1M383 276.5h1M366 278.5h1M371 268.5h1M384 272.5h1M366 272.5h1M375 273.5h1M401 260.5h1M376 266.5h1M389 261.5h1M391 264.5h1M381 265.5h1M379 268.5h1M369 294.5h1M384 273.5h1M365 281.5h1M385 251.5h1M418 246.5h1M365 259.5h1M379 263.5h1M376 291.5h1M397 276.5h1M376 251.5h1M403 247.5h1M396 259.5h1M382 295.5h1M393 290.5h1M395 245.5h1M394 270.5h1M361 269.5h1M376 273.5h1M392 245.5h1M342 274.5h1M393 285.5h1M395 246.5h1M400 252.5h1M356 282.5h1M379 272.5h1M390 266.5h1M391 270.5h1M378 274.5h1M385 291.5h1M369 268.5h1M409 289.5h1M374 263.5h1M400 233.5h1M384 261.5h1M394 257.5h1M380 249.5h1M367 267.5h1M385 246.5h1M375 282.5h1M391 245.5h1M391 257.5h1M377 281.5h1M382 244.5h1M386 287.5h1M395 255.5h1M377 297.5h1M401 279.5h1M388 233.5h1M364 273.5h1M346 302.5h1M379 293.5h1M387 259.5h1M371 264.5h1M374 314.5h1M364 272.5h1M368 274.5h1M330 290.5h1M381 284.5h1M358 256.5h1M371 276.5h1M368 274.5h1M390 237.5h1M334 276.5h1M360 270.5h1M378 232.5h1M380 265.5h1M350 288.5h1M377 253.5h1M354 325.5h1M369 276.5h1M385 257.5h1M352 288.5h1M373 242.5h1M373 262.5h1M375 267.5h1M390 253.5h1M394 277.5h1M355 301.5h1M363 304.5h1M386 287.5h1M370 259.5h1M398 265.5h1M374 295.5h1M388 291.5h1M375 250.5h1M341 285.5h1M373 267.5h1M397 254.5h1M368 271.5h1M377 260.5h1M380 266.5h1M383 258.5h1M402 274.5h1M375 270.5h1M377 279.5h1M376 276.5h1M389 259.5h1M379 296.5h1M397 242.5h1M333 310.5h1M409 276.5h1M420 250.5h1M367 254.5h1M404 269.5h1M378 255.5h1M376 235.5h1M406 243.5h1M378 284.5h1M388 272.5h1M380 282.5h1M391 288.5h1M381 289.5h1M387 270.5h1M370 288.5h1M385 247.5h1M374 260.5h1M390 255.5h1M387 296.5h1M381 255.5h1M413 266.5h1M395 261.5h1M402 258.5h1M400 244.5h1M398 239.5h1M356 263.5h1M381 280.5h1M383 261.5h1M414 248.5h1M400 255.5h1M387 286.5h1M390 257.5h1M384 253.5h1M378 277.5h1M357 267.5h1M353 301.5h1M349 287.5h1M368 288.5h1M407 237.5h1M366 250.5h1M406 256.5h1M378 257.5h1M394 284.5h1M407 240.5h1M369 262.5h1M371 234.5h1M376 255.5h1M368 278.5h1M375 279.5h1M393 259.5h1M374 274.5h1M399 243.5h1M362 263.5h1M399 262.5h1M390 274.5h1M368 260.5h1M381 253.5h1M380 276.5h1M372 281.5h1M365 274.5h1M386 266.5h1M390 270.5h1M397 245.5h1M378 255.5h1M402 260.5h1M398 254.5h1M372 265.5h1M414 262.5h1M374 280.5h1M343 294.5h1M343 330.5h1M371 266.5h1M373 228.5h1M366 270.5h1M320 358.5h1M393 236.5h1M357 274.5h1M382 257.5h1M408 249.5h1M370 281.5h1M371 282.5h1M366 247.5h1M380 242.5h1M382 271.5h1M383 258.5h1M379 256.5h1M374 249.5h1M377 252.5h1M377 294.5h1M338 293.5h1M384 286.5h1M372 286.5h1M363 318.5h1M404 246.5h1M361 275.5h1M393 250.5h1M357 273.5h1M374 254.5h1M386 264.5h1M390 266.5h1M364 260.5h1M368 267.5h1M368 260.5h1M403 245.5h1M374 287.5h1M375 269.5h1M366 294.5h1M412 242.5h1M401 260.5h1M378 272.5h1M365 291.5h1M360 282.5h1M367 270.5h1M360 266.5h1M371 271.5h1M374 270.5h1M356 286.5h1M381 263.5h1M375 266.5h1M395 261.5h1M357 291.5h1M404 265.5h1M385 240.5h1M383 260.5h1M362 279.5h1M380 295.5h1M387 278.5h1M390 267.5h1M407 276.5h1M370 258.5h1M348 293.5h1M374 273.5h1M368 260.5h1M389 293.5h1M396 269.5h1M386 239.5h1M354 284.5h1M388 260.5h1M362 280.5h1M364 284.5h1M379 277.5h1M413 238.5h1M398 266.5h1M376 273.5h1M399 249.5h1M372 259.5h1M402 273.5h1M364 288.5h1M368 291.5h1M364 302.5h1M397 254.5h1M343 282.5h1M383 228.5h1M379 312.5h1M369 261.5h1M398 278.5h1M372 300.5h1M357 314.5h1M384 290.5h1M393 230.5h1M385 229.5h1M377 308.5h1M374 263.5h1M372 270.5h1M402 252.5h1M389 265.5h1M368 287.5h1M418 230.5h1M401 262.5h1M369 285.5h1M397 245.5h1M391 252.5h1M410 255.5h1M355 284.5h1M396 276.5h1M376 287.5h1M389 281.5h1M395 288.5h1M385 260.5h1M372 294.5h1M383 239.5h1M376 279.5h1M378 254.5h1M387 278.5h1M391 268.5h1M387 250.5h1M379 279.5h1M403 260.5h1M373 276.5h1M375 252.5h1M374 267.5h1M364 277.5h1M321 290.5h1M359 277.5h1M374 285.5h1M370 276.5h1M411 255.5h1M367 289.5h1M374 245.5h1M377 295.5h1M393 266.5h1M406 267.5h1M358 249.5h1M387 269.5h1M402 266.5h1M368 280.5h1M398 267.5h1M392 272.5h1M424 238.5h1M406 241.5h1M412 233.5h1M385 254.5h1M395 268.5h1M386 272.5h1M371 271.5h1M356 272.5h1M366 245.5h1M380 244.5h1M397 272.5h1M359 299.5h1M382 253.5h1M392 280.5h1M380 301.5h1M401 244.5h1M372 292.5h1M386 269.5h1M397 273.5h1M368 275.5h1M374 292.5h1M397 273.5h1M374 298.5h1M399 272.5h1M383 255.5h1M356 283.5h1M399 261.5h1M369 298.5h1M363 247.5h1M361 275.5h1M347 278.5h1M367 273.5h1M381 264.5h1M389 253.5h1M374 244.5h1M345 266.5h1M374 267.5h1M338 315.5h1M383 245.5h1M372 261.5h1M378 272.5h1M381 278.5h1M357 308.5h1M369 249.5h1M386 268.5h1M381 272.5h1M399 252.5h1M389 280.5h1M366 273.5h1M397 247.5h1M371 268.5h1M352 272.5h1M348 310.5h1M371 275.5h1M380 281.5h1M354 280.5h1M382 256.5h1M343 289.5h1M362 256.5h1M393 278.5h1M379 236.5h1M392 278.5h1M385 282.5h1M415 265.5h1M385 229.5h1M388 267.5h1M360 279.5h1" stroke="#f29430" stroke-width="1.0" fill="none"/>
<path d="M446 339.5h1M448 356.5h1M452 335.5h1M445 349.5h1M451 339.5h1M461 340.5h1M456 332.5h1M446 336.5h1M444 349.5h1M436 335.5h1M451 343.5h1M462 322.5h1M449 329.5h1M449 340.5h1M461 345.5h1M442 335.5h1M459 327.5h1M454 353.5h1M442 346.5h1M461 338.5h1M449 337.5h1M459 326.5h1M462 329.5h1M453 334.5h1M449 324.5h1M435 340.5h1M436 344.5h1M457 340.5h1M463 343.5h1M452 345.5h1M455 325.5h1M432 343.5h1M452 336.5h1M456 338.5h1M428 353.5h1M456 330.5h1M457 349.5h1M454 323.5h1M446 338.5h1M454 338.5h1M463 342.5h1M454 340.5h1M453 327.5h1M444 344.5h1M462 350.5h1M447 345.5h1M451 329.5h1M446 336.5h1M455 325.5h1M439 333.5h1M458 323.5h1M441 341.5h1M451 330.5h1M447 331.5h1M452 331.5h1M463 343.5h1M455 330.5h1M459 320.5h1M452 332.5h1M449 343.5h1M451 362.5h1M453 346.5h1M434 329.5h1M463 329.5h1M437 336.5h1M450 341.5h1M463 343.5h1M462 315.5h1M435 343.5h1M446 327.5h1M463 328.5h1M444 356.5h1M453 319.5h1M433 354.5h1M451 334.5h1M442 340.5h1M444 332.5h1M455 329.5h1M462 314.5h1M446 342.5h1M462 311.5h1M440 348.5h1M460 344.5h1M460 332.5h1M462 315.5h1M459 328.5h1M444 331.5h1M449 339.5h1M451 348.5h1M447 344.5h1M452 330.5h1M462 324.5h1M438 327.5h1M444 333.5h1M451 330.5h1M436 336.5h1M450 327.5h1M453 341.5h1M445 345.5h1M460 336.5h1M455 338.5h1M462 326.5h1M454 336.5h1M462 343.5h1M453 340.5h1M458 335.5h1M445 345.5h1M460 333.5h1M441 345.5h1M454 335.5h1M458 328.5h1M442 333.5h1M459 329.5h1M456 332.5h1M455 330.5h1M430 328.5h1M454 344.5h1M446 351.5h1M454 346.5h1M456 335.5h1M440 350.5h1M453 336.5h1M463 338.5h1M455 347.5h1M436 353.5h1M440 331.5h1M444 335.5h1M452 329.5h1M454 341.5h1M460 325.5h1M439 330.5h1M461 339.5h1M455 332.5h1M446 347.5h1M458 336.5h1M458 334.5h1M450 346.5h1M450 344.5h1M434 336.5h1M434 332.5h1M430 348.5h1M452 327.5h1M456 338.5h1M456 340.5h1M448 327.5h1M460 329.5h1M447 356.5h1M445 331.5h1M435 324.5h1M453 332.5h1M451 357.5h1M445 339.5h1M436 326.5h1M457 336.5h1M438 342.5h1M457 337.5h1M456 329.5h1M456 338.5h1M453 331.5h1M455 333.5h1M460 335.5h1M461 345.5h1M449 346.5h1M460 328.5h1M432 331.5h1M450 344.5h1M451 337.5h1M455 327.5h1M429 342.5h1M454 346.5h1M463 336.5h1M448 320.5h1M441 344.5h1M436 329.5h1M450 340.5h1M445 351.5h1M445 338.5h1M442 323.5h1M450 360.5h1M453 336.5h1M443 330.5h1M444 333.5h1M458 351.5h1M444 328.5h1M455 342.5h1M452 333.5h1M462 342.5h1M446 332.5h1M450 348.5h1M449 326.5h1M450 330.5h1M434 351.5h1M447 328.5h1M453 352.5h1M437 335.5h1M441 328.5h1M440 337.5h1M435 352.5h1M446 352.5h1M462 329.5h1M457 346.5h1M443 341.5h1M454 339.5h1M434 352.5h1M452 337.5h1M456 333.5h1M455 353.5h1M440 328.5h1M452 340.5h1M449 341.5h1M453 325.5h1M437 338.5h1M433 328.5h1M446 322.5h1M435 342.5h1M452 333.5h1M459 314.5h1M457 359.5h1M455 339.5h1M454 320.5h1M457 345.5h1M456 344.5h1M462 329.5h1M453 333.5h1M448 344.5h1M445 343.5h1M462 339.5h1M443 352.5h1M463 337.5h1M441 345.5h1M450 339.5h1M451 341.5h1M449 320.5h1M427 334.5h1M455 340.5h1M460 332.5h1M437 326.5h1M454 335.5h1M446 332.5h1M447 348.5h1M446 330.5h1M447 332.5h1M452 319.5h1M439 340.5h1M445 323.5h1M459 331.5h1M451 339.5h1M447 356.5h1M455 335.5h1M446 321.5h1M445 326.5h1M458 335.5h1M441 328.5h1M448 322.5h1M450 341.5h1M449 348.5h1M454 337.5h1M442 323.5h1M439 325.5h1M441 332.5h1M439 345.5h1M455 329.5h1M447 325.5h1M463 346.5h1M453 338.5h1M452 327.5h1M453 348.5h1M435 330.5h1M455 329.5h1M455 330.5h1M457 330.5h1M460 336.5h1M439 341.5h1M444 347.5h1M449 345.5h1M452 321.5h1M448 352.5h1M459 323.5h1M455 322.5h1M450 340.5h1M463 334.5h1M452 330.5h1M457 341.5h1M458 316.5h1M440 353.5h1M452 346.5h1M445 347.5h1M437 344.5h1M449 334.5h1M459 318.5h1M457 328.5h1M436 327.5h1M440 337.5h1M438 340.5h1M438 336.5h1M461 345.5h1M451 340.5h1M454 326.5h1M443 330.5h1M459 330.5h1M458 333.5h1M447 336.5h1M453 360.5h1M433 348.5h1M455 338.5h1M443 360.5h1M456 357.5h1M451 340.5h1M462 325.5h1M459 349.5h1M444 355.5h1M447 336.5h1M445 332.5h1M437 342.5h1M463 323.5h1M441 326.5h1M438 348.5h1M458 322.5h1M450 353.5h1M457 333.5h1M446 319.5h1M449 338.5h1M449 348.5h1M439 338.5h1M453 331.5h1M447 339.5h1M457 341.5h1M431 356.5h1M460 351.5h1M442 357.5h1M452 331.5h1M449 322.5h1M456 345.5h1M460 326.5h1M424 338.5h1M453 346.5h1M435 349.5h1M437 334.5h1M448 317.5h1M461 335.5h1M448 324.5h1M457 338.5h1M451 326.5h1M442 359.5h1M456 330.5h1M454 332.5h1M456 327.5h1M448 318.5h1M455 335.5h1M449 332.5h1M456 319.5h1M431 342.5h1M454 324.5h1M444 345.5h1M438 336.5h1M437 330.5h1M456 341.5h1M450 332.5h1M456 332.5h1M435 343.5h1M431 344.5h1M452 326.5h1M462 341.5h1M443 335.5h1M453 330.5h1M458 327.5h1M449 341.5h1M457 340.5h1M446 343.5h1M457 349.5h1M455 349.5h1M463 332.5h1M446 345.5h1M432 333.5h1M441 333.5h1M438 345.5h1M451 326.5h1M458 331.5h1M447 334.5h1M432 338.5h1M439 346.5h1M454 360.5h1M450 339.5h1M447 345.5h1M436 337.5h1M455 348.5h1M443 325.5h1M457 346.5h1M448 319.5h1M455 335.5h1M462 319.5h1M451 341.5h1M451 351.5h1M440 330.5h1M455 339.5h1M460 319.5h1M460 341.5h1M455 345.5h1M456 335.5h1M434 334.5h1M452 342.5h1M434 322.5h1M443 342.5h1M451 319.5h1M453 353.5h1M449 342.5h1M437 336.5h1M449 323.5h1M444 346.5h1M448 350.5h1M460 327.5h1M450 319.5h1M457 321.5h1M453 331.5h1M437 333.5h1M450 326.5h1M450 354.5h1M447 327.5h1M441 333.5h1M461 332.5h1M460 343.5h1M461 332.5h1M457 340.5h1M455 315.5h1M445 313.5h1M454 344.5h1M451 332.5h1M462 324.5h1M450 330.5h1M444 337.5h1M450 327.5h1M461 335.5h1M443 349.5h1M444 346.5h1M458 347.5h1M458 337.5h1M462 343.5h1M461 349.5h1M448 346.5h1M459 338.5h1M445 347.5h1M458 323.5h1M436 346.5h1M461 320.5h1M450 334.5h1M444 337.5h1M450 326.5h1M449 326.5h1M440 315.5h1M441 344.5h1M448 327.5h1M451 316.5h1M429 352.5h1M451 340.5h1M449 349.5h1M455 334.5h1M437 337.5h1M463 338.5h1M456 328.5h1M462 349.5h1M455 338.5h1M456 345.5h1M461 319.5h1M456 323.5h1M462 322.5h1M460 325.5h1M455 339.5h1M446 338.5h1M437 337.5h1M429 342.5h1M449 342.5h1M454 329.5h1M455 341.5h1M461 347.5h1M451 314.5h1M462 328.5h1M451 337.5h1M456 342.5h1M438 345.5h1M448 331.5h1M456 339.5h1M456 343.5h1M461 330.5h1M453 334.5h1M460 335.5h1M455 350.5h1M460 327.5h1M441 342.5h1M452 337.5h1M459 339.5h1M450 337.5h1M463 331.5h1M462 339.5h1M455 333.5h1M456 335.5h1M456 329.5h1M461 333.5h1M441 338.5h1M462 348.5h1M451 337.5h1M459 350.5h1M445 322.5h1M454 336.5h1M438 341.5h1M452 339.5h1M462 326.5h1M459 329.5h1M436 351.5h1M456 352.5h1M462 339.5h1M439 343.5h1M452 329.5h1M462 338.5h1M445 343.5h1M460 338.5h1M433 344.5h1M463 352.5h1M440 359.5h1M443 332.5h1M433 348.5h1M433 323.5h1M455 347.5h1M457 318.5h1M456 331.5h1M462 309.5h1M458 314.5h1M459 342.5h1M446 346.5h1M440 316.5h1M445 334.5h1M450 351.5h1M444 336.5h1M455 331.5h1M453 341.5h1M461 327.5h1M437 345.5h1M455 330.5h1M461 334.5h1M461 358.5h1M442 333.5h1M455 347.5h1M436 340.5h1M448 349.5h1M462 323.5h1M439 329.5h1M434 322.5h1M450 318.5h1M446 335.5h1M451 330.5h1M457 318.5h1M459 334.5h1M445 342.5h1M456 342.5h1M444 351.5h1M441 330.5h1M443 350.5h1M445 334.5h1M454 331.5h1M453 341.5h1M444 338.5h1M446 343.5h1M447 328.5h1M452 327.5h1M460 330.5h1M442 349.5h1M429 338.5h1M463 339.5h1M461 326.5h1M451 331.5h1M458 325.5h1M439 348.5h1M452 341.5h1M438 324.5h1M453 346.5h1M448 339.5h1M446 332.5h1M436 335.5h1M450 359.5h1M445 340.5h1M460 337.5h1M451 359.5h1M449 332.5h1M445 326.5h1M458 330.5h1M437 343.5h1M459 325.5h1M437 333.5h1M429 340.5h1M447 332.5h1M440 334.5h1M461 345.5h1M456 342.5h1M452 329.5h1M456 311.5h1M452 334.5h1M459 337.5h1M448 347.5h1M459 330.5h1M458 332.5h1M435 340.5h1M444 346.5h1M459 317.5h1M446 329.5h1M458 349.5h1M443 348.5h1M446 339.5h1M427 348.5h1M457 329.5h1M440 348.5h1M452 351.5h1M458 338.5h1M447 348.5h1M437 345.5h1M451 333.5h1M446 340.5h1M451 337.5h1M456 340.5h1M447 346.5h1M445 335.5h1M443 338.5h1M441 339.5h1M436 347.5h1M463 344.5h1M452 333.5h1M457 342.5h1M446 332.5h1M446 340.5h1M451 343.5h1M457 334.5h1M455 351.5h1M440 334.5h1M438 324.5h1M445 330.5h1M450 333.5h1M441 348.5h1M450 329.5h1M455 324.5h1M460 330.5h1M445 329.5h1M436 326.5h1M456 332.5h1M456 325.5h1M449 332.5h1M446 333.5h1M460 316.5h1M454 341.5h1M458 344.5h1M456 340.5h1M457 340.5h1M447 331.5h1M458 342.5h1M455 336.5h1M454 348.5h1M441 334.5h1M457 333.5h1M460 324.5h1M463 323.5h1M442 343.5h1M459 350.5h1M463 338.5h1M460 341.5h1M457 345.5h1M457 332.5h1M447 343.5h1M449 340.5h1M460 318.5h1M454 330.5h1M428 346.5h1M441 342.5h1M435 336.5h1M453 330.5h1M440 347.5h1M449 331.5h1M442 343.5h1M443 346.5h1M445 343.5h1M433 345.5h1M453 324.5h1M426 334.5h1M452 332.5h1M450 330.5h1M442 333.5h1M457 351.5h1M456 348.5h1M453 327.5h1M443 338.5h1M447 345.5h1M437 338.5h1M457 329.5h1M435 344.5h1M450 330.5h1M448 329.5h1M448 346.5h1M454 335.5h1M437 329.5h1M459 334.5h1M452 322.5h1M455 333.5h1M445 328.5h1M452 340.5h1M463 342.5h1M446 328.5h1M445 351.5h1M439 339.5h1M451 324.5h1M459 351.5h1M443 327.5h1M451 334.5h1M432 347.5h1M436 347.5h1M463 318.5h1M445 346.5h1M444 331.5h1M457 330.5h1M447 334.5h1M455 340.5h1M426 340.5h1M437 339.5h1M459 339.5h1M454 334.5h1M458 327.5h1M444 333.5h1M444 337.5h1M454 323.5h1M443 337.5h1M458 333.5h1M453 327.5h1M447 346.5h1M457 341.5h1M445 354.5h1M461 326.5h1M449 335.5h1M444 337.5h1M437 337.5h1M447 344.5h1M450 338.5h1M456 347.5h1M458 348.5h1M448 328.5h1M431 348.5h1M452 348.5h1M449 335.5h1M431 333.5h1M460 332.5h1M462 331.5h1M462 338.5h1M457 342.5h1M461 334.5h1M458 339.5h1M428 333.5h1M449 326.5h1M432 330.5h1M458 318.5h1M449 332.5h1M462 341.5h1M437 351.5h1M435 357.5h1M439 342.5h1M456 335.5h1M436 351.5h1M449 344.5h1M462 331.5h1M453 341.5h1M456 338.5h1M448 332.5h1M429 328.5h1M435 348.5h1M452 341.5h1M442 350.5h1M449 335.5h1M452 335.5h1M443 327.5h1M449 326.5h1M463 335.5h1M441 361.5h1M452 333.5h1M461 320.5h1M462 328.5h1M439 346.5h1M446 341.5h1M463 331.5h1M446 335.5h1M452 340.5h1M462 325.5h1M452 344.5h1M441 341.5h1M438 351.5h1M455 354.5h1M438 349.5h1M445 342.5h1M460 322.5h1M454 329.5h1M446 337.5h1M461 326.5h1M432 337.5h1M463 340.5h1M438 327.5h1M449 321.5h1M445 349.5h1M451 320.5h1M453 339.5h1M449 336.5h1M436 347.5h1M450 334.5h1M454 339.5h1M451 331.5h1M449 335.5h1M443 346.5h1M448 333.5h1M451 340.5h1M441 337.5h1M463 325.5h1M447 337.5h1M461 344.5h1M460 336.5h1M431 334.5h1M444 334.5h1M437 357.5h1M463 331.5h1M435 352.5h1M454 342.5h1M443 351.5h1M452 337.5h1M452 340.5h1M439 327.5h1M448 318.5h1M448 336.5h1M462 331.5h1M463 344.5h1M444 349.5h1M452 343.5h1M452 334.5h1M451 317.5h1M442 326.5h1M454 332.5h1M450 333.5h1M456 334.5h1M450 346.5h1M462 332.5h1M462 323.5h1M460 341.5h1M452 340.5h1M463 341.5h1M447 342.5h1M435 340.5h1M460 340.5h1M449 339.5h1M437 334.5h1M447 339.5h1M455 335.5h1M461 323.5h1M452 336.5h1M453 327.5h1M456 325.5h1M456 333.5h1M456 330.5h1M456 326.5h1M439 333.5h1M451 345.5h1M450 347.5h1M451 337.5h1M448 338.5h1M458 332.5h1M450 339.5h1M438 334.5h1M445 347.5h1M454 355.5h1M453 336.5h1M444 347.5h1M441 357.5h1M458 337.5h1M453 342.5h1M424 336.5h1M453 332.5h1M463 344.5h1M441 348.5h1M452 349.5h1M442 337.5h1M425 338.5h1M442 343.5h1M451 357.5h1M449 341.5h1M443 332.5h1M446 324.5h1M460 336.5h1M458 334.5h1M459 344.5h1M453 355.5h1M457 339.5h1M449 325.5h1M447 335.5h1M455 332.5h1M463 335.5h1M453 340.5h1M436 343.5h1M458 324.5h1M437 346.5h1M433 349.5h1M452 355.5h1M455 351.5h1M460 339.5h1M445 345.5h1M450 337.5h1M457 344.5h1M439 335.5h1M453 347.5h1M435 346.5h1M428 337.5h1M441 328.5h1M457 343.5h1M456 325.5h1M433 348.5h1M452 322.5h1M462 330.5h1M455 320.5h1M439 341.5h1M442 330.5h1M447 342.5h1M452 350.5h1M454 342.5h1M447 343.5h1M452 313.5h1M462 341.5h1M434 355.5h1M436 337.5h1M454 329.5h1M438 355.5h1M450 320.5h1M461 322.5h1M453 332.5h1M453 323.5h1M453 337.5h1M447 335.5h1M453 337.5h1M436 336.5h1M451 358.5h1M438 340.5h1M443 336.5h1M440 348.5h1M443 328.5h1M447 323.5h1M453 328.5h1M449 344.5h1M453 316.5h1M457 338.5h1M455 349.5h1M460 329.5h1M445 316.5h1M462 321.5h1M459 327.5h1M462 336.5h1M453 337.5h1M447 340.5h1M446 335.5h1M448 347.5h1M458 326.5h1M434 336.5h1M453 338.5h1M442 337.5h1M446 343.5h1M454 333.5h1M449 348.5h1M449 341.5h1M456 337.5h1M456 324.5h1M453 322.5h1M451 359.5h1M456 343.5h1M441 332.5h1M444 356.5h1M455 358.5h1M446 345.5h1M430 341.5h1M458 311.5h1M461 330.5h1M445 337.5h1M440 338.5h1M451 336.5h1M443 338.5h1M456 354.5h1M458 326.5h1M441 336.5h1M460 350.5h1M451 349.5h1M460 329.5h1M450 334.5h1M462 323.5h1M432 333.5h1M443 335.5h1M438 320.5h1M456 338.5h1M454 346.5h1M443 334.5h1M442 328.5h1M444 352.5h1M449 339.5h1M448 321.5h1M443 341.5h1M458 321.5h1M455 345.5h1M458 330.5h1M434 335.5h1M446 338.5h1M458 342.5h1M457 337.5h1M455 328.5h1M461 326.5h1M442 333.5h1M443 344.5h1M459 347.5h1M457 321.5h1M447 335.5h1M437 348.5h1M453 350.5h1M434 352.5h1M447 329.5h1M455 327.5h1M443 345.5h1M451 336.5h1M456 329.5h1M448 333.5h1M437 336.5h1M458 351.5h1M454 314.5h1M444 344.5h1M463 328.5h1M461 318.5h1M445 320.5h1M454 344.5h1M461 330.5h1M447 338.5h1M454 319.5h1M457 328.5h1M440 319.5h1M444 333.5h1M447 347.5h1M455 341.5h1M442 345.5h1M452 337.5h1M459 339.5h1M448 336.5h1M453 325.5h1M434 337.5h1M449 330.5h1M442 339.5h1M438 329.5h1M442 326.5h1M444 336.5h1M458 344.5h1M459 349.5h1M451 338.5h1M441 359.5h1M453 327.5h1M449 355.5h1M462 329.5h1M438 342.5h1M456 347.5h1M436 327.5h1M443 338.5h1M443 337.5h1M439 345.5h1M453 334.5h1M446 359.5h1M462 326.5h1M457 325.5h1M434 359.5h1M443 340.5h1M462 343.5h1M449 338.5h1M459 313.5h1M457 339.5h1M440 342.5h1M430 330.5h1M427 338.5h1M457 338.5h1M460 342.5h1M449 346.5h1M450 344.5h1M460 325.5h1M454 317.5h1M456 328.5h1M451 326.5h1M452 355.5h1M458 342.5h1M446 332.5h1M463 317.5h1M458 338.5h1M462 341.5h1M457 315.5h1M443 343.5h1M449 341.5h1M440 324.5h1M444 345.5h1M463 344.5h1M438 334.5h1M459 338.5h1M462 347.5h1M448 327.5h1M463 339.5h1M453 343.5h1M457 325.5h1M443 329.5h1M451 333.5h1M456 322.5h1M448 323.5h1M445 342.5h1M463 346.5h1M453 320.5h1M447 345.5h1M446 337.5h1M454 321.5h1M452 330.5h1M449 352.5h1M450 320.5h1M450 332.5h1M449 339.5h1M453 337.5h1M456 321.5h1M453 330.5h1M449 338.5h1M448 337.5h1M450 335.5h1M437 346.5h1M446 341.5h1M448 337.5h1M425 338.5h1M462 350.5h1M449 334.5h1M456 339.5h1M453 336.5h1M432 342.5h1M440 341.5h1M456 328.5h1M445 332.5h1M454 329.5h1M458 337.5h1M442 349.5h1M442 345.5h1M449 351.5h1M438 351.5h1M447 353.5h1M457 341.5h1M453 322.5h1M455 352.5h1M441 340.5h1M451 326.5h1M447 345.5h1M441 341.5h1M459 329.5h1M454 331.5h1M450 328.5h1M451 338.5h1M436 348.5h1M457 326.5h1M458 337.5h1M460 326.5h1M453 322.5h1M437 356.5h1M447 327.5h1M449 349.5h1M433 347.5h1M451 330.5h1M439 333.5h1M458 319.5h1M457 346.5h1M455 343.5h1M431 329.5h1M450 329.5h1M458 335.5h1M445 345.5h1M448 340.5h1M454 326.5h1M442 347.5h1M454 330.5h1M438 345.5h1M455 341.5h1M458 318.5h1M452 333.5h1M436 340.5h1M453 327.5h1M463 318.5h1M460 329.5h1M446 330.5h1M424 338.5h1M426 341.5h1M457 344.5h1M452 349.5h1M451 334.5h1M441 341.5h1M441 340.5h1M462 343.5h1M454 335.5h1M461 312.5h1M451 349.5h1M456 330.5h1M441 339.5h1M451 342.5h1M448 333.5h1M457 357.5h1M451 339.5h1M449 348.5h1M435 338.5h1M447 356.5h1M454 344.5h1M445 352.5h1M443 343.5h1M460 330.5h1M450 338.5h1M439 327.5h1M456 331.5h1M449 330.5h1M457 343.5h1M425 351.5h1M452 322.5h1M463 348.5h1M439 319.5h1M444 337.5h1M449 343.5h1M458 342.5h1M460 339.5h1M455 334.5h1M444 338.5h1M446 334.5h1M446 340.5h1M436 335.5h1M447 337.5h1M439 326.5h1M444 340.5h1M447 349.5h1M451 339.5h1M441 350.5h1M459 324.5h1M442 322.5h1M454 337.5h1M458 332.5h1M449 326.5h1M443 334.5h1M442 349.5h1M434 357.5h1M438 346.5h1M457 327.5h1M463 319.5h1M446 341.5h1M453 328.5h1M439 324.5h1M459 337.5h1M447 346.5h1M450 343.5h1M448 342.5h1M455 346.5h1M443 337.5h1M427 337.5h1M447 331.5h1M462 341.5h1M460 330.5h1M447 335.5h1M447 341.5h1M452 346.5h1M463 326.5h1M433 342.5h1M431 340.5h1M458 318.5h1M445 327.5h1M448 338.5h1M458 343.5h1M449 335.5h1M442 352.5h1M458 324.5h1M430 356.5h1M447 339.5h1M447 334.5h1M450 332.5h1M453 320.5h1M454 338.5h1M457 350.5h1M462 328.5h1M454 350.5h1M455 347.5h1M448 336.5h1M456 336.5h1M441 324.5h1M435 344.5h1M449 339.5h1M462 342.5h1M449 337.5h1M453 330.5h1M448 323.5h1M434 344.5h1M434 347.5h1M449 335.5h1M434 346.5h1M462 334.5h1M458 327.5h1M456 327.5h1M445 339.5h1M457 335.5h1M463 344.5h1M440 321.5h1M448 343.5h1M449 337.5h1M445 336.5h1M455 343.5h1M447 340.5h1M457 325.5h1M462 336.5h1M445 351.5h1M435 346.5h1M458 323.5h1M442 330.5h1M450 332.5h1M453 339.5h1M456 340.5h1M442 341.5h1M463 331.5h1M444 338.5h1M437 337.5h1M451 331.5h1M458 322.5h1M459 339.5h1M460 323.5h1M442 332.5h1M463 341.5h1M430 355.5h1M459 347.5h1M446 344.5h1M435 347.5h1M459 330.5h1M453 336.5h1M450 321.5h1M434 340.5h1M454 332.5h1M460 331.5h1M443 349.5h1M456 336.5h1M443 336.5h1M448 346.5h1M428 346.5h1M456 325.5h1M457 330.5h1M441 350.5h1M448 316.5h1M463 335.5h1M451 342.5h1M460 347.5h1M460 330.5h1M455 326.5h1M463 311.5h1M438 352.5h1M445 323.5h1M449 335.5h1M447 326.5h1M450 345.5h1M452 329.5h1M437 341.5h1M444 345.5h1M444 346.5h1M451 329.5h1M433 336.5h1M451 339.5h1M456 315.5h1M461 347.5h1M453 346.5h1M441 328.5h1M454 335.5h1M455 355.5h1M450 331.5h1M458 349.5h1M451 332.5h1M434 322.5h1M456 339.5h1M455 333.5h1M434 355.5h1M445 348.5h1M435 340.5h1M445 328.5h1M453 326.5h1M432 341.5h1M461 332.5h1M455 348.5h1M457 343.5h1M460 325.5h1M449 341.5h1M442 342.5h1M445 350.5h1M448 350.5h1M451 330.5h1M458 333.5h1M448 341.5h1M448 332.5h1M439 324.5h1M437 344.5h1M453 336.5h1M458 335.5h1M452 331.5h1M446 343.5h1M451 334.5h1M443 336.5h1M453 343.5h1M428 339.5h1M449 314.5h1M453 343.5h1M460 350.5h1M455 325.5h1M436 331.5h1M463 317.5h1M452 356.5h1M440 322.5h1M433 331.5h1M441 341.5h1M449 336.5h1M445 328.5h1M435 324.5h1M448 326.5h1M442 330.5h1M463 331.5h1M452 325.5h1M443 342.5h1M440 349.5h1M454 348.5h1M458 345.5h1M460 333.5h1M450 350.5h1M440 342.5h1M457 348.5h1M458 324.5h1M442 340.5h1M453 346.5h1M454 309.5h1M444 338.5h1M455 332.5h1M443 328.5h1M433 336.5h1M445 352.5h1M448 349.5h1M456 352.5h1M444 343.5h1M451 323.5h1M455 345.5h1M440 342.5h1M444 345.5h1M454 312.5h1M456 334.5h1M453 343.5h1M433 336.5h1M462 350.5h1M453 335.5h1M455 325.5h1M463 348.5h1M449 331.5h1M438 328.5h1M459 343.5h1M454 328.5h1M453 342.5h1M441 350.5h1M433 331.5h1M447 338.5h1M459 332.5h1M450 338.5h1M448 352.5h1M459 347.5h1M453 339.5h1M453 336.5h1M439 327.5h1M449 331.5h1M460 336.5h1M435 351.5h1M438 323.5h1M433 330.5h1M442 334.5h1M455 347.5h1M462 333.5h1M453 330.5h1M440 341.5h1M452 329.5h1M436 346.5h1M430 340.5h1M463 322.5h1M463 328.5h1M456 338.5h1M457 333.5h1M457 316.5h1M458 336.5h1M449 344.5h1M433 336.5h1M440 361.5h1M442 344.5h1M451 346.5h1M442 351.5h1M460 322.5h1M460 316.5h1M452 333.5h1M451 323.5h1M457 343.5h1M457 335.5h1M457 331.5h1M454 331.5h1M440 348.5h1M451 345.5h1M456 340.5h1M442 324.5h1M425 343.5h1M458 342.5h1M459 319.5h1M449 333.5h1M444 354.5h1M463 326.5h1M438 351.5h1M439 328.5h1M456 317.5h1M463 337.5h1M426 352.5h1M449 315.5h1M451 351.5h1M457 346.5h1M442 351.5h1M444 313.5h1M458 336.5h1M445 332.5h1M452 329.5h1M459 326.5h1M461 310.5h1M430 334.5h1M462 349.5h1M450 334.5h1M463 314.5h1M436 337.5h1M443 339.5h1M443 338.5h1M442 349.5h1M450 336.5h1M448 338.5h1M458 340.5h1M453 339.5h1M449 320.5h1M427 351.5h1M460 319.5h1M451 332.5h1M447 328.5h1M450 343.5h1M461 327.5h1M456 347.5h1M463 325.5h1M440 342.5h1M446 353.5h1M459 326.5h1M452 346.5h1M443 348.5h1M459 356.5h1M448 343.5h1M432 337.5h1M434 351.5h1M451 334.5h1M453 332.5h1M455 336.5h1M457 326.5h1M447 314.5h1M436 354.5h1M453 336.5h1M441 337.5h1M449 334.5h1M431 335.5h1M456 330.5h1M454 340.5h1M442 334.5h1M447 358.5h1M460 327.5h1M449 317.5h1M449 346.5h1M444 344.5h1M455 350.5h1M463 331.5h1M438 351.5h1M438 344.5h1M448 319.5h1M439 351.5h1M446 333.5h1M446 338.5h1M436 340.5h1M447 324.5h1M455 325.5h1M440 342.5h1M440 339.5h1M456 322.5h1M435 344.5h1M439 348.5h1M453 332.5h1M454 350.5h1M457 339.5h1M460 347.5h1M450 321.5h1M461 312.5h1M451 348.5h1M449 340.5h1M440 324.5h1M458 318.5h1M438 323.5h1M442 330.5h1M463 324.5h1M448 339.5h1M438 336.5h1M448 325.5h1M456 329.5h1M455 333.5h1M438 338.5h1M440 322.5h1M455 326.5h1M458 330.5h1M443 339.5h1M442 329.5h1M459 342.5h1M456 345.5h1M450 319.5h1M456 330.5h1M444 332.5h1M446 329.5h1M461 331.5h1M462 350.5h1M428 332.5h1M434 346.5h1M441 337.5h1M454 330.5h1M461 328.5h1M457 329.5h1M459 326.5h1M448 326.5h1M451 351.5h1M456 331.5h1M446 322.5h1M461 326.5h1M444 342.5h1M457 334.5h1M451 344.5h1M444 337.5h1M441 328.5h1M449 342.5h1M442 337.5h1M462 312.5h1M445 335.5h1M457 338.5h1M455 360.5h1M440 339.5h1M441 346.5h1M463 328.5h1M451 329.5h1M432 332.5h1M463 311.5h1M447 338.5h1M452 331.5h1M449 340.5h1M444 352.5h1M443 331.5h1M438 355.5h1M450 333.5h1M447 333.5h1M449 338.5h1M450 337.5h1M439 342.5h1M454 328.5h1M453 328.5h1M442 341.5h1M461 327.5h1M458 346.5h1M460 330.5h1M446 331.5h1M462 326.5h1M453 335.5h1M445 340.5h1M456 344.5h1M437 333.5h1M461 351.5h1M447 344.5h1M451 331.5h1M453 348.5h1M454 348.5h1M458 333.5h1M435 359.5h1M459 342.5h1M436 351.5h1M463 330.5h1M447 325.5h1M458 334.5h1M447 340.5h1M449 339.5h1M441 358.5h1M454 347.5h1M463 355.5h1M449 346.5h1M455 336.5h1M461 319.5h1M439 337.5h1M443 323.5h1M452 337.5h1M448 338.5h1M454 316.5h1M456 325.5h1M448 334.5h1M463 339.5h1M448 346.5h1M444 333.5h1M462 318.5h1M456 318.5h1M461 312.5h1M452 339.5h1M459 337.5h1M462 325.5h1M458 341.5h1M457 341.5h1M462 321.5h1M458 336.5h1M440 332.5h1M444 325.5h1M446 321.5h1M450 324.5h1M455 337.5h1M448 324.5h1M454 340.5h1M446 332.5h1M460 337.5h1M453 323.5h1M455 325.5h1M451 342.5h1M438 336.5h1M434 352.5h1M461 331.5h1M445 339.5h1M455 348.5h1M456 318.5h1M457 319.5h1M455 350.5h1M446 339.5h1M456 336.5h1M457 331.5h1M444 340.5h1M454 341.5h1M431 357.5h1M431 345.5h1M449 321.5h1M447 341.5h1M448 331.5h1M450 342.5h1M440 333.5h1M447 330.5h1M455 348.5h1M461 333.5h1M452 333.5h1M442 346.5h1M443 344.5h1M456 341.5h1M445 341.5h1M453 351.5h1M450 317.5h1M439 333.5h1M442 350.5h1M461 324.5h1M460 335.5h1M438 334.5h1M449 337.5h1M450 338.5h1M445 350.5h1M442 340.5h1M460 345.5h1M459 334.5h1M444 332.5h1M454 318.5h1M457 339.5h1M447 340.5h1M448 332.5h1M461 349.5h1M451 323.5h1M442 325.5h1M462 330.5h1M461 328.5h1M454 347.5h1M427 345.5h1M453 333.5h1M460 339.5h1M463 321.5h1M435 354.5h1M451 318.5h1M448 332.5h1M457 333.5h1M447 319.5h1M459 330.5h1M454 329.5h1M447 352.5h1M452 327.5h1M449 337.5h1M461 339.5h1M441 356.5h1M455 322.5h1M456 333.5h1M449 331.5h1M446 332.5h1M455 316.5h1M450 322.5h1M460 334.5h1M460 355.5h1M457 333.5h1M461 327.5h1M458 351.5h1M459 332.5h1M455 334.5h1M453 334.5h1M459 345.5h1M447 340.5h1M436 323.5h1M459 333.5h1M438 349.5h1M440 327.5h1M449 317.5h1M449 345.5h1M441 338.5h1M448 331.5h1M461 334.5h1M445 333.5h1M459 334.5h1M459 350.5h1M448 334.5h1M451 332.5h1M461 331.5h1M445 332.5h1M447 338.5h1M450 325.5h1M453 335.5h1M456 335.5h1M449 352.5h1M453 342.5h1M450 360.5h1M441 345.5h1M458 330.5h1M448 316.5h1M441 329.5h1M459 344.5h1M444 332.5h1M454 338.5h1M459 326.5h1M453 337.5h1M460 336.5h1M457 334.5h1M459 325.5h1M458 340.5h1M451 344.5h1M459 331.5h1M449 335.5h1M444 335.5h1M453 320.5h1M435 336.5h1M456 321.5h1M457 345.5h1M456 332.5h1M447 324.5h1M439 328.5h1M441 331.5h1M441 342.5h1M458 337.5h1M458 336.5h1M447 333.5h1M454 330.5h1M451 333.5h1M447 337.5h1M448 321.5h1M455 346.5h1M454 334.5h1M440 325.5h1M455 338.5h1M454 338.5h1M458 322.5h1M461 345.5h1M437 342.5h1M457 326.5h1M447 361.5h1M441 347.5h1M461 329.5h1M451 333.5h1M457 330.5h1M439 339.5h1M445 344.5h1M462 322.5h1M461 345.5h1M463 321.5h1M449 346.5h1M463 333.5h1M435 346.5h1M460 328.5h1M453 324.5h1M433 346.5h1M448 353.5h1M455 351.5h1M450 319.5h1M462 321.5h1M440 344.5h1M457 349.5h1M457 324.5h1M436 337.5h1M452 318.5h1M462 332.5h1M462 328.5h1M459 340.5h1M461 335.5h1M463 339.5h1M463 328.5h1M455 342.5h1M454 345.5h1M447 343.5h1M457 329.5h1M456 322.5h1M443 334.5h1M460 333.5h1M436 351.5h1M459 333.5h1M453 330.5h1M454 335.5h1M460 334.5h1M459 343.5h1M443 328.5h1M454 317.5h1M444 322.5h1M463 321.5h1M453 356.5h1M450 337.5h1M441 332.5h1M453 337.5h1M459 319.5h1M446 338.5h1M462 317.5h1M452 347.5h1M456 332.5h1M454 358.5h1M440 357.5h1M453 331.5h1M441 335.5h1M451 330.5h1M445 339.5h1M450 340.5h1M452 346.5h1M455 334.5h1M453 324.5h1M445 347.5h1M463 323.5h1M444 321.5h1M450 345.5h1M438 335.5h1M456 339.5h1M446 328.5h1M450 333.5h1M448 359.5h1M447 355.5h1M448 325.5h1M448 331.5h1M432 345.5h1M452 333.5h1M446 342.5h1M427 342.5h1M451 332.5h1M453 338.5h1M458 338.5h1M451 346.5h1M460 340.5h1M448 339.5h1M444 320.5h1M444 328.5h1M450 328.5h1M462 335.5h1M451 315.5h1M460 356.5h1M448 357.5h1M457 359.5h1M455 346.5h1M459 332.5h1M456 348.5h1M444 339.5h1M448 337.5h1M454 329.5h1M451 341.5h1M451 324.5h1M447 339.5h1M463 340.5h1M463 328.5h1M460 332.5h1M456 347.5h1M453 342.5h1M460 352.5h1M447 315.5h1M437 347.5h1M434 341.5h1M442 331.5h1M456 311.5h1M451 331.5h1M446 330.5h1M450 336.5h1M454 339.5h1M448 355.5h1M434 329.5h1M454 338.5h1M439 358.5h1M463 334.5h1M455 323.5h1M444 345.5h1M448 348.5h1M447 325.5h1M458 342.5h1M440 336.5h1M452 336.5h1M446 348.5h1M431 339.5h1M457 325.5h1M453 326.5h1M440 345.5h1M454 337.5h1M463 318.5h1M436 319.5h1M444 344.5h1M437 333.5h1M438 325.5h1M453 349.5h1M439 357.5h1M458 341.5h1M448 345.5h1M434 332.5h1M450 352.5h1M432 346.5h1M437 338.5h1M447 335.5h1M434 339.5h1M457 324.5h1M449 351.5h1M457 352.5h1M446 329.5h1M441 338.5h1M447 320.5h1M438 346.5h1M453 339.5h1M438 343.5h1M428 335.5h1M458 323.5h1M428 344.5h1M454 332.5h1M448 332.5h1M461 334.5h1M449 340.5h1M463 316.5h1M448 315.5h1M460 336.5h1M444 352.5h1M459 345.5h1M450 332.5h1M460 339.5h1M438 333.5h1M440 331.5h1M448 341.5h1M447 353.5h1M455 334.5h1M446 342.5h1M440 330.5h1M435 351.5h1M460 344.5h1M462 323.5h1M439 333.5h1M450 341.5h1M441 327.5h1M457 332.5h1M456 352.5h1M462 327.5h1M462 336.5h1M442 347.5h1M448 334.5h1M456 352.5h1M445 348.5h1M461 344.5h1M441 345.5h1M447 332.5h1M460 333.5h1M457 340.5h1M457 330.5h1M456 328.5h1M445 338.5h1M429 345.5h1M448 351.5h1M441 359.5h1M462 348.5h1M459 330.5h1M453 329.5h1M447 337.5h1M440 343.5h1M460 335.5h1M462 332.5h1M451 344.5h1M460 329.5h1M452 343.5h1M438 358.5h1M444 351.5h1M449 339.5h1M454 334.5h1M455 322.5h1M451 320.5h1M461 331.5h1M456 333.5h1M449 345.5h1M458 333.5h1M456 347.5h1M463 336.5h1M453 336.5h1M451 330.5h1M440 353.5h1M460 338.5h1M444 333.5h1M458 337.5h1M448 337.5h1M441 330.5h1M461 335.5h1M451 335.5h1M451 348.5h1M450 319.5h1M449 345.5h1M455 340.5h1M463 333.5h1M457 350.5h1M459 346.5h1M449 339.5h1M463 319.5h1M459 333.5h1M444 333.5h1M455 336.5h1M445 341.5h1M459 334.5h1M438 352.5h1M444 334.5h1M459 355.5h1M442 326.5h1M446 355.5h1M453 331.5h1M448 339.5h1M437 335.5h1M442 334.5h1M440 347.5h1M454 329.5h1M450 322.5h1M433 333.5h1M453 331.5h1M453 336.5h1M449 334.5h1M442 336.5h1M442 342.5h1M452 360.5h1M433 355.5h1M445 349.5h1M429 352.5h1M461 333.5h1M443 344.5h1M462 332.5h1M445 333.5h1M460 342.5h1M445 339.5h1M453 346.5h1M450 330.5h1M447 336.5h1M457 331.5h1M436 338.5h1M442 337.5h1M432 337.5h1M457 342.5h1M449 323.5h1M446 335.5h1M452 340.5h1M457 335.5h1M452 335.5h1M451 341.5h1M451 324.5h1M459 331.5h1M440 330.5h1M455 344.5h1M460 330.5h1M459 342.5h1M444 333.5h1M456 335.5h1M460 343.5h1M447 331.5h1M443 332.5h1M457 333.5h1M452 345.5h1M440 342.5h1M436 329.5h1M457 344.5h1M454 354.5h1M441 345.5h1M447 359.5h1M443 340.5h1M461 325.5h1M441 335.5h1M446 336.5h1M434 342.5h1M452 335.5h1M426 338.5h1M463 333.5h1M451 345.5h1M450 320.5h1M444 335.5h1M440 346.5h1M445 340.5h1M459 341.5h1M460 351.5h1M433 344.5h1M452 342.5h1M446 347.5h1M454 329.5h1M441 328.5h1M458 339.5h1M452 340.5h1M443 335.5h1M438 345.5h1M439 337.5h1M439 361.5h1M449 335.5h1M447 320.5h1M458 336.5h1M437 336.5h1M444 338.5h1M451 325.5h1M454 353.5h1M460 328.5h1M461 328.5h1M449 334.5h1M448 339.5h1M451 339.5h1M443 339.5h1M456 340.5h1M442 340.5h1M452 344.5h1M447 330.5h1M458 329.5h1M454 334.5h1M436 333.5h1M457 344.5h1M439 341.5h1M437 341.5h1M445 332.5h1M427 347.5h1M451 339.5h1M439 328.5h1M448 332.5h1M433 358.5h1M435 335.5h1M453 346.5h1M458 330.5h1M434 347.5h1M452 342.5h1M447 360.5h1M447 337.5h1M443 343.5h1M457 339.5h1M452 351.5h1M451 345.5h1M463 349.5h1M438 327.5h1M448 343.5h1M463 315.5h1M454 337.5h1M438 329.5h1M462 338.5h1M446 339.5h1M456 344.5h1M452 319.5h1M442 328.5h1M437 337.5h1M450 336.5h1M440 322.5h1M441 322.5h1M440 332.5h1M433 347.5h1M456 316.5h1M458 336.5h1M455 322.5h1M445 341.5h1M446 333.5h1M457 325.5h1M457 347.5h1M455 333.5h1M444 350.5h1M449 342.5h1M455 321.5h1M460 337.5h1M427 352.5h1M446 345.5h1M455 337.5h1M449 350.5h1M451 321.5h1M447 332.5h1M449 340.5h1M448 325.5h1M453 354.5h1M449 342.5h1M436 327.5h1M448 334.5h1M454 326.5h1M436 330.5h1M458 325.5h1M437 331.5h1M456 340.5h1M449 349.5h1M449 334.5h1M453 335.5h1M450 320.5h1M448 329.5h1M461 324.5h1M461 341.5h1M453 326.5h1M453 327.5h1M450 326.5h1M450 352.5h1M458 321.5h1M440 329.5h1M443 324.5h1M441 336.5h1M460 322.5h1M452 343.5h1M427 331.5h1M445 339.5h1M441 332.5h1M448 331.5h1M449 337.5h1M454 346.5h1M447 331.5h1M463 326.5h1M436 329.5h1M451 332.5h1M450 341.5h1M430 335.5h1M460 334.5h1M462 332.5h1M459 352.5h1M449 340.5h1M459 337.5h1M432 338.5h1M438 330.5h1M432 337.5h1M440 340.5h1M441 326.5h1M432 351.5h1M447 340.5h1M463 328.5h1M457 331.5h1M440 347.5h1M451 314.5h1M450 321.5h1M452 326.5h1M456 329.5h1M454 317.5h1M463 336.5h1M451 326.5h1M454 325.5h1M456 333.5h1M463 347.5h1M461 346.5h1M443 327.5h1M460 341.5h1M456 324.5h1M452 337.5h1M454 338.5h1M450 327.5h1M438 330.5h1M440 350.5h1M462 314.5h1M449 340.5h1M459 347.5h1M444 345.5h1M449 358.5h1M455 343.5h1M442 336.5h1M435 367.5h1M417 341.5h1M458 333.5h1M421 332.5h1M430 351.5h1M429 346.5h1M435 337.5h1M453 345.5h1M454 356.5h1M441 350.5h1M452 363.5h1M446 363.5h1M444 346.5h1M437 343.5h1M442 333.5h1M426 335.5h1M447 353.5h1M458 357.5h1M427 333.5h1M440 345.5h1M451 339.5h1M453 361.5h1M450 357.5h1M439 337.5h1M452 350.5h1M409 346.5h1M456 353.5h1M435 330.5h1M439 370.5h1M462 339.5h1M449 352.5h1M447 354.5h1M444 337.5h1M441 335.5h1M440 365.5h1M444 332.5h1M443 325.5h1M426 336.5h1M454 340.5h1M450 348.5h1M453 340.5h1M449 337.5h1M452 353.5h1M444 341.5h1M428 350.5h1M454 338.5h1M436 368.5h1M457 362.5h1M445 350.5h1M418 354.5h1M421 344.5h1M447 366.5h1M427 371.5h1M437 357.5h1M436 340.5h1M431 361.5h1M449 353.5h1M445 346.5h1M444 350.5h1M463 349.5h1M437 336.5h1M414 344.5h1M437 335.5h1M433 343.5h1M436 337.5h1M446 336.5h1M418 358.5h1M455 363.5h1M445 341.5h1M428 346.5h1M426 363.5h1M453 326.5h1M454 338.5h1M434 367.5h1M430 337.5h1M441 359.5h1M439 342.5h1M438 364.5h1M459 354.5h1M443 338.5h1M459 345.5h1M447 349.5h1M431 348.5h1M443 322.5h1M454 343.5h1M443 342.5h1M452 345.5h1M431 327.5h1M428 350.5h1M448 354.5h1M458 344.5h1M410 340.5h1M462 332.5h1M417 331.5h1M458 349.5h1M427 343.5h1M454 342.5h1M436 348.5h1M446 340.5h1M440 333.5h1M447 345.5h1M447 336.5h1M448 351.5h1M444 351.5h1M455 329.5h1M435 337.5h1M444 343.5h1M440 320.5h1M441 357.5h1M449 360.5h1M439 330.5h1M442 338.5h1M447 351.5h1M430 329.5h1M448 343.5h1M436 311.5h1M440 370.5h1M440 356.5h1M439 335.5h1M438 327.5h1M443 320.5h1M453 345.5h1M439 346.5h1M430 344.5h1M443 331.5h1M439 352.5h1M434 350.5h1M430 335.5h1M446 356.5h1M443 335.5h1M417 355.5h1M462 337.5h1M461 323.5h1M439 336.5h1M452 353.5h1M455 337.5h1M444 340.5h1M454 351.5h1M438 342.5h1M427 336.5h1M450 321.5h1M453 342.5h1M433 338.5h1M441 346.5h1M422 354.5h1M453 346.5h1M425 367.5h1M454 326.5h1M429 332.5h1M443 341.5h1M451 353.5h1M451 362.5h1M425 344.5h1M446 332.5h1M439 326.5h1M437 351.5h1M456 344.5h1M455 345.5h1M427 337.5h1M432 322.5h1M432 363.5h1M418 365.5h1M456 340.5h1M440 335.5h1M463 343.5h1M441 331.5h1M445 335.5h1M447 337.5h1M445 328.5h1M457 348.5h1M437 358.5h1M440 323.5h1M422 357.5h1M452 348.5h1M456 323.5h1M442 355.5h1M446 328.5h1M430 339.5h1M456 337.5h1M430 322.5h1M437 345.5h1M446 335.5h1M451 325.5h1M433 360.5h1M449 357.5h1M445 337.5h1M453 349.5h1M444 361.5h1M450 354.5h1M431 337.5h1M443 315.5h1M448 339.5h1M463 333.5h1M435 342.5h1M431 338.5h1M447 340.5h1M461 340.5h1M443 332.5h1M445 349.5h1M431 361.5h1M446 353.5h1M452 348.5h1M459 338.5h1M430 352.5h1M447 332.5h1M452 345.5h1M461 339.5h1M427 352.5h1M431 333.5h1M445 348.5h1M448 365.5h1M433 335.5h1M426 346.5h1M437 340.5h1M450 374.5h1M449 356.5h1M437 342.5h1M448 343.5h1M447 345.5h1M438 331.5h1M450 356.5h1M433 357.5h1M441 341.5h1M449 351.5h1M447 345.5h1M455 347.5h1M447 345.5h1M431 335.5h1M450 359.5h1M438 356.5h1M437 357.5h1M447 346.5h1M436 341.5h1M422 331.5h1M438 326.5h1M435 310.5h1M453 361.5h1M443 354.5h1M449 303.5h1M445 339.5h1M437 342.5h1M456 338.5h1M421 334.5h1" stroke="#c41632" stroke-width="1.0" fill="none"/>
<rect x="283.0" y="225.4" width="181.5" height="174.8" fill="none" stroke="#9a9a9a" stroke-width="0.9"/><line x1="283.0" y1="400.2" x2="283.0" y2="404.0" stroke="#9a9a9a" stroke-width="0.8"/><text x="283.3" y="414.0" font-size="7.6" fill="#4a4a4a" text-anchor="middle">10<tspan font-size="5.2" dy="-3.3">1</tspan></text><line x1="278.9" y1="400.2" x2="283.0" y2="400.2" stroke="#9a9a9a" stroke-width="0.8"/><text x="275.2" y="402.9" font-size="7.6" fill="#4a4a4a" text-anchor="end">10<tspan font-size="5.2" dy="-3.3">1</tspan></text><line x1="324.0" y1="400.2" x2="324.0" y2="404.0" stroke="#9a9a9a" stroke-width="0.8"/><text x="324.3" y="414.0" font-size="7.6" fill="#4a4a4a" text-anchor="middle">10<tspan font-size="5.2" dy="-3.3">2</tspan></text><line x1="278.9" y1="360.8" x2="283.0" y2="360.8" stroke="#9a9a9a" stroke-width="0.8"/><text x="275.2" y="363.5" font-size="7.6" fill="#4a4a4a" text-anchor="end">10<tspan font-size="5.2" dy="-3.3">2</tspan></text><line x1="365.0" y1="400.2" x2="365.0" y2="404.0" stroke="#9a9a9a" stroke-width="0.8"/><text x="365.3" y="414.0" font-size="7.6" fill="#4a4a4a" text-anchor="middle">10<tspan font-size="5.2" dy="-3.3">3</tspan></text><line x1="278.9" y1="321.4" x2="283.0" y2="321.4" stroke="#9a9a9a" stroke-width="0.8"/><text x="275.2" y="324.1" font-size="7.6" fill="#4a4a4a" text-anchor="end">10<tspan font-size="5.2" dy="-3.3">3</tspan></text><line x1="406.0" y1="400.2" x2="406.0" y2="404.0" stroke="#9a9a9a" stroke-width="0.8"/><text x="406.3" y="414.0" font-size="7.6" fill="#4a4a4a" text-anchor="middle">10<tspan font-size="5.2" dy="-3.3">4</tspan></text><line x1="278.9" y1="282.0" x2="283.0" y2="282.0" stroke="#9a9a9a" stroke-width="0.8"/><text x="275.2" y="284.7" font-size="7.6" fill="#4a4a4a" text-anchor="end">10<tspan font-size="5.2" dy="-3.3">4</tspan></text><line x1="447.0" y1="400.2" x2="447.0" y2="404.0" stroke="#9a9a9a" stroke-width="0.8"/><text x="447.3" y="414.0" font-size="7.6" fill="#4a4a4a" text-anchor="middle">10<tspan font-size="5.2" dy="-3.3">5</tspan></text><line x1="278.9" y1="242.6" x2="283.0" y2="242.6" stroke="#9a9a9a" stroke-width="0.8"/><text x="275.2" y="245.3" font-size="7.6" fill="#4a4a4a" text-anchor="end">10<tspan font-size="5.2" dy="-3.3">5</tspan></text><text x="349.4" y="426.59999999999997" font-size="8.4" fill="#444444" textLength="51.7" lengthAdjust="spacingAndGlyphs">Cy5 intensity</text><text transform="translate(258.6,340.5) rotate(-90)" font-size="8.4" fill="#444444" textLength="51.4" lengthAdjust="spacingAndGlyphs">Cy3 intensity</text>
<g transform="translate(103.6,210.9)"><circle r="9.8" fill="#e7e4d6" stroke="#2aa352" stroke-width="1.0" stroke-dasharray="1 0.93"/><path d="M-2 0H7l-3.7 -3" fill="none" stroke="#6a6a6a" stroke-width="1.6" stroke-linejoin="bevel"/><polygon points="-4.00,-3.30 -3.09,-1.45 -1.05,-1.16 -2.53,0.28 -2.18,2.31 -4.00,1.35 -5.82,2.31 -5.47,0.28 -6.95,-1.16 -4.91,-1.45" fill="#b0b0b0"/></g>
<g transform="translate(228.2,294.6)"><circle r="9.8" fill="#e7e4d6" stroke="#1a6fbf" stroke-width="1.0" stroke-dasharray="1 0.93"/><path d="M-2 0H7l-3.7 -3" fill="none" stroke="#6a6a6a" stroke-width="1.6" stroke-linejoin="bevel"/><polygon points="-4.00,-3.30 -3.09,-1.45 -1.05,-1.16 -2.53,0.28 -2.18,2.31 -4.00,1.35 -5.82,2.31 -5.47,0.28 -6.95,-1.16 -4.91,-1.45" fill="#b0b0b0"/></g>
<g transform="translate(388,210.9)"><circle r="9.8" fill="#e7e4d6" stroke="#6a6a6a" stroke-width="1.0" stroke-dasharray="1 0.93"/><path d="M-2 0H7l-3.7 -3" fill="none" stroke="#6a6a6a" stroke-width="1.6" stroke-linejoin="bevel"/><polygon points="-4.00,-3.30 -3.09,-1.45 -1.05,-1.16 -2.53,0.28 -2.18,2.31 -4.00,1.35 -5.82,2.31 -5.47,0.28 -6.95,-1.16 -4.91,-1.45" fill="#f39a33"/></g>
<g transform="translate(480,349.6)"><circle r="9.8" fill="#e7e4d6" stroke="#6a6a6a" stroke-width="1.0" stroke-dasharray="1 0.93"/><path d="M-2 0H7l-3.7 -3" fill="none" stroke="#6a6a6a" stroke-width="1.6" stroke-linejoin="bevel"/><polygon points="-4.00,-3.30 -3.09,-1.45 -1.05,-1.16 -2.53,0.28 -2.18,2.31 -4.00,1.35 -5.82,2.31 -5.47,0.28 -6.95,-1.16 -4.91,-1.45" fill="#d2143a"/></g>
<line x1="535.4" y1="212.4" x2="535.4" y2="430.2" stroke="#9a9a9a" stroke-width="0.9"/>
<line x1="535.4" y1="430.2" x2="682.8" y2="430.2" stroke="#9a9a9a" stroke-width="0.9"/>
<line x1="531.4" y1="430.2" x2="535.4" y2="430.2" stroke="#9a9a9a" stroke-width="0.8"/>
<text x="528.5" y="432.8" font-size="7.4" fill="#4a4a4a" text-anchor="end">0</text>
<line x1="531.4" y1="386.6" x2="535.4" y2="386.6" stroke="#9a9a9a" stroke-width="0.8"/>
<text x="528.5" y="389.2" font-size="7.4" fill="#4a4a4a" text-anchor="end">0.2</text>
<line x1="531.4" y1="343.1" x2="535.4" y2="343.1" stroke="#9a9a9a" stroke-width="0.8"/>
<text x="528.5" y="345.7" font-size="7.4" fill="#4a4a4a" text-anchor="end">0.4</text>
<line x1="531.4" y1="299.5" x2="535.4" y2="299.5" stroke="#9a9a9a" stroke-width="0.8"/>
<text x="528.5" y="302.1" font-size="7.4" fill="#4a4a4a" text-anchor="end">0.6</text>
<line x1="531.4" y1="256.0" x2="535.4" y2="256.0" stroke="#9a9a9a" stroke-width="0.8"/>
<text x="528.5" y="258.6" font-size="7.4" fill="#4a4a4a" text-anchor="end">0.8</text>
<line x1="531.4" y1="212.4" x2="535.4" y2="212.4" stroke="#9a9a9a" stroke-width="0.8"/>
<text x="528.5" y="215.0" font-size="7.4" fill="#4a4a4a" text-anchor="end">1.0</text>
<line x1="573.6" y1="430.2" x2="573.6" y2="433.2" stroke="#9a9a9a" stroke-width="0.8"/>
<line x1="650.7" y1="430.2" x2="650.7" y2="433.2" stroke="#9a9a9a" stroke-width="0.8"/>
<text x="543.8" y="444.3" font-size="8.4" fill="#444444" textLength="60.3" lengthAdjust="spacingAndGlyphs">Mis-sorted files</text>
<text x="625.7" y="444.3" font-size="8.4" fill="#444444" textLength="49.8" lengthAdjust="spacingAndGlyphs">Intended file</text>
<text transform="translate(510.5,362.8) rotate(-90)" font-size="8.4" fill="#444444" textLength="83.0" lengthAdjust="spacingAndGlyphs">Fraction of total DNA</text>
<text x="572.2" y="199" font-size="8.4" fill="#444444" textLength="72.1" lengthAdjust="spacingAndGlyphs">Selectivity sorting</text>
<text x="566.2" y="215.3" font-size="8.4" fill="#444444" textLength="17.2" lengthAdjust="spacingAndGlyphs">8.4×</text>
<text x="586.8" y="215.3" font-size="8.4" fill="#444444" textLength="6.0" lengthAdjust="spacingAndGlyphs" font-style="italic">p</text>
<text x="594.5" y="215.3" font-size="8.4" fill="#444444" textLength="42.7" lengthAdjust="spacingAndGlyphs">= 0.00096</text>
<path d="M574.5 392.6V222.1H650.9V231" fill="none" stroke="#a0a0a0" stroke-width="0.9"/>
<line x1="612.5" y1="219" x2="612.5" y2="222.1" stroke="#a0a0a0" stroke-width="0.8"/>
<line x1="548.9" y1="411.5" x2="598.9" y2="411.5" stroke="#444" stroke-width="0.9"/>
<line x1="625.9" y1="267.5" x2="676" y2="267.5" stroke="#444" stroke-width="0.9"/>
<circle cx="574.8" cy="401.9" r="2.9" fill="#929292" stroke="#757575" stroke-width="0.5"/>
<circle cx="574.8" cy="406.1" r="2.9" fill="#929292" stroke="#757575" stroke-width="0.5"/>
<circle cx="574.8" cy="418.5" r="2.9" fill="#929292" stroke="#757575" stroke-width="0.5"/>
<circle cx="574.8" cy="422.1" r="2.9" fill="#929292" stroke="#757575" stroke-width="0.5"/>
<circle cx="650.8" cy="238.5" r="3.1" fill="#1c64b0"/>
<circle cx="650.8" cy="249.0" r="3.1" fill="#1c64b0"/>
<circle cx="650.8" cy="286.3" r="3.1" fill="#1c64b0"/>
<circle cx="650.8" cy="296.4" r="3.1" fill="#1c64b0"/>
</svg>
</body></html>
